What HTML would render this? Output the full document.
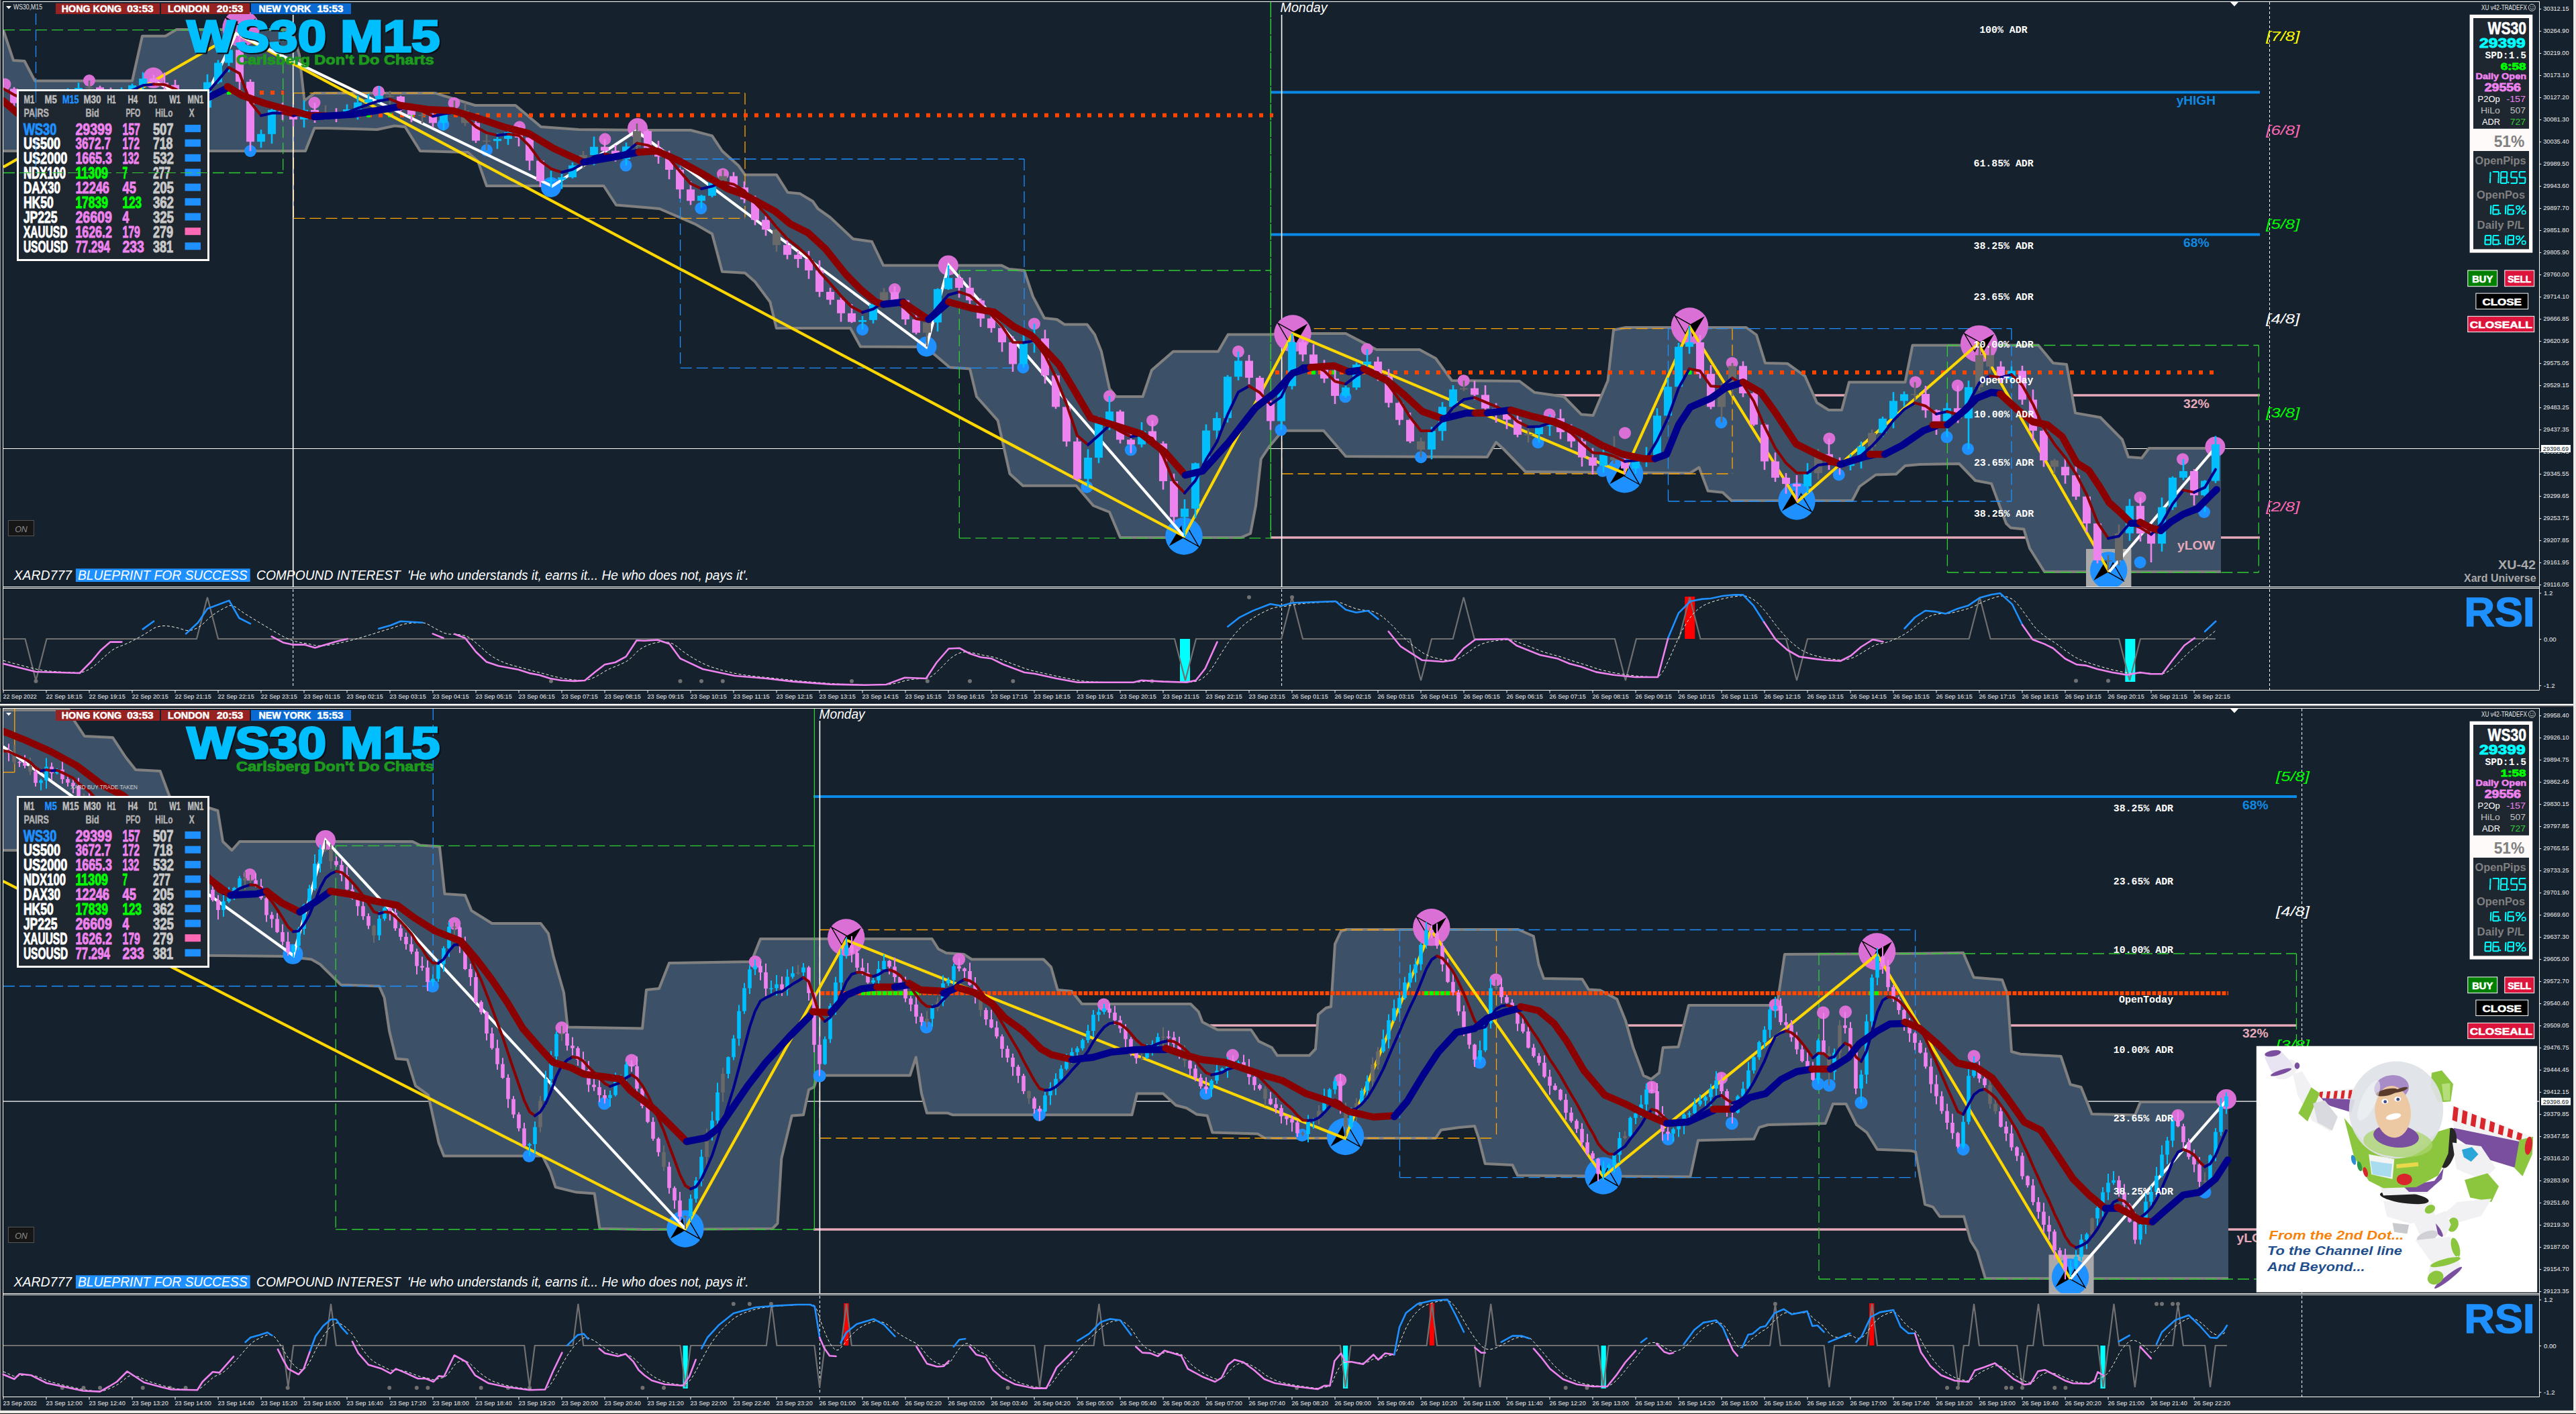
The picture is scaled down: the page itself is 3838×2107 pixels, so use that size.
<!DOCTYPE html>
<html><head><meta charset="utf-8"><title>WS30 M15</title>
<style>html,body{margin:0;padding:0;background:#15212d;width:3838px;height:2107px;overflow:hidden;font-family:"Liberation Sans",sans-serif}</style>
</head><body>
<svg width="3838" height="2107" viewBox="0 0 3838 2107" style="position:absolute;left:0;top:0">
<rect x="0.0" y="0.0" width="3838.0" height="2107.0" fill="#15212d"/>
<rect x="0.0" y="0.0" width="4.0" height="2107.0" fill="#0f1a26"/>
<rect x="0.0" y="0.0" width="1.3" height="2107.0" fill="#8c8c8c"/>
<rect x="0.0" y="1046.0" width="3834.0" height="9.0" fill="#111c28"/>
<rect x="0.0" y="1048.8" width="3834.0" height="2.6" fill="#ffffff"/>
<rect x="0.0" y="1051.4" width="3834.0" height="1.0" fill="#9a9a9a"/>
<rect x="0.0" y="1052.4" width="3834.0" height="1.0" fill="#4a4a4a"/>
<rect x="3834.0" y="0.0" width="4.0" height="2107.0" fill="#e6e4de"/>
<rect x="3835.3" y="0.0" width="1.2" height="2107.0" fill="#f6f5f2"/>
<rect x="0.0" y="2101.7" width="3838.0" height="4.3" fill="#e6e4de"/>
<rect x="0.0" y="2103.0" width="3836.0" height="1.2" fill="#f6f5f2"/>
<rect x="0.0" y="2106.0" width="3838.0" height="1.0" fill="#151515"/>
<defs><clipPath id="ct"><rect x="5" y="3" width="3778" height="871"/></clipPath><clipPath id="cb"><rect x="5" y="1056" width="3778" height="871"/></clipPath></defs>
<g id="top" clip-path="url(#ct)">
<line x1="5.0" y1="668.5" x2="3783.0" y2="668.5" stroke="#fff" stroke-width="1.2"/>
<line x1="1893.0" y1="137.5" x2="3367.0" y2="137.5" stroke="#0a8ae6" stroke-width="4"/>
<line x1="1893.0" y1="349.5" x2="3367.0" y2="349.5" stroke="#0a8ae6" stroke-width="4"/>
<line x1="2287.0" y1="589.0" x2="3367.0" y2="589.0" stroke="#e6a9b9" stroke-width="3.5"/>
<line x1="1893.0" y1="801.0" x2="3367.0" y2="801.0" stroke="#e6a9b9" stroke-width="3.5"/>
<polygon points="5.0,45.0 20.0,90.0 36.5,91.0 52.0,120.5 197.0,120.5 212.0,53.7 246.5,53.7 263.0,44.0 435.0,44.0 446.0,82.0 453.5,150.0 468.5,138.7 648.0,138.7 708.0,157.0 768.0,157.0 806.0,189.0 862.0,193.0 960.0,194.0 1029.0,194.0 1061.0,202.4 1076.0,225.0 1100.5,247.0 1110.0,260.5 1157.0,260.5 1173.6,286.7 1192.0,288.6 1211.0,300.0 1218.6,311.0 1237.0,324.0 1271.0,356.0 1299.0,360.0 1316.0,395.4 1492.0,395.4 1503.5,401.0 1526.0,403.0 1539.0,442.0 1556.0,474.0 1574.7,476.0 1586.0,483.5 1619.7,483.5 1631.0,498.5 1641.0,523.8 1653.0,579.0 1663.0,591.0 1702.6,591.0 1716.0,551.5 1748.0,523.8 1815.0,523.8 1829.6,498.5 1893.0,498.5 1908.8,497.0 2005.0,497.0 2051.0,521.0 2115.0,521.0 2139.0,534.0 2163.0,567.0 2264.0,568.0 2286.0,584.7 2330.0,591.0 2356.0,617.6 2373.6,619.0 2395.6,567.0 2404.0,491.7 2422.0,488.0 2601.7,488.0 2617.0,499.0 2630.0,541.0 2663.0,541.7 2689.4,560.6 2707.0,600.0 2724.5,611.0 2744.0,611.0 2755.0,569.4 2838.5,569.4 2849.5,514.5 2860.0,514.5 3037.0,514.5 3059.0,541.0 3079.0,543.0 3092.0,615.4 3129.4,622.0 3162.0,655.0 3171.0,681.0 3191.0,682.5 3201.7,668.0 3309.0,668.0 3309.0,852.0 3309.0,852.0 3046.0,852.0 3024.0,817.0 3015.4,788.6 2995.6,786.4 2989.0,780.0 2967.0,720.6 2943.0,716.0 2919.0,691.0 2860.0,692.0 2838.5,694.0 2825.0,706.6 2794.7,707.5 2770.5,725.0 2759.6,746.0 2579.8,746.0 2566.6,733.8 2544.7,731.6 2531.5,696.5 2518.0,705.0 2272.8,703.0 2240.0,669.0 2229.0,659.0 2215.8,681.0 2005.0,680.0 1972.0,641.7 1911.0,641.7 1890.7,666.0 1878.8,684.0 1871.0,753.5 1863.0,795.0 1849.0,801.0 1669.0,801.0 1653.0,763.0 1629.0,753.5 1603.5,723.8 1524.0,723.8 1504.5,706.0 1486.7,626.7 1455.0,591.0 1445.0,549.5 1415.0,547.5 1391.7,527.7 1380.0,517.0 1282.0,516.5 1267.0,489.0 1156.8,489.0 1147.4,450.0 1125.0,420.0 1110.0,406.7 1076.0,404.8 1061.0,348.6 1035.0,333.6 982.5,311.0 960.0,309.0 918.0,305.5 899.5,277.0 725.0,277.0 712.0,240.0 697.0,227.0 626.0,225.0 603.5,189.0 588.0,187.5 562.0,193.0 487.0,191.0 468.5,191.0 455.0,225.0 5.0,225.0" fill="#3c5167"/>
<polyline points="5.0,45.0 20.0,90.0 36.5,91.0 52.0,120.5 197.0,120.5 212.0,53.7 246.5,53.7 263.0,44.0 435.0,44.0 446.0,82.0 453.5,150.0 468.5,138.7 648.0,138.7 708.0,157.0 768.0,157.0 806.0,189.0 862.0,193.0 960.0,194.0 1029.0,194.0 1061.0,202.4 1076.0,225.0 1100.5,247.0 1110.0,260.5 1157.0,260.5 1173.6,286.7 1192.0,288.6 1211.0,300.0 1218.6,311.0 1237.0,324.0 1271.0,356.0 1299.0,360.0 1316.0,395.4 1492.0,395.4 1503.5,401.0 1526.0,403.0 1539.0,442.0 1556.0,474.0 1574.7,476.0 1586.0,483.5 1619.7,483.5 1631.0,498.5 1641.0,523.8 1653.0,579.0 1663.0,591.0 1702.6,591.0 1716.0,551.5 1748.0,523.8 1815.0,523.8 1829.6,498.5 1893.0,498.5 1908.8,497.0 2005.0,497.0 2051.0,521.0 2115.0,521.0 2139.0,534.0 2163.0,567.0 2264.0,568.0 2286.0,584.7 2330.0,591.0 2356.0,617.6 2373.6,619.0 2395.6,567.0 2404.0,491.7 2422.0,488.0 2601.7,488.0 2617.0,499.0 2630.0,541.0 2663.0,541.7 2689.4,560.6 2707.0,600.0 2724.5,611.0 2744.0,611.0 2755.0,569.4 2838.5,569.4 2849.5,514.5 2860.0,514.5 3037.0,514.5 3059.0,541.0 3079.0,543.0 3092.0,615.4 3129.4,622.0 3162.0,655.0 3171.0,681.0 3191.0,682.5 3201.7,668.0 3309.0,668.0" fill="none" stroke="#808080" stroke-width="4" stroke-linejoin="round"/>
<polyline points="5.0,225.0 455.0,225.0 468.5,191.0 487.0,191.0 562.0,193.0 588.0,187.5 603.5,189.0 626.0,225.0 697.0,227.0 712.0,240.0 725.0,277.0 899.5,277.0 918.0,305.5 960.0,309.0 982.5,311.0 1035.0,333.6 1061.0,348.6 1076.0,404.8 1110.0,406.7 1125.0,420.0 1147.4,450.0 1156.8,489.0 1267.0,489.0 1282.0,516.5 1380.0,517.0 1391.7,527.7 1415.0,547.5 1445.0,549.5 1455.0,591.0 1486.7,626.7 1504.5,706.0 1524.0,723.8 1603.5,723.8 1629.0,753.5 1653.0,763.0 1669.0,801.0 1849.0,801.0 1863.0,795.0 1871.0,753.5 1878.8,684.0 1890.7,666.0 1911.0,641.7 1972.0,641.7 2005.0,680.0 2215.8,681.0 2229.0,659.0 2240.0,669.0 2272.8,703.0 2518.0,705.0 2531.5,696.5 2544.7,731.6 2566.6,733.8 2579.8,746.0 2759.6,746.0 2770.5,725.0 2794.7,707.5 2825.0,706.6 2838.5,694.0 2860.0,692.0 2919.0,691.0 2943.0,716.0 2967.0,720.6 2989.0,780.0 2995.6,786.4 3015.4,788.6 3024.0,817.0 3046.0,852.0 3309.0,852.0" fill="none" stroke="#808080" stroke-width="4" stroke-linejoin="round"/>
<line x1="5.0" y1="44.6" x2="421.7" y2="44.6" stroke="#32cd32" stroke-width="1.3" stroke-dasharray="17 7"/>
<line x1="5.0" y1="257.5" x2="421.7" y2="257.5" stroke="#32cd32" stroke-width="1.3" stroke-dasharray="17 7"/>
<line x1="421.7" y1="44.6" x2="421.7" y2="257.5" stroke="#32cd32" stroke-width="1.3" stroke-dasharray="17 7"/>
<line x1="53.5" y1="20.0" x2="53.5" y2="257.5" stroke="#1e90ff" stroke-width="1.3" stroke-dasharray="17 7"/>
<line x1="437.4" y1="138.7" x2="1110.0" y2="138.7" stroke="#ffa500" stroke-width="1.3" stroke-dasharray="17 7"/>
<line x1="437.4" y1="325.3" x2="1110.0" y2="325.3" stroke="#ffa500" stroke-width="1.3" stroke-dasharray="17 7"/>
<line x1="437.4" y1="138.7" x2="437.4" y2="325.3" stroke="#ffa500" stroke-width="1.3" stroke-dasharray="17 7"/>
<line x1="1110.0" y1="138.7" x2="1110.0" y2="325.3" stroke="#ffa500" stroke-width="1.3" stroke-dasharray="17 7"/>
<line x1="1013.6" y1="237.0" x2="1526.0" y2="237.0" stroke="#1e90ff" stroke-width="1.3" stroke-dasharray="17 7"/>
<line x1="1013.6" y1="548.3" x2="1526.0" y2="548.3" stroke="#1e90ff" stroke-width="1.3" stroke-dasharray="17 7"/>
<line x1="1013.6" y1="237.0" x2="1013.6" y2="548.3" stroke="#1e90ff" stroke-width="1.3" stroke-dasharray="17 7"/>
<line x1="1526.0" y1="237.0" x2="1526.0" y2="548.3" stroke="#1e90ff" stroke-width="1.3" stroke-dasharray="17 7"/>
<line x1="1429.3" y1="403.0" x2="1893.3" y2="403.0" stroke="#32cd32" stroke-width="1.3" stroke-dasharray="17 7"/>
<line x1="1429.3" y1="801.8" x2="1893.3" y2="801.8" stroke="#32cd32" stroke-width="1.3" stroke-dasharray="17 7"/>
<line x1="1429.3" y1="403.0" x2="1429.3" y2="801.8" stroke="#32cd32" stroke-width="1.3" stroke-dasharray="17 7"/>
<line x1="1893.3" y1="2.0" x2="1893.3" y2="801.8" stroke="#32cd32" stroke-width="1.5" stroke-dasharray="24 1.5"/>
<line x1="1909.6" y1="489.6" x2="2581.0" y2="489.6" stroke="#ffa500" stroke-width="1.3" stroke-dasharray="17 7"/>
<line x1="1909.6" y1="706.0" x2="2581.0" y2="706.0" stroke="#ffa500" stroke-width="1.3" stroke-dasharray="17 7"/>
<line x1="1909.6" y1="489.6" x2="1909.6" y2="706.0" stroke="#ffa500" stroke-width="1.3" stroke-dasharray="17 7"/>
<line x1="2581.0" y1="489.6" x2="2581.0" y2="706.0" stroke="#ffa500" stroke-width="1.3" stroke-dasharray="17 7"/>
<line x1="2485.5" y1="489.6" x2="2997.0" y2="489.6" stroke="#1e90ff" stroke-width="1.3" stroke-dasharray="17 7"/>
<line x1="2485.5" y1="747.0" x2="2997.0" y2="747.0" stroke="#1e90ff" stroke-width="1.3" stroke-dasharray="17 7"/>
<line x1="2485.5" y1="489.6" x2="2485.5" y2="747.0" stroke="#1e90ff" stroke-width="1.3" stroke-dasharray="17 7"/>
<line x1="2997.0" y1="489.6" x2="2997.0" y2="747.0" stroke="#1e90ff" stroke-width="1.3" stroke-dasharray="17 7"/>
<line x1="2901.4" y1="514.5" x2="3365.3" y2="514.5" stroke="#32cd32" stroke-width="1.3" stroke-dasharray="17 7"/>
<line x1="2901.4" y1="853.0" x2="3365.3" y2="853.0" stroke="#32cd32" stroke-width="1.3" stroke-dasharray="17 7"/>
<line x1="2901.4" y1="514.5" x2="2901.4" y2="853.0" stroke="#32cd32" stroke-width="1.3" stroke-dasharray="17 7"/>
<line x1="3365.3" y1="514.5" x2="3365.3" y2="853.0" stroke="#32cd32" stroke-width="1.3" stroke-dasharray="17 7"/>
<line x1="19.0" y1="138.0" x2="423.0" y2="138.0" stroke="#ff4500" stroke-width="6" stroke-dasharray="6 10"/>
<line x1="468.0" y1="171.7" x2="1897.0" y2="171.7" stroke="#ff4500" stroke-width="6" stroke-dasharray="6 10"/>
<line x1="1900.0" y1="555.0" x2="3305.0" y2="555.0" stroke="#ff4500" stroke-width="6" stroke-dasharray="6 10"/>
<rect x="450.5" y="168.7" width="6.0" height="6.0" fill="#00ff00"/>
<rect x="482.4" y="168.7" width="6.0" height="6.0" fill="#00ff00"/>
<rect x="514.2" y="168.7" width="6.0" height="6.0" fill="#00ff00"/>
<rect x="546.0" y="168.7" width="6.0" height="6.0" fill="#00ff00"/>
<rect x="578.0" y="168.7" width="6.0" height="6.0" fill="#00ff00"/>
<rect x="609.8" y="168.7" width="6.0" height="6.0" fill="#00ff00"/>
<rect x="690.4" y="168.7" width="6.0" height="6.0" fill="#00ff00"/>
<rect x="338.0" y="135.0" width="6.0" height="6.0" fill="#00ff00"/>
<rect x="1954.0" y="552.0" width="6.0" height="6.0" fill="#00ff00"/>
<rect x="1969.4" y="552.0" width="6.0" height="6.0" fill="#00ff00"/>
<rect x="1984.7" y="552.0" width="6.0" height="6.0" fill="#00ff00"/>
<rect x="2514.5" y="552.0" width="6.0" height="6.0" fill="#00ff00"/>
<line x1="436.7" y1="22.0" x2="436.7" y2="874.0" stroke="#fff" stroke-width="1.6"/>
<line x1="1909.6" y1="22.0" x2="1909.6" y2="874.0" stroke="#fff" stroke-width="1.6"/>
<circle cx="359.0" cy="42.0" r="27.7" fill="#da70d6"/>
<path d="M337.0,26.7 L359.6,39.4 L352.6,53.4 Z" fill="none" stroke="#000" stroke-width="1.4" stroke-linejoin="miter"/>
<path d="M381.3,27.3 L359.6,39.4 L362.8,58.2 Z" fill="#000"/>
<circle cx="1926.0" cy="497.0" r="27.7" fill="#da70d6"/>
<path d="M1904.0,481.7 L1926.6,494.4 L1919.6,508.4 Z" fill="none" stroke="#000" stroke-width="1.4" stroke-linejoin="miter"/>
<path d="M1948.3,482.3 L1926.6,494.4 L1929.8,513.2 Z" fill="#000"/>
<circle cx="2517.5" cy="486.0" r="27.7" fill="#da70d6"/>
<path d="M2495.5,470.7 L2518.1,483.4 L2511.1,497.4 Z" fill="none" stroke="#000" stroke-width="1.4" stroke-linejoin="miter"/>
<path d="M2539.8,471.3 L2518.1,483.4 L2521.3,502.2 Z" fill="#000"/>
<circle cx="2948.7" cy="512.4" r="27.7" fill="#da70d6"/>
<path d="M2926.7,497.1 L2949.3,509.8 L2942.3,523.8 Z" fill="none" stroke="#000" stroke-width="1.4" stroke-linejoin="miter"/>
<path d="M2971.0,497.7 L2949.3,509.8 L2952.5,528.6 Z" fill="#000"/>
<rect x="3108.0" y="818.0" width="67.4" height="56.0" fill="#a9a9a9"/>
<circle cx="1764.0" cy="799.0" r="27.7" fill="#1e90ff"/>
<path d="M1786.0,814.3 L1763.4,801.6 L1770.4,787.6 Z" fill="none" stroke="#000" stroke-width="1.4" stroke-linejoin="miter"/>
<path d="M1741.7,813.7 L1763.4,801.6 L1760.2,782.8 Z" fill="#000"/>
<circle cx="2420.6" cy="706.7" r="27.7" fill="#1e90ff"/>
<path d="M2442.6,722.0 L2420.0,709.3 L2427.0,695.3 Z" fill="none" stroke="#000" stroke-width="1.4" stroke-linejoin="miter"/>
<path d="M2398.3,721.4 L2420.0,709.3 L2416.8,690.5 Z" fill="#000"/>
<circle cx="2677.0" cy="747.0" r="27.7" fill="#1e90ff"/>
<path d="M2699.0,762.3 L2676.4,749.6 L2683.4,735.6 Z" fill="none" stroke="#000" stroke-width="1.4" stroke-linejoin="miter"/>
<path d="M2654.7,761.7 L2676.4,749.6 L2673.2,730.8 Z" fill="#000"/>
<circle cx="3141.7" cy="850.0" r="27.7" fill="#1e90ff"/>
<path d="M3163.7,865.3 L3141.1,852.6 L3148.1,838.6 Z" fill="none" stroke="#000" stroke-width="1.4" stroke-linejoin="miter"/>
<path d="M3119.4,864.7 L3141.1,852.6 L3137.9,833.8 Z" fill="#000"/>
<circle cx="7.5" cy="125.6" r="9.0" fill="#da70d6"/>
<circle cx="133.0" cy="120.0" r="9.0" fill="#da70d6"/>
<circle cx="228.6" cy="116.0" r="15.5" fill="#da70d6"/>
<circle cx="373.0" cy="225.0" r="9.0" fill="#1e90ff"/>
<circle cx="468.5" cy="153.0" r="9.0" fill="#da70d6"/>
<circle cx="564.0" cy="136.8" r="9.0" fill="#da70d6"/>
<circle cx="660.4" cy="185.5" r="9.0" fill="#1e90ff"/>
<circle cx="676.5" cy="153.7" r="9.0" fill="#da70d6"/>
<circle cx="725.0" cy="223.8" r="9.0" fill="#1e90ff"/>
<circle cx="774.0" cy="189.3" r="9.0" fill="#da70d6"/>
<circle cx="821.0" cy="279.0" r="15.0" fill="#1e90ff"/>
<circle cx="901.4" cy="207.3" r="9.0" fill="#da70d6"/>
<circle cx="932.5" cy="246.6" r="9.0" fill="#1e90ff"/>
<circle cx="950.0" cy="191.0" r="15.0" fill="#da70d6"/>
<circle cx="1044.3" cy="310.3" r="9.0" fill="#1e90ff"/>
<circle cx="1077.0" cy="259.4" r="9.0" fill="#da70d6"/>
<circle cx="1285.0" cy="491.0" r="9.0" fill="#1e90ff"/>
<circle cx="1333.0" cy="431.0" r="9.0" fill="#da70d6"/>
<circle cx="1380.5" cy="516.5" r="15.0" fill="#1e90ff"/>
<circle cx="1412.8" cy="395.4" r="15.0" fill="#da70d6"/>
<circle cx="1524.4" cy="547.5" r="9.0" fill="#1e90ff"/>
<circle cx="1541.0" cy="482.4" r="9.0" fill="#da70d6"/>
<circle cx="1619.4" cy="725.7" r="9.0" fill="#1e90ff"/>
<circle cx="1653.0" cy="590.3" r="9.0" fill="#da70d6"/>
<circle cx="1684.8" cy="670.3" r="9.0" fill="#1e90ff"/>
<circle cx="1717.0" cy="626.7" r="9.0" fill="#da70d6"/>
<circle cx="1845.0" cy="523.8" r="9.0" fill="#da70d6"/>
<circle cx="1908.5" cy="640.6" r="9.0" fill="#1e90ff"/>
<circle cx="2004.4" cy="591.3" r="9.0" fill="#1e90ff"/>
<circle cx="2036.8" cy="520.3" r="9.0" fill="#da70d6"/>
<circle cx="2117.0" cy="681.2" r="9.0" fill="#1e90ff"/>
<circle cx="2180.7" cy="567.2" r="9.0" fill="#da70d6"/>
<circle cx="2291.6" cy="659.3" r="9.0" fill="#1e90ff"/>
<circle cx="2308.7" cy="617.6" r="9.0" fill="#da70d6"/>
<circle cx="2387.7" cy="701.8" r="9.0" fill="#1e90ff"/>
<circle cx="2564.4" cy="629.5" r="9.0" fill="#1e90ff"/>
<circle cx="2580.6" cy="540.9" r="9.0" fill="#da70d6"/>
<circle cx="2725.4" cy="653.6" r="9.0" fill="#da70d6"/>
<circle cx="2739.8" cy="707.5" r="9.0" fill="#1e90ff"/>
<circle cx="2853.9" cy="569.4" r="9.0" fill="#da70d6"/>
<circle cx="2900.5" cy="651.3" r="9.0" fill="#1e90ff"/>
<circle cx="2916.7" cy="574.6" r="9.0" fill="#da70d6"/>
<circle cx="2932.0" cy="668.9" r="9.0" fill="#1e90ff"/>
<circle cx="3188.6" cy="741.2" r="9.0" fill="#da70d6"/>
<circle cx="3252.0" cy="684.2" r="9.0" fill="#da70d6"/>
<circle cx="3284.0" cy="763.0" r="9.0" fill="#1e90ff"/>
<circle cx="3300.4" cy="665.8" r="15.0" fill="#da70d6"/>
<circle cx="2421.0" cy="645.2" r="9.0" fill="#da70d6"/>
<circle cx="3188.6" cy="838.0" r="9.0" fill="#1e90ff"/>
<polyline points="5.0,249.0 352.0,50.0 1764.0,799.0 1926.0,497.0 2419.7,705.0 2518.0,488.0 2678.5,747.0 2947.4,512.0 3142.5,852.0" fill="none" stroke="#ffd700" stroke-width="4.2" stroke-linejoin="miter"/>
<polyline points="232.0,122.0 300.0,158.0 352.0,50.0 822.7,277.4 948.0,195.0 1380.0,517.0 1413.5,395.4 1764.0,799.0" fill="none" stroke="#fff" stroke-width="4.2"/>
<polyline points="3142.5,852.0 3300.0,668.0" fill="none" stroke="#fff" stroke-width="4.2"/>
<rect x="19.7" y="129.8" width="2.6" height="38.9" fill="#ee82ee"/>
<rect x="15.0" y="132.3" width="12" height="21.4" fill="#ee82ee"/>
<rect x="35.7" y="147.9" width="2.6" height="14.8" fill="#ee82ee"/>
<rect x="31.0" y="153.7" width="12" height="3.1" fill="#ee82ee"/>
<rect x="51.7" y="144.4" width="2.6" height="37.6" fill="#696969"/>
<rect x="47.0" y="156.8" width="12" height="23.9" fill="#696969"/>
<rect x="67.7" y="149.7" width="2.6" height="40.4" fill="#00bfff"/>
<rect x="63.0" y="161.1" width="12" height="19.6" fill="#00bfff"/>
<rect x="83.7" y="133.1" width="2.6" height="31.2" fill="#00bfff"/>
<rect x="79.0" y="142.3" width="12" height="18.9" fill="#00bfff"/>
<rect x="99.7" y="131.5" width="2.6" height="25.7" fill="#00bfff"/>
<rect x="95.0" y="138.9" width="12" height="3.4" fill="#00bfff"/>
<rect x="115.7" y="123.3" width="2.6" height="22.7" fill="#00bfff"/>
<rect x="111.0" y="131.0" width="12" height="7.9" fill="#00bfff"/>
<rect x="131.7" y="120.0" width="2.6" height="24.0" fill="#696969"/>
<rect x="127.0" y="130.2" width="12" height="1.5" fill="#696969"/>
<rect x="147.7" y="127.7" width="2.6" height="15.2" fill="#ee82ee"/>
<rect x="143.0" y="130.2" width="12" height="7.3" fill="#ee82ee"/>
<rect x="163.7" y="130.5" width="2.6" height="18.2" fill="#ee82ee"/>
<rect x="159.0" y="137.5" width="12" height="9.9" fill="#ee82ee"/>
<rect x="179.7" y="130.2" width="2.6" height="24.1" fill="#00bfff"/>
<rect x="175.0" y="138.1" width="12" height="9.3" fill="#00bfff"/>
<rect x="195.7" y="124.6" width="2.6" height="18.4" fill="#00bfff"/>
<rect x="191.0" y="127.2" width="12" height="10.9" fill="#00bfff"/>
<rect x="211.7" y="107.6" width="2.6" height="29.2" fill="#00bfff"/>
<rect x="207.0" y="117.1" width="12" height="10.1" fill="#00bfff"/>
<rect x="227.7" y="111.4" width="2.6" height="13.1" fill="#ee82ee"/>
<rect x="223.0" y="117.1" width="12" height="6.2" fill="#ee82ee"/>
<rect x="243.7" y="108.3" width="2.6" height="26.5" fill="#ee82ee"/>
<rect x="239.0" y="123.3" width="12" height="3.4" fill="#ee82ee"/>
<rect x="259.7" y="118.9" width="2.6" height="31.1" fill="#ee82ee"/>
<rect x="255.0" y="126.7" width="12" height="14.6" fill="#ee82ee"/>
<rect x="275.7" y="138.6" width="2.6" height="19.2" fill="#ee82ee"/>
<rect x="271.0" y="141.3" width="12" height="11.7" fill="#ee82ee"/>
<rect x="291.7" y="152.0" width="2.6" height="17.4" fill="#ee82ee"/>
<rect x="287.0" y="153.0" width="12" height="7.5" fill="#ee82ee"/>
<rect x="307.7" y="110.7" width="2.6" height="64.0" fill="#00bfff"/>
<rect x="303.0" y="122.5" width="12" height="38.0" fill="#00bfff"/>
<rect x="323.7" y="89.4" width="2.6" height="35.3" fill="#00bfff"/>
<rect x="319.0" y="93.6" width="12" height="28.9" fill="#00bfff"/>
<rect x="339.7" y="59.9" width="2.6" height="47.6" fill="#00bfff"/>
<rect x="335.0" y="74.4" width="12" height="19.2" fill="#00bfff"/>
<rect x="355.7" y="48.0" width="2.6" height="85.9" fill="#ee82ee"/>
<rect x="351.0" y="74.4" width="12" height="47.4" fill="#ee82ee"/>
<rect x="371.7" y="118.2" width="2.6" height="106.8" fill="#ee82ee"/>
<rect x="367.0" y="121.9" width="12" height="89.3" fill="#ee82ee"/>
<rect x="387.7" y="193.2" width="2.6" height="26.9" fill="#00bfff"/>
<rect x="383.0" y="199.7" width="12" height="11.5" fill="#00bfff"/>
<rect x="403.7" y="158.8" width="2.6" height="55.2" fill="#00bfff"/>
<rect x="399.0" y="163.8" width="12" height="36.0" fill="#00bfff"/>
<rect x="419.7" y="153.0" width="2.6" height="25.9" fill="#ee82ee"/>
<rect x="415.0" y="163.8" width="12" height="4.5" fill="#ee82ee"/>
<rect x="435.7" y="166.1" width="2.6" height="22.4" fill="#ee82ee"/>
<rect x="431.0" y="168.3" width="12" height="9.7" fill="#ee82ee"/>
<rect x="451.7" y="149.9" width="2.6" height="40.1" fill="#00bfff"/>
<rect x="447.0" y="163.8" width="12" height="14.2" fill="#00bfff"/>
<rect x="467.7" y="153.0" width="2.6" height="30.0" fill="#ee82ee"/>
<rect x="463.0" y="163.8" width="12" height="5.0" fill="#ee82ee"/>
<rect x="483.7" y="156.9" width="2.6" height="22.1" fill="#696969"/>
<rect x="479.0" y="168.8" width="12" height="1.6" fill="#696969"/>
<rect x="499.7" y="161.2" width="2.6" height="20.8" fill="#ee82ee"/>
<rect x="495.0" y="170.4" width="12" height="2.2" fill="#ee82ee"/>
<rect x="515.7" y="155.5" width="2.6" height="19.0" fill="#00bfff"/>
<rect x="511.0" y="163.0" width="12" height="9.7" fill="#00bfff"/>
<rect x="531.7" y="142.3" width="2.6" height="35.8" fill="#00bfff"/>
<rect x="527.0" y="152.6" width="12" height="10.4" fill="#00bfff"/>
<rect x="547.7" y="139.9" width="2.6" height="17.1" fill="#00bfff"/>
<rect x="543.0" y="148.0" width="12" height="4.7" fill="#00bfff"/>
<rect x="563.7" y="128.2" width="2.6" height="25.5" fill="#00bfff"/>
<rect x="559.0" y="142.7" width="12" height="5.2" fill="#00bfff"/>
<rect x="579.7" y="135.7" width="2.6" height="19.8" fill="#696969"/>
<rect x="575.0" y="142.7" width="12" height="1.5" fill="#696969"/>
<rect x="595.7" y="142.7" width="2.6" height="23.5" fill="#ee82ee"/>
<rect x="591.0" y="143.9" width="12" height="19.4" fill="#ee82ee"/>
<rect x="611.7" y="156.5" width="2.6" height="25.5" fill="#ee82ee"/>
<rect x="607.0" y="163.3" width="12" height="7.8" fill="#ee82ee"/>
<rect x="627.7" y="162.0" width="2.6" height="22.0" fill="#696969"/>
<rect x="623.0" y="171.1" width="12" height="1.5" fill="#696969"/>
<rect x="643.7" y="161.0" width="2.6" height="28.5" fill="#ee82ee"/>
<rect x="639.0" y="171.9" width="12" height="11.4" fill="#ee82ee"/>
<rect x="659.7" y="159.6" width="2.6" height="34.8" fill="#00bfff"/>
<rect x="655.0" y="164.9" width="12" height="18.4" fill="#00bfff"/>
<rect x="675.7" y="149.7" width="2.6" height="18.8" fill="#696969"/>
<rect x="671.0" y="164.7" width="12" height="1.5" fill="#696969"/>
<rect x="691.7" y="153.0" width="2.6" height="34.6" fill="#696969"/>
<rect x="687.0" y="164.7" width="12" height="18.6" fill="#696969"/>
<rect x="707.7" y="174.2" width="2.6" height="38.8" fill="#ee82ee"/>
<rect x="703.0" y="183.3" width="12" height="26.3" fill="#ee82ee"/>
<rect x="723.7" y="196.3" width="2.6" height="27.5" fill="#696969"/>
<rect x="719.0" y="209.6" width="12" height="1.5" fill="#696969"/>
<rect x="739.7" y="198.4" width="2.6" height="23.4" fill="#00bfff"/>
<rect x="735.0" y="206.9" width="12" height="3.3" fill="#00bfff"/>
<rect x="755.7" y="187.7" width="2.6" height="28.1" fill="#00bfff"/>
<rect x="751.0" y="197.0" width="12" height="9.9" fill="#00bfff"/>
<rect x="771.7" y="187.3" width="2.6" height="30.8" fill="#ee82ee"/>
<rect x="767.0" y="197.0" width="12" height="8.0" fill="#ee82ee"/>
<rect x="787.7" y="200.3" width="2.6" height="53.6" fill="#ee82ee"/>
<rect x="783.0" y="205.0" width="12" height="34.4" fill="#ee82ee"/>
<rect x="803.7" y="237.0" width="2.6" height="41.6" fill="#ee82ee"/>
<rect x="799.0" y="239.4" width="12" height="30.4" fill="#ee82ee"/>
<rect x="819.7" y="254.3" width="2.6" height="24.7" fill="#00bfff"/>
<rect x="815.0" y="267.8" width="12" height="2.0" fill="#00bfff"/>
<rect x="835.7" y="255.3" width="2.6" height="26.2" fill="#00bfff"/>
<rect x="831.0" y="264.3" width="12" height="3.6" fill="#00bfff"/>
<rect x="851.7" y="242.1" width="2.6" height="23.8" fill="#00bfff"/>
<rect x="847.0" y="246.5" width="12" height="17.7" fill="#00bfff"/>
<rect x="867.7" y="225.1" width="2.6" height="26.1" fill="#696969"/>
<rect x="863.0" y="231.0" width="12" height="15.6" fill="#696969"/>
<rect x="883.7" y="203.6" width="2.6" height="42.6" fill="#00bfff"/>
<rect x="879.0" y="218.8" width="12" height="12.2" fill="#00bfff"/>
<rect x="899.7" y="207.3" width="2.6" height="32.5" fill="#ee82ee"/>
<rect x="895.0" y="218.8" width="12" height="5.8" fill="#ee82ee"/>
<rect x="915.7" y="216.3" width="2.6" height="24.4" fill="#ee82ee"/>
<rect x="911.0" y="224.6" width="12" height="12.7" fill="#ee82ee"/>
<rect x="931.7" y="212.5" width="2.6" height="34.1" fill="#00bfff"/>
<rect x="927.0" y="218.4" width="12" height="18.9" fill="#00bfff"/>
<rect x="947.7" y="184.0" width="2.6" height="47.9" fill="#696969"/>
<rect x="943.0" y="195.2" width="12" height="23.2" fill="#696969"/>
<rect x="963.7" y="192.9" width="2.6" height="34.3" fill="#ee82ee"/>
<rect x="959.0" y="195.2" width="12" height="25.1" fill="#ee82ee"/>
<rect x="979.7" y="209.8" width="2.6" height="34.1" fill="#ee82ee"/>
<rect x="975.0" y="220.3" width="12" height="13.1" fill="#ee82ee"/>
<rect x="995.7" y="224.6" width="2.6" height="42.5" fill="#ee82ee"/>
<rect x="991.0" y="233.5" width="12" height="19.5" fill="#ee82ee"/>
<rect x="1011.7" y="250.0" width="2.6" height="45.9" fill="#ee82ee"/>
<rect x="1007.0" y="252.9" width="12" height="29.4" fill="#ee82ee"/>
<rect x="1027.7" y="270.0" width="2.6" height="35.4" fill="#ee82ee"/>
<rect x="1023.0" y="282.3" width="12" height="17.0" fill="#ee82ee"/>
<rect x="1043.7" y="290.3" width="2.6" height="20.0" fill="#00bfff"/>
<rect x="1039.0" y="291.6" width="12" height="7.7" fill="#00bfff"/>
<rect x="1059.7" y="262.5" width="2.6" height="31.6" fill="#00bfff"/>
<rect x="1055.0" y="272.5" width="12" height="19.2" fill="#00bfff"/>
<rect x="1075.7" y="253.3" width="2.6" height="22.5" fill="#696969"/>
<rect x="1071.0" y="262.5" width="12" height="10.0" fill="#696969"/>
<rect x="1091.7" y="256.5" width="2.6" height="29.0" fill="#ee82ee"/>
<rect x="1087.0" y="262.5" width="12" height="16.8" fill="#ee82ee"/>
<rect x="1107.7" y="270.3" width="2.6" height="32.3" fill="#ee82ee"/>
<rect x="1103.0" y="279.3" width="12" height="17.8" fill="#ee82ee"/>
<rect x="1123.7" y="291.6" width="2.6" height="43.8" fill="#ee82ee"/>
<rect x="1119.0" y="297.1" width="12" height="30.5" fill="#ee82ee"/>
<rect x="1139.7" y="321.7" width="2.6" height="29.6" fill="#ee82ee"/>
<rect x="1135.0" y="327.6" width="12" height="14.6" fill="#ee82ee"/>
<rect x="1155.7" y="335.5" width="2.6" height="39.7" fill="#696969"/>
<rect x="1151.0" y="342.2" width="12" height="23.0" fill="#696969"/>
<rect x="1171.7" y="353.8" width="2.6" height="32.6" fill="#ee82ee"/>
<rect x="1167.0" y="365.2" width="12" height="14.5" fill="#ee82ee"/>
<rect x="1187.7" y="373.9" width="2.6" height="25.2" fill="#ee82ee"/>
<rect x="1183.0" y="379.7" width="12" height="6.2" fill="#ee82ee"/>
<rect x="1203.7" y="374.0" width="2.6" height="41.6" fill="#ee82ee"/>
<rect x="1199.0" y="385.8" width="12" height="17.1" fill="#ee82ee"/>
<rect x="1219.7" y="388.1" width="2.6" height="54.4" fill="#ee82ee"/>
<rect x="1215.0" y="402.9" width="12" height="32.0" fill="#ee82ee"/>
<rect x="1235.7" y="428.8" width="2.6" height="25.3" fill="#ee82ee"/>
<rect x="1231.0" y="434.9" width="12" height="11.8" fill="#ee82ee"/>
<rect x="1251.7" y="442.0" width="2.6" height="37.5" fill="#ee82ee"/>
<rect x="1247.0" y="446.7" width="12" height="20.1" fill="#ee82ee"/>
<rect x="1267.7" y="453.0" width="2.6" height="28.2" fill="#ee82ee"/>
<rect x="1263.0" y="466.8" width="12" height="12.9" fill="#ee82ee"/>
<rect x="1283.7" y="470.9" width="2.6" height="20.1" fill="#00bfff"/>
<rect x="1279.0" y="477.0" width="12" height="2.7" fill="#00bfff"/>
<rect x="1299.7" y="445.1" width="2.6" height="36.9" fill="#00bfff"/>
<rect x="1295.0" y="453.6" width="12" height="23.3" fill="#00bfff"/>
<rect x="1315.7" y="429.3" width="2.6" height="26.6" fill="#696969"/>
<rect x="1311.0" y="435.3" width="12" height="18.3" fill="#696969"/>
<rect x="1331.7" y="426.7" width="2.6" height="22.8" fill="#ee82ee"/>
<rect x="1327.0" y="435.3" width="12" height="12.1" fill="#ee82ee"/>
<rect x="1347.7" y="445.9" width="2.6" height="38.1" fill="#ee82ee"/>
<rect x="1343.0" y="447.4" width="12" height="28.5" fill="#ee82ee"/>
<rect x="1363.7" y="468.7" width="2.6" height="29.6" fill="#ee82ee"/>
<rect x="1359.0" y="475.9" width="12" height="19.8" fill="#ee82ee"/>
<rect x="1379.7" y="472.6" width="2.6" height="43.9" fill="#696969"/>
<rect x="1375.0" y="480.5" width="12" height="15.2" fill="#696969"/>
<rect x="1395.7" y="429.5" width="2.6" height="64.4" fill="#00bfff"/>
<rect x="1391.0" y="430.8" width="12" height="49.7" fill="#00bfff"/>
<rect x="1411.7" y="395.4" width="2.6" height="36.5" fill="#00bfff"/>
<rect x="1407.0" y="414.2" width="12" height="16.6" fill="#00bfff"/>
<rect x="1427.7" y="409.2" width="2.6" height="34.1" fill="#ee82ee"/>
<rect x="1423.0" y="414.2" width="12" height="14.7" fill="#ee82ee"/>
<rect x="1443.7" y="413.5" width="2.6" height="39.6" fill="#ee82ee"/>
<rect x="1439.0" y="428.8" width="12" height="18.7" fill="#ee82ee"/>
<rect x="1459.7" y="444.6" width="2.6" height="42.5" fill="#ee82ee"/>
<rect x="1455.0" y="447.6" width="12" height="27.0" fill="#ee82ee"/>
<rect x="1475.7" y="471.4" width="2.6" height="24.2" fill="#ee82ee"/>
<rect x="1471.0" y="474.5" width="12" height="14.4" fill="#ee82ee"/>
<rect x="1491.7" y="485.9" width="2.6" height="38.4" fill="#ee82ee"/>
<rect x="1487.0" y="488.9" width="12" height="21.2" fill="#ee82ee"/>
<rect x="1507.7" y="501.0" width="2.6" height="53.0" fill="#ee82ee"/>
<rect x="1503.0" y="510.1" width="12" height="32.4" fill="#ee82ee"/>
<rect x="1523.7" y="496.5" width="2.6" height="51.0" fill="#00bfff"/>
<rect x="1519.0" y="511.4" width="12" height="31.1" fill="#00bfff"/>
<rect x="1539.7" y="482.4" width="2.6" height="43.1" fill="#00bfff"/>
<rect x="1535.0" y="504.3" width="12" height="7.0" fill="#00bfff"/>
<rect x="1555.7" y="491.4" width="2.6" height="80.2" fill="#ee82ee"/>
<rect x="1551.0" y="504.3" width="12" height="55.1" fill="#ee82ee"/>
<rect x="1571.7" y="557.3" width="2.6" height="51.9" fill="#ee82ee"/>
<rect x="1567.0" y="559.4" width="12" height="46.9" fill="#ee82ee"/>
<rect x="1587.7" y="594.2" width="2.6" height="71.2" fill="#ee82ee"/>
<rect x="1583.0" y="606.4" width="12" height="51.5" fill="#ee82ee"/>
<rect x="1603.7" y="651.7" width="2.6" height="64.8" fill="#ee82ee"/>
<rect x="1599.0" y="657.8" width="12" height="55.8" fill="#ee82ee"/>
<rect x="1619.7" y="669.4" width="2.6" height="56.3" fill="#00bfff"/>
<rect x="1615.0" y="682.0" width="12" height="31.6" fill="#00bfff"/>
<rect x="1635.7" y="620.6" width="2.6" height="69.6" fill="#00bfff"/>
<rect x="1631.0" y="629.2" width="12" height="52.8" fill="#00bfff"/>
<rect x="1651.7" y="590.3" width="2.6" height="50.5" fill="#00bfff"/>
<rect x="1647.0" y="613.2" width="12" height="16.0" fill="#00bfff"/>
<rect x="1667.7" y="610.7" width="2.6" height="50.1" fill="#ee82ee"/>
<rect x="1663.0" y="613.2" width="12" height="42.1" fill="#ee82ee"/>
<rect x="1683.7" y="639.9" width="2.6" height="35.3" fill="#ee82ee"/>
<rect x="1679.0" y="655.2" width="12" height="7.1" fill="#ee82ee"/>
<rect x="1699.7" y="629.1" width="2.6" height="37.5" fill="#00bfff"/>
<rect x="1695.0" y="642.5" width="12" height="19.8" fill="#00bfff"/>
<rect x="1715.7" y="626.7" width="2.6" height="36.3" fill="#ee82ee"/>
<rect x="1711.0" y="642.5" width="12" height="18.3" fill="#ee82ee"/>
<rect x="1731.7" y="657.6" width="2.6" height="72.0" fill="#ee82ee"/>
<rect x="1727.0" y="660.9" width="12" height="56.1" fill="#ee82ee"/>
<rect x="1747.7" y="705.7" width="2.6" height="72.8" fill="#ee82ee"/>
<rect x="1743.0" y="717.0" width="12" height="53.4" fill="#ee82ee"/>
<rect x="1763.7" y="744.1" width="2.6" height="54.9" fill="#00bfff"/>
<rect x="1759.0" y="757.9" width="12" height="12.5" fill="#00bfff"/>
<rect x="1779.7" y="689.2" width="2.6" height="82.5" fill="#00bfff"/>
<rect x="1775.0" y="690.3" width="12" height="67.6" fill="#00bfff"/>
<rect x="1795.7" y="632.4" width="2.6" height="64.2" fill="#00bfff"/>
<rect x="1791.0" y="641.5" width="12" height="48.8" fill="#00bfff"/>
<rect x="1811.7" y="614.3" width="2.6" height="40.7" fill="#00bfff"/>
<rect x="1807.0" y="623.0" width="12" height="18.5" fill="#00bfff"/>
<rect x="1827.7" y="558.9" width="2.6" height="70.6" fill="#00bfff"/>
<rect x="1823.0" y="561.3" width="12" height="61.7" fill="#00bfff"/>
<rect x="1843.7" y="523.8" width="2.6" height="43.0" fill="#00bfff"/>
<rect x="1839.0" y="537.6" width="12" height="23.7" fill="#00bfff"/>
<rect x="1859.7" y="528.9" width="2.6" height="43.6" fill="#ee82ee"/>
<rect x="1855.0" y="537.6" width="12" height="25.3" fill="#ee82ee"/>
<rect x="1875.7" y="560.1" width="2.6" height="46.5" fill="#ee82ee"/>
<rect x="1871.0" y="562.9" width="12" height="35.5" fill="#ee82ee"/>
<rect x="1891.7" y="588.6" width="2.6" height="52.0" fill="#ee82ee"/>
<rect x="1887.0" y="598.4" width="12" height="29.0" fill="#ee82ee"/>
<rect x="1907.7" y="568.6" width="2.6" height="72.0" fill="#00bfff"/>
<rect x="1903.0" y="575.3" width="12" height="52.2" fill="#00bfff"/>
<rect x="1923.7" y="497.0" width="2.6" height="83.3" fill="#00bfff"/>
<rect x="1919.0" y="509.7" width="12" height="65.6" fill="#00bfff"/>
<rect x="1939.7" y="505.9" width="2.6" height="32.6" fill="#ee82ee"/>
<rect x="1935.0" y="509.7" width="12" height="18.6" fill="#ee82ee"/>
<rect x="1955.7" y="513.0" width="2.6" height="39.1" fill="#ee82ee"/>
<rect x="1951.0" y="528.3" width="12" height="15.9" fill="#ee82ee"/>
<rect x="1971.7" y="536.3" width="2.6" height="34.3" fill="#ee82ee"/>
<rect x="1967.0" y="544.2" width="12" height="19.9" fill="#ee82ee"/>
<rect x="1987.7" y="549.5" width="2.6" height="52.5" fill="#ee82ee"/>
<rect x="1983.0" y="564.2" width="12" height="25.7" fill="#ee82ee"/>
<rect x="2003.7" y="572.4" width="2.6" height="20.1" fill="#00bfff"/>
<rect x="1999.0" y="577.4" width="12" height="12.5" fill="#00bfff"/>
<rect x="2019.7" y="540.0" width="2.6" height="40.9" fill="#00bfff"/>
<rect x="2015.0" y="543.2" width="12" height="34.2" fill="#00bfff"/>
<rect x="2035.7" y="520.3" width="2.6" height="28.2" fill="#00bfff"/>
<rect x="2031.0" y="538.8" width="12" height="4.4" fill="#00bfff"/>
<rect x="2051.7" y="531.6" width="2.6" height="35.9" fill="#ee82ee"/>
<rect x="2047.0" y="538.8" width="12" height="22.1" fill="#ee82ee"/>
<rect x="2067.7" y="549.9" width="2.6" height="57.2" fill="#ee82ee"/>
<rect x="2063.0" y="560.9" width="12" height="39.4" fill="#ee82ee"/>
<rect x="2083.7" y="596.1" width="2.6" height="37.4" fill="#ee82ee"/>
<rect x="2079.0" y="600.3" width="12" height="25.4" fill="#ee82ee"/>
<rect x="2099.7" y="614.8" width="2.6" height="45.5" fill="#ee82ee"/>
<rect x="2095.0" y="625.7" width="12" height="32.0" fill="#ee82ee"/>
<rect x="2115.7" y="652.2" width="2.6" height="29.0" fill="#696969"/>
<rect x="2111.0" y="657.7" width="12" height="12.2" fill="#696969"/>
<rect x="2131.7" y="636.1" width="2.6" height="48.3" fill="#00bfff"/>
<rect x="2127.0" y="642.3" width="12" height="27.5" fill="#00bfff"/>
<rect x="2147.7" y="599.2" width="2.6" height="57.5" fill="#00bfff"/>
<rect x="2143.0" y="606.2" width="12" height="36.1" fill="#00bfff"/>
<rect x="2163.7" y="574.0" width="2.6" height="36.3" fill="#00bfff"/>
<rect x="2159.0" y="580.3" width="12" height="25.9" fill="#00bfff"/>
<rect x="2179.7" y="567.2" width="2.6" height="15.6" fill="#696969"/>
<rect x="2175.0" y="578.5" width="12" height="1.8" fill="#696969"/>
<rect x="2195.7" y="567.4" width="2.6" height="28.1" fill="#ee82ee"/>
<rect x="2191.0" y="578.5" width="12" height="9.9" fill="#ee82ee"/>
<rect x="2211.7" y="574.1" width="2.6" height="42.1" fill="#ee82ee"/>
<rect x="2207.0" y="588.4" width="12" height="20.2" fill="#ee82ee"/>
<rect x="2227.7" y="600.8" width="2.6" height="29.0" fill="#ee82ee"/>
<rect x="2223.0" y="608.6" width="12" height="6.5" fill="#ee82ee"/>
<rect x="2243.7" y="614.0" width="2.6" height="25.3" fill="#ee82ee"/>
<rect x="2239.0" y="615.1" width="12" height="10.3" fill="#ee82ee"/>
<rect x="2259.7" y="616.7" width="2.6" height="34.8" fill="#ee82ee"/>
<rect x="2255.0" y="625.4" width="12" height="22.4" fill="#ee82ee"/>
<rect x="2275.7" y="634.7" width="2.6" height="24.7" fill="#696969"/>
<rect x="2271.0" y="647.0" width="12" height="1.5" fill="#696969"/>
<rect x="2291.7" y="633.2" width="2.6" height="26.1" fill="#00bfff"/>
<rect x="2287.0" y="635.0" width="12" height="12.0" fill="#00bfff"/>
<rect x="2307.7" y="617.6" width="2.6" height="31.8" fill="#00bfff"/>
<rect x="2303.0" y="623.4" width="12" height="11.5" fill="#00bfff"/>
<rect x="2323.7" y="609.6" width="2.6" height="44.7" fill="#ee82ee"/>
<rect x="2319.0" y="623.4" width="12" height="20.5" fill="#ee82ee"/>
<rect x="2339.7" y="632.4" width="2.6" height="34.5" fill="#ee82ee"/>
<rect x="2335.0" y="643.9" width="12" height="13.8" fill="#ee82ee"/>
<rect x="2355.7" y="644.1" width="2.6" height="51.1" fill="#ee82ee"/>
<rect x="2351.0" y="657.6" width="12" height="23.9" fill="#ee82ee"/>
<rect x="2371.7" y="667.5" width="2.6" height="39.7" fill="#ee82ee"/>
<rect x="2367.0" y="681.6" width="12" height="12.3" fill="#ee82ee"/>
<rect x="2387.7" y="662.6" width="2.6" height="41.4" fill="#00bfff"/>
<rect x="2383.0" y="677.2" width="12" height="16.7" fill="#00bfff"/>
<rect x="2403.7" y="650.0" width="2.6" height="41.0" fill="#696969"/>
<rect x="2399.0" y="677.2" width="12" height="8.5" fill="#696969"/>
<rect x="2419.7" y="681.5" width="2.6" height="25.2" fill="#ee82ee"/>
<rect x="2415.0" y="685.7" width="12" height="12.4" fill="#ee82ee"/>
<rect x="2435.7" y="678.3" width="2.6" height="27.8" fill="#00bfff"/>
<rect x="2431.0" y="684.5" width="12" height="13.7" fill="#00bfff"/>
<rect x="2451.7" y="666.2" width="2.6" height="29.6" fill="#00bfff"/>
<rect x="2447.0" y="679.6" width="12" height="4.9" fill="#00bfff"/>
<rect x="2467.7" y="608.3" width="2.6" height="73.5" fill="#00bfff"/>
<rect x="2463.0" y="619.4" width="12" height="60.2" fill="#00bfff"/>
<rect x="2483.7" y="562.9" width="2.6" height="64.9" fill="#00bfff"/>
<rect x="2479.0" y="576.3" width="12" height="43.1" fill="#00bfff"/>
<rect x="2499.7" y="511.0" width="2.6" height="69.8" fill="#00bfff"/>
<rect x="2495.0" y="516.7" width="12" height="59.6" fill="#00bfff"/>
<rect x="2515.7" y="486.0" width="2.6" height="41.2" fill="#00bfff"/>
<rect x="2511.0" y="510.1" width="12" height="6.7" fill="#00bfff"/>
<rect x="2531.7" y="499.2" width="2.6" height="64.7" fill="#ee82ee"/>
<rect x="2527.0" y="510.1" width="12" height="47.1" fill="#ee82ee"/>
<rect x="2547.7" y="544.1" width="2.6" height="65.7" fill="#ee82ee"/>
<rect x="2543.0" y="557.1" width="12" height="49.2" fill="#ee82ee"/>
<rect x="2563.7" y="570.5" width="2.6" height="59.0" fill="#696969"/>
<rect x="2559.0" y="578.2" width="12" height="28.2" fill="#696969"/>
<rect x="2579.7" y="540.9" width="2.6" height="49.3" fill="#696969"/>
<rect x="2575.0" y="545.3" width="12" height="32.9" fill="#696969"/>
<rect x="2595.7" y="538.4" width="2.6" height="53.3" fill="#ee82ee"/>
<rect x="2591.0" y="545.3" width="12" height="40.8" fill="#ee82ee"/>
<rect x="2611.7" y="579.4" width="2.6" height="55.4" fill="#ee82ee"/>
<rect x="2607.0" y="586.1" width="12" height="46.6" fill="#ee82ee"/>
<rect x="2627.7" y="630.8" width="2.6" height="69.4" fill="#ee82ee"/>
<rect x="2623.0" y="632.7" width="12" height="54.8" fill="#ee82ee"/>
<rect x="2643.7" y="674.4" width="2.6" height="43.6" fill="#ee82ee"/>
<rect x="2639.0" y="687.5" width="12" height="24.3" fill="#ee82ee"/>
<rect x="2659.7" y="705.0" width="2.6" height="30.7" fill="#ee82ee"/>
<rect x="2655.0" y="711.8" width="12" height="9.3" fill="#ee82ee"/>
<rect x="2675.7" y="708.0" width="2.6" height="39.0" fill="#ee82ee"/>
<rect x="2671.0" y="721.1" width="12" height="3.7" fill="#ee82ee"/>
<rect x="2691.7" y="690.2" width="2.6" height="44.9" fill="#00bfff"/>
<rect x="2687.0" y="705.0" width="12" height="19.7" fill="#00bfff"/>
<rect x="2707.7" y="668.9" width="2.6" height="45.5" fill="#696969"/>
<rect x="2703.0" y="676.8" width="12" height="28.2" fill="#696969"/>
<rect x="2723.7" y="653.6" width="2.6" height="46.5" fill="#ee82ee"/>
<rect x="2719.0" y="676.8" width="12" height="11.6" fill="#ee82ee"/>
<rect x="2739.7" y="681.6" width="2.6" height="25.9" fill="#ee82ee"/>
<rect x="2735.0" y="688.4" width="12" height="5.8" fill="#ee82ee"/>
<rect x="2755.7" y="677.0" width="2.6" height="23.9" fill="#00bfff"/>
<rect x="2751.0" y="683.5" width="12" height="10.7" fill="#00bfff"/>
<rect x="2771.7" y="658.0" width="2.6" height="40.2" fill="#00bfff"/>
<rect x="2767.0" y="665.3" width="12" height="18.3" fill="#00bfff"/>
<rect x="2787.7" y="639.8" width="2.6" height="39.8" fill="#696969"/>
<rect x="2783.0" y="645.0" width="12" height="20.3" fill="#696969"/>
<rect x="2803.7" y="620.8" width="2.6" height="30.3" fill="#00bfff"/>
<rect x="2799.0" y="623.8" width="12" height="21.2" fill="#00bfff"/>
<rect x="2819.7" y="584.2" width="2.6" height="54.0" fill="#00bfff"/>
<rect x="2815.0" y="597.4" width="12" height="26.4" fill="#00bfff"/>
<rect x="2835.7" y="583.3" width="2.6" height="22.7" fill="#00bfff"/>
<rect x="2831.0" y="587.4" width="12" height="10.0" fill="#00bfff"/>
<rect x="2851.7" y="569.4" width="2.6" height="31.5" fill="#696969"/>
<rect x="2847.0" y="587.0" width="12" height="1.5" fill="#696969"/>
<rect x="2867.7" y="574.9" width="2.6" height="47.6" fill="#ee82ee"/>
<rect x="2863.0" y="587.0" width="12" height="24.4" fill="#ee82ee"/>
<rect x="2883.7" y="610.2" width="2.6" height="37.7" fill="#ee82ee"/>
<rect x="2879.0" y="611.4" width="12" height="22.0" fill="#ee82ee"/>
<rect x="2899.7" y="600.3" width="2.6" height="51.0" fill="#00bfff"/>
<rect x="2895.0" y="608.3" width="12" height="25.1" fill="#00bfff"/>
<rect x="2915.7" y="574.6" width="2.6" height="55.7" fill="#ee82ee"/>
<rect x="2911.0" y="608.3" width="12" height="15.0" fill="#ee82ee"/>
<rect x="2931.7" y="567.2" width="2.6" height="101.7" fill="#00bfff"/>
<rect x="2927.0" y="576.9" width="12" height="46.5" fill="#00bfff"/>
<rect x="2947.7" y="512.4" width="2.6" height="69.7" fill="#696969"/>
<rect x="2943.0" y="529.2" width="12" height="47.7" fill="#696969"/>
<rect x="2963.7" y="515.3" width="2.6" height="40.2" fill="#696969"/>
<rect x="2959.0" y="529.2" width="12" height="17.0" fill="#696969"/>
<rect x="2979.7" y="538.3" width="2.6" height="32.6" fill="#ee82ee"/>
<rect x="2975.0" y="546.2" width="12" height="19.1" fill="#ee82ee"/>
<rect x="2995.7" y="546.2" width="2.6" height="22.1" fill="#00bfff"/>
<rect x="2991.0" y="552.5" width="12" height="12.7" fill="#00bfff"/>
<rect x="3011.7" y="545.0" width="2.6" height="58.0" fill="#ee82ee"/>
<rect x="3007.0" y="552.5" width="12" height="43.0" fill="#ee82ee"/>
<rect x="3027.7" y="580.5" width="2.6" height="76.5" fill="#ee82ee"/>
<rect x="3023.0" y="595.5" width="12" height="46.3" fill="#ee82ee"/>
<rect x="3043.7" y="633.4" width="2.6" height="62.2" fill="#ee82ee"/>
<rect x="3039.0" y="641.8" width="12" height="44.3" fill="#ee82ee"/>
<rect x="3059.7" y="683.7" width="2.6" height="23.0" fill="#696969"/>
<rect x="3055.0" y="686.1" width="12" height="9.5" fill="#696969"/>
<rect x="3075.7" y="680.0" width="2.6" height="40.8" fill="#ee82ee"/>
<rect x="3071.0" y="695.6" width="12" height="12.7" fill="#ee82ee"/>
<rect x="3091.7" y="693.0" width="2.6" height="51.8" fill="#ee82ee"/>
<rect x="3087.0" y="708.2" width="12" height="31.7" fill="#ee82ee"/>
<rect x="3107.7" y="738.8" width="2.6" height="54.3" fill="#ee82ee"/>
<rect x="3103.0" y="739.9" width="12" height="40.1" fill="#ee82ee"/>
<rect x="3123.7" y="778.7" width="2.6" height="60.8" fill="#ee82ee"/>
<rect x="3119.0" y="780.0" width="12" height="55.0" fill="#ee82ee"/>
<rect x="3139.7" y="827.0" width="2.6" height="23.0" fill="#696969"/>
<rect x="3135.0" y="835.0" width="12" height="1.5" fill="#696969"/>
<rect x="3155.7" y="781.6" width="2.6" height="60.8" fill="#696969"/>
<rect x="3151.0" y="794.7" width="12" height="40.6" fill="#696969"/>
<rect x="3171.7" y="743.6" width="2.6" height="62.3" fill="#00bfff"/>
<rect x="3167.0" y="753.8" width="12" height="40.9" fill="#00bfff"/>
<rect x="3187.7" y="741.2" width="2.6" height="65.7" fill="#ee82ee"/>
<rect x="3183.0" y="753.8" width="12" height="41.2" fill="#ee82ee"/>
<rect x="3203.7" y="782.0" width="2.6" height="56.0" fill="#ee82ee"/>
<rect x="3199.0" y="795.1" width="12" height="15.0" fill="#ee82ee"/>
<rect x="3219.7" y="741.4" width="2.6" height="80.5" fill="#00bfff"/>
<rect x="3215.0" y="755.7" width="12" height="54.4" fill="#00bfff"/>
<rect x="3235.7" y="709.8" width="2.6" height="50.2" fill="#00bfff"/>
<rect x="3231.0" y="711.7" width="12" height="44.0" fill="#00bfff"/>
<rect x="3251.7" y="684.2" width="2.6" height="31.1" fill="#00bfff"/>
<rect x="3247.0" y="702.0" width="12" height="9.7" fill="#00bfff"/>
<rect x="3267.7" y="699.1" width="2.6" height="54.0" fill="#ee82ee"/>
<rect x="3263.0" y="702.0" width="12" height="36.0" fill="#ee82ee"/>
<rect x="3283.7" y="715.4" width="2.6" height="47.6" fill="#00bfff"/>
<rect x="3279.0" y="716.5" width="12" height="21.5" fill="#00bfff"/>
<rect x="3299.7" y="649.7" width="2.6" height="70.1" fill="#00bfff"/>
<rect x="3295.0" y="662.0" width="12" height="54.6" fill="#00bfff"/>
<polyline points="5.0,132.3 21.0,141.3 37.0,147.8 53.0,161.6" fill="none" stroke="#8b0000" stroke-width="4" stroke-linejoin="round" stroke-linecap="round"/>
<polyline points="53.0,161.6 69.0,161.4 85.0,153.4 101.0,147.3 117.0,140.4 133.0,136.1" fill="none" stroke="#00008b" stroke-width="4" stroke-linejoin="round" stroke-linecap="round"/>
<polyline points="133.0,136.1 149.0,136.7 165.0,141.2" fill="none" stroke="#8b0000" stroke-width="4" stroke-linejoin="round" stroke-linecap="round"/>
<polyline points="165.0,141.2 181.0,139.9 197.0,134.5 213.0,127.2 229.0,125.6" fill="none" stroke="#00008b" stroke-width="4" stroke-linejoin="round" stroke-linecap="round"/>
<polyline points="229.0,125.6 245.0,126.0 261.0,132.5 277.0,141.1 293.0,149.2" fill="none" stroke="#8b0000" stroke-width="4" stroke-linejoin="round" stroke-linecap="round"/>
<polyline points="293.0,149.2 309.0,138.0 325.0,119.4 341.0,100.5" fill="none" stroke="#00008b" stroke-width="4" stroke-linejoin="round" stroke-linecap="round"/>
<polyline points="341.0,100.5 357.0,109.5 373.0,152.2 389.0,172.2" fill="none" stroke="#8b0000" stroke-width="4" stroke-linejoin="round" stroke-linecap="round"/>
<polyline points="389.0,172.2 405.0,168.6 421.0,168.5" fill="none" stroke="#00008b" stroke-width="4" stroke-linejoin="round" stroke-linecap="round"/>
<polyline points="421.0,168.5 437.0,172.5" fill="none" stroke="#8b0000" stroke-width="4" stroke-linejoin="round" stroke-linecap="round"/>
<polyline points="437.0,172.5 453.0,168.8 469.0,168.8" fill="none" stroke="#00008b" stroke-width="4" stroke-linejoin="round" stroke-linecap="round"/>
<polyline points="469.0,168.8 485.0,169.5 501.0,170.8" fill="none" stroke="#8b0000" stroke-width="4" stroke-linejoin="round" stroke-linecap="round"/>
<polyline points="501.0,170.8 517.0,167.5 533.0,161.3 549.0,155.7 565.0,150.2 581.0,147.6" fill="none" stroke="#00008b" stroke-width="4" stroke-linejoin="round" stroke-linecap="round"/>
<polyline points="581.0,147.6 597.0,154.2 613.0,161.3 629.0,165.8 645.0,173.2" fill="none" stroke="#8b0000" stroke-width="4" stroke-linejoin="round" stroke-linecap="round"/>
<polyline points="645.0,173.2 661.0,169.7 677.0,167.6" fill="none" stroke="#00008b" stroke-width="4" stroke-linejoin="round" stroke-linecap="round"/>
<polyline points="677.0,167.6 693.0,174.2 709.0,189.0 725.0,197.9 741.0,201.7" fill="none" stroke="#8b0000" stroke-width="4" stroke-linejoin="round" stroke-linecap="round"/>
<polyline points="741.0,201.7 757.0,199.7" fill="none" stroke="#00008b" stroke-width="4" stroke-linejoin="round" stroke-linecap="round"/>
<polyline points="757.0,199.7 773.0,201.9 789.0,217.7 805.0,239.6 821.0,251.5 837.0,256.8" fill="none" stroke="#8b0000" stroke-width="4" stroke-linejoin="round" stroke-linecap="round"/>
<polyline points="837.0,256.8 853.0,252.5 869.0,243.5 885.0,233.1 901.0,229.5" fill="none" stroke="#00008b" stroke-width="4" stroke-linejoin="round" stroke-linecap="round"/>
<polyline points="901.0,229.5 917.0,232.8" fill="none" stroke="#8b0000" stroke-width="4" stroke-linejoin="round" stroke-linecap="round"/>
<polyline points="917.0,232.8 933.0,226.8 949.0,213.5" fill="none" stroke="#00008b" stroke-width="4" stroke-linejoin="round" stroke-linecap="round"/>
<polyline points="949.0,213.5 965.0,216.4 981.0,223.5 997.0,235.9 1013.0,255.4 1029.0,273.8 1045.0,281.3" fill="none" stroke="#8b0000" stroke-width="4" stroke-linejoin="round" stroke-linecap="round"/>
<polyline points="1045.0,281.3 1061.0,277.6 1077.0,271.2" fill="none" stroke="#00008b" stroke-width="4" stroke-linejoin="round" stroke-linecap="round"/>
<polyline points="1077.0,271.2 1093.0,274.6 1109.0,284.1 1125.0,302.4 1141.0,319.1 1157.0,338.5 1173.0,355.8 1189.0,368.4 1205.0,382.9 1221.0,404.8 1237.0,422.4 1253.0,441.0 1269.0,457.3 1285.0,465.5" fill="none" stroke="#8b0000" stroke-width="4" stroke-linejoin="round" stroke-linecap="round"/>
<polyline points="1285.0,465.5 1301.0,460.5 1317.0,449.9 1333.0,448.9" fill="none" stroke="#00008b" stroke-width="4" stroke-linejoin="round" stroke-linecap="round"/>
<polyline points="1333.0,448.9 1349.0,460.2 1365.0,475.1 1381.0,477.4" fill="none" stroke="#8b0000" stroke-width="4" stroke-linejoin="round" stroke-linecap="round"/>
<polyline points="1381.0,477.4 1397.0,457.8 1413.0,439.5 1429.0,435.0" fill="none" stroke="#00008b" stroke-width="4" stroke-linejoin="round" stroke-linecap="round"/>
<polyline points="1429.0,435.0 1445.0,440.3 1461.0,454.7 1477.0,469.1 1493.0,486.3 1509.0,509.9 1525.0,510.5" fill="none" stroke="#8b0000" stroke-width="4" stroke-linejoin="round" stroke-linecap="round"/>
<polyline points="1525.0,510.5 1541.0,507.9" fill="none" stroke="#00008b" stroke-width="4" stroke-linejoin="round" stroke-linecap="round"/>
<polyline points="1541.0,507.9 1557.0,529.6 1573.0,561.8 1589.0,602.1 1605.0,649.0 1621.0,662.8" fill="none" stroke="#8b0000" stroke-width="4" stroke-linejoin="round" stroke-linecap="round"/>
<polyline points="1621.0,662.8 1637.0,648.7 1653.0,633.8" fill="none" stroke="#00008b" stroke-width="4" stroke-linejoin="round" stroke-linecap="round"/>
<polyline points="1653.0,633.8 1669.0,642.8 1685.0,651.0" fill="none" stroke="#8b0000" stroke-width="4" stroke-linejoin="round" stroke-linecap="round"/>
<polyline points="1685.0,651.0 1701.0,647.4" fill="none" stroke="#00008b" stroke-width="4" stroke-linejoin="round" stroke-linecap="round"/>
<polyline points="1701.0,647.4 1717.0,653.1 1733.0,679.9 1749.0,717.9 1765.0,734.7" fill="none" stroke="#8b0000" stroke-width="4" stroke-linejoin="round" stroke-linecap="round"/>
<polyline points="1765.0,734.7 1781.0,716.1 1797.0,684.8 1813.0,658.8 1829.0,617.9 1845.0,584.2 1861.0,575.2" fill="none" stroke="#00008b" stroke-width="4" stroke-linejoin="round" stroke-linecap="round"/>
<polyline points="1861.0,575.2 1877.0,585.0 1893.0,602.8" fill="none" stroke="#8b0000" stroke-width="4" stroke-linejoin="round" stroke-linecap="round"/>
<polyline points="1893.0,602.8 1909.0,591.3 1925.0,557.0 1941.0,544.9 1957.0,544.6" fill="none" stroke="#00008b" stroke-width="4" stroke-linejoin="round" stroke-linecap="round"/>
<polyline points="1957.0,544.6 1973.0,552.8 1989.0,568.4 2005.0,572.2" fill="none" stroke="#8b0000" stroke-width="4" stroke-linejoin="round" stroke-linecap="round"/>
<polyline points="2005.0,572.2 2021.0,560.0 2037.0,551.1" fill="none" stroke="#00008b" stroke-width="4" stroke-linejoin="round" stroke-linecap="round"/>
<polyline points="2037.0,551.1 2053.0,555.2 2069.0,574.1 2085.0,595.8 2101.0,621.8 2117.0,642.0 2133.0,642.1" fill="none" stroke="#8b0000" stroke-width="4" stroke-linejoin="round" stroke-linecap="round"/>
<polyline points="2133.0,642.1 2149.0,627.0 2165.0,607.4 2181.0,595.3 2197.0,592.4" fill="none" stroke="#00008b" stroke-width="4" stroke-linejoin="round" stroke-linecap="round"/>
<polyline points="2197.0,592.4 2213.0,599.2 2229.0,605.9 2245.0,614.1 2261.0,628.2 2277.0,636.1" fill="none" stroke="#8b0000" stroke-width="4" stroke-linejoin="round" stroke-linecap="round"/>
<polyline points="2277.0,636.1 2293.0,635.6 2309.0,630.5" fill="none" stroke="#00008b" stroke-width="4" stroke-linejoin="round" stroke-linecap="round"/>
<polyline points="2309.0,630.5 2325.0,636.1 2341.0,645.2 2357.0,660.5 2373.0,674.5 2389.0,675.7 2405.0,679.9 2421.0,687.6" fill="none" stroke="#8b0000" stroke-width="4" stroke-linejoin="round" stroke-linecap="round"/>
<polyline points="2421.0,687.6 2437.0,686.3 2453.0,683.5 2469.0,656.5 2485.0,622.8 2501.0,578.3 2517.0,549.6" fill="none" stroke="#00008b" stroke-width="4" stroke-linejoin="round" stroke-linecap="round"/>
<polyline points="2517.0,549.6 2533.0,552.8 2549.0,575.3 2565.0,576.5" fill="none" stroke="#8b0000" stroke-width="4" stroke-linejoin="round" stroke-linecap="round"/>
<polyline points="2565.0,576.5 2581.0,563.4" fill="none" stroke="#00008b" stroke-width="4" stroke-linejoin="round" stroke-linecap="round"/>
<polyline points="2581.0,563.4 2597.0,572.9 2613.0,598.0 2629.0,635.6 2645.0,667.6 2661.0,690.1 2677.0,704.6 2693.0,704.8" fill="none" stroke="#8b0000" stroke-width="4" stroke-linejoin="round" stroke-linecap="round"/>
<polyline points="2693.0,704.8 2709.0,693.1 2725.0,691.1" fill="none" stroke="#00008b" stroke-width="4" stroke-linejoin="round" stroke-linecap="round"/>
<polyline points="2725.0,691.1 2741.0,692.4" fill="none" stroke="#8b0000" stroke-width="4" stroke-linejoin="round" stroke-linecap="round"/>
<polyline points="2741.0,692.4 2757.0,688.7 2773.0,678.8 2789.0,664.6 2805.0,647.5 2821.0,626.4 2837.0,610.1 2853.0,600.4" fill="none" stroke="#00008b" stroke-width="4" stroke-linejoin="round" stroke-linecap="round"/>
<polyline points="2853.0,600.4 2869.0,605.0 2885.0,616.9" fill="none" stroke="#8b0000" stroke-width="4" stroke-linejoin="round" stroke-linecap="round"/>
<polyline points="2885.0,616.9 2901.0,613.3" fill="none" stroke="#00008b" stroke-width="4" stroke-linejoin="round" stroke-linecap="round"/>
<polyline points="2901.0,613.3 2917.0,617.5" fill="none" stroke="#8b0000" stroke-width="4" stroke-linejoin="round" stroke-linecap="round"/>
<polyline points="2917.0,617.5 2933.0,600.5 2949.0,570.5 2965.0,560.3" fill="none" stroke="#00008b" stroke-width="4" stroke-linejoin="round" stroke-linecap="round"/>
<polyline points="2965.0,560.3 2981.0,562.4" fill="none" stroke="#8b0000" stroke-width="4" stroke-linejoin="round" stroke-linecap="round"/>
<polyline points="2981.0,562.4 2997.0,558.2" fill="none" stroke="#00008b" stroke-width="4" stroke-linejoin="round" stroke-linecap="round"/>
<polyline points="2997.0,558.2 3013.0,573.9 3029.0,602.4 3045.0,637.6 3061.0,661.9 3077.0,681.4 3093.0,706.0 3109.0,737.1 3125.0,778.2 3141.0,802.2" fill="none" stroke="#8b0000" stroke-width="4" stroke-linejoin="round" stroke-linecap="round"/>
<polyline points="3141.0,802.2 3157.0,799.0 3173.0,780.0" fill="none" stroke="#00008b" stroke-width="4" stroke-linejoin="round" stroke-linecap="round"/>
<polyline points="3173.0,780.0 3189.0,786.4 3205.0,796.3" fill="none" stroke="#8b0000" stroke-width="4" stroke-linejoin="round" stroke-linecap="round"/>
<polyline points="3205.0,796.3 3221.0,779.3 3237.0,750.9 3253.0,730.4" fill="none" stroke="#00008b" stroke-width="4" stroke-linejoin="round" stroke-linecap="round"/>
<polyline points="3253.0,730.4 3269.0,733.6" fill="none" stroke="#8b0000" stroke-width="4" stroke-linejoin="round" stroke-linecap="round"/>
<polyline points="3269.0,733.6 3285.0,726.4 3301.0,699.4" fill="none" stroke="#00008b" stroke-width="4" stroke-linejoin="round" stroke-linecap="round"/>
<polyline points="4.5,150.0 26.0,168.7 60.0,185.0" fill="none" stroke="#8b0000" stroke-width="10.5" stroke-linejoin="round" stroke-linecap="round"/>
<polyline points="300.0,150.0 313.0,144.0 339.0,131.0" fill="none" stroke="#00008b" stroke-width="10.5" stroke-linejoin="round" stroke-linecap="round"/>
<polyline points="339.0,129.0 360.0,142.0 393.5,153.7 435.0,165.0 468.5,174.0" fill="none" stroke="#8b0000" stroke-width="10.5" stroke-linejoin="round" stroke-linecap="round"/>
<polyline points="468.5,174.0 525.0,170.5 596.0,159.0" fill="none" stroke="#00008b" stroke-width="10.5" stroke-linejoin="round" stroke-linecap="round"/>
<polyline points="596.0,157.0 637.0,163.0 675.0,165.0 712.0,176.0 750.0,189.0 787.0,198.6 824.6,221.0 869.6,241.7" fill="none" stroke="#8b0000" stroke-width="10.5" stroke-linejoin="round" stroke-linecap="round"/>
<polyline points="869.6,241.7 914.5,234.0 952.0,226.7" fill="none" stroke="#00008b" stroke-width="10.5" stroke-linejoin="round" stroke-linecap="round"/>
<polyline points="952.0,226.7 979.0,225.0 1012.5,240.0 1046.0,258.6 1083.7,281.0 1110.0,290.5 1155.0,315.0 1177.4,333.6 1203.6,346.7 1230.0,371.0 1260.0,408.5 1282.0,431.0 1305.0,450.0 1316.0,453.5" fill="none" stroke="#8b0000" stroke-width="10.5" stroke-linejoin="round" stroke-linecap="round"/>
<polyline points="1316.0,453.5 1346.0,450.0" fill="none" stroke="#00008b" stroke-width="10.5" stroke-linejoin="round" stroke-linecap="round"/>
<polyline points="1346.0,451.0 1383.5,476.0" fill="none" stroke="#8b0000" stroke-width="10.5" stroke-linejoin="round" stroke-linecap="round"/>
<polyline points="1383.5,476.0 1413.5,450.0" fill="none" stroke="#00008b" stroke-width="10.5" stroke-linejoin="round" stroke-linecap="round"/>
<polyline points="1413.5,450.0 1447.0,459.0 1481.0,465.0 1511.0,487.0 1537.0,500.0 1578.0,543.6 1601.6,583.0 1625.0,622.8 1657.0,632.7 1700.6,646.5 1736.0,674.0 1766.0,708.0" fill="none" stroke="#8b0000" stroke-width="10.5" stroke-linejoin="round" stroke-linecap="round"/>
<polyline points="1766.0,708.0 1791.7,702.0 1831.0,658.4 1871.0,607.0 1900.0,584.7 1926.0,556.0 1952.6,547.5" fill="none" stroke="#00008b" stroke-width="10.5" stroke-linejoin="round" stroke-linecap="round"/>
<polyline points="1952.6,547.5 1987.7,545.0 2009.6,554.0" fill="none" stroke="#8b0000" stroke-width="10.5" stroke-linejoin="round" stroke-linecap="round"/>
<polyline points="2009.6,554.0 2032.0,551.0" fill="none" stroke="#00008b" stroke-width="10.5" stroke-linejoin="round" stroke-linecap="round"/>
<polyline points="2032.0,549.6 2066.7,567.0 2093.0,589.0 2119.0,613.0 2150.0,624.0" fill="none" stroke="#8b0000" stroke-width="10.5" stroke-linejoin="round" stroke-linecap="round"/>
<polyline points="2150.0,624.0 2185.0,615.4 2198.0,615.4" fill="none" stroke="#00008b" stroke-width="10.5" stroke-linejoin="round" stroke-linecap="round"/>
<polyline points="2198.0,615.4 2216.0,615.4" fill="none" stroke="#8b0000" stroke-width="10.5" stroke-linejoin="round" stroke-linecap="round"/>
<polyline points="2216.0,615.4 2251.0,611.0" fill="none" stroke="#00008b" stroke-width="10.5" stroke-linejoin="round" stroke-linecap="round"/>
<polyline points="2251.0,611.0 2281.6,620.0 2316.7,628.6 2356.0,646.0 2387.0,663.7 2417.5,677.0 2448.0,683.4 2465.8,683.4" fill="none" stroke="#8b0000" stroke-width="10.5" stroke-linejoin="round" stroke-linecap="round"/>
<polyline points="2465.8,683.4 2483.0,677.0 2501.0,633.0 2518.4,606.7 2549.0,593.5 2571.0,578.0 2597.0,569.4" fill="none" stroke="#00008b" stroke-width="10.5" stroke-linejoin="round" stroke-linecap="round"/>
<polyline points="2597.0,569.4 2623.6,584.7 2645.6,615.4 2676.0,661.5 2711.0,679.0 2742.0,692.0" fill="none" stroke="#8b0000" stroke-width="10.5" stroke-linejoin="round" stroke-linecap="round"/>
<polyline points="2742.0,692.0 2777.0,681.0 2794.7,677.0" fill="none" stroke="#00008b" stroke-width="10.5" stroke-linejoin="round" stroke-linecap="round"/>
<polyline points="2786.0,677.0 2808.0,677.0" fill="none" stroke="#8b0000" stroke-width="10.5" stroke-linejoin="round" stroke-linecap="round"/>
<polyline points="2808.0,677.0 2834.0,663.7 2866.0,641.7 2884.0,635.0" fill="none" stroke="#00008b" stroke-width="10.5" stroke-linejoin="round" stroke-linecap="round"/>
<polyline points="2880.0,633.0 2901.4,633.0" fill="none" stroke="#8b0000" stroke-width="10.5" stroke-linejoin="round" stroke-linecap="round"/>
<polyline points="2901.4,633.0 2927.7,611.0 2945.0,593.5 2967.0,584.7 2980.0,586.0" fill="none" stroke="#00008b" stroke-width="10.5" stroke-linejoin="round" stroke-linecap="round"/>
<polyline points="2980.0,587.0 3006.6,611.0 3028.5,628.5 3050.5,633.0 3072.4,650.5 3094.3,690.0 3112.0,701.0 3129.4,727.0 3142.5,749.0 3160.0,764.5 3175.4,779.8" fill="none" stroke="#8b0000" stroke-width="10.5" stroke-linejoin="round" stroke-linecap="round"/>
<polyline points="3175.4,779.8 3188.6,779.8" fill="none" stroke="#00008b" stroke-width="10.5" stroke-linejoin="round" stroke-linecap="round"/>
<polyline points="3188.6,778.0 3204.0,786.4 3219.3,790.8" fill="none" stroke="#8b0000" stroke-width="10.5" stroke-linejoin="round" stroke-linecap="round"/>
<polyline points="3219.3,790.8 3234.6,777.6 3252.0,766.7 3274.0,758.0 3291.6,740.0 3302.6,729.4" fill="none" stroke="#00008b" stroke-width="10.5" stroke-linejoin="round" stroke-linecap="round"/>
</g>
<g id="bot" clip-path="url(#cb)">
<line x1="5.0" y1="1641.2" x2="3783.0" y2="1641.2" stroke="#fff" stroke-width="1.2"/>
<line x1="1212.0" y1="1187.0" x2="3422.0" y2="1187.0" stroke="#0a8ae6" stroke-width="4"/>
<line x1="1803.0" y1="1528.0" x2="3421.0" y2="1528.0" stroke="#e6a9b9" stroke-width="3.5"/>
<line x1="1212.0" y1="1832.0" x2="3421.0" y2="1832.0" stroke="#e6a9b9" stroke-width="3.5"/>
<polygon points="3.0,1058.0 103.0,1058.0 110.7,1074.0 126.0,1097.0 168.0,1099.0 187.0,1128.0 202.0,1147.0 238.6,1149.0 252.0,1185.0 262.0,1204.0 312.0,1204.0 324.5,1208.0 332.0,1254.0 345.5,1267.0 357.0,1254.0 614.7,1254.0 626.0,1259.5 655.0,1261.5 662.5,1332.0 693.0,1334.0 702.5,1357.0 733.0,1376.0 805.6,1376.0 817.0,1391.0 824.7,1425.6 840.0,1479.0 845.7,1530.6 957.0,1532.5 963.0,1475.0 982.0,1473.0 997.0,1435.0 1119.5,1433.0 1133.0,1399.0 1388.6,1399.0 1398.0,1414.0 1409.6,1420.0 1436.0,1422.0 1447.8,1429.5 1554.7,1429.5 1566.0,1441.0 1575.7,1475.0 1596.7,1477.0 1612.0,1496.0 1774.0,1496.0 1785.7,1507.7 1791.5,1523.0 1814.0,1534.5 1864.0,1534.5 1875.5,1551.6 1895.0,1561.0 1903.0,1572.8 1950.7,1572.8 1960.0,1563.0 1964.0,1511.7 1975.5,1502.0 1983.0,1500.0 1989.0,1406.6 1998.0,1387.5 2006.0,1385.0 2262.0,1385.0 2284.8,1395.0 2292.5,1437.0 2300.0,1458.0 2357.4,1459.0 2367.0,1474.6 2384.0,1475.4 2409.0,1488.8 2422.0,1521.0 2433.0,1560.0 2448.7,1602.6 2460.0,1608.0 2472.0,1598.7 2477.7,1561.0 2500.6,1560.0 2516.0,1498.0 2647.6,1498.0 2659.0,1422.0 2860.0,1420.8 2925.0,1419.7 2940.7,1456.5 2983.0,1460.0 2991.0,1481.7 2997.0,1567.0 3010.5,1570.8 3070.6,1574.0 3084.6,1616.0 3100.6,1620.0 3116.7,1660.0 3181.0,1661.5 3189.0,1642.0 3320.0,1642.0 3320.0,1905.0 3320.0,1905.0 2958.0,1905.0 2946.0,1864.8 2936.0,1848.7 2926.0,1812.7 2890.0,1812.7 2880.0,1798.6 2868.0,1794.6 2854.0,1716.4 2847.0,1714.8 2797.0,1712.8 2781.5,1687.7 2766.0,1676.0 2750.5,1645.0 2731.0,1645.0 2719.6,1674.0 2634.4,1676.0 2621.0,1680.0 2613.0,1697.3 2530.0,1699.3 2518.4,1753.4 2261.0,1751.5 2253.4,1736.0 2212.7,1734.0 2203.0,1695.4 2197.0,1678.0 2174.0,1680.0 2147.0,1683.8 2139.0,1696.0 1900.0,1696.0 1883.8,1695.4 1874.0,1689.6 1806.4,1687.6 1798.7,1662.5 1783.0,1660.6 1767.7,1651.0 1752.0,1647.0 1733.0,1629.6 1694.0,1629.6 1686.5,1661.3 1419.6,1661.3 1412.0,1658.6 1381.0,1658.6 1373.0,1629.6 1364.7,1575.5 1355.8,1602.5 1218.5,1602.5 1212.7,1620.0 1205.0,1623.8 1197.0,1661.3 1179.8,1662.5 1164.3,1726.3 1158.5,1823.0 1150.8,1830.8 960.0,1832.0 893.5,1830.8 885.7,1778.5 858.7,1776.6 827.7,1769.0 820.0,1745.7 808.4,1722.5 661.4,1722.5 653.7,1703.0 638.0,1631.6 619.0,1618.0 607.0,1579.0 590.0,1577.4 580.0,1536.0 572.7,1486.7 565.0,1469.5 508.0,1467.6 477.0,1437.0 464.0,1429.5 424.0,1425.0 312.0,1423.7 200.0,1380.0 120.0,1330.0 60.0,1267.0 5.0,1267.0" fill="#3c5167"/>
<polyline points="3.0,1058.0 103.0,1058.0 110.7,1074.0 126.0,1097.0 168.0,1099.0 187.0,1128.0 202.0,1147.0 238.6,1149.0 252.0,1185.0 262.0,1204.0 312.0,1204.0 324.5,1208.0 332.0,1254.0 345.5,1267.0 357.0,1254.0 614.7,1254.0 626.0,1259.5 655.0,1261.5 662.5,1332.0 693.0,1334.0 702.5,1357.0 733.0,1376.0 805.6,1376.0 817.0,1391.0 824.7,1425.6 840.0,1479.0 845.7,1530.6 957.0,1532.5 963.0,1475.0 982.0,1473.0 997.0,1435.0 1119.5,1433.0 1133.0,1399.0 1388.6,1399.0 1398.0,1414.0 1409.6,1420.0 1436.0,1422.0 1447.8,1429.5 1554.7,1429.5 1566.0,1441.0 1575.7,1475.0 1596.7,1477.0 1612.0,1496.0 1774.0,1496.0 1785.7,1507.7 1791.5,1523.0 1814.0,1534.5 1864.0,1534.5 1875.5,1551.6 1895.0,1561.0 1903.0,1572.8 1950.7,1572.8 1960.0,1563.0 1964.0,1511.7 1975.5,1502.0 1983.0,1500.0 1989.0,1406.6 1998.0,1387.5 2006.0,1385.0 2262.0,1385.0 2284.8,1395.0 2292.5,1437.0 2300.0,1458.0 2357.4,1459.0 2367.0,1474.6 2384.0,1475.4 2409.0,1488.8 2422.0,1521.0 2433.0,1560.0 2448.7,1602.6 2460.0,1608.0 2472.0,1598.7 2477.7,1561.0 2500.6,1560.0 2516.0,1498.0 2647.6,1498.0 2659.0,1422.0 2860.0,1420.8 2925.0,1419.7 2940.7,1456.5 2983.0,1460.0 2991.0,1481.7 2997.0,1567.0 3010.5,1570.8 3070.6,1574.0 3084.6,1616.0 3100.6,1620.0 3116.7,1660.0 3181.0,1661.5 3189.0,1642.0 3320.0,1642.0" fill="none" stroke="#808080" stroke-width="4" stroke-linejoin="round"/>
<polyline points="5.0,1267.0 60.0,1267.0 120.0,1330.0 200.0,1380.0 312.0,1423.7 424.0,1425.0 464.0,1429.5 477.0,1437.0 508.0,1467.6 565.0,1469.5 572.7,1486.7 580.0,1536.0 590.0,1577.4 607.0,1579.0 619.0,1618.0 638.0,1631.6 653.7,1703.0 661.4,1722.5 808.4,1722.5 820.0,1745.7 827.7,1769.0 858.7,1776.6 885.7,1778.5 893.5,1830.8 960.0,1832.0 1150.8,1830.8 1158.5,1823.0 1164.3,1726.3 1179.8,1662.5 1197.0,1661.3 1205.0,1623.8 1212.7,1620.0 1218.5,1602.5 1355.8,1602.5 1364.7,1575.5 1373.0,1629.6 1381.0,1658.6 1412.0,1658.6 1419.6,1661.3 1686.5,1661.3 1694.0,1629.6 1733.0,1629.6 1752.0,1647.0 1767.7,1651.0 1783.0,1660.6 1798.7,1662.5 1806.4,1687.6 1874.0,1689.6 1883.8,1695.4 1900.0,1696.0 2139.0,1696.0 2147.0,1683.8 2174.0,1680.0 2197.0,1678.0 2203.0,1695.4 2212.7,1734.0 2253.4,1736.0 2261.0,1751.5 2518.4,1753.4 2530.0,1699.3 2613.0,1697.3 2621.0,1680.0 2634.4,1676.0 2719.6,1674.0 2731.0,1645.0 2750.5,1645.0 2766.0,1676.0 2781.5,1687.7 2797.0,1712.8 2847.0,1714.8 2854.0,1716.4 2868.0,1794.6 2880.0,1798.6 2890.0,1812.7 2926.0,1812.7 2936.0,1848.7 2946.0,1864.8 2958.0,1905.0 3320.0,1905.0" fill="none" stroke="#808080" stroke-width="4" stroke-linejoin="round"/>
<line x1="5.0" y1="1150.7" x2="21.8" y2="1150.7" stroke="#ffa500" stroke-width="1.3"/>
<line x1="21.8" y1="1056.0" x2="21.8" y2="1150.7" stroke="#ffa500" stroke-width="1.3"/>
<line x1="645.3" y1="1056.0" x2="645.3" y2="1469.5" stroke="#1e90ff" stroke-width="1.3" stroke-dasharray="17 7"/>
<line x1="5.0" y1="1469.5" x2="645.3" y2="1469.5" stroke="#1e90ff" stroke-width="1.3" stroke-dasharray="17 7"/>
<line x1="500.2" y1="1260.3" x2="1213.0" y2="1260.3" stroke="#32cd32" stroke-width="1.3" stroke-dasharray="17 7"/>
<line x1="500.2" y1="1832.0" x2="1213.0" y2="1832.0" stroke="#32cd32" stroke-width="1.3" stroke-dasharray="17 7"/>
<line x1="500.2" y1="1260.3" x2="500.2" y2="1832.0" stroke="#32cd32" stroke-width="1.3" stroke-dasharray="17 7"/>
<line x1="1213.4" y1="1056.0" x2="1213.4" y2="1832.0" stroke="#32cd32" stroke-width="1.3"/>
<line x1="1221.4" y1="1385.5" x2="2229.5" y2="1385.5" stroke="#ffa500" stroke-width="1.3" stroke-dasharray="17 7"/>
<line x1="1221.4" y1="1696.0" x2="2229.5" y2="1696.0" stroke="#ffa500" stroke-width="1.3" stroke-dasharray="17 7"/>
<line x1="1221.4" y1="1385.5" x2="1221.4" y2="1696.0" stroke="#ffa500" stroke-width="1.3" stroke-dasharray="17 7"/>
<line x1="2229.5" y1="1385.5" x2="2229.5" y2="1696.0" stroke="#ffa500" stroke-width="1.3" stroke-dasharray="17 7"/>
<line x1="2085.5" y1="1385.5" x2="2853.6" y2="1385.5" stroke="#1e90ff" stroke-width="1.3" stroke-dasharray="17 7"/>
<line x1="2085.5" y1="1754.6" x2="2853.6" y2="1754.6" stroke="#1e90ff" stroke-width="1.3" stroke-dasharray="17 7"/>
<line x1="2085.5" y1="1385.5" x2="2085.5" y2="1754.6" stroke="#1e90ff" stroke-width="1.3" stroke-dasharray="17 7"/>
<line x1="2853.6" y1="1385.5" x2="2853.6" y2="1754.6" stroke="#1e90ff" stroke-width="1.3" stroke-dasharray="17 7"/>
<line x1="2710.0" y1="1421.0" x2="3421.5" y2="1421.0" stroke="#32cd32" stroke-width="1.3" stroke-dasharray="17 7"/>
<line x1="2710.0" y1="1906.0" x2="3421.5" y2="1906.0" stroke="#32cd32" stroke-width="1.3" stroke-dasharray="17 7"/>
<line x1="2710.0" y1="1421.0" x2="2710.0" y2="1906.0" stroke="#32cd32" stroke-width="1.3" stroke-dasharray="17 7"/>
<line x1="3421.5" y1="1421.0" x2="3421.5" y2="1906.0" stroke="#32cd32" stroke-width="1.3" stroke-dasharray="17 7"/>
<line x1="1222.5" y1="1480.0" x2="3320.0" y2="1480.0" stroke="#ff4500" stroke-width="6" stroke-dasharray="6 2"/>
<line x1="1283.0" y1="1480.0" x2="1372.0" y2="1480.0" stroke="#00ff00" stroke-width="6" stroke-dasharray="6 2"/>
<line x1="2122.0" y1="1480.0" x2="2161.0" y2="1480.0" stroke="#00ff00" stroke-width="6" stroke-dasharray="6 2"/>
<line x1="2785.0" y1="1480.0" x2="2800.0" y2="1480.0" stroke="#00ff00" stroke-width="6" stroke-dasharray="6 2"/>
<line x1="1221.4" y1="1074.0" x2="1221.4" y2="1927.0" stroke="#fff" stroke-width="1.6"/>
<circle cx="1260.7" cy="1397.0" r="27.7" fill="#da70d6"/>
<path d="M1238.7,1381.7 L1261.3,1394.4 L1254.3,1408.4 Z" fill="none" stroke="#000" stroke-width="1.4" stroke-linejoin="miter"/>
<path d="M1283.0,1382.3 L1261.3,1394.4 L1264.5,1413.2 Z" fill="#000"/>
<circle cx="2132.8" cy="1381.8" r="27.7" fill="#da70d6"/>
<path d="M2110.8,1366.5 L2133.4,1379.2 L2126.4,1393.2 Z" fill="none" stroke="#000" stroke-width="1.4" stroke-linejoin="miter"/>
<path d="M2155.1,1367.1 L2133.4,1379.2 L2136.6,1398.0 Z" fill="#000"/>
<circle cx="2796.6" cy="1418.0" r="27.7" fill="#da70d6"/>
<path d="M2774.6,1402.7 L2797.2,1415.4 L2790.2,1429.4 Z" fill="none" stroke="#000" stroke-width="1.4" stroke-linejoin="miter"/>
<path d="M2818.9,1403.3 L2797.2,1415.4 L2800.4,1434.2 Z" fill="#000"/>
<rect x="3052.5" y="1869.6" width="67.0" height="57.4" fill="#a9a9a9"/>
<circle cx="1021.0" cy="1831.0" r="27.7" fill="#1e90ff"/>
<path d="M1043.0,1846.3 L1020.4,1833.6 L1027.4,1819.6 Z" fill="none" stroke="#000" stroke-width="1.4" stroke-linejoin="miter"/>
<path d="M998.7,1845.7 L1020.4,1833.6 L1017.2,1814.8 Z" fill="#000"/>
<circle cx="2004.6" cy="1693.5" r="27.7" fill="#1e90ff"/>
<path d="M2026.6,1708.8 L2004.0,1696.1 L2011.0,1682.1 Z" fill="none" stroke="#000" stroke-width="1.4" stroke-linejoin="miter"/>
<path d="M1982.3,1708.2 L2004.0,1696.1 L2000.8,1677.3 Z" fill="#000"/>
<circle cx="2388.8" cy="1752.0" r="27.7" fill="#1e90ff"/>
<path d="M2410.8,1767.3 L2388.2,1754.6 L2395.2,1740.6 Z" fill="none" stroke="#000" stroke-width="1.4" stroke-linejoin="miter"/>
<path d="M2366.5,1766.7 L2388.2,1754.6 L2385.0,1735.8 Z" fill="#000"/>
<circle cx="3084.6" cy="1903.0" r="27.7" fill="#1e90ff"/>
<path d="M3106.6,1918.3 L3084.0,1905.6 L3091.0,1891.6 Z" fill="none" stroke="#000" stroke-width="1.4" stroke-linejoin="miter"/>
<path d="M3062.3,1917.7 L3084.0,1905.6 L3080.8,1886.8 Z" fill="#000"/>
<circle cx="372.3" cy="1303.5" r="9.5" fill="#da70d6"/>
<circle cx="436.4" cy="1421.8" r="15.0" fill="#1e90ff"/>
<circle cx="485.0" cy="1252.0" r="15.0" fill="#da70d6"/>
<circle cx="644.5" cy="1469.5" r="9.5" fill="#1e90ff"/>
<circle cx="677.0" cy="1376.0" r="9.5" fill="#da70d6"/>
<circle cx="788.3" cy="1722.5" r="9.5" fill="#1e90ff"/>
<circle cx="837.0" cy="1531.4" r="9.5" fill="#da70d6"/>
<circle cx="900.4" cy="1644.3" r="9.5" fill="#1e90ff"/>
<circle cx="941.0" cy="1580.0" r="9.5" fill="#da70d6"/>
<circle cx="1125.2" cy="1433.3" r="9.5" fill="#da70d6"/>
<circle cx="1221.2" cy="1603.3" r="9.5" fill="#1e90ff"/>
<circle cx="1380.2" cy="1530.6" r="9.5" fill="#1e90ff"/>
<circle cx="1428.7" cy="1429.5" r="9.5" fill="#da70d6"/>
<circle cx="1548.4" cy="1661.3" r="9.5" fill="#1e90ff"/>
<circle cx="1644.5" cy="1497.0" r="9.5" fill="#da70d6"/>
<circle cx="1796.7" cy="1629.6" r="9.5" fill="#1e90ff"/>
<circle cx="1836.5" cy="1572.6" r="9.5" fill="#da70d6"/>
<circle cx="1940.0" cy="1691.5" r="9.5" fill="#1e90ff"/>
<circle cx="1996.8" cy="1609.5" r="9.5" fill="#da70d6"/>
<circle cx="2204.6" cy="1583.0" r="9.5" fill="#1e90ff"/>
<circle cx="2228.7" cy="1460.0" r="9.5" fill="#da70d6"/>
<circle cx="2461.0" cy="1620.0" r="9.5" fill="#da70d6"/>
<circle cx="2485.5" cy="1697.3" r="9.5" fill="#1e90ff"/>
<circle cx="2564.8" cy="1606.4" r="9.5" fill="#da70d6"/>
<circle cx="2580.3" cy="1674.0" r="9.5" fill="#1e90ff"/>
<circle cx="2645.0" cy="1497.5" r="9.5" fill="#da70d6"/>
<circle cx="2708.7" cy="1615.3" r="9.5" fill="#1e90ff"/>
<circle cx="2716.4" cy="1509.0" r="9.5" fill="#da70d6"/>
<circle cx="2725.4" cy="1617.3" r="9.5" fill="#1e90ff"/>
<circle cx="2749.6" cy="1507.8" r="9.5" fill="#da70d6"/>
<circle cx="2773.0" cy="1643.2" r="9.5" fill="#1e90ff"/>
<circle cx="2925.0" cy="1712.4" r="9.5" fill="#1e90ff"/>
<circle cx="2941.0" cy="1574.0" r="9.5" fill="#da70d6"/>
<circle cx="3245.0" cy="1662.3" r="9.5" fill="#da70d6"/>
<circle cx="3285.0" cy="1776.6" r="9.5" fill="#1e90ff"/>
<circle cx="3317.0" cy="1638.0" r="15.0" fill="#da70d6"/>
<polyline points="4.6,1313.0 1021.0,1831.0 1260.7,1400.8 2003.8,1696.2 2132.0,1385.6 2388.8,1753.4 2796.6,1422.0 3084.6,1905.7" fill="none" stroke="#ffd700" stroke-width="4.2"/>
<polyline points="4.6,1112.5 437.0,1423.7 485.0,1252.0 1021.0,1831.0" fill="none" stroke="#fff" stroke-width="4.2"/>
<polyline points="3084.6,1905.7 3317.0,1640.0" fill="none" stroke="#fff" stroke-width="4.2"/>
<rect x="12.0" y="1108.2" width="2.0" height="26.1" fill="#ee82ee"/>
<rect x="10.2" y="1119.0" width="5.6" height="3.1" fill="#ee82ee"/>
<rect x="20.0" y="1110.2" width="2.0" height="28.7" fill="#696969"/>
<rect x="18.2" y="1122.1" width="5.6" height="13.4" fill="#696969"/>
<rect x="28.0" y="1133.5" width="2.0" height="9.4" fill="#ee82ee"/>
<rect x="26.2" y="1135.5" width="5.6" height="1.5" fill="#ee82ee"/>
<rect x="36.0" y="1125.0" width="2.0" height="19.7" fill="#ee82ee"/>
<rect x="34.2" y="1136.7" width="5.6" height="4.3" fill="#ee82ee"/>
<rect x="44.0" y="1128.7" width="2.0" height="26.0" fill="#696969"/>
<rect x="42.2" y="1141.1" width="5.6" height="8.6" fill="#696969"/>
<rect x="52.0" y="1145.1" width="2.0" height="27.0" fill="#ee82ee"/>
<rect x="50.2" y="1149.6" width="5.6" height="17.0" fill="#ee82ee"/>
<rect x="60.0" y="1160.6" width="2.0" height="17.0" fill="#00bfff"/>
<rect x="58.2" y="1162.8" width="5.6" height="3.8" fill="#00bfff"/>
<rect x="68.0" y="1129.6" width="2.0" height="45.6" fill="#00bfff"/>
<rect x="66.2" y="1142.5" width="5.6" height="20.3" fill="#00bfff"/>
<rect x="76.0" y="1136.4" width="2.0" height="25.5" fill="#ee82ee"/>
<rect x="74.2" y="1142.5" width="5.6" height="9.8" fill="#ee82ee"/>
<rect x="84.0" y="1144.9" width="2.0" height="9.0" fill="#00bfff"/>
<rect x="82.2" y="1146.7" width="5.6" height="5.6" fill="#00bfff"/>
<rect x="92.0" y="1134.1" width="2.0" height="33.6" fill="#ee82ee"/>
<rect x="90.2" y="1146.7" width="5.6" height="14.4" fill="#ee82ee"/>
<rect x="100.0" y="1153.5" width="2.0" height="18.5" fill="#ee82ee"/>
<rect x="98.2" y="1161.0" width="5.6" height="5.3" fill="#ee82ee"/>
<rect x="108.0" y="1158.5" width="2.0" height="23.6" fill="#ee82ee"/>
<rect x="106.2" y="1166.4" width="5.6" height="4.7" fill="#ee82ee"/>
<rect x="116.0" y="1159.2" width="2.0" height="34.3" fill="#ee82ee"/>
<rect x="114.2" y="1171.1" width="5.6" height="19.3" fill="#ee82ee"/>
<rect x="124.0" y="1182.6" width="2.0" height="13.3" fill="#696969"/>
<rect x="122.2" y="1189.5" width="5.6" height="1.5" fill="#696969"/>
<rect x="132.0" y="1180.9" width="2.0" height="27.7" fill="#ee82ee"/>
<rect x="130.2" y="1189.5" width="5.6" height="6.7" fill="#ee82ee"/>
<rect x="140.0" y="1188.2" width="2.0" height="39.0" fill="#ee82ee"/>
<rect x="138.2" y="1196.2" width="5.6" height="17.5" fill="#ee82ee"/>
<rect x="148.0" y="1205.2" width="2.0" height="20.1" fill="#ee82ee"/>
<rect x="146.2" y="1213.7" width="5.6" height="4.9" fill="#ee82ee"/>
<rect x="156.0" y="1211.3" width="2.0" height="22.5" fill="#696969"/>
<rect x="154.2" y="1218.6" width="5.6" height="3.2" fill="#696969"/>
<rect x="164.0" y="1213.1" width="2.0" height="16.5" fill="#ee82ee"/>
<rect x="162.2" y="1221.8" width="5.6" height="4.0" fill="#ee82ee"/>
<rect x="172.0" y="1221.6" width="2.0" height="21.9" fill="#ee82ee"/>
<rect x="170.2" y="1225.8" width="5.6" height="10.1" fill="#ee82ee"/>
<rect x="180.0" y="1228.2" width="2.0" height="26.5" fill="#ee82ee"/>
<rect x="178.2" y="1235.9" width="5.6" height="13.9" fill="#ee82ee"/>
<rect x="188.0" y="1235.8" width="2.0" height="15.8" fill="#696969"/>
<rect x="186.2" y="1248.1" width="5.6" height="1.8" fill="#696969"/>
<rect x="196.0" y="1236.4" width="2.0" height="33.3" fill="#ee82ee"/>
<rect x="194.2" y="1248.1" width="5.6" height="8.1" fill="#ee82ee"/>
<rect x="204.0" y="1234.5" width="2.0" height="30.0" fill="#00bfff"/>
<rect x="202.2" y="1241.5" width="5.6" height="14.7" fill="#00bfff"/>
<rect x="212.0" y="1235.0" width="2.0" height="20.4" fill="#ee82ee"/>
<rect x="210.2" y="1241.5" width="5.6" height="2.8" fill="#ee82ee"/>
<rect x="220.0" y="1242.6" width="2.0" height="11.5" fill="#ee82ee"/>
<rect x="218.2" y="1244.3" width="5.6" height="8.1" fill="#ee82ee"/>
<rect x="228.0" y="1236.8" width="2.0" height="29.2" fill="#00bfff"/>
<rect x="226.2" y="1248.0" width="5.6" height="4.4" fill="#00bfff"/>
<rect x="236.0" y="1243.4" width="2.0" height="25.0" fill="#696969"/>
<rect x="234.2" y="1248.0" width="5.6" height="7.6" fill="#696969"/>
<rect x="244.0" y="1243.8" width="2.0" height="35.7" fill="#ee82ee"/>
<rect x="242.2" y="1255.5" width="5.6" height="20.6" fill="#ee82ee"/>
<rect x="252.0" y="1266.1" width="2.0" height="19.2" fill="#ee82ee"/>
<rect x="250.2" y="1276.1" width="5.6" height="2.8" fill="#ee82ee"/>
<rect x="260.0" y="1270.2" width="2.0" height="17.6" fill="#696969"/>
<rect x="258.2" y="1278.8" width="5.6" height="1.5" fill="#696969"/>
<rect x="268.0" y="1271.9" width="2.0" height="41.5" fill="#ee82ee"/>
<rect x="266.2" y="1279.3" width="5.6" height="20.9" fill="#ee82ee"/>
<rect x="276.0" y="1289.2" width="2.0" height="21.7" fill="#ee82ee"/>
<rect x="274.2" y="1300.2" width="5.6" height="5.8" fill="#ee82ee"/>
<rect x="284.0" y="1297.3" width="2.0" height="18.2" fill="#ee82ee"/>
<rect x="282.2" y="1305.9" width="5.6" height="5.3" fill="#ee82ee"/>
<rect x="292.0" y="1305.8" width="2.0" height="19.1" fill="#ee82ee"/>
<rect x="290.2" y="1311.2" width="5.6" height="7.9" fill="#ee82ee"/>
<rect x="300.0" y="1305.5" width="2.0" height="22.2" fill="#696969"/>
<rect x="298.2" y="1319.1" width="5.6" height="1.7" fill="#696969"/>
<rect x="308.0" y="1309.2" width="2.0" height="30.8" fill="#ee82ee"/>
<rect x="306.2" y="1320.8" width="5.6" height="5.2" fill="#ee82ee"/>
<rect x="316.0" y="1319.2" width="2.0" height="24.2" fill="#ee82ee"/>
<rect x="314.2" y="1325.9" width="5.6" height="15.3" fill="#ee82ee"/>
<rect x="324.0" y="1333.8" width="2.0" height="36.4" fill="#ee82ee"/>
<rect x="322.2" y="1341.2" width="5.6" height="14.8" fill="#ee82ee"/>
<rect x="332.0" y="1329.3" width="2.0" height="36.7" fill="#00bfff"/>
<rect x="330.2" y="1343.1" width="5.6" height="12.9" fill="#00bfff"/>
<rect x="340.0" y="1321.9" width="2.0" height="23.7" fill="#00bfff"/>
<rect x="338.2" y="1330.4" width="5.6" height="12.7" fill="#00bfff"/>
<rect x="348.0" y="1321.7" width="2.0" height="19.4" fill="#00bfff"/>
<rect x="346.2" y="1323.1" width="5.6" height="7.3" fill="#00bfff"/>
<rect x="356.0" y="1305.3" width="2.0" height="19.7" fill="#00bfff"/>
<rect x="354.2" y="1308.7" width="5.6" height="14.4" fill="#00bfff"/>
<rect x="364.0" y="1298.7" width="2.0" height="27.1" fill="#696969"/>
<rect x="362.2" y="1308.7" width="5.6" height="3.6" fill="#696969"/>
<rect x="372.0" y="1303.5" width="2.0" height="17.1" fill="#696969"/>
<rect x="370.2" y="1311.6" width="5.6" height="1.5" fill="#696969"/>
<rect x="380.0" y="1301.3" width="2.0" height="20.5" fill="#ee82ee"/>
<rect x="378.2" y="1311.6" width="5.6" height="8.6" fill="#ee82ee"/>
<rect x="388.0" y="1309.6" width="2.0" height="31.2" fill="#ee82ee"/>
<rect x="386.2" y="1320.1" width="5.6" height="18.2" fill="#ee82ee"/>
<rect x="396.0" y="1332.2" width="2.0" height="41.5" fill="#ee82ee"/>
<rect x="394.2" y="1338.4" width="5.6" height="25.1" fill="#ee82ee"/>
<rect x="404.0" y="1358.7" width="2.0" height="23.8" fill="#ee82ee"/>
<rect x="402.2" y="1363.4" width="5.6" height="5.9" fill="#ee82ee"/>
<rect x="412.0" y="1360.6" width="2.0" height="29.6" fill="#ee82ee"/>
<rect x="410.2" y="1369.3" width="5.6" height="19.6" fill="#ee82ee"/>
<rect x="420.0" y="1377.2" width="2.0" height="31.5" fill="#ee82ee"/>
<rect x="418.2" y="1389.0" width="5.6" height="14.3" fill="#ee82ee"/>
<rect x="428.0" y="1388.7" width="2.0" height="35.2" fill="#ee82ee"/>
<rect x="426.2" y="1403.2" width="5.6" height="15.5" fill="#ee82ee"/>
<rect x="436.0" y="1407.8" width="2.0" height="18.5" fill="#00bfff"/>
<rect x="434.2" y="1409.4" width="5.6" height="9.3" fill="#00bfff"/>
<rect x="444.0" y="1381.2" width="2.0" height="34.9" fill="#00bfff"/>
<rect x="442.2" y="1384.0" width="5.6" height="25.4" fill="#00bfff"/>
<rect x="452.0" y="1346.7" width="2.0" height="46.1" fill="#00bfff"/>
<rect x="450.2" y="1348.4" width="5.6" height="35.6" fill="#00bfff"/>
<rect x="460.0" y="1318.5" width="2.0" height="31.5" fill="#00bfff"/>
<rect x="458.2" y="1324.1" width="5.6" height="24.3" fill="#00bfff"/>
<rect x="468.0" y="1273.1" width="2.0" height="53.9" fill="#00bfff"/>
<rect x="466.2" y="1286.9" width="5.6" height="37.1" fill="#00bfff"/>
<rect x="476.0" y="1259.0" width="2.0" height="40.9" fill="#00bfff"/>
<rect x="474.2" y="1265.8" width="5.6" height="21.2" fill="#00bfff"/>
<rect x="484.0" y="1252.0" width="2.0" height="17.3" fill="#696969"/>
<rect x="482.2" y="1265.8" width="5.6" height="1.5" fill="#696969"/>
<rect x="492.0" y="1257.6" width="2.0" height="37.1" fill="#696969"/>
<rect x="490.2" y="1266.0" width="5.6" height="17.1" fill="#696969"/>
<rect x="500.0" y="1276.2" width="2.0" height="15.3" fill="#ee82ee"/>
<rect x="498.2" y="1283.1" width="5.6" height="5.8" fill="#ee82ee"/>
<rect x="508.0" y="1280.8" width="2.0" height="32.4" fill="#ee82ee"/>
<rect x="506.2" y="1288.9" width="5.6" height="15.1" fill="#ee82ee"/>
<rect x="516.0" y="1291.4" width="2.0" height="45.4" fill="#ee82ee"/>
<rect x="514.2" y="1304.0" width="5.6" height="21.3" fill="#ee82ee"/>
<rect x="524.0" y="1317.9" width="2.0" height="22.6" fill="#ee82ee"/>
<rect x="522.2" y="1325.4" width="5.6" height="13.5" fill="#ee82ee"/>
<rect x="532.0" y="1334.8" width="2.0" height="29.8" fill="#ee82ee"/>
<rect x="530.2" y="1338.9" width="5.6" height="11.4" fill="#ee82ee"/>
<rect x="540.0" y="1337.2" width="2.0" height="33.4" fill="#ee82ee"/>
<rect x="538.2" y="1350.2" width="5.6" height="15.0" fill="#ee82ee"/>
<rect x="548.0" y="1361.0" width="2.0" height="23.5" fill="#ee82ee"/>
<rect x="546.2" y="1365.2" width="5.6" height="14.2" fill="#ee82ee"/>
<rect x="556.0" y="1377.9" width="2.0" height="27.0" fill="#696969"/>
<rect x="554.2" y="1379.4" width="5.6" height="14.3" fill="#696969"/>
<rect x="564.0" y="1358.2" width="2.0" height="42.9" fill="#00bfff"/>
<rect x="562.2" y="1368.9" width="5.6" height="24.8" fill="#00bfff"/>
<rect x="572.0" y="1341.9" width="2.0" height="30.3" fill="#00bfff"/>
<rect x="570.2" y="1352.8" width="5.6" height="16.1" fill="#00bfff"/>
<rect x="580.0" y="1350.1" width="2.0" height="21.5" fill="#ee82ee"/>
<rect x="578.2" y="1352.8" width="5.6" height="7.3" fill="#ee82ee"/>
<rect x="588.0" y="1351.4" width="2.0" height="35.6" fill="#ee82ee"/>
<rect x="586.2" y="1360.1" width="5.6" height="23.2" fill="#ee82ee"/>
<rect x="596.0" y="1377.6" width="2.0" height="23.9" fill="#ee82ee"/>
<rect x="594.2" y="1383.3" width="5.6" height="12.6" fill="#ee82ee"/>
<rect x="604.0" y="1389.7" width="2.0" height="25.3" fill="#ee82ee"/>
<rect x="602.2" y="1396.0" width="5.6" height="10.9" fill="#ee82ee"/>
<rect x="612.0" y="1392.6" width="2.0" height="29.0" fill="#ee82ee"/>
<rect x="610.2" y="1406.9" width="5.6" height="11.1" fill="#ee82ee"/>
<rect x="620.0" y="1413.6" width="2.0" height="38.3" fill="#ee82ee"/>
<rect x="618.2" y="1418.0" width="5.6" height="21.4" fill="#ee82ee"/>
<rect x="628.0" y="1425.6" width="2.0" height="21.0" fill="#ee82ee"/>
<rect x="626.2" y="1439.4" width="5.6" height="2.4" fill="#ee82ee"/>
<rect x="636.0" y="1431.2" width="2.0" height="45.5" fill="#ee82ee"/>
<rect x="634.2" y="1441.8" width="5.6" height="21.5" fill="#ee82ee"/>
<rect x="644.0" y="1452.2" width="2.0" height="17.3" fill="#00bfff"/>
<rect x="642.2" y="1458.5" width="5.6" height="4.8" fill="#00bfff"/>
<rect x="652.0" y="1429.3" width="2.0" height="33.7" fill="#00bfff"/>
<rect x="650.2" y="1436.5" width="5.6" height="22.0" fill="#00bfff"/>
<rect x="660.0" y="1409.9" width="2.0" height="38.3" fill="#00bfff"/>
<rect x="658.2" y="1412.9" width="5.6" height="23.6" fill="#00bfff"/>
<rect x="668.0" y="1374.2" width="2.0" height="51.8" fill="#00bfff"/>
<rect x="666.2" y="1380.9" width="5.6" height="32.0" fill="#00bfff"/>
<rect x="676.0" y="1374.8" width="2.0" height="21.1" fill="#696969"/>
<rect x="674.2" y="1380.9" width="5.6" height="1.5" fill="#696969"/>
<rect x="684.0" y="1379.2" width="2.0" height="40.9" fill="#ee82ee"/>
<rect x="682.2" y="1381.8" width="5.6" height="24.9" fill="#ee82ee"/>
<rect x="692.0" y="1395.7" width="2.0" height="49.7" fill="#ee82ee"/>
<rect x="690.2" y="1406.6" width="5.6" height="37.4" fill="#ee82ee"/>
<rect x="700.0" y="1436.2" width="2.0" height="32.9" fill="#ee82ee"/>
<rect x="698.2" y="1444.0" width="5.6" height="12.1" fill="#ee82ee"/>
<rect x="708.0" y="1443.9" width="2.0" height="51.9" fill="#ee82ee"/>
<rect x="706.2" y="1456.1" width="5.6" height="37.0" fill="#ee82ee"/>
<rect x="716.0" y="1490.7" width="2.0" height="20.9" fill="#ee82ee"/>
<rect x="714.2" y="1493.1" width="5.6" height="15.2" fill="#ee82ee"/>
<rect x="724.0" y="1506.6" width="2.0" height="43.7" fill="#ee82ee"/>
<rect x="722.2" y="1508.3" width="5.6" height="31.7" fill="#ee82ee"/>
<rect x="732.0" y="1531.3" width="2.0" height="32.7" fill="#ee82ee"/>
<rect x="730.2" y="1540.0" width="5.6" height="21.7" fill="#ee82ee"/>
<rect x="740.0" y="1549.3" width="2.0" height="44.7" fill="#ee82ee"/>
<rect x="738.2" y="1561.8" width="5.6" height="23.9" fill="#ee82ee"/>
<rect x="748.0" y="1576.4" width="2.0" height="31.1" fill="#ee82ee"/>
<rect x="746.2" y="1585.6" width="5.6" height="20.4" fill="#ee82ee"/>
<rect x="756.0" y="1600.7" width="2.0" height="50.2" fill="#ee82ee"/>
<rect x="754.2" y="1606.0" width="5.6" height="31.6" fill="#ee82ee"/>
<rect x="764.0" y="1633.2" width="2.0" height="32.9" fill="#ee82ee"/>
<rect x="762.2" y="1637.7" width="5.6" height="23.0" fill="#ee82ee"/>
<rect x="772.0" y="1657.4" width="2.0" height="28.3" fill="#ee82ee"/>
<rect x="770.2" y="1660.6" width="5.6" height="20.7" fill="#ee82ee"/>
<rect x="780.0" y="1673.1" width="2.0" height="36.5" fill="#ee82ee"/>
<rect x="778.2" y="1681.4" width="5.6" height="25.7" fill="#ee82ee"/>
<rect x="788.0" y="1702.8" width="2.0" height="19.7" fill="#00bfff"/>
<rect x="786.2" y="1704.8" width="5.6" height="2.2" fill="#00bfff"/>
<rect x="796.0" y="1671.1" width="2.0" height="47.6" fill="#00bfff"/>
<rect x="794.2" y="1679.5" width="5.6" height="25.3" fill="#00bfff"/>
<rect x="804.0" y="1633.3" width="2.0" height="54.1" fill="#696969"/>
<rect x="802.2" y="1640.5" width="5.6" height="39.0" fill="#696969"/>
<rect x="812.0" y="1595.6" width="2.0" height="52.1" fill="#00bfff"/>
<rect x="810.2" y="1607.8" width="5.6" height="32.6" fill="#00bfff"/>
<rect x="820.0" y="1566.1" width="2.0" height="53.6" fill="#00bfff"/>
<rect x="818.2" y="1574.1" width="5.6" height="33.8" fill="#00bfff"/>
<rect x="828.0" y="1536.9" width="2.0" height="47.6" fill="#00bfff"/>
<rect x="826.2" y="1540.7" width="5.6" height="33.4" fill="#00bfff"/>
<rect x="836.0" y="1528.8" width="2.0" height="22.5" fill="#696969"/>
<rect x="834.2" y="1540.0" width="5.6" height="1.5" fill="#696969"/>
<rect x="844.0" y="1526.9" width="2.0" height="38.6" fill="#ee82ee"/>
<rect x="842.2" y="1540.0" width="5.6" height="18.0" fill="#ee82ee"/>
<rect x="852.0" y="1545.5" width="2.0" height="27.0" fill="#ee82ee"/>
<rect x="850.2" y="1558.0" width="5.6" height="3.9" fill="#ee82ee"/>
<rect x="860.0" y="1559.3" width="2.0" height="28.6" fill="#ee82ee"/>
<rect x="858.2" y="1561.9" width="5.6" height="17.4" fill="#ee82ee"/>
<rect x="868.0" y="1567.1" width="2.0" height="31.3" fill="#ee82ee"/>
<rect x="866.2" y="1579.4" width="5.6" height="15.4" fill="#ee82ee"/>
<rect x="876.0" y="1580.9" width="2.0" height="46.3" fill="#ee82ee"/>
<rect x="874.2" y="1594.8" width="5.6" height="21.6" fill="#ee82ee"/>
<rect x="884.0" y="1605.5" width="2.0" height="20.3" fill="#ee82ee"/>
<rect x="882.2" y="1616.4" width="5.6" height="3.5" fill="#ee82ee"/>
<rect x="892.0" y="1609.7" width="2.0" height="32.4" fill="#ee82ee"/>
<rect x="890.2" y="1619.9" width="5.6" height="12.0" fill="#ee82ee"/>
<rect x="900.0" y="1623.6" width="2.0" height="20.7" fill="#ee82ee"/>
<rect x="898.2" y="1632.0" width="5.6" height="4.4" fill="#ee82ee"/>
<rect x="908.0" y="1625.0" width="2.0" height="24.1" fill="#00bfff"/>
<rect x="906.2" y="1631.7" width="5.6" height="4.6" fill="#00bfff"/>
<rect x="916.0" y="1598.5" width="2.0" height="35.3" fill="#00bfff"/>
<rect x="914.2" y="1607.4" width="5.6" height="24.3" fill="#00bfff"/>
<rect x="924.0" y="1601.6" width="2.0" height="9.6" fill="#00bfff"/>
<rect x="922.2" y="1604.9" width="5.6" height="2.5" fill="#00bfff"/>
<rect x="932.0" y="1582.2" width="2.0" height="32.0" fill="#00bfff"/>
<rect x="930.2" y="1586.2" width="5.6" height="18.7" fill="#00bfff"/>
<rect x="940.0" y="1580.0" width="2.0" height="17.1" fill="#ee82ee"/>
<rect x="938.2" y="1586.2" width="5.6" height="2.6" fill="#ee82ee"/>
<rect x="948.0" y="1574.4" width="2.0" height="61.0" fill="#ee82ee"/>
<rect x="946.2" y="1588.8" width="5.6" height="33.4" fill="#ee82ee"/>
<rect x="956.0" y="1619.7" width="2.0" height="31.7" fill="#ee82ee"/>
<rect x="954.2" y="1622.2" width="5.6" height="25.7" fill="#ee82ee"/>
<rect x="964.0" y="1646.2" width="2.0" height="27.3" fill="#ee82ee"/>
<rect x="962.2" y="1647.9" width="5.6" height="23.8" fill="#ee82ee"/>
<rect x="972.0" y="1665.1" width="2.0" height="34.7" fill="#ee82ee"/>
<rect x="970.2" y="1671.7" width="5.6" height="25.1" fill="#ee82ee"/>
<rect x="980.0" y="1694.8" width="2.0" height="28.3" fill="#ee82ee"/>
<rect x="978.2" y="1696.8" width="5.6" height="20.1" fill="#ee82ee"/>
<rect x="988.0" y="1706.8" width="2.0" height="38.1" fill="#696969"/>
<rect x="986.2" y="1716.9" width="5.6" height="21.6" fill="#696969"/>
<rect x="996.0" y="1731.6" width="2.0" height="47.1" fill="#ee82ee"/>
<rect x="994.2" y="1738.5" width="5.6" height="31.8" fill="#ee82ee"/>
<rect x="1004.0" y="1767.7" width="2.0" height="33.6" fill="#ee82ee"/>
<rect x="1002.2" y="1770.3" width="5.6" height="18.5" fill="#ee82ee"/>
<rect x="1012.0" y="1776.1" width="2.0" height="44.7" fill="#ee82ee"/>
<rect x="1010.2" y="1788.8" width="5.6" height="24.1" fill="#ee82ee"/>
<rect x="1020.0" y="1811.1" width="2.0" height="19.9" fill="#696969"/>
<rect x="1018.2" y="1812.3" width="5.6" height="1.5" fill="#696969"/>
<rect x="1028.0" y="1780.0" width="2.0" height="39.8" fill="#00bfff"/>
<rect x="1026.2" y="1786.3" width="5.6" height="26.0" fill="#00bfff"/>
<rect x="1036.0" y="1754.0" width="2.0" height="37.9" fill="#00bfff"/>
<rect x="1034.2" y="1759.2" width="5.6" height="27.1" fill="#00bfff"/>
<rect x="1044.0" y="1713.1" width="2.0" height="54.6" fill="#00bfff"/>
<rect x="1042.2" y="1723.7" width="5.6" height="35.5" fill="#00bfff"/>
<rect x="1052.0" y="1681.9" width="2.0" height="54.6" fill="#696969"/>
<rect x="1050.2" y="1692.3" width="5.6" height="31.5" fill="#696969"/>
<rect x="1060.0" y="1656.5" width="2.0" height="43.0" fill="#00bfff"/>
<rect x="1058.2" y="1669.7" width="5.6" height="22.5" fill="#00bfff"/>
<rect x="1068.0" y="1613.4" width="2.0" height="68.2" fill="#00bfff"/>
<rect x="1066.2" y="1627.8" width="5.6" height="41.9" fill="#00bfff"/>
<rect x="1076.0" y="1591.3" width="2.0" height="50.5" fill="#696969"/>
<rect x="1074.2" y="1600.1" width="5.6" height="27.7" fill="#696969"/>
<rect x="1084.0" y="1574.2" width="2.0" height="32.6" fill="#00bfff"/>
<rect x="1082.2" y="1575.3" width="5.6" height="24.8" fill="#00bfff"/>
<rect x="1092.0" y="1542.4" width="2.0" height="37.3" fill="#00bfff"/>
<rect x="1090.2" y="1547.5" width="5.6" height="27.8" fill="#00bfff"/>
<rect x="1100.0" y="1497.4" width="2.0" height="60.9" fill="#00bfff"/>
<rect x="1098.2" y="1506.7" width="5.6" height="40.8" fill="#00bfff"/>
<rect x="1108.0" y="1464.8" width="2.0" height="45.9" fill="#00bfff"/>
<rect x="1106.2" y="1472.5" width="5.6" height="34.2" fill="#00bfff"/>
<rect x="1116.0" y="1438.2" width="2.0" height="43.0" fill="#00bfff"/>
<rect x="1114.2" y="1444.4" width="5.6" height="28.1" fill="#00bfff"/>
<rect x="1124.0" y="1429.7" width="2.0" height="23.3" fill="#00bfff"/>
<rect x="1122.2" y="1439.4" width="5.6" height="5.0" fill="#00bfff"/>
<rect x="1132.0" y="1432.5" width="2.0" height="28.2" fill="#ee82ee"/>
<rect x="1130.2" y="1439.4" width="5.6" height="9.6" fill="#ee82ee"/>
<rect x="1140.0" y="1435.8" width="2.0" height="48.4" fill="#ee82ee"/>
<rect x="1138.2" y="1448.9" width="5.6" height="24.2" fill="#ee82ee"/>
<rect x="1148.0" y="1461.1" width="2.0" height="18.9" fill="#00bfff"/>
<rect x="1146.2" y="1472.5" width="5.6" height="1.5" fill="#00bfff"/>
<rect x="1156.0" y="1452.9" width="2.0" height="30.8" fill="#00bfff"/>
<rect x="1154.2" y="1466.7" width="5.6" height="5.8" fill="#00bfff"/>
<rect x="1164.0" y="1455.2" width="2.0" height="28.9" fill="#ee82ee"/>
<rect x="1162.2" y="1466.7" width="5.6" height="7.6" fill="#ee82ee"/>
<rect x="1172.0" y="1444.4" width="2.0" height="39.2" fill="#00bfff"/>
<rect x="1170.2" y="1455.5" width="5.6" height="18.8" fill="#00bfff"/>
<rect x="1180.0" y="1440.2" width="2.0" height="18.2" fill="#00bfff"/>
<rect x="1178.2" y="1450.2" width="5.6" height="5.3" fill="#00bfff"/>
<rect x="1188.0" y="1437.9" width="2.0" height="14.6" fill="#696969"/>
<rect x="1186.2" y="1449.0" width="5.6" height="1.5" fill="#696969"/>
<rect x="1196.0" y="1435.1" width="2.0" height="23.7" fill="#00bfff"/>
<rect x="1194.2" y="1441.6" width="5.6" height="7.3" fill="#00bfff"/>
<rect x="1204.0" y="1439.4" width="2.0" height="51.6" fill="#ee82ee"/>
<rect x="1202.2" y="1441.6" width="5.6" height="38.2" fill="#ee82ee"/>
<rect x="1212.0" y="1478.5" width="2.0" height="89.6" fill="#ee82ee"/>
<rect x="1210.2" y="1479.9" width="5.6" height="77.0" fill="#ee82ee"/>
<rect x="1220.0" y="1544.4" width="2.0" height="58.9" fill="#ee82ee"/>
<rect x="1218.2" y="1556.8" width="5.6" height="28.7" fill="#ee82ee"/>
<rect x="1228.0" y="1544.4" width="2.0" height="42.3" fill="#00bfff"/>
<rect x="1226.2" y="1548.4" width="5.6" height="37.1" fill="#00bfff"/>
<rect x="1236.0" y="1495.1" width="2.0" height="59.1" fill="#00bfff"/>
<rect x="1234.2" y="1499.0" width="5.6" height="49.4" fill="#00bfff"/>
<rect x="1244.0" y="1455.6" width="2.0" height="56.6" fill="#00bfff"/>
<rect x="1242.2" y="1464.0" width="5.6" height="35.0" fill="#00bfff"/>
<rect x="1252.0" y="1413.1" width="2.0" height="62.0" fill="#00bfff"/>
<rect x="1250.2" y="1423.0" width="5.6" height="41.0" fill="#00bfff"/>
<rect x="1260.0" y="1397.0" width="2.0" height="31.5" fill="#00bfff"/>
<rect x="1258.2" y="1408.6" width="5.6" height="14.3" fill="#00bfff"/>
<rect x="1268.0" y="1395.0" width="2.0" height="39.1" fill="#ee82ee"/>
<rect x="1266.2" y="1408.6" width="5.6" height="11.3" fill="#ee82ee"/>
<rect x="1276.0" y="1415.0" width="2.0" height="32.0" fill="#ee82ee"/>
<rect x="1274.2" y="1419.9" width="5.6" height="22.0" fill="#ee82ee"/>
<rect x="1284.0" y="1428.4" width="2.0" height="24.8" fill="#ee82ee"/>
<rect x="1282.2" y="1441.9" width="5.6" height="7.2" fill="#ee82ee"/>
<rect x="1292.0" y="1435.0" width="2.0" height="30.9" fill="#ee82ee"/>
<rect x="1290.2" y="1449.2" width="5.6" height="14.9" fill="#ee82ee"/>
<rect x="1300.0" y="1454.2" width="2.0" height="15.8" fill="#00bfff"/>
<rect x="1298.2" y="1460.7" width="5.6" height="3.4" fill="#00bfff"/>
<rect x="1308.0" y="1431.9" width="2.0" height="38.6" fill="#00bfff"/>
<rect x="1306.2" y="1444.0" width="5.6" height="16.7" fill="#00bfff"/>
<rect x="1316.0" y="1422.0" width="2.0" height="26.0" fill="#00bfff"/>
<rect x="1314.2" y="1431.8" width="5.6" height="12.2" fill="#00bfff"/>
<rect x="1324.0" y="1430.6" width="2.0" height="21.4" fill="#ee82ee"/>
<rect x="1322.2" y="1431.8" width="5.6" height="8.6" fill="#ee82ee"/>
<rect x="1332.0" y="1426.8" width="2.0" height="36.7" fill="#ee82ee"/>
<rect x="1330.2" y="1440.4" width="5.6" height="15.6" fill="#ee82ee"/>
<rect x="1340.0" y="1453.8" width="2.0" height="16.8" fill="#ee82ee"/>
<rect x="1338.2" y="1455.9" width="5.6" height="12.8" fill="#ee82ee"/>
<rect x="1348.0" y="1455.5" width="2.0" height="37.9" fill="#ee82ee"/>
<rect x="1346.2" y="1468.7" width="5.6" height="19.0" fill="#ee82ee"/>
<rect x="1356.0" y="1484.3" width="2.0" height="22.5" fill="#ee82ee"/>
<rect x="1354.2" y="1487.8" width="5.6" height="9.0" fill="#ee82ee"/>
<rect x="1364.0" y="1484.3" width="2.0" height="40.9" fill="#ee82ee"/>
<rect x="1362.2" y="1496.8" width="5.6" height="18.1" fill="#ee82ee"/>
<rect x="1372.0" y="1509.8" width="2.0" height="18.8" fill="#ee82ee"/>
<rect x="1370.2" y="1514.8" width="5.6" height="8.2" fill="#ee82ee"/>
<rect x="1380.0" y="1506.5" width="2.0" height="24.1" fill="#696969"/>
<rect x="1378.2" y="1518.0" width="5.6" height="5.0" fill="#696969"/>
<rect x="1388.0" y="1497.1" width="2.0" height="32.5" fill="#00bfff"/>
<rect x="1386.2" y="1502.0" width="5.6" height="16.1" fill="#00bfff"/>
<rect x="1396.0" y="1485.7" width="2.0" height="21.0" fill="#696969"/>
<rect x="1394.2" y="1492.7" width="5.6" height="9.3" fill="#696969"/>
<rect x="1404.0" y="1453.3" width="2.0" height="46.0" fill="#00bfff"/>
<rect x="1402.2" y="1465.4" width="5.6" height="27.3" fill="#00bfff"/>
<rect x="1412.0" y="1456.5" width="2.0" height="12.4" fill="#00bfff"/>
<rect x="1410.2" y="1460.3" width="5.6" height="5.1" fill="#00bfff"/>
<rect x="1420.0" y="1435.8" width="2.0" height="32.5" fill="#00bfff"/>
<rect x="1418.2" y="1439.6" width="5.6" height="20.7" fill="#00bfff"/>
<rect x="1428.0" y="1428.1" width="2.0" height="19.3" fill="#ee82ee"/>
<rect x="1426.2" y="1439.6" width="5.6" height="3.6" fill="#ee82ee"/>
<rect x="1436.0" y="1441.8" width="2.0" height="16.1" fill="#ee82ee"/>
<rect x="1434.2" y="1443.2" width="5.6" height="3.9" fill="#ee82ee"/>
<rect x="1444.0" y="1434.5" width="2.0" height="34.2" fill="#ee82ee"/>
<rect x="1442.2" y="1447.0" width="5.6" height="20.3" fill="#ee82ee"/>
<rect x="1452.0" y="1456.0" width="2.0" height="39.3" fill="#ee82ee"/>
<rect x="1450.2" y="1467.3" width="5.6" height="14.3" fill="#ee82ee"/>
<rect x="1460.0" y="1472.7" width="2.0" height="41.9" fill="#696969"/>
<rect x="1458.2" y="1481.6" width="5.6" height="23.5" fill="#696969"/>
<rect x="1468.0" y="1501.7" width="2.0" height="25.8" fill="#ee82ee"/>
<rect x="1466.2" y="1505.1" width="5.6" height="13.9" fill="#ee82ee"/>
<rect x="1476.0" y="1504.7" width="2.0" height="27.6" fill="#ee82ee"/>
<rect x="1474.2" y="1519.0" width="5.6" height="12.1" fill="#ee82ee"/>
<rect x="1484.0" y="1521.6" width="2.0" height="25.9" fill="#ee82ee"/>
<rect x="1482.2" y="1531.1" width="5.6" height="13.3" fill="#ee82ee"/>
<rect x="1492.0" y="1541.4" width="2.0" height="34.6" fill="#ee82ee"/>
<rect x="1490.2" y="1544.4" width="5.6" height="18.5" fill="#ee82ee"/>
<rect x="1500.0" y="1558.1" width="2.0" height="24.8" fill="#ee82ee"/>
<rect x="1498.2" y="1562.9" width="5.6" height="13.0" fill="#ee82ee"/>
<rect x="1508.0" y="1570.0" width="2.0" height="33.1" fill="#ee82ee"/>
<rect x="1506.2" y="1575.9" width="5.6" height="13.8" fill="#ee82ee"/>
<rect x="1516.0" y="1586.7" width="2.0" height="27.0" fill="#ee82ee"/>
<rect x="1514.2" y="1589.6" width="5.6" height="13.4" fill="#ee82ee"/>
<rect x="1524.0" y="1600.0" width="2.0" height="30.2" fill="#ee82ee"/>
<rect x="1522.2" y="1603.1" width="5.6" height="22.9" fill="#ee82ee"/>
<rect x="1532.0" y="1625.0" width="2.0" height="20.0" fill="#696969"/>
<rect x="1530.2" y="1626.0" width="5.6" height="10.6" fill="#696969"/>
<rect x="1540.0" y="1634.2" width="2.0" height="25.1" fill="#ee82ee"/>
<rect x="1538.2" y="1636.6" width="5.6" height="15.4" fill="#ee82ee"/>
<rect x="1548.0" y="1647.7" width="2.0" height="22.7" fill="#ee82ee"/>
<rect x="1546.2" y="1652.0" width="5.6" height="4.4" fill="#ee82ee"/>
<rect x="1556.0" y="1623.0" width="2.0" height="34.5" fill="#00bfff"/>
<rect x="1554.2" y="1632.3" width="5.6" height="24.1" fill="#00bfff"/>
<rect x="1564.0" y="1612.7" width="2.0" height="33.8" fill="#00bfff"/>
<rect x="1562.2" y="1620.8" width="5.6" height="11.5" fill="#00bfff"/>
<rect x="1572.0" y="1599.2" width="2.0" height="32.6" fill="#00bfff"/>
<rect x="1570.2" y="1607.6" width="5.6" height="13.2" fill="#00bfff"/>
<rect x="1580.0" y="1587.2" width="2.0" height="27.1" fill="#00bfff"/>
<rect x="1578.2" y="1592.6" width="5.6" height="15.0" fill="#00bfff"/>
<rect x="1588.0" y="1570.3" width="2.0" height="24.5" fill="#00bfff"/>
<rect x="1586.2" y="1580.6" width="5.6" height="12.0" fill="#00bfff"/>
<rect x="1596.0" y="1561.4" width="2.0" height="23.6" fill="#00bfff"/>
<rect x="1594.2" y="1567.8" width="5.6" height="12.8" fill="#00bfff"/>
<rect x="1604.0" y="1559.1" width="2.0" height="16.5" fill="#00bfff"/>
<rect x="1602.2" y="1562.1" width="5.6" height="5.7" fill="#00bfff"/>
<rect x="1612.0" y="1547.6" width="2.0" height="17.8" fill="#00bfff"/>
<rect x="1610.2" y="1549.7" width="5.6" height="12.4" fill="#00bfff"/>
<rect x="1620.0" y="1527.1" width="2.0" height="27.1" fill="#00bfff"/>
<rect x="1618.2" y="1536.0" width="5.6" height="13.8" fill="#00bfff"/>
<rect x="1628.0" y="1505.0" width="2.0" height="40.4" fill="#00bfff"/>
<rect x="1626.2" y="1512.2" width="5.6" height="23.8" fill="#00bfff"/>
<rect x="1636.0" y="1502.2" width="2.0" height="19.6" fill="#00bfff"/>
<rect x="1634.2" y="1507.8" width="5.6" height="4.4" fill="#00bfff"/>
<rect x="1644.0" y="1495.8" width="2.0" height="15.8" fill="#00bfff"/>
<rect x="1642.2" y="1502.7" width="5.6" height="5.1" fill="#00bfff"/>
<rect x="1652.0" y="1495.8" width="2.0" height="21.4" fill="#ee82ee"/>
<rect x="1650.2" y="1502.7" width="5.6" height="6.2" fill="#ee82ee"/>
<rect x="1660.0" y="1498.8" width="2.0" height="28.2" fill="#ee82ee"/>
<rect x="1658.2" y="1508.9" width="5.6" height="11.4" fill="#ee82ee"/>
<rect x="1668.0" y="1513.6" width="2.0" height="25.6" fill="#ee82ee"/>
<rect x="1666.2" y="1520.3" width="5.6" height="12.0" fill="#ee82ee"/>
<rect x="1676.0" y="1526.1" width="2.0" height="34.6" fill="#ee82ee"/>
<rect x="1674.2" y="1532.2" width="5.6" height="16.2" fill="#ee82ee"/>
<rect x="1684.0" y="1545.2" width="2.0" height="28.5" fill="#ee82ee"/>
<rect x="1682.2" y="1548.4" width="5.6" height="15.6" fill="#ee82ee"/>
<rect x="1692.0" y="1562.9" width="2.0" height="22.1" fill="#ee82ee"/>
<rect x="1690.2" y="1564.1" width="5.6" height="12.7" fill="#ee82ee"/>
<rect x="1700.0" y="1569.6" width="2.0" height="10.4" fill="#696969"/>
<rect x="1698.2" y="1576.2" width="5.6" height="1.5" fill="#696969"/>
<rect x="1708.0" y="1555.9" width="2.0" height="22.1" fill="#00bfff"/>
<rect x="1706.2" y="1568.2" width="5.6" height="8.0" fill="#00bfff"/>
<rect x="1716.0" y="1550.3" width="2.0" height="22.6" fill="#00bfff"/>
<rect x="1714.2" y="1556.2" width="5.6" height="12.0" fill="#00bfff"/>
<rect x="1724.0" y="1539.5" width="2.0" height="26.5" fill="#00bfff"/>
<rect x="1722.2" y="1545.2" width="5.6" height="11.0" fill="#00bfff"/>
<rect x="1732.0" y="1530.8" width="2.0" height="27.7" fill="#696969"/>
<rect x="1730.2" y="1544.7" width="5.6" height="1.5" fill="#696969"/>
<rect x="1740.0" y="1535.8" width="2.0" height="23.2" fill="#ee82ee"/>
<rect x="1738.2" y="1544.7" width="5.6" height="1.5" fill="#ee82ee"/>
<rect x="1748.0" y="1537.4" width="2.0" height="31.7" fill="#ee82ee"/>
<rect x="1746.2" y="1545.9" width="5.6" height="9.8" fill="#ee82ee"/>
<rect x="1756.0" y="1544.8" width="2.0" height="32.9" fill="#ee82ee"/>
<rect x="1754.2" y="1555.6" width="5.6" height="14.8" fill="#ee82ee"/>
<rect x="1764.0" y="1557.3" width="2.0" height="32.6" fill="#696969"/>
<rect x="1762.2" y="1570.4" width="5.6" height="10.2" fill="#696969"/>
<rect x="1772.0" y="1568.5" width="2.0" height="34.1" fill="#ee82ee"/>
<rect x="1770.2" y="1580.6" width="5.6" height="11.7" fill="#ee82ee"/>
<rect x="1780.0" y="1586.6" width="2.0" height="24.5" fill="#ee82ee"/>
<rect x="1778.2" y="1592.3" width="5.6" height="13.7" fill="#ee82ee"/>
<rect x="1788.0" y="1600.4" width="2.0" height="22.2" fill="#ee82ee"/>
<rect x="1786.2" y="1605.9" width="5.6" height="12.9" fill="#ee82ee"/>
<rect x="1796.0" y="1605.3" width="2.0" height="24.3" fill="#ee82ee"/>
<rect x="1794.2" y="1618.9" width="5.6" height="4.2" fill="#ee82ee"/>
<rect x="1804.0" y="1608.0" width="2.0" height="26.5" fill="#00bfff"/>
<rect x="1802.2" y="1610.2" width="5.6" height="12.9" fill="#00bfff"/>
<rect x="1812.0" y="1585.3" width="2.0" height="29.7" fill="#00bfff"/>
<rect x="1810.2" y="1595.5" width="5.6" height="14.7" fill="#00bfff"/>
<rect x="1820.0" y="1590.9" width="2.0" height="7.1" fill="#00bfff"/>
<rect x="1818.2" y="1592.3" width="5.6" height="3.1" fill="#00bfff"/>
<rect x="1828.0" y="1575.2" width="2.0" height="30.8" fill="#00bfff"/>
<rect x="1826.2" y="1579.8" width="5.6" height="12.6" fill="#00bfff"/>
<rect x="1836.0" y="1572.6" width="2.0" height="19.9" fill="#ee82ee"/>
<rect x="1834.2" y="1579.8" width="5.6" height="5.0" fill="#ee82ee"/>
<rect x="1844.0" y="1580.4" width="2.0" height="14.7" fill="#00bfff"/>
<rect x="1842.2" y="1582.8" width="5.6" height="2.0" fill="#00bfff"/>
<rect x="1852.0" y="1571.7" width="2.0" height="24.1" fill="#ee82ee"/>
<rect x="1850.2" y="1582.8" width="5.6" height="7.6" fill="#ee82ee"/>
<rect x="1860.0" y="1578.1" width="2.0" height="38.1" fill="#ee82ee"/>
<rect x="1858.2" y="1590.4" width="5.6" height="14.4" fill="#ee82ee"/>
<rect x="1868.0" y="1603.4" width="2.0" height="21.3" fill="#ee82ee"/>
<rect x="1866.2" y="1604.7" width="5.6" height="12.2" fill="#ee82ee"/>
<rect x="1876.0" y="1614.9" width="2.0" height="9.9" fill="#ee82ee"/>
<rect x="1874.2" y="1617.0" width="5.6" height="5.3" fill="#ee82ee"/>
<rect x="1884.0" y="1619.2" width="2.0" height="28.5" fill="#696969"/>
<rect x="1882.2" y="1622.3" width="5.6" height="15.2" fill="#696969"/>
<rect x="1892.0" y="1627.2" width="2.0" height="19.3" fill="#ee82ee"/>
<rect x="1890.2" y="1637.4" width="5.6" height="8.0" fill="#ee82ee"/>
<rect x="1900.0" y="1636.1" width="2.0" height="23.1" fill="#ee82ee"/>
<rect x="1898.2" y="1645.4" width="5.6" height="5.7" fill="#ee82ee"/>
<rect x="1908.0" y="1646.0" width="2.0" height="28.1" fill="#ee82ee"/>
<rect x="1906.2" y="1651.1" width="5.6" height="12.3" fill="#ee82ee"/>
<rect x="1916.0" y="1662.2" width="2.0" height="14.2" fill="#ee82ee"/>
<rect x="1914.2" y="1663.4" width="5.6" height="4.1" fill="#ee82ee"/>
<rect x="1924.0" y="1662.3" width="2.0" height="23.9" fill="#ee82ee"/>
<rect x="1922.2" y="1667.5" width="5.6" height="5.1" fill="#ee82ee"/>
<rect x="1932.0" y="1669.5" width="2.0" height="24.5" fill="#ee82ee"/>
<rect x="1930.2" y="1672.5" width="5.6" height="16.1" fill="#ee82ee"/>
<rect x="1940.0" y="1685.7" width="2.0" height="7.1" fill="#696969"/>
<rect x="1938.2" y="1688.6" width="5.6" height="1.5" fill="#696969"/>
<rect x="1948.0" y="1661.4" width="2.0" height="40.8" fill="#00bfff"/>
<rect x="1946.2" y="1670.6" width="5.6" height="19.3" fill="#00bfff"/>
<rect x="1956.0" y="1666.2" width="2.0" height="15.7" fill="#00bfff"/>
<rect x="1954.2" y="1667.5" width="5.6" height="3.1" fill="#00bfff"/>
<rect x="1964.0" y="1646.7" width="2.0" height="28.7" fill="#696969"/>
<rect x="1962.2" y="1655.1" width="5.6" height="12.4" fill="#696969"/>
<rect x="1972.0" y="1622.3" width="2.0" height="38.5" fill="#00bfff"/>
<rect x="1970.2" y="1636.6" width="5.6" height="18.5" fill="#00bfff"/>
<rect x="1980.0" y="1621.4" width="2.0" height="23.9" fill="#00bfff"/>
<rect x="1978.2" y="1623.4" width="5.6" height="13.3" fill="#00bfff"/>
<rect x="1988.0" y="1604.9" width="2.0" height="25.5" fill="#00bfff"/>
<rect x="1986.2" y="1611.0" width="5.6" height="12.4" fill="#00bfff"/>
<rect x="1996.0" y="1599.7" width="2.0" height="59.8" fill="#ee82ee"/>
<rect x="1994.2" y="1611.0" width="5.6" height="41.4" fill="#ee82ee"/>
<rect x="2004.0" y="1643.0" width="2.0" height="50.5" fill="#696969"/>
<rect x="2002.2" y="1652.3" width="5.6" height="27.1" fill="#696969"/>
<rect x="2012.0" y="1650.3" width="2.0" height="31.8" fill="#00bfff"/>
<rect x="2010.2" y="1661.7" width="5.6" height="17.7" fill="#00bfff"/>
<rect x="2020.0" y="1636.4" width="2.0" height="34.8" fill="#696969"/>
<rect x="2018.2" y="1643.8" width="5.6" height="17.9" fill="#696969"/>
<rect x="2028.0" y="1621.7" width="2.0" height="25.2" fill="#00bfff"/>
<rect x="2026.2" y="1625.1" width="5.6" height="18.7" fill="#00bfff"/>
<rect x="2036.0" y="1602.4" width="2.0" height="36.9" fill="#00bfff"/>
<rect x="2034.2" y="1611.3" width="5.6" height="13.8" fill="#00bfff"/>
<rect x="2044.0" y="1575.5" width="2.0" height="48.2" fill="#696969"/>
<rect x="2042.2" y="1586.2" width="5.6" height="25.0" fill="#696969"/>
<rect x="2052.0" y="1560.2" width="2.0" height="33.2" fill="#696969"/>
<rect x="2050.2" y="1566.7" width="5.6" height="19.6" fill="#696969"/>
<rect x="2060.0" y="1534.2" width="2.0" height="34.6" fill="#00bfff"/>
<rect x="2058.2" y="1548.5" width="5.6" height="18.2" fill="#00bfff"/>
<rect x="2068.0" y="1511.4" width="2.0" height="50.7" fill="#00bfff"/>
<rect x="2066.2" y="1520.3" width="5.6" height="28.2" fill="#00bfff"/>
<rect x="2076.0" y="1489.5" width="2.0" height="32.9" fill="#00bfff"/>
<rect x="2074.2" y="1502.4" width="5.6" height="17.9" fill="#00bfff"/>
<rect x="2084.0" y="1478.3" width="2.0" height="31.8" fill="#00bfff"/>
<rect x="2082.2" y="1487.2" width="5.6" height="15.2" fill="#00bfff"/>
<rect x="2092.0" y="1455.7" width="2.0" height="34.0" fill="#00bfff"/>
<rect x="2090.2" y="1464.1" width="5.6" height="23.1" fill="#00bfff"/>
<rect x="2100.0" y="1437.4" width="2.0" height="34.4" fill="#00bfff"/>
<rect x="2098.2" y="1449.7" width="5.6" height="14.4" fill="#00bfff"/>
<rect x="2108.0" y="1427.7" width="2.0" height="35.8" fill="#00bfff"/>
<rect x="2106.2" y="1436.9" width="5.6" height="12.8" fill="#00bfff"/>
<rect x="2116.0" y="1405.2" width="2.0" height="40.5" fill="#00bfff"/>
<rect x="2114.2" y="1407.9" width="5.6" height="28.9" fill="#00bfff"/>
<rect x="2124.0" y="1374.1" width="2.0" height="39.5" fill="#00bfff"/>
<rect x="2122.2" y="1385.8" width="5.6" height="22.1" fill="#00bfff"/>
<rect x="2132.0" y="1378.6" width="2.0" height="19.3" fill="#ee82ee"/>
<rect x="2130.2" y="1385.8" width="5.6" height="4.7" fill="#ee82ee"/>
<rect x="2140.0" y="1376.2" width="2.0" height="37.5" fill="#ee82ee"/>
<rect x="2138.2" y="1390.5" width="5.6" height="18.8" fill="#ee82ee"/>
<rect x="2148.0" y="1405.0" width="2.0" height="42.6" fill="#ee82ee"/>
<rect x="2146.2" y="1409.3" width="5.6" height="27.7" fill="#ee82ee"/>
<rect x="2156.0" y="1428.4" width="2.0" height="36.2" fill="#ee82ee"/>
<rect x="2154.2" y="1437.0" width="5.6" height="26.2" fill="#ee82ee"/>
<rect x="2164.0" y="1450.8" width="2.0" height="32.5" fill="#ee82ee"/>
<rect x="2162.2" y="1463.2" width="5.6" height="15.6" fill="#ee82ee"/>
<rect x="2172.0" y="1475.0" width="2.0" height="38.2" fill="#ee82ee"/>
<rect x="2170.2" y="1478.9" width="5.6" height="28.3" fill="#ee82ee"/>
<rect x="2180.0" y="1498.2" width="2.0" height="45.8" fill="#ee82ee"/>
<rect x="2178.2" y="1507.1" width="5.6" height="23.4" fill="#ee82ee"/>
<rect x="2188.0" y="1529.4" width="2.0" height="33.4" fill="#ee82ee"/>
<rect x="2186.2" y="1530.5" width="5.6" height="26.2" fill="#ee82ee"/>
<rect x="2196.0" y="1555.4" width="2.0" height="34.4" fill="#ee82ee"/>
<rect x="2194.2" y="1556.7" width="5.6" height="22.2" fill="#ee82ee"/>
<rect x="2204.0" y="1550.6" width="2.0" height="32.4" fill="#00bfff"/>
<rect x="2202.2" y="1564.9" width="5.6" height="14.0" fill="#00bfff"/>
<rect x="2212.0" y="1514.9" width="2.0" height="52.7" fill="#00bfff"/>
<rect x="2210.2" y="1525.0" width="5.6" height="40.0" fill="#00bfff"/>
<rect x="2220.0" y="1458.5" width="2.0" height="74.1" fill="#00bfff"/>
<rect x="2218.2" y="1472.5" width="5.6" height="52.4" fill="#00bfff"/>
<rect x="2228.0" y="1460.0" width="2.0" height="14.5" fill="#696969"/>
<rect x="2226.2" y="1470.8" width="5.6" height="1.7" fill="#696969"/>
<rect x="2236.0" y="1458.1" width="2.0" height="36.9" fill="#ee82ee"/>
<rect x="2234.2" y="1470.8" width="5.6" height="15.0" fill="#ee82ee"/>
<rect x="2244.0" y="1482.2" width="2.0" height="13.4" fill="#ee82ee"/>
<rect x="2242.2" y="1485.8" width="5.6" height="8.4" fill="#ee82ee"/>
<rect x="2252.0" y="1489.0" width="2.0" height="21.2" fill="#ee82ee"/>
<rect x="2250.2" y="1494.2" width="5.6" height="11.8" fill="#ee82ee"/>
<rect x="2260.0" y="1499.7" width="2.0" height="36.7" fill="#ee82ee"/>
<rect x="2258.2" y="1506.0" width="5.6" height="19.5" fill="#ee82ee"/>
<rect x="2268.0" y="1515.7" width="2.0" height="24.1" fill="#ee82ee"/>
<rect x="2266.2" y="1525.4" width="5.6" height="11.6" fill="#ee82ee"/>
<rect x="2276.0" y="1529.9" width="2.0" height="32.3" fill="#ee82ee"/>
<rect x="2274.2" y="1537.0" width="5.6" height="24.2" fill="#ee82ee"/>
<rect x="2284.0" y="1555.5" width="2.0" height="20.4" fill="#ee82ee"/>
<rect x="2282.2" y="1561.2" width="5.6" height="12.4" fill="#ee82ee"/>
<rect x="2292.0" y="1569.2" width="2.0" height="18.5" fill="#ee82ee"/>
<rect x="2290.2" y="1573.7" width="5.6" height="9.9" fill="#ee82ee"/>
<rect x="2300.0" y="1572.5" width="2.0" height="33.8" fill="#ee82ee"/>
<rect x="2298.2" y="1583.6" width="5.6" height="20.8" fill="#ee82ee"/>
<rect x="2308.0" y="1594.0" width="2.0" height="37.4" fill="#ee82ee"/>
<rect x="2306.2" y="1604.4" width="5.6" height="13.4" fill="#ee82ee"/>
<rect x="2316.0" y="1614.2" width="2.0" height="10.8" fill="#ee82ee"/>
<rect x="2314.2" y="1617.8" width="5.6" height="6.1" fill="#ee82ee"/>
<rect x="2324.0" y="1622.6" width="2.0" height="17.7" fill="#ee82ee"/>
<rect x="2322.2" y="1623.8" width="5.6" height="14.9" fill="#ee82ee"/>
<rect x="2332.0" y="1630.2" width="2.0" height="38.3" fill="#ee82ee"/>
<rect x="2330.2" y="1638.8" width="5.6" height="19.2" fill="#ee82ee"/>
<rect x="2340.0" y="1650.1" width="2.0" height="22.8" fill="#ee82ee"/>
<rect x="2338.2" y="1657.9" width="5.6" height="12.3" fill="#ee82ee"/>
<rect x="2348.0" y="1667.5" width="2.0" height="20.6" fill="#ee82ee"/>
<rect x="2346.2" y="1670.2" width="5.6" height="12.0" fill="#ee82ee"/>
<rect x="2356.0" y="1673.6" width="2.0" height="36.3" fill="#ee82ee"/>
<rect x="2354.2" y="1682.2" width="5.6" height="20.0" fill="#ee82ee"/>
<rect x="2364.0" y="1689.6" width="2.0" height="32.2" fill="#ee82ee"/>
<rect x="2362.2" y="1702.2" width="5.6" height="16.3" fill="#ee82ee"/>
<rect x="2372.0" y="1715.1" width="2.0" height="14.4" fill="#ee82ee"/>
<rect x="2370.2" y="1718.5" width="5.6" height="8.1" fill="#ee82ee"/>
<rect x="2380.0" y="1725.5" width="2.0" height="34.6" fill="#ee82ee"/>
<rect x="2378.2" y="1726.6" width="5.6" height="22.8" fill="#ee82ee"/>
<rect x="2388.0" y="1730.0" width="2.0" height="28.8" fill="#00bfff"/>
<rect x="2386.2" y="1740.4" width="5.6" height="9.0" fill="#00bfff"/>
<rect x="2396.0" y="1733.3" width="2.0" height="11.5" fill="#00bfff"/>
<rect x="2394.2" y="1736.4" width="5.6" height="4.0" fill="#00bfff"/>
<rect x="2404.0" y="1718.6" width="2.0" height="28.6" fill="#00bfff"/>
<rect x="2402.2" y="1720.8" width="5.6" height="15.7" fill="#00bfff"/>
<rect x="2412.0" y="1686.9" width="2.0" height="45.8" fill="#00bfff"/>
<rect x="2410.2" y="1695.9" width="5.6" height="24.8" fill="#00bfff"/>
<rect x="2420.0" y="1685.4" width="2.0" height="12.5" fill="#696969"/>
<rect x="2418.2" y="1692.8" width="5.6" height="3.1" fill="#696969"/>
<rect x="2428.0" y="1663.8" width="2.0" height="34.0" fill="#00bfff"/>
<rect x="2426.2" y="1665.8" width="5.6" height="27.0" fill="#00bfff"/>
<rect x="2436.0" y="1656.9" width="2.0" height="18.2" fill="#00bfff"/>
<rect x="2434.2" y="1659.0" width="5.6" height="6.8" fill="#00bfff"/>
<rect x="2444.0" y="1631.8" width="2.0" height="32.9" fill="#00bfff"/>
<rect x="2442.2" y="1645.7" width="5.6" height="13.3" fill="#00bfff"/>
<rect x="2452.0" y="1614.5" width="2.0" height="44.9" fill="#00bfff"/>
<rect x="2450.2" y="1623.4" width="5.6" height="22.3" fill="#00bfff"/>
<rect x="2460.0" y="1612.6" width="2.0" height="15.9" fill="#ee82ee"/>
<rect x="2458.2" y="1623.4" width="5.6" height="2.6" fill="#ee82ee"/>
<rect x="2468.0" y="1614.0" width="2.0" height="54.3" fill="#ee82ee"/>
<rect x="2466.2" y="1626.0" width="5.6" height="34.7" fill="#ee82ee"/>
<rect x="2476.0" y="1648.2" width="2.0" height="51.4" fill="#ee82ee"/>
<rect x="2474.2" y="1660.7" width="5.6" height="25.6" fill="#ee82ee"/>
<rect x="2484.0" y="1674.7" width="2.0" height="24.6" fill="#ee82ee"/>
<rect x="2482.2" y="1686.3" width="5.6" height="3.0" fill="#ee82ee"/>
<rect x="2492.0" y="1680.4" width="2.0" height="20.5" fill="#00bfff"/>
<rect x="2490.2" y="1682.6" width="5.6" height="6.7" fill="#00bfff"/>
<rect x="2500.0" y="1674.2" width="2.0" height="20.0" fill="#00bfff"/>
<rect x="2498.2" y="1677.6" width="5.6" height="5.0" fill="#00bfff"/>
<rect x="2508.0" y="1658.7" width="2.0" height="31.4" fill="#00bfff"/>
<rect x="2506.2" y="1660.9" width="5.6" height="16.7" fill="#00bfff"/>
<rect x="2516.0" y="1655.8" width="2.0" height="18.4" fill="#00bfff"/>
<rect x="2514.2" y="1659.1" width="5.6" height="1.7" fill="#00bfff"/>
<rect x="2524.0" y="1636.4" width="2.0" height="31.0" fill="#00bfff"/>
<rect x="2522.2" y="1645.8" width="5.6" height="13.3" fill="#00bfff"/>
<rect x="2532.0" y="1631.0" width="2.0" height="17.5" fill="#00bfff"/>
<rect x="2530.2" y="1640.1" width="5.6" height="5.6" fill="#00bfff"/>
<rect x="2540.0" y="1632.0" width="2.0" height="19.4" fill="#00bfff"/>
<rect x="2538.2" y="1634.7" width="5.6" height="5.4" fill="#00bfff"/>
<rect x="2548.0" y="1615.3" width="2.0" height="32.8" fill="#00bfff"/>
<rect x="2546.2" y="1622.3" width="5.6" height="12.4" fill="#00bfff"/>
<rect x="2556.0" y="1596.2" width="2.0" height="38.4" fill="#00bfff"/>
<rect x="2554.2" y="1610.1" width="5.6" height="12.1" fill="#00bfff"/>
<rect x="2564.0" y="1601.5" width="2.0" height="33.9" fill="#ee82ee"/>
<rect x="2562.2" y="1610.1" width="5.6" height="15.9" fill="#ee82ee"/>
<rect x="2572.0" y="1622.6" width="2.0" height="41.3" fill="#ee82ee"/>
<rect x="2570.2" y="1626.0" width="5.6" height="30.0" fill="#ee82ee"/>
<rect x="2580.0" y="1642.1" width="2.0" height="31.9" fill="#ee82ee"/>
<rect x="2578.2" y="1656.0" width="5.6" height="1.8" fill="#ee82ee"/>
<rect x="2588.0" y="1631.5" width="2.0" height="27.7" fill="#00bfff"/>
<rect x="2586.2" y="1633.6" width="5.6" height="24.2" fill="#00bfff"/>
<rect x="2596.0" y="1611.9" width="2.0" height="25.4" fill="#00bfff"/>
<rect x="2594.2" y="1622.3" width="5.6" height="11.3" fill="#00bfff"/>
<rect x="2604.0" y="1582.5" width="2.0" height="44.3" fill="#00bfff"/>
<rect x="2602.2" y="1595.1" width="5.6" height="27.2" fill="#00bfff"/>
<rect x="2612.0" y="1574.1" width="2.0" height="25.5" fill="#00bfff"/>
<rect x="2610.2" y="1575.4" width="5.6" height="19.6" fill="#00bfff"/>
<rect x="2620.0" y="1550.8" width="2.0" height="28.5" fill="#00bfff"/>
<rect x="2618.2" y="1553.0" width="5.6" height="22.4" fill="#00bfff"/>
<rect x="2628.0" y="1529.2" width="2.0" height="32.8" fill="#00bfff"/>
<rect x="2626.2" y="1534.5" width="5.6" height="18.5" fill="#00bfff"/>
<rect x="2636.0" y="1500.3" width="2.0" height="46.4" fill="#00bfff"/>
<rect x="2634.2" y="1504.3" width="5.6" height="30.2" fill="#00bfff"/>
<rect x="2644.0" y="1485.3" width="2.0" height="31.2" fill="#00bfff"/>
<rect x="2642.2" y="1498.8" width="5.6" height="5.5" fill="#00bfff"/>
<rect x="2652.0" y="1487.4" width="2.0" height="40.0" fill="#ee82ee"/>
<rect x="2650.2" y="1498.8" width="5.6" height="24.3" fill="#ee82ee"/>
<rect x="2660.0" y="1510.2" width="2.0" height="23.0" fill="#ee82ee"/>
<rect x="2658.2" y="1523.1" width="5.6" height="4.4" fill="#ee82ee"/>
<rect x="2668.0" y="1519.9" width="2.0" height="32.3" fill="#ee82ee"/>
<rect x="2666.2" y="1527.5" width="5.6" height="18.1" fill="#ee82ee"/>
<rect x="2676.0" y="1537.6" width="2.0" height="33.3" fill="#ee82ee"/>
<rect x="2674.2" y="1545.6" width="5.6" height="18.1" fill="#ee82ee"/>
<rect x="2684.0" y="1556.7" width="2.0" height="26.2" fill="#ee82ee"/>
<rect x="2682.2" y="1563.7" width="5.6" height="17.4" fill="#ee82ee"/>
<rect x="2692.0" y="1568.1" width="2.0" height="30.4" fill="#ee82ee"/>
<rect x="2690.2" y="1581.1" width="5.6" height="13.7" fill="#ee82ee"/>
<rect x="2700.0" y="1582.3" width="2.0" height="28.3" fill="#ee82ee"/>
<rect x="2698.2" y="1594.8" width="5.6" height="14.3" fill="#ee82ee"/>
<rect x="2708.0" y="1547.4" width="2.0" height="67.9" fill="#00bfff"/>
<rect x="2706.2" y="1550.3" width="5.6" height="58.7" fill="#00bfff"/>
<rect x="2716.0" y="1509.0" width="2.0" height="62.7" fill="#ee82ee"/>
<rect x="2714.2" y="1550.3" width="5.6" height="19.6" fill="#ee82ee"/>
<rect x="2724.0" y="1559.0" width="2.0" height="58.3" fill="#696969"/>
<rect x="2722.2" y="1569.9" width="5.6" height="27.3" fill="#696969"/>
<rect x="2732.0" y="1562.5" width="2.0" height="47.1" fill="#00bfff"/>
<rect x="2730.2" y="1568.7" width="5.6" height="28.5" fill="#00bfff"/>
<rect x="2740.0" y="1520.4" width="2.0" height="57.0" fill="#696969"/>
<rect x="2738.2" y="1527.9" width="5.6" height="40.8" fill="#696969"/>
<rect x="2748.0" y="1507.8" width="2.0" height="32.1" fill="#ee82ee"/>
<rect x="2746.2" y="1527.9" width="5.6" height="3.9" fill="#ee82ee"/>
<rect x="2756.0" y="1522.9" width="2.0" height="51.4" fill="#ee82ee"/>
<rect x="2754.2" y="1531.8" width="5.6" height="36.1" fill="#ee82ee"/>
<rect x="2764.0" y="1554.7" width="2.0" height="75.8" fill="#ee82ee"/>
<rect x="2762.2" y="1567.9" width="5.6" height="54.1" fill="#ee82ee"/>
<rect x="2772.0" y="1594.5" width="2.0" height="48.7" fill="#00bfff"/>
<rect x="2770.2" y="1601.3" width="5.6" height="20.7" fill="#00bfff"/>
<rect x="2780.0" y="1511.5" width="2.0" height="103.3" fill="#00bfff"/>
<rect x="2778.2" y="1521.9" width="5.6" height="79.4" fill="#00bfff"/>
<rect x="2788.0" y="1451.8" width="2.0" height="78.7" fill="#00bfff"/>
<rect x="2786.2" y="1456.7" width="5.6" height="65.2" fill="#00bfff"/>
<rect x="2796.0" y="1412.6" width="2.0" height="55.6" fill="#00bfff"/>
<rect x="2794.2" y="1425.2" width="5.6" height="31.5" fill="#00bfff"/>
<rect x="2804.0" y="1411.2" width="2.0" height="39.8" fill="#ee82ee"/>
<rect x="2802.2" y="1425.2" width="5.6" height="15.0" fill="#ee82ee"/>
<rect x="2812.0" y="1430.6" width="2.0" height="46.2" fill="#ee82ee"/>
<rect x="2810.2" y="1440.2" width="5.6" height="30.7" fill="#ee82ee"/>
<rect x="2820.0" y="1467.2" width="2.0" height="25.7" fill="#ee82ee"/>
<rect x="2818.2" y="1470.9" width="5.6" height="18.0" fill="#ee82ee"/>
<rect x="2828.0" y="1485.4" width="2.0" height="26.3" fill="#ee82ee"/>
<rect x="2826.2" y="1488.9" width="5.6" height="16.2" fill="#ee82ee"/>
<rect x="2836.0" y="1503.6" width="2.0" height="32.4" fill="#ee82ee"/>
<rect x="2834.2" y="1505.1" width="5.6" height="17.2" fill="#ee82ee"/>
<rect x="2844.0" y="1517.0" width="2.0" height="35.7" fill="#ee82ee"/>
<rect x="2842.2" y="1522.3" width="5.6" height="17.4" fill="#ee82ee"/>
<rect x="2852.0" y="1537.8" width="2.0" height="26.7" fill="#ee82ee"/>
<rect x="2850.2" y="1539.8" width="5.6" height="14.1" fill="#ee82ee"/>
<rect x="2860.0" y="1550.1" width="2.0" height="19.8" fill="#ee82ee"/>
<rect x="2858.2" y="1553.9" width="5.6" height="14.6" fill="#ee82ee"/>
<rect x="2868.0" y="1561.3" width="2.0" height="31.2" fill="#ee82ee"/>
<rect x="2866.2" y="1568.5" width="5.6" height="20.8" fill="#ee82ee"/>
<rect x="2876.0" y="1577.1" width="2.0" height="51.8" fill="#ee82ee"/>
<rect x="2874.2" y="1589.3" width="5.6" height="26.2" fill="#ee82ee"/>
<rect x="2884.0" y="1601.6" width="2.0" height="43.9" fill="#ee82ee"/>
<rect x="2882.2" y="1615.5" width="5.6" height="18.0" fill="#ee82ee"/>
<rect x="2892.0" y="1626.2" width="2.0" height="33.5" fill="#ee82ee"/>
<rect x="2890.2" y="1633.5" width="5.6" height="22.0" fill="#ee82ee"/>
<rect x="2900.0" y="1644.7" width="2.0" height="38.3" fill="#ee82ee"/>
<rect x="2898.2" y="1655.5" width="5.6" height="17.5" fill="#ee82ee"/>
<rect x="2908.0" y="1659.6" width="2.0" height="37.7" fill="#ee82ee"/>
<rect x="2906.2" y="1673.0" width="5.6" height="15.4" fill="#ee82ee"/>
<rect x="2916.0" y="1686.7" width="2.0" height="24.5" fill="#ee82ee"/>
<rect x="2914.2" y="1688.4" width="5.6" height="20.3" fill="#ee82ee"/>
<rect x="2924.0" y="1661.5" width="2.0" height="50.9" fill="#00bfff"/>
<rect x="2922.2" y="1671.7" width="5.6" height="37.0" fill="#00bfff"/>
<rect x="2932.0" y="1589.5" width="2.0" height="86.0" fill="#00bfff"/>
<rect x="2930.2" y="1603.3" width="5.6" height="68.3" fill="#00bfff"/>
<rect x="2940.0" y="1574.0" width="2.0" height="31.9" fill="#00bfff"/>
<rect x="2938.2" y="1590.4" width="5.6" height="12.9" fill="#00bfff"/>
<rect x="2948.0" y="1581.4" width="2.0" height="31.9" fill="#ee82ee"/>
<rect x="2946.2" y="1590.4" width="5.6" height="16.7" fill="#ee82ee"/>
<rect x="2956.0" y="1599.3" width="2.0" height="21.6" fill="#ee82ee"/>
<rect x="2954.2" y="1607.1" width="5.6" height="9.9" fill="#ee82ee"/>
<rect x="2964.0" y="1606.6" width="2.0" height="45.3" fill="#696969"/>
<rect x="2962.2" y="1616.9" width="5.6" height="27.8" fill="#696969"/>
<rect x="2972.0" y="1635.5" width="2.0" height="24.6" fill="#696969"/>
<rect x="2970.2" y="1644.7" width="5.6" height="11.2" fill="#696969"/>
<rect x="2980.0" y="1645.5" width="2.0" height="34.6" fill="#ee82ee"/>
<rect x="2978.2" y="1655.9" width="5.6" height="23.0" fill="#ee82ee"/>
<rect x="2988.0" y="1671.0" width="2.0" height="29.3" fill="#ee82ee"/>
<rect x="2986.2" y="1678.9" width="5.6" height="10.1" fill="#ee82ee"/>
<rect x="2996.0" y="1676.2" width="2.0" height="38.4" fill="#ee82ee"/>
<rect x="2994.2" y="1689.0" width="5.6" height="20.6" fill="#ee82ee"/>
<rect x="3004.0" y="1708.1" width="2.0" height="22.0" fill="#ee82ee"/>
<rect x="3002.2" y="1709.6" width="5.6" height="12.8" fill="#ee82ee"/>
<rect x="3012.0" y="1717.5" width="2.0" height="39.9" fill="#ee82ee"/>
<rect x="3010.2" y="1722.4" width="5.6" height="30.2" fill="#ee82ee"/>
<rect x="3020.0" y="1751.5" width="2.0" height="18.0" fill="#ee82ee"/>
<rect x="3018.2" y="1752.5" width="5.6" height="13.8" fill="#ee82ee"/>
<rect x="3028.0" y="1757.0" width="2.0" height="39.0" fill="#ee82ee"/>
<rect x="3026.2" y="1766.4" width="5.6" height="24.8" fill="#ee82ee"/>
<rect x="3036.0" y="1783.9" width="2.0" height="32.0" fill="#ee82ee"/>
<rect x="3034.2" y="1791.2" width="5.6" height="14.5" fill="#ee82ee"/>
<rect x="3044.0" y="1792.3" width="2.0" height="44.8" fill="#ee82ee"/>
<rect x="3042.2" y="1805.6" width="5.6" height="19.4" fill="#ee82ee"/>
<rect x="3052.0" y="1811.9" width="2.0" height="35.4" fill="#ee82ee"/>
<rect x="3050.2" y="1825.1" width="5.6" height="10.0" fill="#ee82ee"/>
<rect x="3060.0" y="1832.0" width="2.0" height="44.8" fill="#ee82ee"/>
<rect x="3058.2" y="1835.1" width="5.6" height="28.0" fill="#ee82ee"/>
<rect x="3068.0" y="1859.2" width="2.0" height="15.2" fill="#ee82ee"/>
<rect x="3066.2" y="1863.1" width="5.6" height="7.8" fill="#ee82ee"/>
<rect x="3076.0" y="1860.6" width="2.0" height="45.7" fill="#ee82ee"/>
<rect x="3074.2" y="1870.9" width="5.6" height="22.1" fill="#ee82ee"/>
<rect x="3084.0" y="1877.9" width="2.0" height="25.1" fill="#00bfff"/>
<rect x="3082.2" y="1887.6" width="5.6" height="5.4" fill="#00bfff"/>
<rect x="3092.0" y="1863.0" width="2.0" height="28.4" fill="#00bfff"/>
<rect x="3090.2" y="1872.7" width="5.6" height="14.8" fill="#00bfff"/>
<rect x="3100.0" y="1839.1" width="2.0" height="39.4" fill="#00bfff"/>
<rect x="3098.2" y="1847.3" width="5.6" height="25.5" fill="#00bfff"/>
<rect x="3108.0" y="1836.8" width="2.0" height="24.5" fill="#00bfff"/>
<rect x="3106.2" y="1839.2" width="5.6" height="8.1" fill="#00bfff"/>
<rect x="3116.0" y="1814.3" width="2.0" height="31.9" fill="#696969"/>
<rect x="3114.2" y="1815.5" width="5.6" height="23.7" fill="#696969"/>
<rect x="3124.0" y="1796.8" width="2.0" height="29.9" fill="#00bfff"/>
<rect x="3122.2" y="1799.9" width="5.6" height="15.6" fill="#00bfff"/>
<rect x="3132.0" y="1769.0" width="2.0" height="43.9" fill="#00bfff"/>
<rect x="3130.2" y="1776.6" width="5.6" height="23.3" fill="#00bfff"/>
<rect x="3140.0" y="1748.9" width="2.0" height="39.3" fill="#00bfff"/>
<rect x="3138.2" y="1762.4" width="5.6" height="14.2" fill="#00bfff"/>
<rect x="3148.0" y="1745.0" width="2.0" height="20.4" fill="#00bfff"/>
<rect x="3146.2" y="1758.7" width="5.6" height="3.7" fill="#00bfff"/>
<rect x="3156.0" y="1752.3" width="2.0" height="30.8" fill="#ee82ee"/>
<rect x="3154.2" y="1758.7" width="5.6" height="18.0" fill="#ee82ee"/>
<rect x="3164.0" y="1764.5" width="2.0" height="35.0" fill="#ee82ee"/>
<rect x="3162.2" y="1776.8" width="5.6" height="18.5" fill="#ee82ee"/>
<rect x="3172.0" y="1792.8" width="2.0" height="28.9" fill="#ee82ee"/>
<rect x="3170.2" y="1795.3" width="5.6" height="25.2" fill="#ee82ee"/>
<rect x="3180.0" y="1806.2" width="2.0" height="47.3" fill="#ee82ee"/>
<rect x="3178.2" y="1820.5" width="5.6" height="26.8" fill="#ee82ee"/>
<rect x="3188.0" y="1814.2" width="2.0" height="40.1" fill="#00bfff"/>
<rect x="3186.2" y="1825.1" width="5.6" height="22.2" fill="#00bfff"/>
<rect x="3196.0" y="1777.8" width="2.0" height="60.9" fill="#00bfff"/>
<rect x="3194.2" y="1790.6" width="5.6" height="34.5" fill="#00bfff"/>
<rect x="3204.0" y="1767.0" width="2.0" height="31.4" fill="#00bfff"/>
<rect x="3202.2" y="1776.0" width="5.6" height="14.6" fill="#00bfff"/>
<rect x="3212.0" y="1738.8" width="2.0" height="48.4" fill="#00bfff"/>
<rect x="3210.2" y="1752.1" width="5.6" height="23.9" fill="#00bfff"/>
<rect x="3220.0" y="1706.7" width="2.0" height="47.8" fill="#00bfff"/>
<rect x="3218.2" y="1720.6" width="5.6" height="31.5" fill="#00bfff"/>
<rect x="3228.0" y="1694.0" width="2.0" height="40.7" fill="#00bfff"/>
<rect x="3226.2" y="1699.7" width="5.6" height="20.9" fill="#00bfff"/>
<rect x="3236.0" y="1665.3" width="2.0" height="44.0" fill="#00bfff"/>
<rect x="3234.2" y="1669.7" width="5.6" height="30.0" fill="#00bfff"/>
<rect x="3244.0" y="1656.5" width="2.0" height="23.2" fill="#ee82ee"/>
<rect x="3242.2" y="1669.7" width="5.6" height="8.5" fill="#ee82ee"/>
<rect x="3252.0" y="1674.5" width="2.0" height="39.2" fill="#ee82ee"/>
<rect x="3250.2" y="1678.3" width="5.6" height="23.5" fill="#ee82ee"/>
<rect x="3260.0" y="1696.4" width="2.0" height="31.3" fill="#ee82ee"/>
<rect x="3258.2" y="1701.8" width="5.6" height="22.0" fill="#ee82ee"/>
<rect x="3268.0" y="1712.8" width="2.0" height="33.8" fill="#ee82ee"/>
<rect x="3266.2" y="1723.8" width="5.6" height="11.4" fill="#ee82ee"/>
<rect x="3276.0" y="1724.1" width="2.0" height="44.6" fill="#ee82ee"/>
<rect x="3274.2" y="1735.2" width="5.6" height="25.8" fill="#ee82ee"/>
<rect x="3284.0" y="1746.7" width="2.0" height="29.9" fill="#696969"/>
<rect x="3282.2" y="1759.3" width="5.6" height="1.8" fill="#696969"/>
<rect x="3292.0" y="1720.1" width="2.0" height="50.2" fill="#00bfff"/>
<rect x="3290.2" y="1721.6" width="5.6" height="37.7" fill="#00bfff"/>
<rect x="3300.0" y="1681.0" width="2.0" height="49.2" fill="#00bfff"/>
<rect x="3298.2" y="1686.7" width="5.6" height="34.9" fill="#00bfff"/>
<rect x="3308.0" y="1636.1" width="2.0" height="56.4" fill="#00bfff"/>
<rect x="3306.2" y="1648.8" width="5.6" height="37.9" fill="#00bfff"/>
<rect x="3316.0" y="1627.6" width="2.0" height="32.2" fill="#00bfff"/>
<rect x="3314.2" y="1633.6" width="5.6" height="15.2" fill="#00bfff"/>
<polyline points="5.0,1119.0 13.0,1119.8 21.0,1123.9 29.0,1127.2 37.0,1130.8 45.0,1135.7 53.0,1143.8 61.0,1148.7" fill="none" stroke="#8b0000" stroke-width="4" stroke-linejoin="round" stroke-linecap="round"/>
<polyline points="61.0,1148.7 69.0,1147.1" fill="none" stroke="#00008b" stroke-width="4" stroke-linejoin="round" stroke-linecap="round"/>
<polyline points="69.0,1147.1 77.0,1148.5" fill="none" stroke="#8b0000" stroke-width="4" stroke-linejoin="round" stroke-linecap="round"/>
<polyline points="77.0,1148.5 85.0,1148.0" fill="none" stroke="#00008b" stroke-width="4" stroke-linejoin="round" stroke-linecap="round"/>
<polyline points="85.0,1148.0 93.0,1151.4 101.0,1155.3 109.0,1159.4 117.0,1167.4 125.0,1173.2 133.0,1179.2 141.0,1188.1 149.0,1196.1 157.0,1202.8 165.0,1208.8 173.0,1215.8 181.0,1224.7 189.0,1230.7 197.0,1237.4 205.0,1238.4 213.0,1240.0 221.0,1243.2 229.0,1244.5 237.0,1247.3 245.0,1254.8 253.0,1261.1 261.0,1265.8 269.0,1274.7 277.0,1282.8 285.0,1290.2 293.0,1297.7 301.0,1303.7 309.0,1309.5 317.0,1317.7 325.0,1327.7 333.0,1331.7" fill="none" stroke="#8b0000" stroke-width="4" stroke-linejoin="round" stroke-linecap="round"/>
<polyline points="333.0,1331.7 341.0,1331.4 349.0,1329.2 357.0,1323.9 365.0,1320.9 373.0,1318.4" fill="none" stroke="#00008b" stroke-width="4" stroke-linejoin="round" stroke-linecap="round"/>
<polyline points="373.0,1318.4 381.0,1318.9 389.0,1324.0 397.0,1334.2 405.0,1343.3 413.0,1355.2 421.0,1367.7 429.0,1381.0 437.0,1388.3" fill="none" stroke="#8b0000" stroke-width="4" stroke-linejoin="round" stroke-linecap="round"/>
<polyline points="437.0,1388.3 445.0,1387.2 453.0,1377.1 461.0,1363.3 469.0,1343.5 477.0,1323.3 485.0,1308.4 493.0,1301.8 501.0,1298.4" fill="none" stroke="#00008b" stroke-width="4" stroke-linejoin="round" stroke-linecap="round"/>
<polyline points="501.0,1298.4 509.0,1299.9 517.0,1306.5 525.0,1314.9 533.0,1324.1 541.0,1334.8 549.0,1346.4 557.0,1358.7 565.0,1361.4" fill="none" stroke="#8b0000" stroke-width="4" stroke-linejoin="round" stroke-linecap="round"/>
<polyline points="565.0,1361.4 573.0,1359.1" fill="none" stroke="#00008b" stroke-width="4" stroke-linejoin="round" stroke-linecap="round"/>
<polyline points="573.0,1359.1 581.0,1359.4 589.0,1365.6 597.0,1373.5 605.0,1382.2 613.0,1391.5 621.0,1404.0 629.0,1413.8 637.0,1426.7 645.0,1435.0 653.0,1435.4" fill="none" stroke="#8b0000" stroke-width="4" stroke-linejoin="round" stroke-linecap="round"/>
<polyline points="653.0,1435.4 661.0,1429.5 669.0,1416.9 677.0,1407.8 685.0,1407.5" fill="none" stroke="#00008b" stroke-width="4" stroke-linejoin="round" stroke-linecap="round"/>
<polyline points="685.0,1407.5 693.0,1417.0 701.0,1427.1 709.0,1444.3 717.0,1460.9 725.0,1481.5 733.0,1502.4 741.0,1524.0 749.0,1545.3 757.0,1569.3 765.0,1593.1 773.0,1616.0 781.0,1639.7 789.0,1656.6 797.0,1662.6" fill="none" stroke="#8b0000" stroke-width="4" stroke-linejoin="round" stroke-linecap="round"/>
<polyline points="797.0,1662.6 805.0,1656.8 813.0,1644.1 821.0,1625.9 829.0,1603.8 837.0,1587.2 845.0,1579.6 853.0,1575.0" fill="none" stroke="#00008b" stroke-width="4" stroke-linejoin="round" stroke-linecap="round"/>
<polyline points="853.0,1575.0 861.0,1576.1 869.0,1581.0 877.0,1590.2 885.0,1597.9 893.0,1606.8 901.0,1614.5 909.0,1618.9" fill="none" stroke="#8b0000" stroke-width="4" stroke-linejoin="round" stroke-linecap="round"/>
<polyline points="909.0,1618.9 917.0,1615.9 925.0,1613.1 933.0,1606.1 941.0,1601.6" fill="none" stroke="#00008b" stroke-width="4" stroke-linejoin="round" stroke-linecap="round"/>
<polyline points="941.0,1601.6 949.0,1606.9 957.0,1617.6 965.0,1631.7 973.0,1648.6 981.0,1666.3 989.0,1685.1 997.0,1707.3 1005.0,1728.5 1013.0,1750.4 1021.0,1766.5 1029.0,1771.7" fill="none" stroke="#8b0000" stroke-width="4" stroke-linejoin="round" stroke-linecap="round"/>
<polyline points="1029.0,1771.7 1037.0,1768.4 1045.0,1756.8 1053.0,1740.0 1061.0,1721.7 1069.0,1697.3 1077.0,1672.0 1085.0,1646.9 1093.0,1621.0 1101.0,1591.3 1109.0,1560.4 1117.0,1530.2 1125.0,1506.6 1133.0,1491.6 1141.0,1486.8 1149.0,1483.1 1157.0,1478.8 1165.0,1477.7 1173.0,1471.9 1181.0,1466.3 1189.0,1461.8 1197.0,1456.5" fill="none" stroke="#00008b" stroke-width="4" stroke-linejoin="round" stroke-linecap="round"/>
<polyline points="1197.0,1456.5 1205.0,1462.6 1213.0,1487.1 1221.0,1512.7 1229.0,1522.0" fill="none" stroke="#8b0000" stroke-width="4" stroke-linejoin="round" stroke-linecap="round"/>
<polyline points="1229.0,1522.0 1237.0,1516.0 1245.0,1502.5 1253.0,1481.8 1261.0,1462.8 1269.0,1451.6 1277.0,1449.1" fill="none" stroke="#00008b" stroke-width="4" stroke-linejoin="round" stroke-linecap="round"/>
<polyline points="1277.0,1449.1 1285.0,1449.1 1293.0,1453.0 1301.0,1455.0" fill="none" stroke="#8b0000" stroke-width="4" stroke-linejoin="round" stroke-linecap="round"/>
<polyline points="1301.0,1455.0 1309.0,1452.1 1317.0,1446.8 1325.0,1445.2" fill="none" stroke="#00008b" stroke-width="4" stroke-linejoin="round" stroke-linecap="round"/>
<polyline points="1325.0,1445.2 1333.0,1448.0 1341.0,1453.3 1349.0,1462.3 1357.0,1471.3 1365.0,1482.6 1373.0,1493.1 1381.0,1499.6 1389.0,1500.2" fill="none" stroke="#8b0000" stroke-width="4" stroke-linejoin="round" stroke-linecap="round"/>
<polyline points="1389.0,1500.2 1397.0,1498.3 1405.0,1489.7 1413.0,1482.1 1421.0,1471.0 1429.0,1463.8 1437.0,1459.4" fill="none" stroke="#00008b" stroke-width="4" stroke-linejoin="round" stroke-linecap="round"/>
<polyline points="1437.0,1459.4 1445.0,1461.5 1453.0,1466.7 1461.0,1476.7 1469.0,1487.7 1477.0,1499.0 1485.0,1510.8 1493.0,1524.3 1501.0,1537.7 1509.0,1551.2 1517.0,1564.7 1525.0,1580.6 1533.0,1595.2 1541.0,1610.0 1549.0,1622.0 1557.0,1624.7" fill="none" stroke="#8b0000" stroke-width="4" stroke-linejoin="round" stroke-linecap="round"/>
<polyline points="1557.0,1624.7 1565.0,1623.7 1573.0,1619.5 1581.0,1612.5 1589.0,1604.2 1597.0,1594.7 1605.0,1586.2 1613.0,1576.8 1621.0,1566.2 1629.0,1552.1 1637.0,1540.6 1645.0,1530.7 1653.0,1525.1 1661.0,1523.8" fill="none" stroke="#00008b" stroke-width="4" stroke-linejoin="round" stroke-linecap="round"/>
<polyline points="1661.0,1523.8 1669.0,1526.0 1677.0,1531.8 1685.0,1540.2 1693.0,1549.7 1701.0,1556.6 1709.0,1559.6" fill="none" stroke="#8b0000" stroke-width="4" stroke-linejoin="round" stroke-linecap="round"/>
<polyline points="1709.0,1559.6 1717.0,1558.7 1725.0,1555.2 1733.0,1552.5 1741.0,1550.7" fill="none" stroke="#00008b" stroke-width="4" stroke-linejoin="round" stroke-linecap="round"/>
<polyline points="1741.0,1550.7 1749.0,1552.0 1757.0,1556.8 1765.0,1563.0 1773.0,1570.6 1781.0,1579.8 1789.0,1589.9 1797.0,1598.6 1805.0,1601.6" fill="none" stroke="#8b0000" stroke-width="4" stroke-linejoin="round" stroke-linecap="round"/>
<polyline points="1805.0,1601.6 1813.0,1600.0 1821.0,1598.0 1829.0,1593.3 1837.0,1591.1 1845.0,1588.9" fill="none" stroke="#00008b" stroke-width="4" stroke-linejoin="round" stroke-linecap="round"/>
<polyline points="1845.0,1588.9 1853.0,1589.3 1861.0,1593.3 1869.0,1599.5 1877.0,1605.4 1885.0,1613.7 1893.0,1622.0 1901.0,1629.5 1909.0,1638.3 1917.0,1645.9 1925.0,1652.8 1933.0,1662.1 1941.0,1669.3 1949.0,1669.7" fill="none" stroke="#8b0000" stroke-width="4" stroke-linejoin="round" stroke-linecap="round"/>
<polyline points="1949.0,1669.7 1957.0,1669.1 1965.0,1665.5 1973.0,1658.0 1981.0,1649.0 1989.0,1639.1" fill="none" stroke="#00008b" stroke-width="4" stroke-linejoin="round" stroke-linecap="round"/>
<polyline points="1989.0,1639.1 1997.0,1642.5 2005.0,1652.1 2013.0,1654.6" fill="none" stroke="#8b0000" stroke-width="4" stroke-linejoin="round" stroke-linecap="round"/>
<polyline points="2013.0,1654.6 2021.0,1651.8 2029.0,1644.9 2037.0,1636.1 2045.0,1623.2 2053.0,1608.5 2061.0,1592.9 2069.0,1574.0 2077.0,1555.4 2085.0,1537.6 2093.0,1518.5 2101.0,1500.6 2109.0,1484.0 2117.0,1464.3 2125.0,1443.9 2133.0,1430.0 2141.0,1424.6" fill="none" stroke="#00008b" stroke-width="4" stroke-linejoin="round" stroke-linecap="round"/>
<polyline points="2141.0,1424.6 2149.0,1427.8 2157.0,1437.0 2165.0,1447.9 2173.0,1463.3 2181.0,1480.8 2189.0,1500.5 2197.0,1520.9 2205.0,1532.4" fill="none" stroke="#8b0000" stroke-width="4" stroke-linejoin="round" stroke-linecap="round"/>
<polyline points="2205.0,1532.4 2213.0,1530.4 2221.0,1515.4 2229.0,1503.8 2237.0,1499.1 2245.0,1497.9" fill="none" stroke="#00008b" stroke-width="4" stroke-linejoin="round" stroke-linecap="round"/>
<polyline points="2245.0,1497.9 2253.0,1500.0 2261.0,1506.6 2269.0,1514.5 2277.0,1526.7 2285.0,1538.9 2293.0,1550.5 2301.0,1564.5 2309.0,1578.4 2317.0,1590.2 2325.0,1602.8 2333.0,1617.1 2341.0,1630.9 2349.0,1644.3 2357.0,1659.3 2365.0,1674.7 2373.0,1688.2 2381.0,1704.1 2389.0,1713.6 2397.0,1719.5 2405.0,1719.8" fill="none" stroke="#8b0000" stroke-width="4" stroke-linejoin="round" stroke-linecap="round"/>
<polyline points="2405.0,1719.8 2413.0,1713.6 2421.0,1708.2 2429.0,1697.2 2437.0,1687.3 2445.0,1676.4 2453.0,1662.7 2461.0,1653.1" fill="none" stroke="#00008b" stroke-width="4" stroke-linejoin="round" stroke-linecap="round"/>
<polyline points="2461.0,1653.1 2469.0,1655.1 2477.0,1663.2 2485.0,1670.0 2493.0,1673.3 2501.0,1674.4" fill="none" stroke="#8b0000" stroke-width="4" stroke-linejoin="round" stroke-linecap="round"/>
<polyline points="2501.0,1674.4 2509.0,1670.9 2517.0,1667.8 2525.0,1662.1 2533.0,1656.4 2541.0,1650.7 2549.0,1643.3 2557.0,1634.7 2565.0,1632.4" fill="none" stroke="#00008b" stroke-width="4" stroke-linejoin="round" stroke-linecap="round"/>
<polyline points="2565.0,1632.4 2573.0,1638.6 2581.0,1643.6" fill="none" stroke="#8b0000" stroke-width="4" stroke-linejoin="round" stroke-linecap="round"/>
<polyline points="2581.0,1643.6 2589.0,1641.0 2597.0,1636.1 2605.0,1625.5 2613.0,1612.5 2621.0,1597.0 2629.0,1580.8 2637.0,1560.9 2645.0,1544.7 2653.0,1539.1 2661.0,1536.1" fill="none" stroke="#00008b" stroke-width="4" stroke-linejoin="round" stroke-linecap="round"/>
<polyline points="2661.0,1536.1 2669.0,1538.6 2677.0,1545.1 2685.0,1554.4 2693.0,1564.9 2701.0,1576.4" fill="none" stroke="#8b0000" stroke-width="4" stroke-linejoin="round" stroke-linecap="round"/>
<polyline points="2701.0,1576.4 2709.0,1569.6" fill="none" stroke="#00008b" stroke-width="4" stroke-linejoin="round" stroke-linecap="round"/>
<polyline points="2709.0,1569.6 2717.0,1569.7 2725.0,1576.9" fill="none" stroke="#8b0000" stroke-width="4" stroke-linejoin="round" stroke-linecap="round"/>
<polyline points="2725.0,1576.9 2733.0,1574.7 2741.0,1562.6 2749.0,1554.6" fill="none" stroke="#00008b" stroke-width="4" stroke-linejoin="round" stroke-linecap="round"/>
<polyline points="2749.0,1554.6 2757.0,1558.0 2765.0,1574.7 2773.0,1581.6" fill="none" stroke="#8b0000" stroke-width="4" stroke-linejoin="round" stroke-linecap="round"/>
<polyline points="2773.0,1581.6 2781.0,1566.1 2789.0,1537.6 2797.0,1508.4 2805.0,1490.6 2813.0,1485.5" fill="none" stroke="#00008b" stroke-width="4" stroke-linejoin="round" stroke-linecap="round"/>
<polyline points="2813.0,1485.5 2821.0,1486.4 2829.0,1491.2 2837.0,1499.3 2845.0,1509.8 2853.0,1521.3 2861.0,1533.5 2869.0,1548.0 2877.0,1565.6 2885.0,1583.2 2893.0,1602.0 2901.0,1620.5 2909.0,1638.2 2917.0,1656.5 2925.0,1660.5" fill="none" stroke="#8b0000" stroke-width="4" stroke-linejoin="round" stroke-linecap="round"/>
<polyline points="2925.0,1660.5 2933.0,1645.6 2941.0,1631.2 2949.0,1625.0 2957.0,1622.9" fill="none" stroke="#00008b" stroke-width="4" stroke-linejoin="round" stroke-linecap="round"/>
<polyline points="2957.0,1622.9 2965.0,1628.6 2973.0,1635.7 2981.0,1646.9 2989.0,1657.9 2997.0,1671.3 3005.0,1684.6 3013.0,1702.3 3021.0,1718.9 3029.0,1737.7 3037.0,1755.4 3045.0,1773.5 3053.0,1789.5 3061.0,1808.6 3069.0,1824.8 3077.0,1842.6 3085.0,1854.3 3093.0,1859.1" fill="none" stroke="#8b0000" stroke-width="4" stroke-linejoin="round" stroke-linecap="round"/>
<polyline points="3093.0,1859.1 3101.0,1856.0 3109.0,1851.6 3117.0,1842.2 3125.0,1831.2 3133.0,1817.0 3141.0,1802.8 3149.0,1791.3 3157.0,1787.6" fill="none" stroke="#00008b" stroke-width="4" stroke-linejoin="round" stroke-linecap="round"/>
<polyline points="3157.0,1787.6 3165.0,1789.6 3173.0,1797.6 3181.0,1810.5 3189.0,1814.3" fill="none" stroke="#8b0000" stroke-width="4" stroke-linejoin="round" stroke-linecap="round"/>
<polyline points="3189.0,1814.3 3197.0,1808.1 3205.0,1799.8 3213.0,1787.4 3221.0,1770.0 3229.0,1751.7 3237.0,1730.4 3245.0,1716.9 3253.0,1712.9" fill="none" stroke="#00008b" stroke-width="4" stroke-linejoin="round" stroke-linecap="round"/>
<polyline points="3253.0,1712.9 3261.0,1715.8 3269.0,1720.8 3277.0,1731.3 3285.0,1738.6" fill="none" stroke="#8b0000" stroke-width="4" stroke-linejoin="round" stroke-linecap="round"/>
<polyline points="3285.0,1738.6 3293.0,1734.2 3301.0,1721.8 3309.0,1702.8 3317.0,1684.8" fill="none" stroke="#00008b" stroke-width="4" stroke-linejoin="round" stroke-linecap="round"/>
<polyline points="4.6,1089.6 38.0,1103.0 76.0,1120.0 114.5,1141.0 152.7,1170.0 183.0,1185.0 250.0,1240.0 312.0,1310.0 343.6,1334.0" fill="none" stroke="#8b0000" stroke-width="10.5" stroke-linejoin="round" stroke-linecap="round"/>
<polyline points="343.6,1334.0 381.8,1332.0 397.0,1328.0" fill="none" stroke="#00008b" stroke-width="10.5" stroke-linejoin="round" stroke-linecap="round"/>
<polyline points="397.0,1328.0 420.0,1345.5 446.7,1359.0" fill="none" stroke="#8b0000" stroke-width="10.5" stroke-linejoin="round" stroke-linecap="round"/>
<polyline points="446.7,1359.0 473.5,1341.6 492.5,1328.0" fill="none" stroke="#00008b" stroke-width="10.5" stroke-linejoin="round" stroke-linecap="round"/>
<polyline points="492.5,1328.0 519.0,1332.0 553.6,1341.6 592.0,1349.0 618.5,1368.4 649.0,1387.5 687.0,1402.7 710.0,1429.5 733.0,1460.0 756.0,1494.0 779.0,1532.5 802.0,1559.0 824.0,1583.0 851.0,1591.0 870.0,1600.6 901.0,1604.5 924.4,1608.0 940.0,1625.7 960.0,1641.0 974.8,1652.8 998.0,1676.0 1023.0,1701.0" fill="none" stroke="#8b0000" stroke-width="10.5" stroke-linejoin="round" stroke-linecap="round"/>
<polyline points="1023.0,1701.0 1052.0,1695.4 1071.5,1680.0 1114.0,1618.0 1141.0,1583.0 1176.8,1544.0 1207.0,1513.5" fill="none" stroke="#00008b" stroke-width="10.5" stroke-linejoin="round" stroke-linecap="round"/>
<polyline points="1211.0,1507.5 1238.0,1509.0" fill="none" stroke="#8b0000" stroke-width="10.5" stroke-linejoin="round" stroke-linecap="round"/>
<polyline points="1238.0,1509.0 1260.7,1483.0 1283.6,1473.4 1306.5,1470.7" fill="none" stroke="#00008b" stroke-width="10.5" stroke-linejoin="round" stroke-linecap="round"/>
<polyline points="1306.5,1470.7 1333.0,1470.7" fill="none" stroke="#8b0000" stroke-width="10.5" stroke-linejoin="round" stroke-linecap="round"/>
<polyline points="1333.0,1470.7 1354.0,1467.6" fill="none" stroke="#00008b" stroke-width="10.5" stroke-linejoin="round" stroke-linecap="round"/>
<polyline points="1354.0,1465.0 1371.5,1475.0 1405.8,1477.0" fill="none" stroke="#8b0000" stroke-width="10.5" stroke-linejoin="round" stroke-linecap="round"/>
<polyline points="1405.8,1480.0 1426.8,1471.5" fill="none" stroke="#00008b" stroke-width="10.5" stroke-linejoin="round" stroke-linecap="round"/>
<polyline points="1426.8,1471.5 1451.6,1479.0 1478.4,1496.0 1497.5,1517.0 1524.0,1536.0 1551.0,1563.0 1566.6,1571.6 1597.5,1579.0" fill="none" stroke="#8b0000" stroke-width="10.5" stroke-linejoin="round" stroke-linecap="round"/>
<polyline points="1597.5,1579.0 1628.5,1575.5 1655.5,1567.7 1694.0,1564.0 1736.8,1564.0" fill="none" stroke="#00008b" stroke-width="10.5" stroke-linejoin="round" stroke-linecap="round"/>
<polyline points="1736.8,1562.0 1763.9,1571.6 1791.0,1579.0 1825.7,1583.0 1860.5,1594.8 1883.8,1602.5 1911.0,1610.3 1945.8,1629.6 1980.6,1641.0 2011.5,1656.7 2046.4,1664.5 2077.3,1662.5" fill="none" stroke="#8b0000" stroke-width="10.5" stroke-linejoin="round" stroke-linecap="round"/>
<polyline points="2077.3,1664.0 2096.7,1641.0 2119.9,1602.6 2143.0,1567.7 2170.0,1538.4 2197.0,1532.7 2216.0,1517.4 2242.8,1507.8 2265.7,1502.0" fill="none" stroke="#00008b" stroke-width="10.5" stroke-linejoin="round" stroke-linecap="round"/>
<polyline points="2265.7,1500.0 2292.5,1506.0 2315.4,1525.0 2334.5,1551.8 2359.7,1594.8 2390.7,1631.6 2421.6,1645.0 2452.6,1660.6 2483.5,1674.0" fill="none" stroke="#8b0000" stroke-width="10.5" stroke-linejoin="round" stroke-linecap="round"/>
<polyline points="2483.5,1674.0 2514.5,1672.0 2553.0,1654.8" fill="none" stroke="#00008b" stroke-width="10.5" stroke-linejoin="round" stroke-linecap="round"/>
<polyline points="2553.0,1652.8 2582.0,1652.8" fill="none" stroke="#8b0000" stroke-width="10.5" stroke-linejoin="round" stroke-linecap="round"/>
<polyline points="2582.0,1652.8 2607.0,1635.4 2630.6,1629.6 2653.8,1608.4 2677.0,1596.8 2700.0,1593.0" fill="none" stroke="#00008b" stroke-width="10.5" stroke-linejoin="round" stroke-linecap="round"/>
<polyline points="2700.0,1593.0 2727.0,1593.0" fill="none" stroke="#8b0000" stroke-width="10.5" stroke-linejoin="round" stroke-linecap="round"/>
<polyline points="2727.0,1593.0 2754.4,1575.5 2770.0,1555.6 2796.6,1536.5 2815.7,1525.8 2842.4,1525.0" fill="none" stroke="#00008b" stroke-width="10.5" stroke-linejoin="round" stroke-linecap="round"/>
<polyline points="2838.0,1523.0 2859.4,1532.0 2886.5,1555.3 2916.0,1584.0 2944.0,1590.0 2968.0,1606.0 2992.0,1638.0 3016.0,1672.0 3040.5,1684.0 3064.5,1720.0 3088.6,1756.5 3112.6,1780.6 3136.7,1800.6" fill="none" stroke="#8b0000" stroke-width="10.5" stroke-linejoin="round" stroke-linecap="round"/>
<polyline points="3136.7,1800.6 3154.7,1800.6" fill="none" stroke="#00008b" stroke-width="10.5" stroke-linejoin="round" stroke-linecap="round"/>
<polyline points="3154.7,1799.0 3172.8,1808.6 3188.8,1818.7 3207.0,1820.7" fill="none" stroke="#8b0000" stroke-width="10.5" stroke-linejoin="round" stroke-linecap="round"/>
<polyline points="3207.0,1820.7 3225.0,1804.6 3253.0,1780.6 3277.0,1776.6 3301.0,1756.5 3319.0,1728.5" fill="none" stroke="#00008b" stroke-width="10.5" stroke-linejoin="round" stroke-linecap="round"/>
</g>
<line x1="1221.4" y1="1931.0" x2="1221.4" y2="2075.0" stroke="#fff" stroke-width="1" stroke-dasharray="4 3"/>
<line x1="3429.6" y1="1056.0" x2="3429.6" y2="2081.0" stroke="#fff" stroke-width="1" stroke-dasharray="4 3"/>
<line x1="1909.6" y1="878.0" x2="1909.6" y2="1022.0" stroke="#fff" stroke-width="1" stroke-dasharray="4 3"/>
<line x1="436.7" y1="878.0" x2="436.7" y2="1022.0" stroke="#fff" stroke-width="1" stroke-dasharray="4 3"/>
<line x1="3381.5" y1="3.0" x2="3381.5" y2="1028.0" stroke="#fff" stroke-width="1" stroke-dasharray="4 3"/>
<rect x="4.5" y="2.5" width="3779.0" height="872.0" fill="none" stroke="#fff" stroke-width="1"/>
<line x1="4.5" y1="876.5" x2="3783.5" y2="876.5" stroke="#fff" stroke-width="1"/>
<line x1="4.5" y1="1028.5" x2="3783.5" y2="1028.5" stroke="#fff" stroke-width="1"/>
<line x1="4.5" y1="2.5" x2="4.5" y2="1028.5" stroke="#fff" stroke-width="1"/>
<line x1="3783.5" y1="2.5" x2="3783.5" y2="1028.5" stroke="#fff" stroke-width="1"/>
<rect x="4.5" y="1055.5" width="3779.0" height="872.0" fill="none" stroke="#fff" stroke-width="1"/>
<line x1="4.5" y1="1929.5" x2="3783.5" y2="1929.5" stroke="#fff" stroke-width="1"/>
<line x1="4.5" y1="2081.5" x2="3783.5" y2="2081.5" stroke="#fff" stroke-width="1"/>
<line x1="4.5" y1="1055.5" x2="4.5" y2="2081.5" stroke="#fff" stroke-width="1"/>
<line x1="3783.5" y1="1055.5" x2="3783.5" y2="2081.5" stroke="#fff" stroke-width="1"/>
<path d="M3323,3 l12,0 l-6,6.5 z" fill="#fff"/><path d="M3323,1056 l12,0 l-6,6.5 z" fill="#fff"/>
<rect x="1758.0" y="952.0" width="15.0" height="64.0" fill="#00ffff"/>
<rect x="2510.2" y="889.0" width="15.0" height="63.0" fill="#ff0000"/>
<rect x="3166.3" y="952.0" width="15.0" height="64.0" fill="#00ffff"/>
<polyline points="5.0,952.0 37.5,952.0 53.5,1014.0 69.5,952.0 293.0,952.0 309.0,890.0 325.0,952.0 1750.0,952.0 1766.0,1014.0 1782.0,952.0 1909.0,952.0 1925.0,890.0 1941.0,952.0 2101.0,952.0 2117.0,1014.0 2133.0,952.0 2164.7,952.0 2180.7,890.0 2196.7,952.0 2405.9,952.0 2421.9,1014.0 2437.9,952.0 2501.5,952.0 2517.5,890.0 2533.5,952.0 2661.0,952.0 2677.0,1014.0 2693.0,952.0 2933.6,952.0 2949.6,890.0 2965.6,952.0 3157.0,952.0 3173.0,1014.0 3189.0,952.0 3301.0,952.0" fill="none" stroke="#707070" stroke-width="2.2" stroke-linejoin="miter"/>
<circle cx="53.5" cy="1015.0" r="3.0" fill="#707070"/>
<circle cx="821.0" cy="1015.0" r="3.0" fill="#707070"/>
<circle cx="1013.5" cy="1015.0" r="3.0" fill="#707070"/>
<circle cx="1045.0" cy="1015.0" r="3.0" fill="#707070"/>
<circle cx="1076.8" cy="1015.0" r="3.0" fill="#707070"/>
<circle cx="1269.0" cy="1015.0" r="3.0" fill="#707070"/>
<circle cx="1381.8" cy="1015.0" r="3.0" fill="#707070"/>
<circle cx="1445.0" cy="1015.0" r="3.0" fill="#707070"/>
<circle cx="1509.3" cy="1015.0" r="3.0" fill="#707070"/>
<circle cx="1716.4" cy="1015.0" r="3.0" fill="#707070"/>
<circle cx="1861.0" cy="890.0" r="3.0" fill="#707070"/>
<circle cx="1925.0" cy="890.0" r="3.0" fill="#707070"/>
<circle cx="3093.0" cy="1014.4" r="3.0" fill="#707070"/>
<circle cx="3141.0" cy="1014.4" r="3.0" fill="#707070"/>
<polyline points="5.0,984.2 9.0,985.4 13.0,986.5 17.0,987.6 21.0,988.7 25.0,989.7 29.0,990.8 33.0,991.8 37.0,992.8 41.0,993.9 45.0,994.9 49.0,995.9 53.0,996.9 57.0,997.7 61.0,998.4 65.0,999.0 69.0,999.5 73.0,999.9 77.0,1000.3 81.0,1000.6 85.0,1000.9 89.0,1001.1 93.0,1001.3 97.0,1001.5 101.0,1001.7 105.0,1001.9 109.0,1002.1 113.0,1002.2 117.0,1002.4 121.0,1002.0 125.0,1001.0 129.0,999.3 133.0,997.2 137.0,994.7 141.0,991.7 145.0,988.3 149.0,984.7 153.0,981.0 157.0,977.4 161.0,973.8 165.0,970.4 169.0,967.6 173.0,965.4 177.0,963.7 181.0,962.3 185.0,960.7 189.0,958.9 193.0,957.1 197.0,955.1 201.0,953.0 205.0,950.9 209.0,948.7 213.0,946.4 217.0,944.0 221.0,941.5 225.0,938.9 229.0,936.3 233.0,934.5 237.0,933.4 241.0,932.8 245.0,932.6 249.0,932.8 253.0,933.2 257.0,933.9 261.0,934.8 265.0,935.7 269.0,936.9 273.0,938.1 277.0,939.3 281.0,939.6 285.0,939.1 289.0,937.9 293.0,936.2 297.0,933.9 301.0,930.9 305.0,927.3 309.0,923.3 313.0,919.7 317.0,916.6 321.0,913.8 325.0,911.2 329.0,908.9 333.0,906.7 337.0,904.7 341.0,902.7 345.0,902.4 349.0,903.6 353.0,905.9 357.0,909.0 361.0,911.8 365.0,914.5 369.0,917.1 373.0,919.5 377.0,922.0 381.0,924.4 385.0,926.8 389.0,929.2 393.0,931.6 397.0,934.0 401.0,936.4 405.0,938.8 409.0,941.2 413.0,943.5 417.0,945.7 421.0,948.0 425.0,950.0 429.0,951.8 433.0,953.5 437.0,954.9 441.0,956.0 445.0,956.9 449.0,957.7 453.0,958.3 457.0,958.9 461.0,959.7 465.0,960.6 469.0,961.5 473.0,962.0 477.0,962.2 481.0,962.1 485.0,961.8 489.0,961.4 493.0,960.7 497.0,960.0 501.0,959.2 505.0,958.3 509.0,957.5 513.0,956.6 517.0,955.7 521.0,954.7 525.0,953.7 529.0,952.6 533.0,951.4 537.0,950.3 541.0,949.1 545.0,947.9 549.0,946.7 553.0,945.4 557.0,944.2 561.0,942.9 565.0,941.7 569.0,940.4 573.0,939.2 577.0,938.0 581.0,936.8 585.0,935.6 589.0,934.2 593.0,932.8 597.0,931.4 601.0,930.3 605.0,929.5 609.0,928.9 613.0,928.4 617.0,928.1 621.0,927.9 625.0,927.8 629.0,927.8 633.0,928.5 637.0,930.0 641.0,932.0 645.0,934.5 649.0,936.8 653.0,939.0 657.0,941.0 661.0,942.9 665.0,944.2 669.0,944.9 673.0,945.2 677.0,945.1 681.0,945.3 685.0,945.8 689.0,946.5 693.0,947.3 697.0,949.0 701.0,951.4 705.0,954.4 709.0,957.8 713.0,961.2 717.0,964.8 721.0,968.3 725.0,972.0 729.0,975.1 733.0,977.9 737.0,980.4 741.0,982.7 745.0,984.7 749.0,986.4 753.0,988.0 757.0,989.4 761.0,990.7 765.0,991.8 769.0,992.9 773.0,993.9 777.0,995.0 781.0,996.1 785.0,997.2 789.0,998.4 793.0,999.5 797.0,1000.6 801.0,1001.5 805.0,1002.5 809.0,1003.5 813.0,1004.6 817.0,1005.7 821.0,1006.8 825.0,1007.8 829.0,1008.8 833.0,1009.7 837.0,1010.5 841.0,1011.2 845.0,1011.8 849.0,1012.3 853.0,1012.8 857.0,1013.2 861.0,1013.5 865.0,1013.7 869.0,1013.8 873.0,1013.5 877.0,1012.7 881.0,1011.3 885.0,1009.6 889.0,1007.6 893.0,1005.3 897.0,1002.9 901.0,1000.4 905.0,998.2 909.0,996.3 913.0,994.6 917.0,993.1 921.0,991.4 925.0,989.6 929.0,987.8 933.0,985.8 937.0,983.0 941.0,979.6 945.0,975.6 949.0,971.3 953.0,968.0 957.0,965.3 961.0,963.2 965.0,961.4 969.0,960.0 973.0,958.7 977.0,957.7 981.0,957.0 985.0,956.6 989.0,956.6 993.0,956.9 997.0,957.3 1001.0,958.7 1005.0,960.8 1009.0,963.7 1013.0,967.1 1017.0,970.2 1021.0,973.1 1025.0,975.8 1029.0,978.4 1033.0,980.8 1037.0,983.1 1041.0,985.3 1045.0,987.4 1049.0,989.4 1053.0,991.2 1057.0,992.8 1061.0,994.2 1065.0,995.5 1069.0,996.7 1073.0,997.9 1077.0,999.0 1081.0,1000.0 1085.0,1001.0 1089.0,1002.0 1093.0,1002.9 1097.0,1003.8 1101.0,1004.5 1105.0,1005.2 1109.0,1005.8 1113.0,1006.3 1117.0,1006.8 1121.0,1007.3 1125.0,1007.8 1129.0,1008.2 1133.0,1008.6 1137.0,1009.0 1141.0,1009.4 1145.0,1009.8 1149.0,1010.2 1153.0,1010.6 1157.0,1011.0 1161.0,1011.5 1165.0,1011.9 1169.0,1012.3 1173.0,1012.8 1177.0,1013.2 1181.0,1013.7 1185.0,1014.1 1189.0,1014.5 1193.0,1014.9 1197.0,1015.3 1201.0,1015.6 1205.0,1015.9 1209.0,1016.3 1213.0,1016.6 1217.0,1016.9 1221.0,1017.2 1225.0,1017.5 1229.0,1017.8 1233.0,1018.1 1237.0,1018.4 1241.0,1018.7 1245.0,1018.9 1249.0,1019.1 1253.0,1019.3 1257.0,1019.4 1261.0,1019.6 1265.0,1019.7 1269.0,1019.8 1273.0,1020.0 1277.0,1020.1 1281.0,1020.2 1285.0,1020.3 1289.0,1020.4 1293.0,1020.4 1297.0,1020.5 1301.0,1020.5 1305.0,1020.5 1309.0,1020.4 1313.0,1020.4 1317.0,1020.3 1321.0,1020.2 1325.0,1019.8 1329.0,1019.2 1333.0,1018.4 1337.0,1017.5 1341.0,1016.5 1345.0,1015.3 1349.0,1014.2 1353.0,1013.4 1357.0,1012.7 1361.0,1012.2 1365.0,1011.8 1369.0,1011.6 1373.0,1011.4 1377.0,1011.3 1381.0,1010.9 1385.0,1009.3 1389.0,1006.9 1393.0,1003.7 1397.0,1000.0 1401.0,996.2 1405.0,992.2 1409.0,988.1 1413.0,983.9 1417.0,980.4 1421.0,977.5 1425.0,975.2 1429.0,973.3 1433.0,972.2 1437.0,971.7 1441.0,971.7 1445.0,972.2 1449.0,972.8 1453.0,973.6 1457.0,974.4 1461.0,975.4 1465.0,976.3 1469.0,977.0 1473.0,977.8 1477.0,978.5 1481.0,979.4 1485.0,980.6 1489.0,981.9 1493.0,983.4 1497.0,984.9 1501.0,986.4 1505.0,987.9 1509.0,989.4 1513.0,990.9 1517.0,992.4 1521.0,993.9 1525.0,995.4 1529.0,996.8 1533.0,998.0 1537.0,999.1 1541.0,1000.1 1545.0,1001.0 1549.0,1001.9 1553.0,1002.8 1557.0,1003.7 1561.0,1004.6 1565.0,1005.5 1569.0,1006.4 1573.0,1007.3 1577.0,1008.1 1581.0,1009.0 1585.0,1009.8 1589.0,1010.6 1593.0,1011.4 1597.0,1012.1 1601.0,1012.9 1605.0,1013.7 1609.0,1014.3 1613.0,1014.8 1617.0,1015.2 1621.0,1015.5 1625.0,1015.8 1629.0,1016.0 1633.0,1016.1 1637.0,1016.3 1641.0,1016.4 1645.0,1016.5 1649.0,1016.5 1653.0,1016.6 1657.0,1016.6 1661.0,1016.7 1665.0,1016.7 1669.0,1016.7 1673.0,1016.7 1677.0,1016.7 1681.0,1016.8 1685.0,1016.8 1689.0,1016.8 1693.0,1016.5 1697.0,1016.2 1701.0,1015.7 1705.0,1015.3 1709.0,1015.1 1713.0,1015.0 1717.0,1014.9 1721.0,1014.9 1725.0,1015.0 1729.0,1015.1 1733.0,1015.2 1737.0,1015.3 1741.0,1015.4 1745.0,1015.5 1749.0,1015.7 1753.0,1015.8 1757.0,1015.9 1761.0,1016.0 1765.0,1016.2 1769.0,1016.3 1773.0,1016.1 1777.0,1015.9 1781.0,1015.5 1785.0,1014.3 1789.0,1012.4 1793.0,1009.8 1797.0,1006.4 1801.0,1002.0 1805.0,996.7 1809.0,990.7 1813.0,984.1 1817.0,977.6 1821.0,971.2 1825.0,964.9 1829.0,958.8 1833.0,953.2 1837.0,948.1 1841.0,943.4 1845.0,939.0 1849.0,934.9 1853.0,931.3 1857.0,928.0 1861.0,925.0 1865.0,922.2 1869.0,919.6 1873.0,917.2 1877.0,914.9 1881.0,912.9 1885.0,910.9 1889.0,909.0 1893.0,907.2 1897.0,905.9 1901.0,905.0 1905.0,904.4 1909.0,904.1 1913.0,903.6 1917.0,903.0 1921.0,902.3 1925.0,901.6 1929.0,900.9 1933.0,900.3 1937.0,899.8 1941.0,899.4 1945.0,899.1 1949.0,898.7 1953.0,898.5 1957.0,898.2 1961.0,898.0 1965.0,897.8 1969.0,897.6 1973.0,897.4 1977.0,897.2 1981.0,897.0 1985.0,896.8 1989.0,896.7 1993.0,897.0 1997.0,898.0 2001.0,899.4 2005.0,901.2 2009.0,902.9 2013.0,904.4 2017.0,905.9 2021.0,907.3 2025.0,908.2 2029.0,908.9 2033.0,909.3 2037.0,909.4 2041.0,910.0 2045.0,911.1 2049.0,912.7 2053.0,914.5 2057.0,917.0 2061.0,919.9 2065.0,923.2 2069.0,926.8 2073.0,930.7 2077.0,934.8 2081.0,939.0 2085.0,943.4 2089.0,947.6 2093.0,951.5 2097.0,955.1 2101.0,958.6 2105.0,961.8 2109.0,964.9 2113.0,967.9 2117.0,970.8 2121.0,973.5 2125.0,975.6 2129.0,977.4 2133.0,978.9 2137.0,980.1 2141.0,981.2 2145.0,982.1 2149.0,982.8 2153.0,983.4 2157.0,983.7 2161.0,983.8 2165.0,983.8 2169.0,982.9 2173.0,981.3 2177.0,979.1 2181.0,976.4 2185.0,973.7 2189.0,970.9 2193.0,968.1 2197.0,965.2 2201.0,962.8 2205.0,960.8 2209.0,959.2 2213.0,957.9 2217.0,956.8 2221.0,956.0 2225.0,955.3 2229.0,954.7 2233.0,954.2 2237.0,953.8 2241.0,953.5 2245.0,953.2 2249.0,953.3 2253.0,954.0 2257.0,955.2 2261.0,956.7 2265.0,958.2 2269.0,959.7 2273.0,961.2 2277.0,962.8 2281.0,964.3 2285.0,965.9 2289.0,967.5 2293.0,969.0 2297.0,970.5 2301.0,971.9 2305.0,973.1 2309.0,974.3 2313.0,975.4 2317.0,976.5 2321.0,977.5 2325.0,978.7 2329.0,979.9 2333.0,981.3 2337.0,982.7 2341.0,984.1 2345.0,985.4 2349.0,986.7 2353.0,987.9 2357.0,989.1 2361.0,990.3 2365.0,991.6 2369.0,992.9 2373.0,994.3 2377.0,995.6 2381.0,996.9 2385.0,998.0 2389.0,999.0 2393.0,1000.0 2397.0,1000.9 2401.0,1001.8 2405.0,1002.6 2409.0,1003.3 2413.0,1003.9 2417.0,1004.5 2421.0,1005.1 2425.0,1005.7 2429.0,1006.2 2433.0,1006.6 2437.0,1007.1 2441.0,1007.5 2445.0,1007.8 2449.0,1008.0 2453.0,1008.2 2457.0,1008.4 2461.0,1008.5 2465.0,1008.6 2469.0,1008.7 2473.0,1006.5 2477.0,1001.6 2481.0,994.7 2485.0,986.2 2489.0,977.3 2493.0,968.3 2497.0,959.2 2501.0,950.0 2505.0,941.9 2509.0,934.6 2513.0,928.0 2517.0,921.9 2521.0,916.6 2525.0,912.2 2529.0,908.6 2533.0,905.5 2537.0,902.9 2541.0,900.8 2545.0,899.0 2549.0,897.5 2553.0,896.2 2557.0,895.0 2561.0,893.8 2565.0,892.7 2569.0,891.7 2573.0,890.9 2577.0,890.1 2581.0,889.4 2585.0,888.8 2589.0,888.3 2593.0,887.9 2597.0,887.6 2601.0,888.2 2605.0,889.5 2609.0,891.4 2613.0,893.7 2617.0,896.9 2621.0,900.7 2625.0,904.9 2629.0,909.6 2633.0,914.5 2637.0,919.7 2641.0,925.0 2645.0,930.4 2649.0,935.5 2653.0,940.3 2657.0,944.9 2661.0,949.3 2665.0,953.3 2669.0,957.1 2673.0,960.5 2677.0,963.7 2681.0,966.7 2685.0,969.1 2689.0,971.3 2693.0,973.1 2697.0,974.6 2701.0,976.0 2705.0,977.1 2709.0,978.2 2713.0,979.1 2717.0,980.0 2721.0,980.8 2725.0,981.4 2729.0,982.0 2733.0,982.5 2737.0,982.9 2741.0,983.3 2745.0,983.4 2749.0,983.0 2753.0,982.3 2757.0,981.3 2761.0,979.9 2765.0,978.0 2769.0,975.9 2773.0,973.4 2777.0,971.0 2781.0,968.6 2785.0,966.1 2789.0,963.7 2793.0,961.6 2797.0,960.2 2801.0,959.2 2805.0,958.6 2809.0,957.7 2813.0,956.5 2817.0,955.0 2821.0,953.4 2825.0,951.5 2829.0,949.6 2833.0,947.5 2837.0,945.4 2841.0,942.9 2845.0,940.0 2849.0,936.9 2853.0,933.5 2857.0,930.3 2861.0,927.2 2865.0,924.2 2869.0,921.4 2873.0,919.2 2877.0,917.5 2881.0,916.2 2885.0,915.3 2889.0,914.7 2893.0,914.4 2897.0,914.3 2901.0,914.2 2905.0,913.7 2909.0,913.0 2913.0,912.1 2917.0,911.1 2921.0,910.0 2925.0,908.9 2929.0,907.8 2933.0,906.7 2937.0,905.2 2941.0,903.5 2945.0,901.5 2949.0,899.5 2953.0,897.6 2957.0,895.8 2961.0,894.2 2965.0,892.6 2969.0,891.3 2973.0,890.0 2977.0,888.9 2981.0,888.1 2985.0,888.2 2989.0,889.0 2993.0,890.4 2997.0,892.2 3001.0,895.1 3005.0,899.0 3009.0,903.8 3013.0,909.2 3017.0,914.7 3021.0,920.2 3025.0,925.8 3029.0,931.3 3033.0,936.0 3037.0,940.0 3041.0,943.5 3045.0,946.7 3049.0,949.6 3053.0,952.3 3057.0,954.8 3061.0,957.4 3065.0,960.2 3069.0,963.1 3073.0,966.1 3077.0,969.2 3081.0,972.1 3085.0,974.8 3089.0,977.4 3093.0,979.8 3097.0,982.0 3101.0,983.8 3105.0,985.3 3109.0,986.6 3113.0,988.0 3117.0,989.3 3121.0,990.6 3125.0,991.9 3129.0,993.1 3133.0,994.2 3137.0,995.3 3141.0,996.4 3145.0,997.4 3149.0,998.4 3153.0,999.3 3157.0,1000.2 3161.0,1001.0 3165.0,1001.8 3169.0,1002.6 3173.0,1003.0 3177.0,1003.2 3181.0,1003.3 3185.0,1003.1 3189.0,1002.9 3193.0,1002.9 3197.0,1003.0 3201.0,1003.1 3205.0,1003.4 3209.0,1003.6 3213.0,1003.7 3217.0,1003.8 3221.0,1003.9 3225.0,1003.1 3229.0,1001.3 3233.0,998.8 3237.0,995.7 3241.0,992.3 3245.0,988.5 3249.0,984.5 3253.0,980.3 3257.0,976.2 3261.0,972.4 3265.0,968.8 3269.0,965.3 3273.0,962.0 3277.0,958.8 3281.0,955.7 3285.0,952.8 3289.0,949.7 3293.0,946.5 3297.0,943.1 3301.0,939.7" fill="none" stroke="#f0f0e0" stroke-width="1" stroke-dasharray="4 3"/>
<polyline points="4.8,989.0 53.5,1001.0 118.8,1003.0 136.6,985.0 149.7,969.3 164.4,956.6 181.4,956.6" fill="none" stroke="#ee82ee" stroke-width="2.6" stroke-linejoin="round" stroke-linecap="round"/>
<polyline points="212.7,937.6 229.0,925.7" fill="none" stroke="#1e90ff" stroke-width="2.6" stroke-linejoin="round" stroke-linecap="round"/>
<polyline points="277.0,944.4 295.0,927.7 309.0,907.0 341.4,894.9 356.4,921.0 373.0,929.3" fill="none" stroke="#1e90ff" stroke-width="2.6" stroke-linejoin="round" stroke-linecap="round"/>
<polyline points="404.8,948.3 421.8,957.4 435.6,960.6 453.5,960.6 469.3,965.3 499.8,956.2 517.6,951.9" fill="none" stroke="#ee82ee" stroke-width="2.6" stroke-linejoin="round" stroke-linecap="round"/>
<polyline points="564.4,936.8 582.2,931.7 596.8,925.7 629.7,927.7" fill="none" stroke="#1e90ff" stroke-width="2.6" stroke-linejoin="round" stroke-linecap="round"/>
<polyline points="644.8,944.4 660.6,950.7" fill="none" stroke="#ee82ee" stroke-width="2.6" stroke-linejoin="round" stroke-linecap="round"/>
<polyline points="677.2,944.8 693.0,950.7 709.0,971.3 724.8,986.3 742.6,992.3 772.3,997.8 790.0,1003.4 804.0,1006.0 819.8,1011.0 835.6,1013.7 855.4,1014.9 871.3,1014.0 887.0,1001.0 901.0,990.3 916.8,987.0 932.7,978.4 948.5,954.3 960.0,954.7 979.8,953.5 997.6,959.4 1013.5,981.2 1047.0,997.0 1094.7,1007.0 1142.0,1011.0 1181.8,1015.6 1237.0,1019.6 1288.7,1020.8 1320.4,1020.0 1348.0,1009.7 1379.8,1011.0 1395.6,987.0 1413.5,966.5 1429.3,965.7 1445.0,974.0 1461.0,979.2 1476.8,981.2 1494.7,990.0 1526.3,1002.0 1542.0,1004.0 1573.9,1011.0 1605.5,1016.8 1688.7,1016.8 1700.6,1013.7 1732.3,1015.6 1768.0,1016.8 1781.8,1013.7 1795.6,996.2 1813.5,956.6" fill="none" stroke="#ee82ee" stroke-width="2.6" stroke-linejoin="round" stroke-linecap="round"/>
<polyline points="1829.3,933.7 1847.0,919.8 1867.0,909.9 1892.7,900.0 1908.8,902.7 1926.0,898.3 1990.0,896.0 2005.0,908.4 2020.6,912.8 2038.0,910.0 2053.5,922.4" fill="none" stroke="#1e90ff" stroke-width="2.6" stroke-linejoin="round" stroke-linecap="round"/>
<polyline points="2068.8,941.0 2086.4,962.8 2119.0,983.8 2150.0,986.0 2165.0,983.8 2180.7,966.0 2198.0,953.0 2246.5,952.0 2259.6,962.0 2294.7,976.0 2321.0,981.6 2338.5,989.0 2356.0,993.5 2378.0,1001.4 2404.3,1005.7 2437.0,1009.0 2470.0,1009.0 2485.5,950.0" fill="none" stroke="#ee82ee" stroke-width="2.6" stroke-linejoin="round" stroke-linecap="round"/>
<polyline points="2485.5,950.0 2500.8,913.7 2518.4,896.0 2536.0,892.6 2549.0,891.7 2566.6,888.0 2584.0,886.4 2597.0,886.4 2612.7,902.7 2628.0,926.8" fill="none" stroke="#1e90ff" stroke-width="2.6" stroke-linejoin="round" stroke-linecap="round"/>
<polyline points="2628.0,926.8 2645.6,953.0 2663.0,968.5 2680.6,978.5 2702.6,981.6 2720.0,983.8 2742.0,985.0 2757.4,977.2 2772.7,964.0 2790.3,953.0 2805.6,956.2" fill="none" stroke="#ee82ee" stroke-width="2.6" stroke-linejoin="round" stroke-linecap="round"/>
<polyline points="2837.6,936.5 2853.0,920.0 2868.5,910.0 2884.0,911.4 2899.0,914.4 2916.7,907.0 2932.0,902.6 2949.6,890.8 2967.0,886.0 2980.0,884.0 2998.0,900.4 3013.0,931.0" fill="none" stroke="#1e90ff" stroke-width="2.6" stroke-linejoin="round" stroke-linecap="round"/>
<polyline points="3013.0,931.0 3028.5,953.0 3046.0,959.6 3059.0,966.0 3076.8,981.5 3094.3,990.3 3107.5,991.6 3125.0,997.0 3147.0,1002.0 3169.0,1005.6 3188.6,1002.0 3204.0,1004.3 3221.5,1004.3 3236.8,983.7 3254.4,961.8 3269.7,950.8" fill="none" stroke="#ee82ee" stroke-width="2.6" stroke-linejoin="round" stroke-linecap="round"/>
<polyline points="3285.0,941.0 3301.3,925.8" fill="none" stroke="#1e90ff" stroke-width="2.6" stroke-linejoin="round" stroke-linecap="round"/>
<rect x="1017.5" y="2005.0" width="7.3" height="64.0" fill="#00ffff"/>
<rect x="1257.3" y="1942.0" width="7.3" height="63.0" fill="#ff0000"/>
<rect x="2001.0" y="2005.0" width="7.3" height="64.0" fill="#00ffff"/>
<rect x="2129.7" y="1942.0" width="7.3" height="63.0" fill="#ff0000"/>
<rect x="2385.5" y="2005.0" width="7.3" height="64.0" fill="#00ffff"/>
<rect x="2785.1" y="1942.0" width="7.3" height="63.0" fill="#ff0000"/>
<rect x="3129.4" y="2005.0" width="7.3" height="64.0" fill="#00ffff"/>
<polyline points="5.0,2005.0 421.5,2005.0 429.3,2067.0 437.1,2005.0 485.2,2005.0 493.0,1943.0 500.8,2005.0 781.2,2005.0 789.0,2067.0 796.8,2005.0 853.6,2005.0 861.4,1943.0 869.2,2005.0 1013.4,2005.0 1021.2,2067.0 1029.0,2005.0 1141.8,2005.0 1149.6,1943.0 1157.4,2005.0 1213.4,2005.0 1221.2,2067.0 1229.0,2005.0 1253.2,2005.0 1261.0,1943.0 1268.8,2005.0 1541.2,2005.0 1549.0,2067.0 1556.8,2005.0 1629.6,2005.0 1637.4,1943.0 1645.2,2005.0 1996.8,2005.0 2004.6,2067.0 2012.4,2005.0 2125.6,2005.0 2133.4,1943.0 2141.2,2005.0 2197.2,2005.0 2205.0,2067.0 2212.8,2005.0 2213.4,2005.0 2221.2,1943.0 2229.0,2005.0 2381.0,2005.0 2388.8,2067.0 2396.6,2005.0 2637.1,2005.0 2644.9,1943.0 2652.7,2005.0 2717.6,2005.0 2725.4,2067.0 2733.2,2005.0 2781.4,2005.0 2789.2,1943.0 2797.0,2005.0 2910.2,2005.0 2918.0,2067.0 2925.8,2005.0 2933.2,2005.0 2941.0,1943.0 2948.8,2005.0 3005.2,2005.0 3013.0,2067.0 3020.8,2005.0 3029.2,2005.0 3037.0,1943.0 3044.8,2005.0 3125.7,2005.0 3133.5,2067.0 3141.3,2005.0 3141.7,2005.0 3149.5,1943.0 3157.3,2005.0 3173.0,2005.0 3180.8,2067.0 3188.6,2005.0 3237.2,2005.0 3245.0,1943.0 3252.8,2005.0 3285.2,2005.0 3293.0,2067.0 3300.8,2005.0 3318.0,2005.0" fill="none" stroke="#707070" stroke-width="2.2" stroke-linejoin="miter"/>
<circle cx="92.8" cy="2068.0" r="3.0" fill="#707070"/>
<circle cx="124.5" cy="2068.0" r="3.0" fill="#707070"/>
<circle cx="149.0" cy="2068.0" r="3.0" fill="#707070"/>
<circle cx="212.7" cy="2068.0" r="3.0" fill="#707070"/>
<circle cx="253.3" cy="2068.0" r="3.0" fill="#707070"/>
<circle cx="276.6" cy="2068.0" r="3.0" fill="#707070"/>
<circle cx="428.6" cy="2068.0" r="3.0" fill="#707070"/>
<circle cx="580.2" cy="2068.0" r="3.0" fill="#707070"/>
<circle cx="620.8" cy="2068.0" r="3.0" fill="#707070"/>
<circle cx="637.4" cy="2068.0" r="3.0" fill="#707070"/>
<circle cx="716.7" cy="2068.0" r="3.0" fill="#707070"/>
<circle cx="757.0" cy="2068.0" r="3.0" fill="#707070"/>
<circle cx="789.0" cy="2068.0" r="3.0" fill="#707070"/>
<circle cx="957.4" cy="2068.0" r="3.0" fill="#707070"/>
<circle cx="989.0" cy="2068.0" r="3.0" fill="#707070"/>
<circle cx="1501.6" cy="2068.0" r="3.0" fill="#707070"/>
<circle cx="1932.2" cy="2068.0" r="3.0" fill="#707070"/>
<circle cx="2332.7" cy="2068.0" r="3.0" fill="#707070"/>
<circle cx="2364.4" cy="2068.0" r="3.0" fill="#707070"/>
<circle cx="2901.0" cy="2068.0" r="3.0" fill="#707070"/>
<circle cx="2917.0" cy="2068.0" r="3.0" fill="#707070"/>
<circle cx="2989.0" cy="2068.0" r="3.0" fill="#707070"/>
<circle cx="2997.0" cy="2068.0" r="3.0" fill="#707070"/>
<circle cx="3013.0" cy="2068.0" r="3.0" fill="#707070"/>
<circle cx="3061.3" cy="2068.0" r="3.0" fill="#707070"/>
<circle cx="3077.4" cy="2068.0" r="3.0" fill="#707070"/>
<circle cx="1092.8" cy="1943.0" r="3.0" fill="#707070"/>
<circle cx="1116.8" cy="1943.0" r="3.0" fill="#707070"/>
<circle cx="1148.9" cy="1943.0" r="3.0" fill="#707070"/>
<circle cx="2116.0" cy="1943.0" r="3.0" fill="#707070"/>
<circle cx="2644.9" cy="1943.0" r="3.0" fill="#707070"/>
<circle cx="3213.0" cy="1943.0" r="3.0" fill="#707070"/>
<circle cx="3221.0" cy="1943.0" r="3.0" fill="#707070"/>
<circle cx="3237.0" cy="1943.0" r="3.0" fill="#707070"/>
<circle cx="3245.0" cy="1943.0" r="3.0" fill="#707070"/>
<polyline points="5.0,2043.9 9.0,2045.6 13.0,2047.4 17.0,2049.1 21.0,2050.9 25.0,2051.0 29.0,2049.9 33.0,2049.2 37.0,2048.9 41.0,2048.9 45.0,2048.9 49.0,2049.4 53.0,2050.4 57.0,2051.7 61.0,2053.2 65.0,2054.8 69.0,2056.6 73.0,2058.1 77.0,2059.5 81.0,2060.6 85.0,2061.7 89.0,2062.7 93.0,2063.7 97.0,2064.6 101.0,2065.5 105.0,2066.4 109.0,2067.3 113.0,2068.2 117.0,2069.0 121.0,2069.9 125.0,2070.7 129.0,2071.3 133.0,2071.8 137.0,2072.2 141.0,2072.5 145.0,2072.8 149.0,2073.0 153.0,2072.5 157.0,2071.5 161.0,2070.1 165.0,2068.4 169.0,2066.5 173.0,2064.4 177.0,2061.9 181.0,2058.9 185.0,2055.7 189.0,2052.2 193.0,2050.2 197.0,2049.7 201.0,2050.1 205.0,2051.1 209.0,2052.7 213.0,2054.5 217.0,2056.4 221.0,2058.0 225.0,2059.4 229.0,2060.7 233.0,2062.0 237.0,2063.2 241.0,2064.3 245.0,2065.4 249.0,2066.5 253.0,2067.5 257.0,2068.4 261.0,2069.1 265.0,2069.6 269.0,2069.9 273.0,2070.2 277.0,2070.4 281.0,2070.6 285.0,2070.8 289.0,2070.9 293.0,2071.0 297.0,2069.7 301.0,2066.8 305.0,2063.5 309.0,2060.1 313.0,2056.5 317.0,2052.8 321.0,2050.4 325.0,2048.8 329.0,2047.1 333.0,2044.5 337.0,2041.3 341.0,2037.7 345.0,2033.8 349.0,2029.7 353.0,2025.4 357.0,2020.9 361.0,2016.3 365.0,2011.6 369.0,2007.1 373.0,2003.0 377.0,1999.7 381.0,1997.0 385.0,1994.9 389.0,1993.0 393.0,1991.3 397.0,1989.7 401.0,1988.9 405.0,1989.2 409.0,1992.0 413.0,1996.9 417.0,2002.9 421.0,2009.5 425.0,2016.2 429.0,2023.1 433.0,2028.6 437.0,2033.2 441.0,2037.0 445.0,2040.2 449.0,2041.2 453.0,2040.3 457.0,2036.3 461.0,2030.2 465.0,2022.6 469.0,2014.0 473.0,2006.0 477.0,1998.8 481.0,1992.1 485.0,1986.3 489.0,1981.2 493.0,1976.7 497.0,1973.5 501.0,1971.3 505.0,1971.6 509.0,1973.5 513.0,1976.2 517.0,1979.4 521.0,1983.5 525.0,1988.2 529.0,1993.8 533.0,2000.1 537.0,2006.1 541.0,2011.6 545.0,2016.9 549.0,2021.9 553.0,2025.8 557.0,2028.9 561.0,2031.4 565.0,2033.6 569.0,2035.4 573.0,2037.4 577.0,2039.4 581.0,2041.4 585.0,2042.1 589.0,2041.6 593.0,2041.4 597.0,2041.8 601.0,2042.6 605.0,2043.6 609.0,2044.9 613.0,2046.4 617.0,2048.0 621.0,2049.6 625.0,2051.0 629.0,2052.0 633.0,2052.7 637.0,2053.5 641.0,2054.6 645.0,2055.8 649.0,2055.7 653.0,2054.4 657.0,2053.3 661.0,2052.6 665.0,2050.0 669.0,2045.7 673.0,2040.2 677.0,2034.0 681.0,2030.4 685.0,2028.5 689.0,2027.8 693.0,2028.0 697.0,2029.6 701.0,2032.4 705.0,2036.3 709.0,2040.4 713.0,2044.0 717.0,2047.2 721.0,2050.2 725.0,2053.0 729.0,2055.5 733.0,2057.5 737.0,2059.2 741.0,2060.6 745.0,2061.8 749.0,2062.9 753.0,2064.0 757.0,2064.9 761.0,2065.7 765.0,2066.4 769.0,2067.1 773.0,2067.7 777.0,2068.3 781.0,2068.9 785.0,2069.5 789.0,2070.0 793.0,2070.4 797.0,2070.6 801.0,2070.7 805.0,2070.7 809.0,2070.7 813.0,2070.1 817.0,2066.9 821.0,2061.9 825.0,2055.7 829.0,2048.9 833.0,2041.6 837.0,2034.1 841.0,2027.0 845.0,2020.3 849.0,2014.5 853.0,2009.2 857.0,2004.3 861.0,1999.8 865.0,1996.3 869.0,1993.7 873.0,1993.0 877.0,1993.9 881.0,1995.5 885.0,1997.7 889.0,2000.2 893.0,2003.1 897.0,2006.0 901.0,2009.1 905.0,2011.6 909.0,2013.6 913.0,2015.3 917.0,2016.7 921.0,2018.0 925.0,2018.5 929.0,2018.5 933.0,2018.5 937.0,2019.7 941.0,2021.7 945.0,2024.5 949.0,2028.4 953.0,2032.7 957.0,2036.9 961.0,2040.8 965.0,2044.4 969.0,2047.8 973.0,2050.7 977.0,2053.1 981.0,2055.2 985.0,2057.0 989.0,2058.6 993.0,2059.9 997.0,2060.9 1001.0,2061.7 1005.0,2062.4 1009.0,2062.9 1013.0,2063.4 1017.0,2063.8 1021.0,2062.6 1025.0,2060.0 1029.0,2055.8 1033.0,2049.7 1037.0,2042.4 1041.0,2035.0 1045.0,2027.4 1049.0,2019.9 1053.0,2012.4 1057.0,2005.6 1061.0,1999.5 1065.0,1994.0 1069.0,1988.8 1073.0,1983.9 1077.0,1979.6 1081.0,1975.6 1085.0,1971.9 1089.0,1968.3 1093.0,1964.9 1097.0,1962.2 1101.0,1960.0 1105.0,1958.1 1109.0,1956.4 1113.0,1954.9 1117.0,1953.6 1121.0,1952.3 1125.0,1951.1 1129.0,1950.1 1133.0,1949.3 1137.0,1948.6 1141.0,1948.1 1145.0,1947.6 1149.0,1947.2 1153.0,1946.8 1157.0,1946.4 1161.0,1946.1 1165.0,1945.8 1169.0,1945.6 1173.0,1945.3 1177.0,1945.1 1181.0,1944.9 1185.0,1944.6 1189.0,1944.4 1193.0,1944.3 1197.0,1944.2 1201.0,1944.2 1205.0,1944.1 1209.0,1944.3 1213.0,1945.0 1217.0,1951.5 1221.0,1963.6 1225.0,1975.0 1229.0,1985.6 1233.0,1994.7 1237.0,2002.4 1241.0,2007.9 1245.0,2011.8 1249.0,2011.6 1253.0,2008.1 1257.0,2003.5 1261.0,1998.1 1265.0,1993.4 1269.0,1989.1 1273.0,1985.1 1277.0,1981.4 1281.0,1978.5 1285.0,1976.1 1289.0,1974.0 1293.0,1972.2 1297.0,1970.6 1301.0,1969.1 1305.0,1968.5 1309.0,1968.8 1313.0,1969.7 1317.0,1970.9 1321.0,1973.1 1325.0,1975.9 1329.0,1979.1 1333.0,1982.6 1337.0,1985.8 1341.0,1988.5 1345.0,1991.0 1349.0,1993.3 1353.0,1995.6 1357.0,1997.7 1361.0,1999.7 1365.0,2001.8 1369.0,2004.9 1373.0,2009.1 1377.0,2014.0 1381.0,2019.4 1385.0,2023.5 1389.0,2026.7 1393.0,2029.4 1397.0,2031.5 1401.0,2032.9 1405.0,2033.7 1409.0,2033.4 1413.0,2032.0 1417.0,2027.9 1421.0,2021.5 1425.0,2015.5 1429.0,2009.9 1433.0,2005.6 1437.0,2002.5 1441.0,2001.7 1445.0,2003.3 1449.0,2005.9 1453.0,2009.1 1457.0,2012.1 1461.0,2014.6 1465.0,2016.6 1469.0,2018.8 1473.0,2022.3 1477.0,2026.8 1481.0,2031.5 1485.0,2035.9 1489.0,2040.0 1493.0,2043.9 1497.0,2047.2 1501.0,2050.2 1505.0,2052.8 1509.0,2055.3 1513.0,2057.6 1517.0,2059.4 1521.0,2061.0 1525.0,2062.3 1529.0,2063.5 1533.0,2064.6 1537.0,2065.7 1541.0,2066.5 1545.0,2067.2 1549.0,2067.6 1553.0,2067.9 1557.0,2068.1 1561.0,2067.0 1565.0,2063.8 1569.0,2059.2 1573.0,2053.5 1577.0,2048.0 1581.0,2042.9 1585.0,2038.1 1589.0,2033.6 1593.0,2029.2 1597.0,2024.9 1601.0,2019.6 1605.0,2013.4 1609.0,2008.1 1613.0,2003.7 1617.0,1999.9 1621.0,1996.5 1625.0,1993.0 1629.0,1989.5 1633.0,1985.7 1637.0,1981.9 1641.0,1978.2 1645.0,1975.3 1649.0,1972.8 1653.0,1970.6 1657.0,1969.2 1661.0,1968.3 1665.0,1967.9 1669.0,1967.7 1673.0,1969.2 1677.0,1971.9 1681.0,1975.4 1685.0,1979.4 1689.0,1985.1 1693.0,1991.8 1697.0,1997.6 1701.0,2002.7 1705.0,2006.6 1709.0,2009.5 1713.0,2011.5 1717.0,2013.4 1721.0,2015.2 1725.0,2016.9 1729.0,2017.1 1733.0,2016.2 1737.0,2015.3 1741.0,2015.0 1745.0,2015.2 1749.0,2015.7 1753.0,2016.4 1757.0,2017.3 1761.0,2018.8 1765.0,2022.2 1769.0,2027.0 1773.0,2031.3 1777.0,2035.0 1781.0,2038.2 1785.0,2041.1 1789.0,2043.8 1793.0,2046.3 1797.0,2048.5 1801.0,2050.5 1805.0,2052.4 1809.0,2054.2 1813.0,2055.2 1817.0,2055.1 1821.0,2053.8 1825.0,2050.6 1829.0,2045.9 1833.0,2041.5 1837.0,2037.4 1841.0,2034.1 1845.0,2032.2 1849.0,2031.2 1853.0,2030.9 1857.0,2031.6 1861.0,2032.9 1865.0,2034.8 1869.0,2037.0 1873.0,2039.6 1877.0,2042.4 1881.0,2045.5 1885.0,2048.5 1889.0,2051.0 1893.0,2053.3 1897.0,2055.3 1901.0,2057.1 1905.0,2058.6 1909.0,2059.8 1913.0,2060.8 1917.0,2061.7 1921.0,2062.5 1925.0,2063.3 1929.0,2064.1 1933.0,2064.7 1937.0,2065.4 1941.0,2065.9 1945.0,2066.5 1949.0,2067.0 1953.0,2067.5 1957.0,2068.1 1961.0,2068.6 1965.0,2068.7 1969.0,2068.2 1973.0,2067.2 1977.0,2066.5 1981.0,2066.0 1985.0,2059.9 1989.0,2050.1 1993.0,2041.8 1997.0,2034.6 2001.0,2030.8 2005.0,2030.3 2009.0,2030.0 2013.0,2029.8 2017.0,2029.8 2021.0,2030.1 2025.0,2030.6 2029.0,2031.1 2033.0,2031.0 2037.0,2029.9 2041.0,2028.0 2045.0,2025.5 2049.0,2024.3 2053.0,2024.8 2057.0,2024.2 2061.0,2022.6 2065.0,2020.9 2069.0,2019.8 2073.0,2019.2 2077.0,2019.0 2081.0,2013.0 2085.0,2002.4 2089.0,1992.4 2093.0,1982.8 2097.0,1974.4 2101.0,1967.6 2105.0,1961.8 2109.0,1956.9 2113.0,1952.7 2117.0,1949.4 2121.0,1946.9 2125.0,1944.8 2129.0,1943.1 2133.0,1941.6 2137.0,1940.4 2141.0,1939.6 2145.0,1938.9 2149.0,1938.3 2153.0,1937.8 2157.0,1937.7 2161.0,1939.8 2165.0,1943.6 2169.0,1948.6 2173.0,1954.5 2177.0,1961.1 2181.0,1968.2 2185.0,1974.9 2189.0,1981.3 2193.0,1987.5 2197.0,1993.5 2201.0,1998.7 2205.0,2003.4 2209.0,2007.1 2213.0,2009.7 2217.0,2010.6 2221.0,2010.5 2225.0,2009.7 2229.0,2008.3 2233.0,2006.5 2237.0,2004.5 2241.0,2002.4 2245.0,2000.2 2249.0,1998.1 2253.0,1995.9 2257.0,1994.3 2261.0,1993.2 2265.0,1992.4 2269.0,1992.1 2273.0,1992.3 2277.0,1992.8 2281.0,1995.0 2285.0,1999.4 2289.0,2003.8 2293.0,2008.3 2297.0,2012.9 2301.0,2017.7 2305.0,2022.5 2309.0,2027.5 2313.0,2032.0 2317.0,2036.1 2321.0,2040.0 2325.0,2043.6 2329.0,2047.1 2333.0,2050.0 2337.0,2052.5 2341.0,2054.6 2345.0,2056.6 2349.0,2058.4 2353.0,2059.9 2357.0,2061.1 2361.0,2062.1 2365.0,2062.9 2369.0,2063.7 2373.0,2064.4 2377.0,2064.9 2381.0,2065.2 2385.0,2065.4 2389.0,2065.6 2393.0,2065.7 2397.0,2064.9 2401.0,2062.9 2405.0,2059.9 2409.0,2056.3 2413.0,2052.1 2417.0,2047.5 2421.0,2042.5 2425.0,2037.6 2429.0,2032.8 2433.0,2028.1 2437.0,2023.5 2441.0,2018.4 2445.0,2012.9 2449.0,2008.2 2453.0,2004.1 2457.0,2001.6 2461.0,2000.6 2465.0,2000.6 2469.0,2001.4 2473.0,2003.2 2477.0,2005.8 2481.0,2008.6 2485.0,2010.9 2489.0,2012.7 2493.0,2013.7 2497.0,2013.4 2501.0,2012.2 2505.0,2010.3 2509.0,2008.0 2513.0,2004.7 2517.0,2000.8 2521.0,1996.4 2525.0,1991.8 2529.0,1987.6 2533.0,1983.7 2537.0,1980.0 2541.0,1977.1 2545.0,1974.9 2549.0,1973.1 2553.0,1971.6 2557.0,1970.3 2561.0,1970.7 2565.0,1972.3 2569.0,1975.6 2573.0,1980.6 2577.0,1986.9 2581.0,1993.8 2585.0,2000.5 2589.0,2006.3 2593.0,2008.3 2597.0,2007.4 2601.0,2004.1 2605.0,1999.5 2609.0,1996.0 2613.0,1993.0 2617.0,1989.9 2621.0,1986.7 2625.0,1983.9 2629.0,1981.6 2633.0,1978.9 2637.0,1975.2 2641.0,1970.9 2645.0,1966.5 2649.0,1962.9 2653.0,1959.9 2657.0,1957.2 2661.0,1956.0 2665.0,1955.9 2669.0,1956.6 2673.0,1956.9 2677.0,1957.0 2681.0,1956.7 2685.0,1956.3 2689.0,1955.8 2693.0,1955.7 2697.0,1959.0 2701.0,1964.0 2705.0,1967.4 2709.0,1970.0 2713.0,1973.0 2717.0,1976.4 2721.0,1981.1 2725.0,1986.7 2729.0,1990.1 2733.0,1992.0 2737.0,1992.8 2741.0,1992.9 2745.0,1992.5 2749.0,1991.7 2753.0,1990.6 2757.0,1989.8 2761.0,1991.0 2765.0,1993.6 2769.0,1994.3 2773.0,1993.7 2777.0,1990.9 2781.0,1986.4 2785.0,1980.6 2789.0,1974.9 2793.0,1970.3 2797.0,1966.4 2801.0,1963.1 2805.0,1960.6 2809.0,1958.6 2813.0,1957.0 2817.0,1955.7 2821.0,1954.6 2825.0,1956.6 2829.0,1960.8 2833.0,1965.9 2837.0,1970.6 2841.0,1974.8 2845.0,1978.4 2849.0,1980.9 2853.0,1982.7 2857.0,1987.7 2861.0,1994.9 2865.0,2002.3 2869.0,2009.1 2873.0,2015.6 2877.0,2021.8 2881.0,2027.1 2885.0,2031.9 2889.0,2036.3 2893.0,2040.3 2897.0,2043.6 2901.0,2046.3 2905.0,2048.7 2909.0,2050.9 2913.0,2052.8 2917.0,2054.3 2921.0,2055.4 2925.0,2056.3 2929.0,2057.1 2933.0,2057.7 2937.0,2055.9 2941.0,2052.4 2945.0,2049.0 2949.0,2046.2 2953.0,2043.8 2957.0,2041.8 2961.0,2039.9 2965.0,2038.1 2969.0,2036.4 2973.0,2035.0 2977.0,2035.0 2981.0,2036.1 2985.0,2037.8 2989.0,2040.0 2993.0,2042.7 2997.0,2045.5 3001.0,2048.5 3005.0,2051.2 3009.0,2053.7 3013.0,2056.1 3017.0,2058.2 3021.0,2059.5 3025.0,2060.3 3029.0,2058.9 3033.0,2055.9 3037.0,2052.1 3041.0,2049.2 3045.0,2046.9 3049.0,2045.5 3053.0,2045.2 3057.0,2045.7 3061.0,2046.6 3065.0,2047.8 3069.0,2049.4 3073.0,2051.2 3077.0,2053.0 3081.0,2054.7 3085.0,2056.3 3089.0,2057.8 3093.0,2058.9 3097.0,2059.7 3101.0,2060.3 3105.0,2060.7 3109.0,2061.1 3113.0,2061.3 3117.0,2060.7 3121.0,2059.4 3125.0,2055.3 3129.0,2052.7 3133.0,2051.6 3137.0,2049.5 3141.0,2045.3 3145.0,2039.6 3149.0,2032.8 3153.0,2025.3 3157.0,2017.4 3161.0,2011.1 3165.0,2006.1 3169.0,2001.9 3173.0,1998.4 3177.0,1997.2 3181.0,1997.6 3185.0,1999.2 3189.0,2001.6 3193.0,2004.6 3197.0,2008.0 3201.0,2011.6 3205.0,2015.4 3209.0,2014.8 3213.0,2011.2 3217.0,2006.0 3221.0,1999.7 3225.0,1994.2 3229.0,1989.3 3233.0,1984.8 3237.0,1980.5 3241.0,1976.5 3245.0,1973.2 3249.0,1970.5 3253.0,1968.1 3257.0,1966.1 3261.0,1964.2 3265.0,1964.0 3269.0,1965.0 3273.0,1966.9 3277.0,1969.3 3281.0,1972.4 3285.0,1975.9 3289.0,1979.7 3293.0,1983.7 3297.0,1986.6 3301.0,1988.7 3305.0,1989.6 3309.0,1988.9 3313.0,1987.2 3317.0,1984.0" fill="none" stroke="#f0f0e0" stroke-width="1" stroke-dasharray="4 3"/>
<polyline points="4.6,2048.0 21.3,2055.0 29.0,2047.3 46.4,2049.3 69.6,2061.0 96.7,2066.7 123.8,2072.5 149.0,2073.6 162.5,2066.0 174.0,2059.0 189.5,2043.5 201.0,2051.0 214.7,2060.0 239.8,2066.7 255.3,2070.5 294.0,2071.3 301.7,2059.0 317.0,2044.3 326.8,2045.4 348.0,2021.4" fill="none" stroke="#ee82ee" stroke-width="2.6" stroke-linejoin="round" stroke-linecap="round"/>
<polyline points="365.5,2000.0 373.2,1993.0 386.8,1989.3 398.4,1985.5 405.4,1990.0" fill="none" stroke="#1e90ff" stroke-width="2.6" stroke-linejoin="round" stroke-linecap="round"/>
<polyline points="413.9,2010.6 421.6,2026.0 429.3,2039.6 444.8,2048.0 452.5,2039.6 462.2,2012.5" fill="none" stroke="#ee82ee" stroke-width="2.6" stroke-linejoin="round" stroke-linecap="round"/>
<polyline points="462.2,2012.5 470.0,1991.3 481.5,1975.8 493.0,1966.0 500.9,1966.0 508.6,1977.7 517.5,1987.4" fill="none" stroke="#1e90ff" stroke-width="2.6" stroke-linejoin="round" stroke-linecap="round"/>
<polyline points="524.9,1999.0 533.8,2016.4 549.2,2033.8 568.6,2039.6 582.0,2046.6 589.8,2039.6 603.4,2045.4 622.7,2054.3 634.3,2054.3 646.0,2059.0 653.7,2050.4 661.4,2051.2 676.9,2019.5 694.3,2029.2 707.8,2049.3 727.2,2060.9 754.2,2066.7 789.0,2071.3 812.2,2070.5 823.9,2043.5 837.4,2015.6" fill="none" stroke="#ee82ee" stroke-width="2.6" stroke-linejoin="round" stroke-linecap="round"/>
<polyline points="845.0,2004.8 860.6,1989.3 869.5,1987.4 876.0,1995.0" fill="none" stroke="#1e90ff" stroke-width="2.6" stroke-linejoin="round" stroke-linecap="round"/>
<polyline points="892.7,2009.4 901.2,2016.4 920.6,2021.0 932.2,2017.6 943.8,2029.2 951.5,2041.5 960.0,2049.3 971.0,2057.0 990.3,2062.8 1017.4,2064.8 1027.0,2051.2 1036.7,2026.0" fill="none" stroke="#ee82ee" stroke-width="2.6" stroke-linejoin="round" stroke-linecap="round"/>
<polyline points="1045.2,2009.4 1054.0,1993.0 1071.5,1973.9 1092.8,1957.0 1125.7,1948.0 1156.6,1945.6 1187.5,1944.0 1206.9,1944.0 1213.8,1946.8 1221.2,1993.0" fill="none" stroke="#1e90ff" stroke-width="2.6" stroke-linejoin="round" stroke-linecap="round"/>
<polyline points="1221.2,1993.0 1228.0,2008.7 1236.0,2020.3 1245.6,2021.0" fill="none" stroke="#ee82ee" stroke-width="2.6" stroke-linejoin="round" stroke-linecap="round"/>
<polyline points="1252.5,2001.0 1261.0,1985.5 1276.5,1973.0 1301.6,1965.4 1317.0,1973.9 1333.4,1991.3" fill="none" stroke="#1e90ff" stroke-width="2.6" stroke-linejoin="round" stroke-linecap="round"/>
<polyline points="1365.5,2006.7 1381.0,2031.9 1396.4,2036.5 1406.0,2035.7 1413.8,2028.0" fill="none" stroke="#ee82ee" stroke-width="2.6" stroke-linejoin="round" stroke-linecap="round"/>
<polyline points="1420.8,2006.7 1429.3,1996.3 1438.2,1995.0" fill="none" stroke="#1e90ff" stroke-width="2.6" stroke-linejoin="round" stroke-linecap="round"/>
<polyline points="1444.8,2006.7 1454.4,2018.4 1468.0,2022.2 1479.6,2041.5 1493.0,2053.0 1512.5,2062.8 1539.5,2068.6 1558.9,2068.6 1574.3,2037.7 1597.5,2014.5" fill="none" stroke="#ee82ee" stroke-width="2.6" stroke-linejoin="round" stroke-linecap="round"/>
<polyline points="1605.3,1998.2 1622.7,1987.4 1640.0,1970.0 1653.6,1965.4 1669.0,1967.3 1685.3,1989.3" fill="none" stroke="#1e90ff" stroke-width="2.6" stroke-linejoin="round" stroke-linecap="round"/>
<polyline points="1692.3,2006.7 1702.0,2015.6 1713.6,2016.4 1725.2,2021.0 1734.9,2012.5 1760.0,2020.3 1769.7,2039.6 1791.0,2051.2 1810.3,2059.0 1820.0,2053.0 1829.6,2033.8 1839.3,2026.0 1852.8,2030.0 1868.3,2041.5 1883.8,2055.0 1899.3,2061.0 1930.3,2066.0 1963.2,2070.0 1972.9,2064.9 1981.4,2064.9 1988.3,2028.0 1998.0,2016.5 2004.6,2029.0 2013.5,2029.3 2030.9,2032.8 2046.4,2018.5 2053.3,2026.2 2063.8,2016.5 2077.3,2018.5" fill="none" stroke="#ee82ee" stroke-width="2.6" stroke-linejoin="round" stroke-linecap="round"/>
<polyline points="2077.3,2018.5 2085.0,1977.8 2094.7,1956.6 2112.0,1943.0 2133.4,1938.0 2156.6,1936.5 2168.2,1958.5 2181.0,1984.8" fill="none" stroke="#1e90ff" stroke-width="2.6" stroke-linejoin="round" stroke-linecap="round"/>
<polyline points="2197.3,2008.0 2207.0,2015.8 2212.7,2015.8" fill="none" stroke="#ee82ee" stroke-width="2.6" stroke-linejoin="round" stroke-linecap="round"/>
<polyline points="2236.7,1999.9 2253.4,1990.6 2266.9,1990.6 2278.5,1994.5" fill="none" stroke="#1e90ff" stroke-width="2.6" stroke-linejoin="round" stroke-linecap="round"/>
<polyline points="2285.0,2009.6 2296.0,2022.3 2309.5,2039.7 2328.8,2055.2 2350.0,2063.0 2373.3,2066.0 2394.6,2066.0 2408.0,2049.4 2421.6,2030.0 2437.0,2012.7" fill="none" stroke="#ee82ee" stroke-width="2.6" stroke-linejoin="round" stroke-linecap="round"/>
<polyline points="2444.9,2000.3 2453.4,1994.0" fill="none" stroke="#1e90ff" stroke-width="2.6" stroke-linejoin="round" stroke-linecap="round"/>
<polyline points="2468.0,2002.2 2479.7,2014.6 2487.4,2017.3 2493.2,2015.8" fill="none" stroke="#ee82ee" stroke-width="2.6" stroke-linejoin="round" stroke-linecap="round"/>
<polyline points="2508.7,2003.0 2524.2,1981.7 2537.7,1970.9 2557.0,1967.4 2566.7,1977.8 2574.5,1996.0" fill="none" stroke="#1e90ff" stroke-width="2.6" stroke-linejoin="round" stroke-linecap="round"/>
<polyline points="2574.5,1996.0 2582.2,2012.7 2588.8,2020.4" fill="none" stroke="#ee82ee" stroke-width="2.6" stroke-linejoin="round" stroke-linecap="round"/>
<polyline points="2595.7,2008.0 2604.6,1988.7 2611.2,1987.5 2622.8,1977.8 2630.6,1975.9 2644.0,1956.6 2657.7,1950.8 2669.3,1958.5 2692.5,1953.9 2700.2,1975.9 2708.0,1975.0 2717.6,1984.8" fill="none" stroke="#1e90ff" stroke-width="2.6" stroke-linejoin="round" stroke-linecap="round"/>
<polyline points="2724.6,1999.9 2756.3,1986.8" fill="none" stroke="#1e90ff" stroke-width="2.6" stroke-linejoin="round" stroke-linecap="round"/>
<polyline points="2765.2,1999.9 2773.7,1991.4 2787.3,1962.4 2800.8,1955.4 2821.0,1952.0 2831.8,1977.0 2843.4,1986.8 2853.0,1986.8" fill="none" stroke="#1e90ff" stroke-width="2.6" stroke-linejoin="round" stroke-linecap="round"/>
<polyline points="2853.0,1986.8 2862.0,2015.0 2876.0,2035.2 2892.0,2049.2 2912.2,2057.2 2933.0,2059.2 2942.2,2042.0 2956.3,2037.2 2972.3,2031.2 2984.3,2041.2 3000.4,2055.2 3016.4,2063.3 3025.2,2062.0 3036.5,2043.2 3046.5,2041.2 3060.5,2048.4 3076.6,2057.2 3088.6,2061.3 3112.7,2062.0 3120.7,2057.2 3125.5,2044.4 3134.7,2050.0" fill="none" stroke="#ee82ee" stroke-width="2.6" stroke-linejoin="round" stroke-linecap="round"/>
<polyline points="3156.8,1999.0 3172.8,1989.9" fill="none" stroke="#1e90ff" stroke-width="2.6" stroke-linejoin="round" stroke-linecap="round"/>
<polyline points="3188.8,2007.0 3204.9,2024.4" fill="none" stroke="#ee82ee" stroke-width="2.6" stroke-linejoin="round" stroke-linecap="round"/>
<polyline points="3212.9,2003.0 3221.0,1985.0 3241.0,1967.0 3261.0,1959.8 3277.0,1975.0 3293.0,1993.0 3303.0,1993.9 3313.0,1983.0 3318.0,1975.0" fill="none" stroke="#1e90ff" stroke-width="2.6" stroke-linejoin="round" stroke-linecap="round"/>
<text x="2949.2" y="49.4" font-family="Liberation Mono, sans-serif" font-size="14.8" fill="#fff" font-weight="bold" font-style="normal" text-anchor="start" textLength="71.4" lengthAdjust="spacingAndGlyphs" >100% ADR</text>
<text x="2940.5" y="248.0" font-family="Liberation Mono, sans-serif" font-size="14.8" fill="#fff" font-weight="bold" font-style="normal" text-anchor="start" textLength="89.2" lengthAdjust="spacingAndGlyphs" >61.85% ADR</text>
<text x="2940.5" y="371.0" font-family="Liberation Mono, sans-serif" font-size="14.8" fill="#fff" font-weight="bold" font-style="normal" text-anchor="start" textLength="89.2" lengthAdjust="spacingAndGlyphs" >38.25% ADR</text>
<text x="2940.5" y="446.8" font-family="Liberation Mono, sans-serif" font-size="14.8" fill="#fff" font-weight="bold" font-style="normal" text-anchor="start" textLength="89.2" lengthAdjust="spacingAndGlyphs" >23.65% ADR</text>
<text x="2940.5" y="518.0" font-family="Liberation Mono, sans-serif" font-size="14.8" fill="#fff" font-weight="bold" font-style="normal" text-anchor="start" textLength="89.2" lengthAdjust="spacingAndGlyphs" >10.00% ADR</text>
<text x="2949.6" y="570.7" font-family="Liberation Mono, sans-serif" font-size="14.8" fill="#fff" font-weight="bold" font-style="normal" text-anchor="start" textLength="79.8" lengthAdjust="spacingAndGlyphs" >OpenToday</text>
<text x="2940.9" y="622.0" font-family="Liberation Mono, sans-serif" font-size="14.8" fill="#fff" font-weight="bold" font-style="normal" text-anchor="start" textLength="89.2" lengthAdjust="spacingAndGlyphs" >10.00% ADR</text>
<text x="2940.9" y="693.5" font-family="Liberation Mono, sans-serif" font-size="14.8" fill="#fff" font-weight="bold" font-style="normal" text-anchor="start" textLength="89.2" lengthAdjust="spacingAndGlyphs" >23.65% ADR</text>
<text x="2940.9" y="770.2" font-family="Liberation Mono, sans-serif" font-size="14.8" fill="#fff" font-weight="bold" font-style="normal" text-anchor="start" textLength="89.2" lengthAdjust="spacingAndGlyphs" >38.25% ADR</text>
<text x="3376.3" y="61.0" font-family="Liberation Sans, sans-serif" font-size="21" fill="#ffff00" font-weight="normal" font-style="italic" text-anchor="start" textLength="50.0" lengthAdjust="spacingAndGlyphs" >[7/8]</text>
<text x="3376.3" y="200.6" font-family="Liberation Sans, sans-serif" font-size="21" fill="#ff69b4" font-weight="normal" font-style="italic" text-anchor="start" textLength="50.0" lengthAdjust="spacingAndGlyphs" >[6/8]</text>
<text x="3376.3" y="341.0" font-family="Liberation Sans, sans-serif" font-size="21" fill="#00ff00" font-weight="normal" font-style="italic" text-anchor="start" textLength="50.0" lengthAdjust="spacingAndGlyphs" >[5/8]</text>
<text x="3376.3" y="481.6" font-family="Liberation Sans, sans-serif" font-size="21" fill="#fff" font-weight="normal" font-style="italic" text-anchor="start" textLength="50.0" lengthAdjust="spacingAndGlyphs" >[4/8]</text>
<text x="3376.3" y="621.5" font-family="Liberation Sans, sans-serif" font-size="21" fill="#00ff00" font-weight="normal" font-style="italic" text-anchor="start" textLength="50.0" lengthAdjust="spacingAndGlyphs" >[3/8]</text>
<text x="3376.3" y="762.0" font-family="Liberation Sans, sans-serif" font-size="21" fill="#ff69b4" font-weight="normal" font-style="italic" text-anchor="start" textLength="50.0" lengthAdjust="spacingAndGlyphs" >[2/8]</text>
<text x="3242.7" y="155.7" font-family="Liberation Sans, sans-serif" font-size="18.5" fill="#1088e0" font-weight="bold" font-style="normal" text-anchor="start" textLength="58.3" lengthAdjust="spacingAndGlyphs" >yHIGH</text>
<text x="3253.0" y="368.3" font-family="Liberation Sans, sans-serif" font-size="18.5" fill="#1088e0" font-weight="bold" font-style="normal" text-anchor="start" textLength="38.7" lengthAdjust="spacingAndGlyphs" >68%</text>
<text x="3253.0" y="608.0" font-family="Liberation Sans, sans-serif" font-size="18.5" fill="#e6a9b9" font-weight="bold" font-style="normal" text-anchor="start" textLength="38.7" lengthAdjust="spacingAndGlyphs" >32%</text>
<text x="3244.0" y="819.3" font-family="Liberation Sans, sans-serif" font-size="18.5" fill="#e6a9b9" font-weight="bold" font-style="normal" text-anchor="start" textLength="56.0" lengthAdjust="spacingAndGlyphs" >yLOW</text>
<text x="1907.5" y="17.6" font-family="Liberation Sans, sans-serif" font-size="19.5" fill="#fff" font-weight="normal" font-style="italic" text-anchor="start" textLength="70.0" lengthAdjust="spacingAndGlyphs" >Monday</text>
<text x="3778.0" y="848.3" font-family="Liberation Sans, sans-serif" font-size="17.5" fill="#a9a9a9" font-weight="bold" font-style="normal" text-anchor="end" textLength="56.0" lengthAdjust="spacingAndGlyphs" >XU-42</text>
<text x="3778.6" y="866.6" font-family="Liberation Sans, sans-serif" font-size="16" fill="#a9a9a9" font-weight="bold" font-style="normal" text-anchor="end" textLength="107.6" lengthAdjust="spacingAndGlyphs" >Xard Universe</text>
<text x="3148.8" y="1209.3" font-family="Liberation Mono, sans-serif" font-size="14.8" fill="#fff" font-weight="bold" font-style="normal" text-anchor="start" textLength="89.2" lengthAdjust="spacingAndGlyphs" >38.25% ADR</text>
<text x="3148.8" y="1318.2" font-family="Liberation Mono, sans-serif" font-size="14.8" fill="#fff" font-weight="bold" font-style="normal" text-anchor="start" textLength="89.2" lengthAdjust="spacingAndGlyphs" >23.65% ADR</text>
<text x="3148.8" y="1419.7" font-family="Liberation Mono, sans-serif" font-size="14.8" fill="#fff" font-weight="bold" font-style="normal" text-anchor="start" textLength="89.2" lengthAdjust="spacingAndGlyphs" >10.00% ADR</text>
<text x="3157.0" y="1494.0" font-family="Liberation Mono, sans-serif" font-size="14.8" fill="#fff" font-weight="bold" font-style="normal" text-anchor="start" textLength="80.9" lengthAdjust="spacingAndGlyphs" >OpenToday</text>
<text x="3148.7" y="1568.9" font-family="Liberation Mono, sans-serif" font-size="14.8" fill="#fff" font-weight="bold" font-style="normal" text-anchor="start" textLength="89.2" lengthAdjust="spacingAndGlyphs" >10.00% ADR</text>
<text x="3148.7" y="1671.0" font-family="Liberation Mono, sans-serif" font-size="14.8" fill="#fff" font-weight="bold" font-style="normal" text-anchor="start" textLength="89.2" lengthAdjust="spacingAndGlyphs" >23.65% ADR</text>
<text x="3148.7" y="1779.8" font-family="Liberation Mono, sans-serif" font-size="14.8" fill="#fff" font-weight="bold" font-style="normal" text-anchor="start" textLength="89.2" lengthAdjust="spacingAndGlyphs" >38.25% ADR</text>
<text x="3391.0" y="1164.4" font-family="Liberation Sans, sans-serif" font-size="21" fill="#00ff00" font-weight="normal" font-style="italic" text-anchor="start" textLength="50.0" lengthAdjust="spacingAndGlyphs" >[5/8]</text>
<text x="3391.0" y="1364.7" font-family="Liberation Sans, sans-serif" font-size="21" fill="#fff" font-weight="normal" font-style="italic" text-anchor="start" textLength="50.0" lengthAdjust="spacingAndGlyphs" >[4/8]</text>
<text x="3391.0" y="1564.0" font-family="Liberation Sans, sans-serif" font-size="21" fill="#00ff00" font-weight="normal" font-style="italic" text-anchor="start" textLength="50.0" lengthAdjust="spacingAndGlyphs" >[3/8]</text>
<text x="3341.0" y="1205.8" font-family="Liberation Sans, sans-serif" font-size="18.5" fill="#1088e0" font-weight="bold" font-style="normal" text-anchor="start" textLength="38.5" lengthAdjust="spacingAndGlyphs" >68%</text>
<text x="3341.0" y="1545.6" font-family="Liberation Sans, sans-serif" font-size="18.5" fill="#e6a9b9" font-weight="bold" font-style="normal" text-anchor="start" textLength="38.5" lengthAdjust="spacingAndGlyphs" >32%</text>
<text x="3332.4" y="1850.7" font-family="Liberation Sans, sans-serif" font-size="18.5" fill="#e6a9b9" font-weight="bold" font-style="normal" text-anchor="start" textLength="56.0" lengthAdjust="spacingAndGlyphs" >yLOW</text>
<text x="1220.6" y="1071.3" font-family="Liberation Sans, sans-serif" font-size="19.5" fill="#fff" font-weight="normal" font-style="italic" text-anchor="start" textLength="68.0" lengthAdjust="spacingAndGlyphs" >Monday</text>
<text x="105.0" y="1175.5" font-family="Liberation Sans, sans-serif" font-size="9.6" fill="#d0d0d0" font-weight="normal" font-style="normal" text-anchor="start" textLength="100.0" lengthAdjust="spacingAndGlyphs" >XARD BUY TRADE TAKEN</text>
<rect x="3361.8" y="1558.7" width="418.4" height="366.9" fill="#ffffff"/>
<polygon points="3448.9,1627.6 3508.8,1621.3 3508.8,1638.5 3453.0,1636.6" fill="#f3f3f3" />
<polygon points="3456.3,1627.0 3461.2,1626.5 3459.5,1637.1 3454.6,1637.1" fill="#d8262c" />
<polygon points="3467.2,1626.4 3472.1,1625.9 3470.4,1637.1 3465.5,1637.1" fill="#d8262c" />
<polygon points="3478.0,1625.8 3482.9,1625.3 3481.3,1637.1 3476.4,1637.1" fill="#d8262c" />
<polygon points="3488.9,1625.2 3493.8,1624.7 3492.2,1637.1 3487.3,1637.1" fill="#d8262c" />
<polygon points="3499.8,1624.6 3504.7,1624.1 3503.1,1637.1 3498.2,1637.1" fill="#d8262c" />
<polygon points="3453.0,1636.0 3508.8,1638.5 3503.4,1657.5 3472.1,1648.0" fill="#7b4fa0" />
<polygon points="3653.1,1646.6 3772.8,1693.7 3763.3,1703.8 3655.8,1682.0" fill="#f3f3f3" />
<polygon points="3655.8,1648.5 3662.9,1651.3 3660.7,1671.7 3653.6,1669.0" fill="#d8262c" />
<polygon points="3669.4,1654.0 3676.5,1656.7 3674.3,1675.8 3667.2,1673.0" fill="#d8262c" />
<polygon points="3683.0,1659.4 3690.1,1662.2 3687.9,1679.8 3680.8,1677.1" fill="#d8262c" />
<polygon points="3696.6,1664.9 3703.7,1667.6 3701.5,1683.9 3694.4,1681.2" fill="#d8262c" />
<polygon points="3710.2,1670.3 3717.3,1673.0 3715.1,1688.0 3708.1,1685.3" fill="#d8262c" />
<polygon points="3723.8,1675.8 3730.9,1678.5 3728.7,1692.1 3721.7,1689.4" fill="#d8262c" />
<polygon points="3737.5,1681.2 3744.5,1683.9 3742.4,1696.2 3735.3,1693.5" fill="#d8262c" />
<polygon points="3751.1,1686.7 3758.1,1689.4 3756.0,1700.3 3748.9,1697.5" fill="#d8262c" />
<polygon points="3655.8,1680.7 3763.3,1703.0 3753.8,1741.9 3708.9,1728.3 3657.2,1694.3" fill="#7b4fa0" />
<polygon points="3753.8,1698.4 3774.2,1693.7 3772.8,1720.1 3758.4,1752.8 3746.4,1740.5" fill="#8cc63f" />
<ellipse cx="3767.4" cy="1707.3" rx="5.4" ry="13.6" fill="#d8262c" transform="rotate(8 3767.4 1707.3)" />
<polygon points="3623.1,1598.5 3638.1,1594.9 3655.0,1615.3 3651.2,1641.2 3632.7,1642.6 3621.2,1618.1" fill="#8cc63f" />
<polygon points="3638.1,1615.3 3650.4,1614.0 3650.4,1639.8 3640.8,1639.8" fill="#b5dd7a" />
<polygon points="3416.2,1600.4 3429.9,1596.3 3444.8,1620.8 3482.9,1664.3 3472.1,1686.1 3444.8,1669.8 3423.1,1631.7" fill="#f1f1f3" />
<polygon points="3424.4,1658.9 3443.5,1620.2 3456.3,1628.9 3438.0,1671.1" fill="#8cc63f" />
<polygon points="3446.2,1643.9 3463.9,1639.8 3482.9,1664.3 3474.8,1684.7 3453.0,1672.5" fill="#d9dadf" />
<ellipse cx="3405.4" cy="1593.6" rx="19.1" ry="13.1" fill="#f1f1f3" transform="rotate(-30 3405.4 1593.6)" />
<polygon points="3374.1,1575.9 3382.2,1565.0 3398.6,1566.3 3413.5,1582.7 3417.6,1590.8 3387.7,1601.7 3382.2,1593.6" fill="#e9e4f2" />
<ellipse cx="3386.3" cy="1569.6" rx="12.2" ry="4.4" fill="#7b4fa0" transform="rotate(-10 3386.3 1569.6)" />
<ellipse cx="3398.6" cy="1597.6" rx="16.3" ry="3.3" fill="#7b4fa0" transform="rotate(-18 3398.6 1597.6)" />
<ellipse cx="3422.5" cy="1588.1" rx="3.8" ry="4.9" fill="#7b4fa0" transform="rotate(0 3422.5 1588.1)" />
<ellipse cx="3646.8" cy="1710.6" rx="12.2" ry="30.5" fill="#262626" transform="rotate(12 3646.8 1710.6)" />
<polygon points="3653.9,1702.4 3696.6,1707.9 3718.4,1740.5 3698.5,1758.2 3659.9,1741.9" fill="#f1f1f3" />
<polygon points="3668.0,1713.3 3683.0,1709.2 3692.5,1720.1 3681.7,1731.0 3670.8,1724.2" fill="#2aa6d8" />
<polygon points="3672.1,1758.2 3706.2,1748.2 3723.0,1767.8 3712.1,1790.9 3680.3,1784.6" fill="#8cc63f" />
<polygon points="3661.2,1790.9 3712.1,1786.3 3696.6,1811.9 3655.8,1823.6 3643.0,1807.2" fill="#f1f1f3" />
<ellipse cx="3654.4" cy="1824.9" rx="8.2" ry="10.9" fill="#8cc63f" transform="rotate(20 3654.4 1824.9)" />
<polygon points="3615.0,1815.4 3643.5,1804.5 3651.7,1824.9 3643.5,1842.6 3620.4,1838.5" fill="#f1f1f3" />
<ellipse cx="3631.3" cy="1831.7" rx="13.6" ry="3.8" fill="#7b4fa0" transform="rotate(55 3631.3 1831.7)" />
<ellipse cx="3614.1" cy="1818.9" rx="2.7" ry="3.8" fill="#7b4fa0" transform="rotate(0 3614.1 1818.9)" />
<polygon points="3564.6,1822.2 3589.1,1824.9 3586.4,1838.5 3567.3,1835.8" fill="#c9cace" />
<polygon points="3551.0,1789.5 3623.1,1790.9 3628.6,1812.7 3591.8,1823.6 3556.4,1812.7" fill="#f1f1f3" />
<polygon points="3587.7,1801.8 3623.1,1795.0 3632.7,1841.3 3608.2,1846.7" fill="#f1f1f3" />
<ellipse cx="3620.4" cy="1801.8" rx="8.2" ry="6.0" fill="#8cc63f" transform="rotate(-30 3620.4 1801.8)" />
<ellipse cx="3616.3" cy="1842.6" rx="16.3" ry="7.6" fill="#d0d0d6" transform="rotate(-20 3616.3 1842.6)" />
<polygon points="3598.6,1848.1 3650.4,1842.6 3664.0,1873.9 3624.5,1883.5" fill="#f1f1f3" />
<ellipse cx="3658.5" cy="1859.0" rx="6.0" ry="15.0" fill="#8cc63f" transform="rotate(-15 3658.5 1859.0)" />
<polygon points="3620.4,1883.5 3662.6,1871.2 3666.7,1894.3 3629.9,1914.8 3617.7,1903.9" fill="#f1f1f3" />
<ellipse cx="3643.5" cy="1880.7" rx="23.1" ry="4.9" fill="#8cc63f" transform="rotate(-15 3643.5 1880.7)" />
<ellipse cx="3647.6" cy="1903.9" rx="25.9" ry="3.8" fill="#7b4fa0" transform="rotate(-38 3647.6 1903.9)" />
<ellipse cx="3628.6" cy="1903.9" rx="12.2" ry="9.8" fill="#8cc63f" transform="rotate(-25 3628.6 1903.9)" />
<ellipse cx="3582.3" cy="1784.6" rx="36.7" ry="8.2" fill="#202020" transform="rotate(8 3582.3 1784.6)" />
<polygon points="3545.5,1767.8 3616.3,1770.5 3639.5,1746.0 3635.4,1756.9 3616.3,1778.7 3551.0,1781.4" fill="#f1f1f3" />
<polygon points="3580.9,1767.8 3627.2,1759.6 3640.8,1740.5 3638.1,1756.9 3616.3,1775.9 3589.1,1775.9" fill="#7b4fa0" />
<polygon points="3492.5,1665.7 3507.4,1724.2 3529.2,1759.6 3551.0,1770.5 3600.0,1769.1 3632.7,1751.4 3647.6,1718.8 3650.4,1680.7 3632.7,1686.1 3600.0,1713.3 3561.9,1724.2 3529.2,1710.6" fill="#8cc63f" />
<polygon points="3529.2,1720.1 3567.3,1726.9 3564.6,1756.9 3533.3,1750.1" fill="#f4f4f4" />
<polygon points="3531.9,1729.7 3564.1,1734.6 3561.9,1754.2 3534.7,1750.1" fill="#a9dcef" />
<polygon points="3570.0,1735.1 3602.7,1731.8 3603.3,1737.8 3570.6,1741.1" fill="#e8d84a" />
<ellipse cx="3582.3" cy="1757.4" rx="11.4" ry="8.7" fill="#d8262c" transform="rotate(0 3582.3 1757.4)" />
<ellipse cx="3506.6" cy="1728.3" rx="3.3" ry="7.6" fill="#2a8fd0" transform="rotate(-15 3506.6 1728.3)" />
<ellipse cx="3515.6" cy="1737.8" rx="3.3" ry="7.6" fill="#2a9a48" transform="rotate(-15 3515.6 1737.8)" />
<ellipse cx="3524.3" cy="1746.5" rx="3.3" ry="7.6" fill="#d8262c" transform="rotate(-15 3524.3 1746.5)" />
<ellipse cx="3570.0" cy="1654.0" rx="70.2" ry="72.4" fill="#dfe2e6" transform="rotate(0 3570.0 1654.0)" opacity="0.93"/>
<ellipse cx="3572.8" cy="1702.4" rx="51.7" ry="21.8" fill="#a9d46e" transform="rotate(5 3572.8 1702.4)" opacity="0.75"/>
<ellipse cx="3570.0" cy="1692.9" rx="34.0" ry="16.9" fill="#7b4fa0" transform="rotate(6 3570.0 1692.9)" />
<ellipse cx="3563.2" cy="1621.3" rx="25.9" ry="19.1" fill="#a88cc8" transform="rotate(-8 3563.2 1621.3)" />
<ellipse cx="3565.1" cy="1656.7" rx="26.7" ry="38.7" fill="#ecc9a3" transform="rotate(-6 3565.1 1656.7)" />
<ellipse cx="3556.4" cy="1627.6" rx="16.3" ry="4.9" fill="#5a3a2a" transform="rotate(-12 3556.4 1627.6)" />
<ellipse cx="3576.9" cy="1624.0" rx="10.9" ry="2.7" fill="#5a3a2a" transform="rotate(-18 3576.9 1624.0)" />
<ellipse cx="3553.2" cy="1641.2" rx="4.9" ry="3.8" fill="#fff" transform="rotate(0 3553.2 1641.2)" />
<ellipse cx="3572.2" cy="1637.7" rx="4.9" ry="3.8" fill="#fff" transform="rotate(0 3572.2 1637.7)" />
<ellipse cx="3553.7" cy="1641.7" rx="2.4" ry="2.4" fill="#3a4a8a" transform="rotate(0 3553.7 1641.7)" />
<ellipse cx="3572.8" cy="1638.2" rx="2.4" ry="2.4" fill="#3a4a8a" transform="rotate(0 3572.8 1638.2)" />
<ellipse cx="3566.0" cy="1663.8" rx="11.4" ry="4.4" fill="#fff" transform="rotate(-12 3566.0 1663.8)" />
<ellipse cx="3529.2" cy="1639.8" rx="10.9" ry="32.7" fill="#f4f6f8" transform="rotate(25 3529.2 1639.8)" opacity="0.55"/>
<text x="3380.5" y="1846.7" font-family="Liberation Sans, sans-serif" font-size="19" fill="#f5820a" font-weight="bold" font-style="italic" text-anchor="start" textLength="201.0" lengthAdjust="spacingAndGlyphs" >From the 2nd Dot...</text>
<text x="3378.0" y="1869.6" font-family="Liberation Sans, sans-serif" font-size="19" fill="#1f4e8c" font-weight="bold" font-style="italic" text-anchor="start" textLength="201.0" lengthAdjust="spacingAndGlyphs" >To the Channel line</text>
<text x="3378.0" y="1893.6" font-family="Liberation Sans, sans-serif" font-size="19" fill="#1f4e8c" font-weight="bold" font-style="italic" text-anchor="start" textLength="145.6" lengthAdjust="spacingAndGlyphs" >And Beyond...</text>
<rect x="83.0" y="5.0" width="155.0" height="16.0" fill="#962222"/>
<rect x="240.0" y="5.0" width="132.0" height="16.0" fill="#962222"/>
<rect x="374.0" y="5.0" width="149.0" height="16.0" fill="#0a6ad2"/>
<text x="91.8" y="18.3" font-family="Liberation Sans, sans-serif" font-size="14.3" fill="#fff" font-weight="bold" font-style="normal" text-anchor="start" textLength="89.4" lengthAdjust="spacingAndGlyphs" stroke="#fff" stroke-width="0.5">HONG KONG</text>
<text x="189.2" y="18.3" font-family="Liberation Sans, sans-serif" font-size="14.3" fill="#fff" font-weight="bold" font-style="normal" text-anchor="start" textLength="39.4" lengthAdjust="spacingAndGlyphs" stroke="#fff" stroke-width="0.5">03:53</text>
<text x="250.0" y="18.3" font-family="Liberation Sans, sans-serif" font-size="14.3" fill="#fff" font-weight="bold" font-style="normal" text-anchor="start" textLength="62.0" lengthAdjust="spacingAndGlyphs" stroke="#fff" stroke-width="0.5">LONDON</text>
<text x="323.0" y="18.3" font-family="Liberation Sans, sans-serif" font-size="14.3" fill="#fff" font-weight="bold" font-style="normal" text-anchor="start" textLength="39.4" lengthAdjust="spacingAndGlyphs" stroke="#fff" stroke-width="0.5">20:53</text>
<text x="385.5" y="18.3" font-family="Liberation Sans, sans-serif" font-size="14.3" fill="#fff" font-weight="bold" font-style="normal" text-anchor="start" textLength="77.7" lengthAdjust="spacingAndGlyphs" stroke="#fff" stroke-width="0.5">NEW YORK</text>
<text x="472.5" y="18.3" font-family="Liberation Sans, sans-serif" font-size="14.3" fill="#fff" font-weight="bold" font-style="normal" text-anchor="start" textLength="39.0" lengthAdjust="spacingAndGlyphs" stroke="#fff" stroke-width="0.5">15:53</text>
<path d="M9,9 l8,0 l-4,4.5 z" fill="#fff"/>
<text x="20.0" y="14.0" font-family="Liberation Sans, sans-serif" font-size="10.5" fill="#e0e0e0" font-weight="normal" font-style="normal" text-anchor="start" textLength="43.0" lengthAdjust="spacingAndGlyphs" >WS30,M15</text>
<text x="280.5" y="78.6" font-family="Liberation Sans, sans-serif" font-size="66.5" fill="#0a0f15" font-weight="bold" font-style="normal" text-anchor="start" textLength="377.0" lengthAdjust="spacingAndGlyphs" stroke="#0a0f15" stroke-width="3">WS30 M15</text>
<text x="278.5" y="76.9" font-family="Liberation Sans, sans-serif" font-size="66.5" fill="#00bfff" font-weight="bold" font-style="normal" text-anchor="start" textLength="377.0" lengthAdjust="spacingAndGlyphs" stroke="#00bfff" stroke-width="3">WS30 M15</text>
<text x="352.0" y="95.6" font-family="Liberation Sans, sans-serif" font-size="19.6" fill="#1d9a1d" font-weight="bold" font-style="normal" text-anchor="start" textLength="294.5" lengthAdjust="spacingAndGlyphs" stroke="#1d9a1d" stroke-width="0.9">Carlsberg Don't Do Charts</text>
<rect x="26.5" y="134.5" width="284.0" height="253.0" fill="#1e2630" stroke="#fff" stroke-width="3"/>
<text x="35.5" y="154.0" font-family="Liberation Sans, sans-serif" font-size="16.3" fill="#bdbdbd" font-weight="bold" font-style="normal" text-anchor="start" textLength="15.8" lengthAdjust="spacingAndGlyphs" stroke="#bdbdbd" stroke-width="0.5">M1</text>
<text x="66.6" y="154.0" font-family="Liberation Sans, sans-serif" font-size="16.3" fill="#bdbdbd" font-weight="bold" font-style="normal" text-anchor="start" textLength="18.2" lengthAdjust="spacingAndGlyphs" stroke="#bdbdbd" stroke-width="0.5">M5</text>
<text x="92.9" y="154.0" font-family="Liberation Sans, sans-serif" font-size="16.3" fill="#1e90ff" font-weight="bold" font-style="normal" text-anchor="start" textLength="24.5" lengthAdjust="spacingAndGlyphs" stroke="#1e90ff" stroke-width="0.5">M15</text>
<text x="124.4" y="154.0" font-family="Liberation Sans, sans-serif" font-size="16.3" fill="#bdbdbd" font-weight="bold" font-style="normal" text-anchor="start" textLength="26.1" lengthAdjust="spacingAndGlyphs" stroke="#bdbdbd" stroke-width="0.5">M30</text>
<text x="159.4" y="154.0" font-family="Liberation Sans, sans-serif" font-size="16.3" fill="#bdbdbd" font-weight="bold" font-style="normal" text-anchor="start" textLength="13.2" lengthAdjust="spacingAndGlyphs" stroke="#bdbdbd" stroke-width="0.5">H1</text>
<text x="190.5" y="154.0" font-family="Liberation Sans, sans-serif" font-size="16.3" fill="#bdbdbd" font-weight="bold" font-style="normal" text-anchor="start" textLength="14.8" lengthAdjust="spacingAndGlyphs" stroke="#bdbdbd" stroke-width="0.5">H4</text>
<text x="221.6" y="154.0" font-family="Liberation Sans, sans-serif" font-size="16.3" fill="#bdbdbd" font-weight="bold" font-style="normal" text-anchor="start" textLength="12.4" lengthAdjust="spacingAndGlyphs" stroke="#bdbdbd" stroke-width="0.5">D1</text>
<text x="252.3" y="154.0" font-family="Liberation Sans, sans-serif" font-size="16.3" fill="#bdbdbd" font-weight="bold" font-style="normal" text-anchor="start" textLength="16.7" lengthAdjust="spacingAndGlyphs" stroke="#bdbdbd" stroke-width="0.5">W1</text>
<text x="279.5" y="154.0" font-family="Liberation Sans, sans-serif" font-size="16.3" fill="#bdbdbd" font-weight="bold" font-style="normal" text-anchor="start" textLength="23.8" lengthAdjust="spacingAndGlyphs" stroke="#bdbdbd" stroke-width="0.5">MN1</text>
<text x="35.5" y="174.2" font-family="Liberation Sans, sans-serif" font-size="16.3" fill="#b0b0b0" font-weight="bold" font-style="normal" text-anchor="start" textLength="37.3" lengthAdjust="spacingAndGlyphs" stroke="#b0b0b0" stroke-width="0.5">PAIRS</text>
<text x="127.5" y="174.2" font-family="Liberation Sans, sans-serif" font-size="16.3" fill="#b0b0b0" font-weight="bold" font-style="normal" text-anchor="start" textLength="20.2" lengthAdjust="spacingAndGlyphs" stroke="#b0b0b0" stroke-width="0.5">Bid</text>
<text x="187.4" y="174.2" font-family="Liberation Sans, sans-serif" font-size="16.3" fill="#b0b0b0" font-weight="bold" font-style="normal" text-anchor="start" textLength="21.8" lengthAdjust="spacingAndGlyphs" stroke="#b0b0b0" stroke-width="0.5">PFO</text>
<text x="231.3" y="174.2" font-family="Liberation Sans, sans-serif" font-size="16.3" fill="#b0b0b0" font-weight="bold" font-style="normal" text-anchor="start" textLength="26.1" lengthAdjust="spacingAndGlyphs" stroke="#b0b0b0" stroke-width="0.5">HiLo</text>
<text x="281.8" y="174.2" font-family="Liberation Sans, sans-serif" font-size="16.3" fill="#b0b0b0" font-weight="bold" font-style="normal" text-anchor="start" textLength="7.8" lengthAdjust="spacingAndGlyphs" stroke="#b0b0b0" stroke-width="0.5">X</text>
<text x="34.9" y="200.5" font-family="Liberation Sans, sans-serif" font-size="23.6" fill="#1e90ff" font-weight="bold" font-style="normal" text-anchor="start" textLength="49.4" lengthAdjust="spacingAndGlyphs" stroke="#1e90ff" stroke-width="0.95">WS30</text>
<text x="112.4" y="200.5" font-family="Liberation Sans, sans-serif" font-size="23.6" fill="#ee82ee" font-weight="bold" font-style="normal" text-anchor="start" textLength="54.4" lengthAdjust="spacingAndGlyphs" stroke="#ee82ee" stroke-width="0.95">29399</text>
<text x="182.5" y="200.5" font-family="Liberation Sans, sans-serif" font-size="23.6" fill="#ee82ee" font-weight="bold" font-style="normal" text-anchor="start" textLength="26.3" lengthAdjust="spacingAndGlyphs" stroke="#ee82ee" stroke-width="0.95">157</text>
<text x="227.9" y="200.5" font-family="Liberation Sans, sans-serif" font-size="23.6" fill="#c8c8c8" font-weight="bold" font-style="normal" text-anchor="start" textLength="30.7" lengthAdjust="spacingAndGlyphs" stroke="#c8c8c8" stroke-width="0.95">507</text>
<rect x="275.5" y="185.9" width="23.5" height="11.0" fill="#1e90ff"/>
<text x="34.9" y="222.2" font-family="Liberation Sans, sans-serif" font-size="23.6" fill="#fff" font-weight="bold" font-style="normal" text-anchor="start" textLength="55.1" lengthAdjust="spacingAndGlyphs" stroke="#fff" stroke-width="0.95">US500</text>
<text x="112.4" y="222.2" font-family="Liberation Sans, sans-serif" font-size="23.6" fill="#ee82ee" font-weight="bold" font-style="normal" text-anchor="start" textLength="52.6" lengthAdjust="spacingAndGlyphs" stroke="#ee82ee" stroke-width="0.95">3672.7</text>
<text x="182.5" y="222.2" font-family="Liberation Sans, sans-serif" font-size="23.6" fill="#ee82ee" font-weight="bold" font-style="normal" text-anchor="start" textLength="25.5" lengthAdjust="spacingAndGlyphs" stroke="#ee82ee" stroke-width="0.95">172</text>
<text x="227.9" y="222.2" font-family="Liberation Sans, sans-serif" font-size="23.6" fill="#c8c8c8" font-weight="bold" font-style="normal" text-anchor="start" textLength="29.6" lengthAdjust="spacingAndGlyphs" stroke="#c8c8c8" stroke-width="0.95">718</text>
<rect x="275.5" y="207.6" width="23.5" height="11.0" fill="#1e90ff"/>
<text x="34.9" y="244.4" font-family="Liberation Sans, sans-serif" font-size="23.6" fill="#fff" font-weight="bold" font-style="normal" text-anchor="start" textLength="65.5" lengthAdjust="spacingAndGlyphs" stroke="#fff" stroke-width="0.95">US2000</text>
<text x="112.4" y="244.4" font-family="Liberation Sans, sans-serif" font-size="23.6" fill="#ee82ee" font-weight="bold" font-style="normal" text-anchor="start" textLength="54.4" lengthAdjust="spacingAndGlyphs" stroke="#ee82ee" stroke-width="0.95">1665.3</text>
<text x="182.5" y="244.4" font-family="Liberation Sans, sans-serif" font-size="23.6" fill="#ee82ee" font-weight="bold" font-style="normal" text-anchor="start" textLength="24.8" lengthAdjust="spacingAndGlyphs" stroke="#ee82ee" stroke-width="0.95">132</text>
<text x="227.9" y="244.4" font-family="Liberation Sans, sans-serif" font-size="23.6" fill="#c8c8c8" font-weight="bold" font-style="normal" text-anchor="start" textLength="31.1" lengthAdjust="spacingAndGlyphs" stroke="#c8c8c8" stroke-width="0.95">532</text>
<rect x="275.5" y="229.8" width="23.5" height="11.0" fill="#1e90ff"/>
<text x="34.9" y="266.1" font-family="Liberation Sans, sans-serif" font-size="23.6" fill="#fff" font-weight="bold" font-style="normal" text-anchor="start" textLength="63.1" lengthAdjust="spacingAndGlyphs" stroke="#fff" stroke-width="0.95">NDX100</text>
<text x="112.4" y="266.1" font-family="Liberation Sans, sans-serif" font-size="23.6" fill="#00ff00" font-weight="bold" font-style="normal" text-anchor="start" textLength="48.6" lengthAdjust="spacingAndGlyphs" stroke="#00ff00" stroke-width="0.95">11309</text>
<text x="182.5" y="266.1" font-family="Liberation Sans, sans-serif" font-size="23.6" fill="#00ff00" font-weight="bold" font-style="normal" text-anchor="start" textLength="7.5" lengthAdjust="spacingAndGlyphs" stroke="#00ff00" stroke-width="0.95">7</text>
<text x="227.9" y="266.1" font-family="Liberation Sans, sans-serif" font-size="23.6" fill="#c8c8c8" font-weight="bold" font-style="normal" text-anchor="start" textLength="26.1" lengthAdjust="spacingAndGlyphs" stroke="#c8c8c8" stroke-width="0.95">277</text>
<rect x="275.5" y="251.5" width="23.5" height="11.0" fill="#1e90ff"/>
<text x="34.9" y="288.2" font-family="Liberation Sans, sans-serif" font-size="23.6" fill="#fff" font-weight="bold" font-style="normal" text-anchor="start" textLength="55.1" lengthAdjust="spacingAndGlyphs" stroke="#fff" stroke-width="0.95">DAX30</text>
<text x="112.4" y="288.2" font-family="Liberation Sans, sans-serif" font-size="23.6" fill="#ee82ee" font-weight="bold" font-style="normal" text-anchor="start" textLength="50.6" lengthAdjust="spacingAndGlyphs" stroke="#ee82ee" stroke-width="0.95">12246</text>
<text x="182.5" y="288.2" font-family="Liberation Sans, sans-serif" font-size="23.6" fill="#ee82ee" font-weight="bold" font-style="normal" text-anchor="start" textLength="20.3" lengthAdjust="spacingAndGlyphs" stroke="#ee82ee" stroke-width="0.95">45</text>
<text x="227.9" y="288.2" font-family="Liberation Sans, sans-serif" font-size="23.6" fill="#c8c8c8" font-weight="bold" font-style="normal" text-anchor="start" textLength="31.1" lengthAdjust="spacingAndGlyphs" stroke="#c8c8c8" stroke-width="0.95">205</text>
<rect x="275.5" y="273.6" width="23.5" height="11.0" fill="#1e90ff"/>
<text x="34.9" y="309.9" font-family="Liberation Sans, sans-serif" font-size="23.6" fill="#fff" font-weight="bold" font-style="normal" text-anchor="start" textLength="44.9" lengthAdjust="spacingAndGlyphs" stroke="#fff" stroke-width="0.95">HK50</text>
<text x="112.4" y="309.9" font-family="Liberation Sans, sans-serif" font-size="23.6" fill="#00ff00" font-weight="bold" font-style="normal" text-anchor="start" textLength="48.6" lengthAdjust="spacingAndGlyphs" stroke="#00ff00" stroke-width="0.95">17839</text>
<text x="182.5" y="309.9" font-family="Liberation Sans, sans-serif" font-size="23.6" fill="#00ff00" font-weight="bold" font-style="normal" text-anchor="start" textLength="28.5" lengthAdjust="spacingAndGlyphs" stroke="#00ff00" stroke-width="0.95">123</text>
<text x="227.9" y="309.9" font-family="Liberation Sans, sans-serif" font-size="23.6" fill="#c8c8c8" font-weight="bold" font-style="normal" text-anchor="start" textLength="31.1" lengthAdjust="spacingAndGlyphs" stroke="#c8c8c8" stroke-width="0.95">362</text>
<rect x="275.5" y="295.3" width="23.5" height="11.0" fill="#1e90ff"/>
<text x="34.9" y="332.1" font-family="Liberation Sans, sans-serif" font-size="23.6" fill="#fff" font-weight="bold" font-style="normal" text-anchor="start" textLength="50.6" lengthAdjust="spacingAndGlyphs" stroke="#fff" stroke-width="0.95">JP225</text>
<text x="112.4" y="332.1" font-family="Liberation Sans, sans-serif" font-size="23.6" fill="#ee82ee" font-weight="bold" font-style="normal" text-anchor="start" textLength="54.4" lengthAdjust="spacingAndGlyphs" stroke="#ee82ee" stroke-width="0.95">26609</text>
<text x="182.5" y="332.1" font-family="Liberation Sans, sans-serif" font-size="23.6" fill="#ee82ee" font-weight="bold" font-style="normal" text-anchor="start" textLength="9.8" lengthAdjust="spacingAndGlyphs" stroke="#ee82ee" stroke-width="0.95">4</text>
<text x="227.9" y="332.1" font-family="Liberation Sans, sans-serif" font-size="23.6" fill="#c8c8c8" font-weight="bold" font-style="normal" text-anchor="start" textLength="31.1" lengthAdjust="spacingAndGlyphs" stroke="#c8c8c8" stroke-width="0.95">325</text>
<rect x="275.5" y="317.5" width="23.5" height="11.0" fill="#1e90ff"/>
<text x="34.9" y="353.8" font-family="Liberation Sans, sans-serif" font-size="23.6" fill="#fff" font-weight="bold" font-style="normal" text-anchor="start" textLength="65.5" lengthAdjust="spacingAndGlyphs" stroke="#fff" stroke-width="0.95">XAUUSD</text>
<text x="112.4" y="353.8" font-family="Liberation Sans, sans-serif" font-size="23.6" fill="#ee82ee" font-weight="bold" font-style="normal" text-anchor="start" textLength="54.4" lengthAdjust="spacingAndGlyphs" stroke="#ee82ee" stroke-width="0.95">1626.2</text>
<text x="182.5" y="353.8" font-family="Liberation Sans, sans-serif" font-size="23.6" fill="#ee82ee" font-weight="bold" font-style="normal" text-anchor="start" textLength="26.3" lengthAdjust="spacingAndGlyphs" stroke="#ee82ee" stroke-width="0.95">179</text>
<text x="227.9" y="353.8" font-family="Liberation Sans, sans-serif" font-size="23.6" fill="#c8c8c8" font-weight="bold" font-style="normal" text-anchor="start" textLength="30.1" lengthAdjust="spacingAndGlyphs" stroke="#c8c8c8" stroke-width="0.95">279</text>
<rect x="275.5" y="339.2" width="23.5" height="11.0" fill="#ff69b4"/>
<text x="34.9" y="375.9" font-family="Liberation Sans, sans-serif" font-size="23.6" fill="#fff" font-weight="bold" font-style="normal" text-anchor="start" textLength="66.3" lengthAdjust="spacingAndGlyphs" stroke="#fff" stroke-width="0.95">USOUSD</text>
<text x="112.4" y="375.9" font-family="Liberation Sans, sans-serif" font-size="23.6" fill="#ee82ee" font-weight="bold" font-style="normal" text-anchor="start" textLength="51.6" lengthAdjust="spacingAndGlyphs" stroke="#ee82ee" stroke-width="0.95">77.294</text>
<text x="182.5" y="375.9" font-family="Liberation Sans, sans-serif" font-size="23.6" fill="#ee82ee" font-weight="bold" font-style="normal" text-anchor="start" textLength="32.3" lengthAdjust="spacingAndGlyphs" stroke="#ee82ee" stroke-width="0.95">233</text>
<text x="227.9" y="375.9" font-family="Liberation Sans, sans-serif" font-size="23.6" fill="#c8c8c8" font-weight="bold" font-style="normal" text-anchor="start" textLength="30.1" lengthAdjust="spacingAndGlyphs" stroke="#c8c8c8" stroke-width="0.95">381</text>
<rect x="275.5" y="361.3" width="23.5" height="11.0" fill="#1e90ff"/>
<line x1="53.5" y1="136.0" x2="53.5" y2="257.5" stroke="#1e90ff" stroke-width="1.2" stroke-dasharray="17 7" opacity="0.9"/>
<line x1="5.0" y1="257.5" x2="421.7" y2="257.5" stroke="#32cd32" stroke-width="1.2" stroke-dasharray="17 7"/>
<rect x="3679.6" y="21.8" width="93.7" height="354.8" fill="#fffafa"/>
<rect x="3685.0" y="27.0" width="83.0" height="164.8" fill="#1e2630"/>
<rect x="3685.0" y="225.0" width="83.0" height="146.3" fill="#1e2630"/>
<text x="3764.0" y="50.6" font-family="Liberation Sans, sans-serif" font-size="25.2" fill="#fff" font-weight="bold" font-style="normal" text-anchor="end" textLength="57.5" lengthAdjust="spacingAndGlyphs" stroke="#fff" stroke-width="0.6">WS30</text>
<text x="3762.6" y="70.8" font-family="Liberation Sans, sans-serif" font-size="19.6" fill="#00ffff" font-weight="bold" font-style="normal" text-anchor="end" textLength="68.5" lengthAdjust="spacingAndGlyphs" stroke="#00ffff" stroke-width="0.9">29399</text>
<text x="3764.0" y="87.0" font-family="Liberation Mono, sans-serif" font-size="14.6" fill="#fff" font-weight="bold" font-style="normal" text-anchor="end" textLength="61.5" lengthAdjust="spacingAndGlyphs" >SPD:1.5</text>
<text x="3763.5" y="103.5" font-family="Liberation Sans, sans-serif" font-size="14" fill="#00ff00" font-weight="bold" font-style="normal" text-anchor="end" textLength="37.7" lengthAdjust="spacingAndGlyphs" stroke="#00ff00" stroke-width="0.8">6:58</text>
<text x="3764.0" y="118.0" font-family="Liberation Sans, sans-serif" font-size="13.2" fill="#ee82ee" font-weight="bold" font-style="normal" text-anchor="end" textLength="75.5" lengthAdjust="spacingAndGlyphs" stroke="#ee82ee" stroke-width="0.6">Daily Open</text>
<text x="3756.0" y="135.7" font-family="Liberation Sans, sans-serif" font-size="15.6" fill="#ee82ee" font-weight="bold" font-style="normal" text-anchor="end" textLength="54.3" lengthAdjust="spacingAndGlyphs" stroke="#ee82ee" stroke-width="0.8">29556</text>
<text x="3691.6" y="151.7" font-family="Liberation Sans, sans-serif" font-size="13.2" fill="#fff" font-weight="normal" font-style="normal" text-anchor="start" textLength="33.1" lengthAdjust="spacingAndGlyphs" >P2Op</text>
<text x="3763.0" y="151.7" font-family="Liberation Sans, sans-serif" font-size="13.2" fill="#ee82ee" font-weight="normal" font-style="normal" text-anchor="end" textLength="28.6" lengthAdjust="spacingAndGlyphs" >-157</text>
<text x="3696.0" y="168.8" font-family="Liberation Sans, sans-serif" font-size="13.2" fill="#c0c0c0" font-weight="normal" font-style="normal" text-anchor="start" textLength="28.7" lengthAdjust="spacingAndGlyphs" >HiLo</text>
<text x="3763.0" y="168.8" font-family="Liberation Sans, sans-serif" font-size="13.2" fill="#c0c0c0" font-weight="normal" font-style="normal" text-anchor="end" textLength="23.2" lengthAdjust="spacingAndGlyphs" >507</text>
<text x="3698.0" y="185.9" font-family="Liberation Sans, sans-serif" font-size="13.2" fill="#fff" font-weight="normal" font-style="normal" text-anchor="start" textLength="27.0" lengthAdjust="spacingAndGlyphs" >ADR</text>
<text x="3763.0" y="185.9" font-family="Liberation Sans, sans-serif" font-size="13.2" fill="#32cd32" font-weight="normal" font-style="normal" text-anchor="end" textLength="23.2" lengthAdjust="spacingAndGlyphs" >727</text>
<text x="3761.3" y="219.2" font-family="Liberation Sans, sans-serif" font-size="24.4" fill="#808080" font-weight="bold" font-style="normal" text-anchor="end" textLength="45.6" lengthAdjust="spacingAndGlyphs" >51%</text>
<text x="3687.6" y="244.9" font-family="Liberation Sans, sans-serif" font-size="15.6" fill="#808080" font-weight="bold" font-style="normal" text-anchor="start" textLength="76.0" lengthAdjust="spacingAndGlyphs" >OpenPips</text>
<text x="3690.0" y="296.0" font-family="Liberation Sans, sans-serif" font-size="15.6" fill="#808080" font-weight="bold" font-style="normal" text-anchor="start" textLength="72.0" lengthAdjust="spacingAndGlyphs" >OpenPos</text>
<text x="3690.6" y="341.0" font-family="Liberation Sans, sans-serif" font-size="15.6" fill="#808080" font-weight="bold" font-style="normal" text-anchor="start" textLength="70.4" lengthAdjust="spacingAndGlyphs" >Daily P/L</text>
<line x1="3710.5" y1="256.9" x2="3710.3" y2="263.8" stroke="#00ffff" stroke-width="2.0" stroke-linecap="round"/>
<line x1="3710.2" y1="265.2" x2="3709.9" y2="272.1" stroke="#00ffff" stroke-width="2.0" stroke-linecap="round"/>
<line x1="3714.7" y1="256.0" x2="3722.3" y2="256.0" stroke="#00ffff" stroke-width="2.0" stroke-linecap="round"/>
<line x1="3722.9" y1="256.9" x2="3722.7" y2="263.8" stroke="#00ffff" stroke-width="2.0" stroke-linecap="round"/>
<line x1="3722.6" y1="265.2" x2="3722.3" y2="272.1" stroke="#00ffff" stroke-width="2.0" stroke-linecap="round"/>
<line x1="3727.1" y1="256.0" x2="3734.7" y2="256.0" stroke="#00ffff" stroke-width="2.0" stroke-linecap="round"/>
<line x1="3735.3" y1="256.9" x2="3735.1" y2="263.8" stroke="#00ffff" stroke-width="2.0" stroke-linecap="round"/>
<line x1="3735.0" y1="265.2" x2="3734.7" y2="272.1" stroke="#00ffff" stroke-width="2.0" stroke-linecap="round"/>
<line x1="3726.4" y1="273.0" x2="3734.0" y2="273.0" stroke="#00ffff" stroke-width="2.0" stroke-linecap="round"/>
<line x1="3726.0" y1="265.2" x2="3725.7" y2="272.1" stroke="#00ffff" stroke-width="2.0" stroke-linecap="round"/>
<line x1="3726.3" y1="256.9" x2="3726.1" y2="263.8" stroke="#00ffff" stroke-width="2.0" stroke-linecap="round"/>
<line x1="3726.9" y1="264.5" x2="3734.1" y2="264.5" stroke="#00ffff" stroke-width="2.0" stroke-linecap="round"/>
<rect x="3736.1" y="270.8" width="2.2" height="2.2" fill="#00ffff"/>
<line x1="3742.2" y1="256.0" x2="3749.8" y2="256.0" stroke="#00ffff" stroke-width="2.0" stroke-linecap="round"/>
<line x1="3741.4" y1="256.9" x2="3741.2" y2="263.8" stroke="#00ffff" stroke-width="2.0" stroke-linecap="round"/>
<line x1="3742.0" y1="264.5" x2="3749.2" y2="264.5" stroke="#00ffff" stroke-width="2.0" stroke-linecap="round"/>
<line x1="3750.1" y1="265.2" x2="3749.8" y2="272.1" stroke="#00ffff" stroke-width="2.0" stroke-linecap="round"/>
<line x1="3741.5" y1="273.0" x2="3749.1" y2="273.0" stroke="#00ffff" stroke-width="2.0" stroke-linecap="round"/>
<line x1="3754.6" y1="256.0" x2="3762.2" y2="256.0" stroke="#00ffff" stroke-width="2.0" stroke-linecap="round"/>
<line x1="3753.8" y1="256.9" x2="3753.6" y2="263.8" stroke="#00ffff" stroke-width="2.0" stroke-linecap="round"/>
<line x1="3754.4" y1="264.5" x2="3761.6" y2="264.5" stroke="#00ffff" stroke-width="2.0" stroke-linecap="round"/>
<line x1="3762.5" y1="265.2" x2="3762.2" y2="272.1" stroke="#00ffff" stroke-width="2.0" stroke-linecap="round"/>
<line x1="3753.9" y1="273.0" x2="3761.5" y2="273.0" stroke="#00ffff" stroke-width="2.0" stroke-linecap="round"/>
<line x1="3711.3" y1="306.7" x2="3711.0" y2="312.1" stroke="#00ffff" stroke-width="2.0" stroke-linecap="round"/>
<line x1="3711.0" y1="313.1" x2="3710.8" y2="318.5" stroke="#00ffff" stroke-width="2.0" stroke-linecap="round"/>
<line x1="3715.4" y1="306.0" x2="3722.4" y2="306.0" stroke="#00ffff" stroke-width="2.0" stroke-linecap="round"/>
<line x1="3714.7" y1="306.7" x2="3714.4" y2="312.1" stroke="#00ffff" stroke-width="2.0" stroke-linecap="round"/>
<line x1="3715.3" y1="312.6" x2="3722.0" y2="312.6" stroke="#00ffff" stroke-width="2.0" stroke-linecap="round"/>
<line x1="3714.4" y1="313.1" x2="3714.2" y2="318.5" stroke="#00ffff" stroke-width="2.0" stroke-linecap="round"/>
<line x1="3714.8" y1="319.2" x2="3721.9" y2="319.2" stroke="#00ffff" stroke-width="2.0" stroke-linecap="round"/>
<line x1="3722.8" y1="313.1" x2="3722.6" y2="318.5" stroke="#00ffff" stroke-width="2.0" stroke-linecap="round"/>
<rect x="3724.0" y="317.0" width="2.2" height="2.2" fill="#00ffff"/>
<line x1="3733.4" y1="306.7" x2="3733.1" y2="312.1" stroke="#00ffff" stroke-width="2.0" stroke-linecap="round"/>
<line x1="3733.1" y1="313.1" x2="3732.9" y2="318.5" stroke="#00ffff" stroke-width="2.0" stroke-linecap="round"/>
<line x1="3737.5" y1="306.0" x2="3744.5" y2="306.0" stroke="#00ffff" stroke-width="2.0" stroke-linecap="round"/>
<line x1="3736.8" y1="306.7" x2="3736.5" y2="312.1" stroke="#00ffff" stroke-width="2.0" stroke-linecap="round"/>
<line x1="3737.4" y1="312.6" x2="3744.1" y2="312.6" stroke="#00ffff" stroke-width="2.0" stroke-linecap="round"/>
<line x1="3736.5" y1="313.1" x2="3736.3" y2="318.5" stroke="#00ffff" stroke-width="2.0" stroke-linecap="round"/>
<line x1="3736.9" y1="319.2" x2="3744.0" y2="319.2" stroke="#00ffff" stroke-width="2.0" stroke-linecap="round"/>
<line x1="3744.9" y1="313.1" x2="3744.7" y2="318.5" stroke="#00ffff" stroke-width="2.0" stroke-linecap="round"/>
<path d="M3750.1,319.2 L3760.6,306.0" stroke="#00ffff" stroke-width="2.0" fill="none"/>
<rect x="3748.9" y="306.8" width="5.2" height="4.8" rx="1.5" fill="none" stroke="#00ffff" stroke-width="1.7"/>
<rect x="3757.6" y="314.2" width="5.2" height="4.8" rx="1.5" fill="none" stroke="#00ffff" stroke-width="1.7"/>
<line x1="3703.6" y1="351.0" x2="3710.6" y2="351.0" stroke="#00ffff" stroke-width="2.0" stroke-linecap="round"/>
<line x1="3711.3" y1="351.7" x2="3711.0" y2="357.1" stroke="#00ffff" stroke-width="2.0" stroke-linecap="round"/>
<line x1="3711.0" y1="358.1" x2="3710.8" y2="363.5" stroke="#00ffff" stroke-width="2.0" stroke-linecap="round"/>
<line x1="3703.0" y1="364.2" x2="3710.1" y2="364.2" stroke="#00ffff" stroke-width="2.0" stroke-linecap="round"/>
<line x1="3702.6" y1="358.1" x2="3702.4" y2="363.5" stroke="#00ffff" stroke-width="2.0" stroke-linecap="round"/>
<line x1="3702.9" y1="351.7" x2="3702.6" y2="357.1" stroke="#00ffff" stroke-width="2.0" stroke-linecap="round"/>
<line x1="3703.5" y1="357.6" x2="3710.2" y2="357.6" stroke="#00ffff" stroke-width="2.0" stroke-linecap="round"/>
<line x1="3715.4" y1="351.0" x2="3722.4" y2="351.0" stroke="#00ffff" stroke-width="2.0" stroke-linecap="round"/>
<line x1="3714.7" y1="351.7" x2="3714.4" y2="357.1" stroke="#00ffff" stroke-width="2.0" stroke-linecap="round"/>
<line x1="3715.3" y1="357.6" x2="3722.0" y2="357.6" stroke="#00ffff" stroke-width="2.0" stroke-linecap="round"/>
<line x1="3714.4" y1="358.1" x2="3714.2" y2="363.5" stroke="#00ffff" stroke-width="2.0" stroke-linecap="round"/>
<line x1="3714.8" y1="364.2" x2="3721.9" y2="364.2" stroke="#00ffff" stroke-width="2.0" stroke-linecap="round"/>
<line x1="3722.8" y1="358.1" x2="3722.6" y2="363.5" stroke="#00ffff" stroke-width="2.0" stroke-linecap="round"/>
<rect x="3724.0" y="362.0" width="2.2" height="2.2" fill="#00ffff"/>
<line x1="3733.4" y1="351.7" x2="3733.1" y2="357.1" stroke="#00ffff" stroke-width="2.0" stroke-linecap="round"/>
<line x1="3733.1" y1="358.1" x2="3732.9" y2="363.5" stroke="#00ffff" stroke-width="2.0" stroke-linecap="round"/>
<line x1="3737.5" y1="351.0" x2="3744.5" y2="351.0" stroke="#00ffff" stroke-width="2.0" stroke-linecap="round"/>
<line x1="3745.2" y1="351.7" x2="3744.9" y2="357.1" stroke="#00ffff" stroke-width="2.0" stroke-linecap="round"/>
<line x1="3744.9" y1="358.1" x2="3744.7" y2="363.5" stroke="#00ffff" stroke-width="2.0" stroke-linecap="round"/>
<line x1="3736.9" y1="364.2" x2="3744.0" y2="364.2" stroke="#00ffff" stroke-width="2.0" stroke-linecap="round"/>
<line x1="3736.5" y1="358.1" x2="3736.3" y2="363.5" stroke="#00ffff" stroke-width="2.0" stroke-linecap="round"/>
<line x1="3736.8" y1="351.7" x2="3736.5" y2="357.1" stroke="#00ffff" stroke-width="2.0" stroke-linecap="round"/>
<line x1="3737.4" y1="357.6" x2="3744.1" y2="357.6" stroke="#00ffff" stroke-width="2.0" stroke-linecap="round"/>
<path d="M3750.1,364.2 L3760.6,351.0" stroke="#00ffff" stroke-width="2.0" fill="none"/>
<rect x="3748.9" y="351.8" width="5.2" height="4.8" rx="1.5" fill="none" stroke="#00ffff" stroke-width="1.7"/>
<rect x="3757.6" y="359.2" width="5.2" height="4.8" rx="1.5" fill="none" stroke="#00ffff" stroke-width="1.7"/>
<text x="3697.0" y="14.8" font-family="Liberation Sans, sans-serif" font-size="10.3" fill="#e8e8e8" font-weight="normal" font-style="normal" text-anchor="start" textLength="68.0" lengthAdjust="spacingAndGlyphs" >XU v42-TRADEFX</text>
<circle cx="3772.3" cy="11.3" r="5" fill="none" stroke="#e8e8e8" stroke-width="0.9"/>
<path d="M3769.6,12.6 q2.7,2.6 5.4,0" fill="none" stroke="#e8e8e8" stroke-width="0.8"/>
<rect x="3770.2" y="9.3" width="1.0" height="1.3" fill="#e8e8e8"/>
<rect x="3773.5" y="9.3" width="1.0" height="1.3" fill="#e8e8e8"/>
<rect x="3676.8" y="402.9" width="43.9" height="23.8" fill="#008000" stroke="#fff" stroke-width="1"/>
<rect x="3731.8" y="402.9" width="43.9" height="23.8" fill="#dc143c" stroke="#fff" stroke-width="1"/>
<rect x="3688.9" y="437.1" width="77.7" height="23.4" fill="#000" stroke="#fff" stroke-width="1"/>
<rect x="3676.8" y="471.3" width="98.9" height="23.4" fill="#dc143c" stroke="#fff" stroke-width="1"/>
<text x="3698.7" y="420.5" font-family="Liberation Sans, sans-serif" font-size="14.2" fill="#fff" font-weight="bold" font-style="normal" text-anchor="middle" textLength="31.0" lengthAdjust="spacingAndGlyphs" stroke="#fff" stroke-width="0.6">BUY</text>
<text x="3753.7" y="420.5" font-family="Liberation Sans, sans-serif" font-size="14.2" fill="#fff" font-weight="bold" font-style="normal" text-anchor="middle" textLength="35.0" lengthAdjust="spacingAndGlyphs" stroke="#fff" stroke-width="0.6">SELL</text>
<text x="3727.7" y="454.5" font-family="Liberation Sans, sans-serif" font-size="15.2" fill="#fff" font-weight="bold" font-style="normal" text-anchor="middle" textLength="58.5" lengthAdjust="spacingAndGlyphs" stroke="#fff" stroke-width="0.6">CLOSE</text>
<text x="3726.3" y="488.5" font-family="Liberation Sans, sans-serif" font-size="15.2" fill="#fff" font-weight="bold" font-style="normal" text-anchor="middle" textLength="93.0" lengthAdjust="spacingAndGlyphs" stroke="#fff" stroke-width="0.6">CLOSEALL</text>
<text x="3671.6" y="933.4" font-family="Liberation Sans, sans-serif" font-size="60.6" fill="#1e90ff" font-weight="bold" font-style="normal" text-anchor="start" textLength="104.8" lengthAdjust="spacingAndGlyphs" stroke="#1e90ff" stroke-width="1.5">RSI</text>
<text x="3790.0" y="887.3" font-family="Liberation Sans, sans-serif" font-size="9.6" fill="#f0f0f0" font-weight="normal" font-style="normal" text-anchor="start" >1.2</text>
<line x1="3783.0" y1="884.0" x2="3786.2" y2="884.0" stroke="#fff" stroke-width="1"/>
<text x="3790.0" y="955.9" font-family="Liberation Sans, sans-serif" font-size="9.6" fill="#f0f0f0" font-weight="normal" font-style="normal" text-anchor="start" >0.00</text>
<line x1="3783.0" y1="952.6" x2="3786.2" y2="952.6" stroke="#fff" stroke-width="1"/>
<text x="3790.0" y="1025.0" font-family="Liberation Sans, sans-serif" font-size="9.6" fill="#f0f0f0" font-weight="normal" font-style="normal" text-anchor="start" >-1.2</text>
<line x1="3783.0" y1="1021.7" x2="3786.2" y2="1021.7" stroke="#fff" stroke-width="1"/>
<text x="20.6" y="864.4" font-family="Liberation Sans, sans-serif" font-size="19.4" fill="#fff" font-weight="normal" font-style="italic" text-anchor="start" textLength="86.4" lengthAdjust="spacingAndGlyphs" >XARD777</text>
<rect x="112.9" y="847.3" width="259.8" height="19.7" fill="#1e90ff"/>
<text x="116.0" y="864.4" font-family="Liberation Sans, sans-serif" font-size="19.4" fill="#fff" font-weight="normal" font-style="italic" text-anchor="start" textLength="252.5" lengthAdjust="spacingAndGlyphs" >BLUEPRINT FOR SUCCESS</text>
<text x="382.0" y="864.4" font-family="Liberation Sans, sans-serif" font-size="19.4" fill="#fff" font-weight="normal" font-style="italic" text-anchor="start" textLength="214.8" lengthAdjust="spacingAndGlyphs" >COMPOUND INTEREST</text>
<text x="607.0" y="864.4" font-family="Liberation Sans, sans-serif" font-size="19.4" fill="#fff" font-weight="normal" font-style="italic" text-anchor="start" textLength="508.6" lengthAdjust="spacingAndGlyphs" >'He who understands it, earns it... He who does not, pays it'.</text>
<rect x="12.4" y="775.5" width="38.0" height="23.0" fill="#161616" stroke="#555" stroke-width="1"/>
<text x="31.5" y="793.0" font-family="Liberation Sans, sans-serif" font-size="12.5" fill="#8a8a8a" font-weight="normal" font-style="italic" text-anchor="middle" >ON</text>
<rect x="83.0" y="1058.0" width="155.0" height="16.0" fill="#962222"/>
<rect x="240.0" y="1058.0" width="132.0" height="16.0" fill="#962222"/>
<rect x="374.0" y="1058.0" width="149.0" height="16.0" fill="#0a6ad2"/>
<text x="91.8" y="1071.3" font-family="Liberation Sans, sans-serif" font-size="14.3" fill="#fff" font-weight="bold" font-style="normal" text-anchor="start" textLength="89.4" lengthAdjust="spacingAndGlyphs" stroke="#fff" stroke-width="0.5">HONG KONG</text>
<text x="189.2" y="1071.3" font-family="Liberation Sans, sans-serif" font-size="14.3" fill="#fff" font-weight="bold" font-style="normal" text-anchor="start" textLength="39.4" lengthAdjust="spacingAndGlyphs" stroke="#fff" stroke-width="0.5">03:53</text>
<text x="250.0" y="1071.3" font-family="Liberation Sans, sans-serif" font-size="14.3" fill="#fff" font-weight="bold" font-style="normal" text-anchor="start" textLength="62.0" lengthAdjust="spacingAndGlyphs" stroke="#fff" stroke-width="0.5">LONDON</text>
<text x="323.0" y="1071.3" font-family="Liberation Sans, sans-serif" font-size="14.3" fill="#fff" font-weight="bold" font-style="normal" text-anchor="start" textLength="39.4" lengthAdjust="spacingAndGlyphs" stroke="#fff" stroke-width="0.5">20:53</text>
<text x="385.5" y="1071.3" font-family="Liberation Sans, sans-serif" font-size="14.3" fill="#fff" font-weight="bold" font-style="normal" text-anchor="start" textLength="77.7" lengthAdjust="spacingAndGlyphs" stroke="#fff" stroke-width="0.5">NEW YORK</text>
<text x="472.5" y="1071.3" font-family="Liberation Sans, sans-serif" font-size="14.3" fill="#fff" font-weight="bold" font-style="normal" text-anchor="start" textLength="39.0" lengthAdjust="spacingAndGlyphs" stroke="#fff" stroke-width="0.5">15:53</text>
<path d="M9,1062 l8,0 l-4,4.5 z" fill="#fff"/>
<text x="280.5" y="1131.6" font-family="Liberation Sans, sans-serif" font-size="66.5" fill="#0a0f15" font-weight="bold" font-style="normal" text-anchor="start" textLength="377.0" lengthAdjust="spacingAndGlyphs" stroke="#0a0f15" stroke-width="3">WS30 M15</text>
<text x="278.5" y="1129.9" font-family="Liberation Sans, sans-serif" font-size="66.5" fill="#00bfff" font-weight="bold" font-style="normal" text-anchor="start" textLength="377.0" lengthAdjust="spacingAndGlyphs" stroke="#00bfff" stroke-width="3">WS30 M15</text>
<text x="352.0" y="1148.6" font-family="Liberation Sans, sans-serif" font-size="19.6" fill="#1d9a1d" font-weight="bold" font-style="normal" text-anchor="start" textLength="294.5" lengthAdjust="spacingAndGlyphs" stroke="#1d9a1d" stroke-width="0.9">Carlsberg Don't Do Charts</text>
<rect x="26.5" y="1187.5" width="284.0" height="253.0" fill="#1e2630" stroke="#fff" stroke-width="3"/>
<text x="35.5" y="1207.0" font-family="Liberation Sans, sans-serif" font-size="16.3" fill="#bdbdbd" font-weight="bold" font-style="normal" text-anchor="start" textLength="15.8" lengthAdjust="spacingAndGlyphs" stroke="#bdbdbd" stroke-width="0.5">M1</text>
<text x="66.6" y="1207.0" font-family="Liberation Sans, sans-serif" font-size="16.3" fill="#1e90ff" font-weight="bold" font-style="normal" text-anchor="start" textLength="18.2" lengthAdjust="spacingAndGlyphs" stroke="#1e90ff" stroke-width="0.5">M5</text>
<text x="92.9" y="1207.0" font-family="Liberation Sans, sans-serif" font-size="16.3" fill="#bdbdbd" font-weight="bold" font-style="normal" text-anchor="start" textLength="24.5" lengthAdjust="spacingAndGlyphs" stroke="#bdbdbd" stroke-width="0.5">M15</text>
<text x="124.4" y="1207.0" font-family="Liberation Sans, sans-serif" font-size="16.3" fill="#bdbdbd" font-weight="bold" font-style="normal" text-anchor="start" textLength="26.1" lengthAdjust="spacingAndGlyphs" stroke="#bdbdbd" stroke-width="0.5">M30</text>
<text x="159.4" y="1207.0" font-family="Liberation Sans, sans-serif" font-size="16.3" fill="#bdbdbd" font-weight="bold" font-style="normal" text-anchor="start" textLength="13.2" lengthAdjust="spacingAndGlyphs" stroke="#bdbdbd" stroke-width="0.5">H1</text>
<text x="190.5" y="1207.0" font-family="Liberation Sans, sans-serif" font-size="16.3" fill="#bdbdbd" font-weight="bold" font-style="normal" text-anchor="start" textLength="14.8" lengthAdjust="spacingAndGlyphs" stroke="#bdbdbd" stroke-width="0.5">H4</text>
<text x="221.6" y="1207.0" font-family="Liberation Sans, sans-serif" font-size="16.3" fill="#bdbdbd" font-weight="bold" font-style="normal" text-anchor="start" textLength="12.4" lengthAdjust="spacingAndGlyphs" stroke="#bdbdbd" stroke-width="0.5">D1</text>
<text x="252.3" y="1207.0" font-family="Liberation Sans, sans-serif" font-size="16.3" fill="#bdbdbd" font-weight="bold" font-style="normal" text-anchor="start" textLength="16.7" lengthAdjust="spacingAndGlyphs" stroke="#bdbdbd" stroke-width="0.5">W1</text>
<text x="279.5" y="1207.0" font-family="Liberation Sans, sans-serif" font-size="16.3" fill="#bdbdbd" font-weight="bold" font-style="normal" text-anchor="start" textLength="23.8" lengthAdjust="spacingAndGlyphs" stroke="#bdbdbd" stroke-width="0.5">MN1</text>
<text x="35.5" y="1227.2" font-family="Liberation Sans, sans-serif" font-size="16.3" fill="#b0b0b0" font-weight="bold" font-style="normal" text-anchor="start" textLength="37.3" lengthAdjust="spacingAndGlyphs" stroke="#b0b0b0" stroke-width="0.5">PAIRS</text>
<text x="127.5" y="1227.2" font-family="Liberation Sans, sans-serif" font-size="16.3" fill="#b0b0b0" font-weight="bold" font-style="normal" text-anchor="start" textLength="20.2" lengthAdjust="spacingAndGlyphs" stroke="#b0b0b0" stroke-width="0.5">Bid</text>
<text x="187.4" y="1227.2" font-family="Liberation Sans, sans-serif" font-size="16.3" fill="#b0b0b0" font-weight="bold" font-style="normal" text-anchor="start" textLength="21.8" lengthAdjust="spacingAndGlyphs" stroke="#b0b0b0" stroke-width="0.5">PFO</text>
<text x="231.3" y="1227.2" font-family="Liberation Sans, sans-serif" font-size="16.3" fill="#b0b0b0" font-weight="bold" font-style="normal" text-anchor="start" textLength="26.1" lengthAdjust="spacingAndGlyphs" stroke="#b0b0b0" stroke-width="0.5">HiLo</text>
<text x="281.8" y="1227.2" font-family="Liberation Sans, sans-serif" font-size="16.3" fill="#b0b0b0" font-weight="bold" font-style="normal" text-anchor="start" textLength="7.8" lengthAdjust="spacingAndGlyphs" stroke="#b0b0b0" stroke-width="0.5">X</text>
<text x="34.9" y="1253.5" font-family="Liberation Sans, sans-serif" font-size="23.6" fill="#1e90ff" font-weight="bold" font-style="normal" text-anchor="start" textLength="49.4" lengthAdjust="spacingAndGlyphs" stroke="#1e90ff" stroke-width="0.95">WS30</text>
<text x="112.4" y="1253.5" font-family="Liberation Sans, sans-serif" font-size="23.6" fill="#ee82ee" font-weight="bold" font-style="normal" text-anchor="start" textLength="54.4" lengthAdjust="spacingAndGlyphs" stroke="#ee82ee" stroke-width="0.95">29399</text>
<text x="182.5" y="1253.5" font-family="Liberation Sans, sans-serif" font-size="23.6" fill="#ee82ee" font-weight="bold" font-style="normal" text-anchor="start" textLength="26.3" lengthAdjust="spacingAndGlyphs" stroke="#ee82ee" stroke-width="0.95">157</text>
<text x="227.9" y="1253.5" font-family="Liberation Sans, sans-serif" font-size="23.6" fill="#c8c8c8" font-weight="bold" font-style="normal" text-anchor="start" textLength="30.7" lengthAdjust="spacingAndGlyphs" stroke="#c8c8c8" stroke-width="0.95">507</text>
<rect x="275.5" y="1238.9" width="23.5" height="11.0" fill="#1e90ff"/>
<text x="34.9" y="1275.2" font-family="Liberation Sans, sans-serif" font-size="23.6" fill="#fff" font-weight="bold" font-style="normal" text-anchor="start" textLength="55.1" lengthAdjust="spacingAndGlyphs" stroke="#fff" stroke-width="0.95">US500</text>
<text x="112.4" y="1275.2" font-family="Liberation Sans, sans-serif" font-size="23.6" fill="#ee82ee" font-weight="bold" font-style="normal" text-anchor="start" textLength="52.6" lengthAdjust="spacingAndGlyphs" stroke="#ee82ee" stroke-width="0.95">3672.7</text>
<text x="182.5" y="1275.2" font-family="Liberation Sans, sans-serif" font-size="23.6" fill="#ee82ee" font-weight="bold" font-style="normal" text-anchor="start" textLength="25.5" lengthAdjust="spacingAndGlyphs" stroke="#ee82ee" stroke-width="0.95">172</text>
<text x="227.9" y="1275.2" font-family="Liberation Sans, sans-serif" font-size="23.6" fill="#c8c8c8" font-weight="bold" font-style="normal" text-anchor="start" textLength="29.6" lengthAdjust="spacingAndGlyphs" stroke="#c8c8c8" stroke-width="0.95">718</text>
<rect x="275.5" y="1260.6" width="23.5" height="11.0" fill="#1e90ff"/>
<text x="34.9" y="1297.4" font-family="Liberation Sans, sans-serif" font-size="23.6" fill="#fff" font-weight="bold" font-style="normal" text-anchor="start" textLength="65.5" lengthAdjust="spacingAndGlyphs" stroke="#fff" stroke-width="0.95">US2000</text>
<text x="112.4" y="1297.4" font-family="Liberation Sans, sans-serif" font-size="23.6" fill="#ee82ee" font-weight="bold" font-style="normal" text-anchor="start" textLength="54.4" lengthAdjust="spacingAndGlyphs" stroke="#ee82ee" stroke-width="0.95">1665.3</text>
<text x="182.5" y="1297.4" font-family="Liberation Sans, sans-serif" font-size="23.6" fill="#ee82ee" font-weight="bold" font-style="normal" text-anchor="start" textLength="24.8" lengthAdjust="spacingAndGlyphs" stroke="#ee82ee" stroke-width="0.95">132</text>
<text x="227.9" y="1297.4" font-family="Liberation Sans, sans-serif" font-size="23.6" fill="#c8c8c8" font-weight="bold" font-style="normal" text-anchor="start" textLength="31.1" lengthAdjust="spacingAndGlyphs" stroke="#c8c8c8" stroke-width="0.95">532</text>
<rect x="275.5" y="1282.8" width="23.5" height="11.0" fill="#1e90ff"/>
<text x="34.9" y="1319.1" font-family="Liberation Sans, sans-serif" font-size="23.6" fill="#fff" font-weight="bold" font-style="normal" text-anchor="start" textLength="63.1" lengthAdjust="spacingAndGlyphs" stroke="#fff" stroke-width="0.95">NDX100</text>
<text x="112.4" y="1319.1" font-family="Liberation Sans, sans-serif" font-size="23.6" fill="#00ff00" font-weight="bold" font-style="normal" text-anchor="start" textLength="48.6" lengthAdjust="spacingAndGlyphs" stroke="#00ff00" stroke-width="0.95">11309</text>
<text x="182.5" y="1319.1" font-family="Liberation Sans, sans-serif" font-size="23.6" fill="#00ff00" font-weight="bold" font-style="normal" text-anchor="start" textLength="7.5" lengthAdjust="spacingAndGlyphs" stroke="#00ff00" stroke-width="0.95">7</text>
<text x="227.9" y="1319.1" font-family="Liberation Sans, sans-serif" font-size="23.6" fill="#c8c8c8" font-weight="bold" font-style="normal" text-anchor="start" textLength="26.1" lengthAdjust="spacingAndGlyphs" stroke="#c8c8c8" stroke-width="0.95">277</text>
<rect x="275.5" y="1304.5" width="23.5" height="11.0" fill="#1e90ff"/>
<text x="34.9" y="1341.2" font-family="Liberation Sans, sans-serif" font-size="23.6" fill="#fff" font-weight="bold" font-style="normal" text-anchor="start" textLength="55.1" lengthAdjust="spacingAndGlyphs" stroke="#fff" stroke-width="0.95">DAX30</text>
<text x="112.4" y="1341.2" font-family="Liberation Sans, sans-serif" font-size="23.6" fill="#ee82ee" font-weight="bold" font-style="normal" text-anchor="start" textLength="50.6" lengthAdjust="spacingAndGlyphs" stroke="#ee82ee" stroke-width="0.95">12246</text>
<text x="182.5" y="1341.2" font-family="Liberation Sans, sans-serif" font-size="23.6" fill="#ee82ee" font-weight="bold" font-style="normal" text-anchor="start" textLength="20.3" lengthAdjust="spacingAndGlyphs" stroke="#ee82ee" stroke-width="0.95">45</text>
<text x="227.9" y="1341.2" font-family="Liberation Sans, sans-serif" font-size="23.6" fill="#c8c8c8" font-weight="bold" font-style="normal" text-anchor="start" textLength="31.1" lengthAdjust="spacingAndGlyphs" stroke="#c8c8c8" stroke-width="0.95">205</text>
<rect x="275.5" y="1326.6" width="23.5" height="11.0" fill="#1e90ff"/>
<text x="34.9" y="1362.9" font-family="Liberation Sans, sans-serif" font-size="23.6" fill="#fff" font-weight="bold" font-style="normal" text-anchor="start" textLength="44.9" lengthAdjust="spacingAndGlyphs" stroke="#fff" stroke-width="0.95">HK50</text>
<text x="112.4" y="1362.9" font-family="Liberation Sans, sans-serif" font-size="23.6" fill="#00ff00" font-weight="bold" font-style="normal" text-anchor="start" textLength="48.6" lengthAdjust="spacingAndGlyphs" stroke="#00ff00" stroke-width="0.95">17839</text>
<text x="182.5" y="1362.9" font-family="Liberation Sans, sans-serif" font-size="23.6" fill="#00ff00" font-weight="bold" font-style="normal" text-anchor="start" textLength="28.5" lengthAdjust="spacingAndGlyphs" stroke="#00ff00" stroke-width="0.95">123</text>
<text x="227.9" y="1362.9" font-family="Liberation Sans, sans-serif" font-size="23.6" fill="#c8c8c8" font-weight="bold" font-style="normal" text-anchor="start" textLength="31.1" lengthAdjust="spacingAndGlyphs" stroke="#c8c8c8" stroke-width="0.95">362</text>
<rect x="275.5" y="1348.3" width="23.5" height="11.0" fill="#1e90ff"/>
<text x="34.9" y="1385.1" font-family="Liberation Sans, sans-serif" font-size="23.6" fill="#fff" font-weight="bold" font-style="normal" text-anchor="start" textLength="50.6" lengthAdjust="spacingAndGlyphs" stroke="#fff" stroke-width="0.95">JP225</text>
<text x="112.4" y="1385.1" font-family="Liberation Sans, sans-serif" font-size="23.6" fill="#ee82ee" font-weight="bold" font-style="normal" text-anchor="start" textLength="54.4" lengthAdjust="spacingAndGlyphs" stroke="#ee82ee" stroke-width="0.95">26609</text>
<text x="182.5" y="1385.1" font-family="Liberation Sans, sans-serif" font-size="23.6" fill="#ee82ee" font-weight="bold" font-style="normal" text-anchor="start" textLength="9.8" lengthAdjust="spacingAndGlyphs" stroke="#ee82ee" stroke-width="0.95">4</text>
<text x="227.9" y="1385.1" font-family="Liberation Sans, sans-serif" font-size="23.6" fill="#c8c8c8" font-weight="bold" font-style="normal" text-anchor="start" textLength="31.1" lengthAdjust="spacingAndGlyphs" stroke="#c8c8c8" stroke-width="0.95">325</text>
<rect x="275.5" y="1370.5" width="23.5" height="11.0" fill="#1e90ff"/>
<text x="34.9" y="1406.8" font-family="Liberation Sans, sans-serif" font-size="23.6" fill="#fff" font-weight="bold" font-style="normal" text-anchor="start" textLength="65.5" lengthAdjust="spacingAndGlyphs" stroke="#fff" stroke-width="0.95">XAUUSD</text>
<text x="112.4" y="1406.8" font-family="Liberation Sans, sans-serif" font-size="23.6" fill="#ee82ee" font-weight="bold" font-style="normal" text-anchor="start" textLength="54.4" lengthAdjust="spacingAndGlyphs" stroke="#ee82ee" stroke-width="0.95">1626.2</text>
<text x="182.5" y="1406.8" font-family="Liberation Sans, sans-serif" font-size="23.6" fill="#ee82ee" font-weight="bold" font-style="normal" text-anchor="start" textLength="26.3" lengthAdjust="spacingAndGlyphs" stroke="#ee82ee" stroke-width="0.95">179</text>
<text x="227.9" y="1406.8" font-family="Liberation Sans, sans-serif" font-size="23.6" fill="#c8c8c8" font-weight="bold" font-style="normal" text-anchor="start" textLength="30.1" lengthAdjust="spacingAndGlyphs" stroke="#c8c8c8" stroke-width="0.95">279</text>
<rect x="275.5" y="1392.2" width="23.5" height="11.0" fill="#ff69b4"/>
<text x="34.9" y="1428.9" font-family="Liberation Sans, sans-serif" font-size="23.6" fill="#fff" font-weight="bold" font-style="normal" text-anchor="start" textLength="66.3" lengthAdjust="spacingAndGlyphs" stroke="#fff" stroke-width="0.95">USOUSD</text>
<text x="112.4" y="1428.9" font-family="Liberation Sans, sans-serif" font-size="23.6" fill="#ee82ee" font-weight="bold" font-style="normal" text-anchor="start" textLength="51.6" lengthAdjust="spacingAndGlyphs" stroke="#ee82ee" stroke-width="0.95">77.294</text>
<text x="182.5" y="1428.9" font-family="Liberation Sans, sans-serif" font-size="23.6" fill="#ee82ee" font-weight="bold" font-style="normal" text-anchor="start" textLength="32.3" lengthAdjust="spacingAndGlyphs" stroke="#ee82ee" stroke-width="0.95">233</text>
<text x="227.9" y="1428.9" font-family="Liberation Sans, sans-serif" font-size="23.6" fill="#c8c8c8" font-weight="bold" font-style="normal" text-anchor="start" textLength="30.1" lengthAdjust="spacingAndGlyphs" stroke="#c8c8c8" stroke-width="0.95">381</text>
<rect x="275.5" y="1414.3" width="23.5" height="11.0" fill="#1e90ff"/>
<rect x="3679.6" y="1074.8" width="93.7" height="354.8" fill="#fffafa"/>
<rect x="3685.0" y="1080.0" width="83.0" height="164.8" fill="#1e2630"/>
<rect x="3685.0" y="1278.0" width="83.0" height="146.3" fill="#1e2630"/>
<text x="3764.0" y="1103.6" font-family="Liberation Sans, sans-serif" font-size="25.2" fill="#fff" font-weight="bold" font-style="normal" text-anchor="end" textLength="57.5" lengthAdjust="spacingAndGlyphs" stroke="#fff" stroke-width="0.6">WS30</text>
<text x="3762.6" y="1123.8" font-family="Liberation Sans, sans-serif" font-size="19.6" fill="#00ffff" font-weight="bold" font-style="normal" text-anchor="end" textLength="68.5" lengthAdjust="spacingAndGlyphs" stroke="#00ffff" stroke-width="0.9">29399</text>
<text x="3764.0" y="1140.0" font-family="Liberation Mono, sans-serif" font-size="14.6" fill="#fff" font-weight="bold" font-style="normal" text-anchor="end" textLength="61.5" lengthAdjust="spacingAndGlyphs" >SPD:1.5</text>
<text x="3763.5" y="1156.5" font-family="Liberation Sans, sans-serif" font-size="14" fill="#00ff00" font-weight="bold" font-style="normal" text-anchor="end" textLength="37.7" lengthAdjust="spacingAndGlyphs" stroke="#00ff00" stroke-width="0.8">1:58</text>
<text x="3764.0" y="1171.0" font-family="Liberation Sans, sans-serif" font-size="13.2" fill="#ee82ee" font-weight="bold" font-style="normal" text-anchor="end" textLength="75.5" lengthAdjust="spacingAndGlyphs" stroke="#ee82ee" stroke-width="0.6">Daily Open</text>
<text x="3756.0" y="1188.7" font-family="Liberation Sans, sans-serif" font-size="15.6" fill="#ee82ee" font-weight="bold" font-style="normal" text-anchor="end" textLength="54.3" lengthAdjust="spacingAndGlyphs" stroke="#ee82ee" stroke-width="0.8">29556</text>
<text x="3691.6" y="1204.7" font-family="Liberation Sans, sans-serif" font-size="13.2" fill="#fff" font-weight="normal" font-style="normal" text-anchor="start" textLength="33.1" lengthAdjust="spacingAndGlyphs" >P2Op</text>
<text x="3763.0" y="1204.7" font-family="Liberation Sans, sans-serif" font-size="13.2" fill="#ee82ee" font-weight="normal" font-style="normal" text-anchor="end" textLength="28.6" lengthAdjust="spacingAndGlyphs" >-157</text>
<text x="3696.0" y="1221.8" font-family="Liberation Sans, sans-serif" font-size="13.2" fill="#c0c0c0" font-weight="normal" font-style="normal" text-anchor="start" textLength="28.7" lengthAdjust="spacingAndGlyphs" >HiLo</text>
<text x="3763.0" y="1221.8" font-family="Liberation Sans, sans-serif" font-size="13.2" fill="#c0c0c0" font-weight="normal" font-style="normal" text-anchor="end" textLength="23.2" lengthAdjust="spacingAndGlyphs" >507</text>
<text x="3698.0" y="1238.9" font-family="Liberation Sans, sans-serif" font-size="13.2" fill="#fff" font-weight="normal" font-style="normal" text-anchor="start" textLength="27.0" lengthAdjust="spacingAndGlyphs" >ADR</text>
<text x="3763.0" y="1238.9" font-family="Liberation Sans, sans-serif" font-size="13.2" fill="#32cd32" font-weight="normal" font-style="normal" text-anchor="end" textLength="23.2" lengthAdjust="spacingAndGlyphs" >727</text>
<text x="3761.3" y="1272.2" font-family="Liberation Sans, sans-serif" font-size="24.4" fill="#808080" font-weight="bold" font-style="normal" text-anchor="end" textLength="45.6" lengthAdjust="spacingAndGlyphs" >51%</text>
<text x="3687.6" y="1297.9" font-family="Liberation Sans, sans-serif" font-size="15.6" fill="#808080" font-weight="bold" font-style="normal" text-anchor="start" textLength="76.0" lengthAdjust="spacingAndGlyphs" >OpenPips</text>
<text x="3690.0" y="1349.0" font-family="Liberation Sans, sans-serif" font-size="15.6" fill="#808080" font-weight="bold" font-style="normal" text-anchor="start" textLength="72.0" lengthAdjust="spacingAndGlyphs" >OpenPos</text>
<text x="3690.6" y="1394.0" font-family="Liberation Sans, sans-serif" font-size="15.6" fill="#808080" font-weight="bold" font-style="normal" text-anchor="start" textLength="70.4" lengthAdjust="spacingAndGlyphs" >Daily P/L</text>
<line x1="3710.5" y1="1309.8" x2="3710.3" y2="1316.8" stroke="#00ffff" stroke-width="2.0" stroke-linecap="round"/>
<line x1="3710.2" y1="1318.2" x2="3709.9" y2="1325.2" stroke="#00ffff" stroke-width="2.0" stroke-linecap="round"/>
<line x1="3714.7" y1="1309.0" x2="3722.3" y2="1309.0" stroke="#00ffff" stroke-width="2.0" stroke-linecap="round"/>
<line x1="3722.9" y1="1309.8" x2="3722.7" y2="1316.8" stroke="#00ffff" stroke-width="2.0" stroke-linecap="round"/>
<line x1="3722.6" y1="1318.2" x2="3722.3" y2="1325.2" stroke="#00ffff" stroke-width="2.0" stroke-linecap="round"/>
<line x1="3727.1" y1="1309.0" x2="3734.7" y2="1309.0" stroke="#00ffff" stroke-width="2.0" stroke-linecap="round"/>
<line x1="3735.3" y1="1309.8" x2="3735.1" y2="1316.8" stroke="#00ffff" stroke-width="2.0" stroke-linecap="round"/>
<line x1="3735.0" y1="1318.2" x2="3734.7" y2="1325.2" stroke="#00ffff" stroke-width="2.0" stroke-linecap="round"/>
<line x1="3726.4" y1="1326.0" x2="3734.0" y2="1326.0" stroke="#00ffff" stroke-width="2.0" stroke-linecap="round"/>
<line x1="3726.0" y1="1318.2" x2="3725.7" y2="1325.2" stroke="#00ffff" stroke-width="2.0" stroke-linecap="round"/>
<line x1="3726.3" y1="1309.8" x2="3726.1" y2="1316.8" stroke="#00ffff" stroke-width="2.0" stroke-linecap="round"/>
<line x1="3726.9" y1="1317.5" x2="3734.1" y2="1317.5" stroke="#00ffff" stroke-width="2.0" stroke-linecap="round"/>
<rect x="3736.1" y="1323.8" width="2.2" height="2.2" fill="#00ffff"/>
<line x1="3742.2" y1="1309.0" x2="3749.8" y2="1309.0" stroke="#00ffff" stroke-width="2.0" stroke-linecap="round"/>
<line x1="3741.4" y1="1309.8" x2="3741.2" y2="1316.8" stroke="#00ffff" stroke-width="2.0" stroke-linecap="round"/>
<line x1="3742.0" y1="1317.5" x2="3749.2" y2="1317.5" stroke="#00ffff" stroke-width="2.0" stroke-linecap="round"/>
<line x1="3750.1" y1="1318.2" x2="3749.8" y2="1325.2" stroke="#00ffff" stroke-width="2.0" stroke-linecap="round"/>
<line x1="3741.5" y1="1326.0" x2="3749.1" y2="1326.0" stroke="#00ffff" stroke-width="2.0" stroke-linecap="round"/>
<line x1="3754.6" y1="1309.0" x2="3762.2" y2="1309.0" stroke="#00ffff" stroke-width="2.0" stroke-linecap="round"/>
<line x1="3753.8" y1="1309.8" x2="3753.6" y2="1316.8" stroke="#00ffff" stroke-width="2.0" stroke-linecap="round"/>
<line x1="3754.4" y1="1317.5" x2="3761.6" y2="1317.5" stroke="#00ffff" stroke-width="2.0" stroke-linecap="round"/>
<line x1="3762.5" y1="1318.2" x2="3762.2" y2="1325.2" stroke="#00ffff" stroke-width="2.0" stroke-linecap="round"/>
<line x1="3753.9" y1="1326.0" x2="3761.5" y2="1326.0" stroke="#00ffff" stroke-width="2.0" stroke-linecap="round"/>
<line x1="3711.3" y1="1359.7" x2="3711.0" y2="1365.1" stroke="#00ffff" stroke-width="2.0" stroke-linecap="round"/>
<line x1="3711.0" y1="1366.1" x2="3710.8" y2="1371.5" stroke="#00ffff" stroke-width="2.0" stroke-linecap="round"/>
<line x1="3715.4" y1="1359.0" x2="3722.4" y2="1359.0" stroke="#00ffff" stroke-width="2.0" stroke-linecap="round"/>
<line x1="3714.7" y1="1359.7" x2="3714.4" y2="1365.1" stroke="#00ffff" stroke-width="2.0" stroke-linecap="round"/>
<line x1="3715.3" y1="1365.6" x2="3722.0" y2="1365.6" stroke="#00ffff" stroke-width="2.0" stroke-linecap="round"/>
<line x1="3714.4" y1="1366.1" x2="3714.2" y2="1371.5" stroke="#00ffff" stroke-width="2.0" stroke-linecap="round"/>
<line x1="3714.8" y1="1372.2" x2="3721.9" y2="1372.2" stroke="#00ffff" stroke-width="2.0" stroke-linecap="round"/>
<line x1="3722.8" y1="1366.1" x2="3722.6" y2="1371.5" stroke="#00ffff" stroke-width="2.0" stroke-linecap="round"/>
<rect x="3724.0" y="1370.0" width="2.2" height="2.2" fill="#00ffff"/>
<line x1="3733.4" y1="1359.7" x2="3733.1" y2="1365.1" stroke="#00ffff" stroke-width="2.0" stroke-linecap="round"/>
<line x1="3733.1" y1="1366.1" x2="3732.9" y2="1371.5" stroke="#00ffff" stroke-width="2.0" stroke-linecap="round"/>
<line x1="3737.5" y1="1359.0" x2="3744.5" y2="1359.0" stroke="#00ffff" stroke-width="2.0" stroke-linecap="round"/>
<line x1="3736.8" y1="1359.7" x2="3736.5" y2="1365.1" stroke="#00ffff" stroke-width="2.0" stroke-linecap="round"/>
<line x1="3737.4" y1="1365.6" x2="3744.1" y2="1365.6" stroke="#00ffff" stroke-width="2.0" stroke-linecap="round"/>
<line x1="3736.5" y1="1366.1" x2="3736.3" y2="1371.5" stroke="#00ffff" stroke-width="2.0" stroke-linecap="round"/>
<line x1="3736.9" y1="1372.2" x2="3744.0" y2="1372.2" stroke="#00ffff" stroke-width="2.0" stroke-linecap="round"/>
<line x1="3744.9" y1="1366.1" x2="3744.7" y2="1371.5" stroke="#00ffff" stroke-width="2.0" stroke-linecap="round"/>
<path d="M3750.1,1372.2 L3760.6,1359.0" stroke="#00ffff" stroke-width="2.0" fill="none"/>
<rect x="3748.9" y="1359.8" width="5.2" height="4.8" rx="1.5" fill="none" stroke="#00ffff" stroke-width="1.7"/>
<rect x="3757.6" y="1367.2" width="5.2" height="4.8" rx="1.5" fill="none" stroke="#00ffff" stroke-width="1.7"/>
<line x1="3703.6" y1="1404.0" x2="3710.6" y2="1404.0" stroke="#00ffff" stroke-width="2.0" stroke-linecap="round"/>
<line x1="3711.3" y1="1404.7" x2="3711.0" y2="1410.1" stroke="#00ffff" stroke-width="2.0" stroke-linecap="round"/>
<line x1="3711.0" y1="1411.1" x2="3710.8" y2="1416.5" stroke="#00ffff" stroke-width="2.0" stroke-linecap="round"/>
<line x1="3703.0" y1="1417.2" x2="3710.1" y2="1417.2" stroke="#00ffff" stroke-width="2.0" stroke-linecap="round"/>
<line x1="3702.6" y1="1411.1" x2="3702.4" y2="1416.5" stroke="#00ffff" stroke-width="2.0" stroke-linecap="round"/>
<line x1="3702.9" y1="1404.7" x2="3702.6" y2="1410.1" stroke="#00ffff" stroke-width="2.0" stroke-linecap="round"/>
<line x1="3703.5" y1="1410.6" x2="3710.2" y2="1410.6" stroke="#00ffff" stroke-width="2.0" stroke-linecap="round"/>
<line x1="3715.4" y1="1404.0" x2="3722.4" y2="1404.0" stroke="#00ffff" stroke-width="2.0" stroke-linecap="round"/>
<line x1="3714.7" y1="1404.7" x2="3714.4" y2="1410.1" stroke="#00ffff" stroke-width="2.0" stroke-linecap="round"/>
<line x1="3715.3" y1="1410.6" x2="3722.0" y2="1410.6" stroke="#00ffff" stroke-width="2.0" stroke-linecap="round"/>
<line x1="3714.4" y1="1411.1" x2="3714.2" y2="1416.5" stroke="#00ffff" stroke-width="2.0" stroke-linecap="round"/>
<line x1="3714.8" y1="1417.2" x2="3721.9" y2="1417.2" stroke="#00ffff" stroke-width="2.0" stroke-linecap="round"/>
<line x1="3722.8" y1="1411.1" x2="3722.6" y2="1416.5" stroke="#00ffff" stroke-width="2.0" stroke-linecap="round"/>
<rect x="3724.0" y="1415.0" width="2.2" height="2.2" fill="#00ffff"/>
<line x1="3733.4" y1="1404.7" x2="3733.1" y2="1410.1" stroke="#00ffff" stroke-width="2.0" stroke-linecap="round"/>
<line x1="3733.1" y1="1411.1" x2="3732.9" y2="1416.5" stroke="#00ffff" stroke-width="2.0" stroke-linecap="round"/>
<line x1="3737.5" y1="1404.0" x2="3744.5" y2="1404.0" stroke="#00ffff" stroke-width="2.0" stroke-linecap="round"/>
<line x1="3745.2" y1="1404.7" x2="3744.9" y2="1410.1" stroke="#00ffff" stroke-width="2.0" stroke-linecap="round"/>
<line x1="3744.9" y1="1411.1" x2="3744.7" y2="1416.5" stroke="#00ffff" stroke-width="2.0" stroke-linecap="round"/>
<line x1="3736.9" y1="1417.2" x2="3744.0" y2="1417.2" stroke="#00ffff" stroke-width="2.0" stroke-linecap="round"/>
<line x1="3736.5" y1="1411.1" x2="3736.3" y2="1416.5" stroke="#00ffff" stroke-width="2.0" stroke-linecap="round"/>
<line x1="3736.8" y1="1404.7" x2="3736.5" y2="1410.1" stroke="#00ffff" stroke-width="2.0" stroke-linecap="round"/>
<line x1="3737.4" y1="1410.6" x2="3744.1" y2="1410.6" stroke="#00ffff" stroke-width="2.0" stroke-linecap="round"/>
<path d="M3750.1,1417.2 L3760.6,1404.0" stroke="#00ffff" stroke-width="2.0" fill="none"/>
<rect x="3748.9" y="1404.8" width="5.2" height="4.8" rx="1.5" fill="none" stroke="#00ffff" stroke-width="1.7"/>
<rect x="3757.6" y="1412.2" width="5.2" height="4.8" rx="1.5" fill="none" stroke="#00ffff" stroke-width="1.7"/>
<text x="3697.0" y="1067.8" font-family="Liberation Sans, sans-serif" font-size="10.3" fill="#e8e8e8" font-weight="normal" font-style="normal" text-anchor="start" textLength="68.0" lengthAdjust="spacingAndGlyphs" >XU v42-TRADEFX</text>
<circle cx="3772.3" cy="1064.3" r="5" fill="none" stroke="#e8e8e8" stroke-width="0.9"/>
<path d="M3769.6,1065.6 q2.7,2.6 5.4,0" fill="none" stroke="#e8e8e8" stroke-width="0.8"/>
<rect x="3770.2" y="1062.3" width="1.0" height="1.3" fill="#e8e8e8"/>
<rect x="3773.5" y="1062.3" width="1.0" height="1.3" fill="#e8e8e8"/>
<rect x="3676.8" y="1455.9" width="43.9" height="23.8" fill="#008000" stroke="#fff" stroke-width="1"/>
<rect x="3731.8" y="1455.9" width="43.9" height="23.8" fill="#dc143c" stroke="#fff" stroke-width="1"/>
<rect x="3688.9" y="1490.1" width="77.7" height="23.4" fill="#000" stroke="#fff" stroke-width="1"/>
<rect x="3676.8" y="1524.3" width="98.9" height="23.4" fill="#dc143c" stroke="#fff" stroke-width="1"/>
<text x="3698.7" y="1473.5" font-family="Liberation Sans, sans-serif" font-size="14.2" fill="#fff" font-weight="bold" font-style="normal" text-anchor="middle" textLength="31.0" lengthAdjust="spacingAndGlyphs" stroke="#fff" stroke-width="0.6">BUY</text>
<text x="3753.7" y="1473.5" font-family="Liberation Sans, sans-serif" font-size="14.2" fill="#fff" font-weight="bold" font-style="normal" text-anchor="middle" textLength="35.0" lengthAdjust="spacingAndGlyphs" stroke="#fff" stroke-width="0.6">SELL</text>
<text x="3727.7" y="1507.5" font-family="Liberation Sans, sans-serif" font-size="15.2" fill="#fff" font-weight="bold" font-style="normal" text-anchor="middle" textLength="58.5" lengthAdjust="spacingAndGlyphs" stroke="#fff" stroke-width="0.6">CLOSE</text>
<text x="3726.3" y="1541.5" font-family="Liberation Sans, sans-serif" font-size="15.2" fill="#fff" font-weight="bold" font-style="normal" text-anchor="middle" textLength="93.0" lengthAdjust="spacingAndGlyphs" stroke="#fff" stroke-width="0.6">CLOSEALL</text>
<text x="3671.6" y="1986.4" font-family="Liberation Sans, sans-serif" font-size="60.6" fill="#1e90ff" font-weight="bold" font-style="normal" text-anchor="start" textLength="104.8" lengthAdjust="spacingAndGlyphs" stroke="#1e90ff" stroke-width="1.5">RSI</text>
<text x="3790.0" y="1940.3" font-family="Liberation Sans, sans-serif" font-size="9.6" fill="#f0f0f0" font-weight="normal" font-style="normal" text-anchor="start" >1.2</text>
<line x1="3783.0" y1="1937.0" x2="3786.2" y2="1937.0" stroke="#fff" stroke-width="1"/>
<text x="3790.0" y="2008.9" font-family="Liberation Sans, sans-serif" font-size="9.6" fill="#f0f0f0" font-weight="normal" font-style="normal" text-anchor="start" >0.00</text>
<line x1="3783.0" y1="2005.6" x2="3786.2" y2="2005.6" stroke="#fff" stroke-width="1"/>
<text x="3790.0" y="2078.0" font-family="Liberation Sans, sans-serif" font-size="9.6" fill="#f0f0f0" font-weight="normal" font-style="normal" text-anchor="start" >-1.2</text>
<line x1="3783.0" y1="2074.7" x2="3786.2" y2="2074.7" stroke="#fff" stroke-width="1"/>
<text x="20.6" y="1917.4" font-family="Liberation Sans, sans-serif" font-size="19.4" fill="#fff" font-weight="normal" font-style="italic" text-anchor="start" textLength="86.4" lengthAdjust="spacingAndGlyphs" >XARD777</text>
<rect x="112.9" y="1900.3" width="259.8" height="19.7" fill="#1e90ff"/>
<text x="116.0" y="1917.4" font-family="Liberation Sans, sans-serif" font-size="19.4" fill="#fff" font-weight="normal" font-style="italic" text-anchor="start" textLength="252.5" lengthAdjust="spacingAndGlyphs" >BLUEPRINT FOR SUCCESS</text>
<text x="382.0" y="1917.4" font-family="Liberation Sans, sans-serif" font-size="19.4" fill="#fff" font-weight="normal" font-style="italic" text-anchor="start" textLength="214.8" lengthAdjust="spacingAndGlyphs" >COMPOUND INTEREST</text>
<text x="607.0" y="1917.4" font-family="Liberation Sans, sans-serif" font-size="19.4" fill="#fff" font-weight="normal" font-style="italic" text-anchor="start" textLength="508.6" lengthAdjust="spacingAndGlyphs" >'He who understands it, earns it... He who does not, pays it'.</text>
<rect x="12.4" y="1828.5" width="38.0" height="23.0" fill="#161616" stroke="#555" stroke-width="1"/>
<text x="31.5" y="1846.0" font-family="Liberation Sans, sans-serif" font-size="12.5" fill="#8a8a8a" font-weight="normal" font-style="italic" text-anchor="middle" >ON</text>
<line x1="3783.0" y1="13.5" x2="3786.2" y2="13.5" stroke="#fff" stroke-width="1"/>
<text x="3789.2" y="16.2" font-family="Liberation Sans, sans-serif" font-size="9.6" fill="#f0f0f0" font-weight="normal" font-style="normal" text-anchor="start" textLength="38.3" lengthAdjust="spacingAndGlyphs" >30312.15</text>
<line x1="3783.0" y1="46.5" x2="3786.2" y2="46.5" stroke="#fff" stroke-width="1"/>
<text x="3789.2" y="49.2" font-family="Liberation Sans, sans-serif" font-size="9.6" fill="#f0f0f0" font-weight="normal" font-style="normal" text-anchor="start" textLength="38.3" lengthAdjust="spacingAndGlyphs" >30264.90</text>
<line x1="3783.0" y1="79.5" x2="3786.2" y2="79.5" stroke="#fff" stroke-width="1"/>
<text x="3789.2" y="82.2" font-family="Liberation Sans, sans-serif" font-size="9.6" fill="#f0f0f0" font-weight="normal" font-style="normal" text-anchor="start" textLength="38.3" lengthAdjust="spacingAndGlyphs" >30219.00</text>
<line x1="3783.0" y1="112.5" x2="3786.2" y2="112.5" stroke="#fff" stroke-width="1"/>
<text x="3789.2" y="115.2" font-family="Liberation Sans, sans-serif" font-size="9.6" fill="#f0f0f0" font-weight="normal" font-style="normal" text-anchor="start" textLength="38.3" lengthAdjust="spacingAndGlyphs" >30173.10</text>
<line x1="3783.0" y1="145.5" x2="3786.2" y2="145.5" stroke="#fff" stroke-width="1"/>
<text x="3789.2" y="148.2" font-family="Liberation Sans, sans-serif" font-size="9.6" fill="#f0f0f0" font-weight="normal" font-style="normal" text-anchor="start" textLength="38.3" lengthAdjust="spacingAndGlyphs" >30127.20</text>
<line x1="3783.0" y1="178.5" x2="3786.2" y2="178.5" stroke="#fff" stroke-width="1"/>
<text x="3789.2" y="181.2" font-family="Liberation Sans, sans-serif" font-size="9.6" fill="#f0f0f0" font-weight="normal" font-style="normal" text-anchor="start" textLength="38.3" lengthAdjust="spacingAndGlyphs" >30081.30</text>
<line x1="3783.0" y1="211.5" x2="3786.2" y2="211.5" stroke="#fff" stroke-width="1"/>
<text x="3789.2" y="214.2" font-family="Liberation Sans, sans-serif" font-size="9.6" fill="#f0f0f0" font-weight="normal" font-style="normal" text-anchor="start" textLength="38.3" lengthAdjust="spacingAndGlyphs" >30035.40</text>
<line x1="3783.0" y1="244.5" x2="3786.2" y2="244.5" stroke="#fff" stroke-width="1"/>
<text x="3789.2" y="247.2" font-family="Liberation Sans, sans-serif" font-size="9.6" fill="#f0f0f0" font-weight="normal" font-style="normal" text-anchor="start" textLength="38.3" lengthAdjust="spacingAndGlyphs" >29989.50</text>
<line x1="3783.0" y1="277.5" x2="3786.2" y2="277.5" stroke="#fff" stroke-width="1"/>
<text x="3789.2" y="280.2" font-family="Liberation Sans, sans-serif" font-size="9.6" fill="#f0f0f0" font-weight="normal" font-style="normal" text-anchor="start" textLength="38.3" lengthAdjust="spacingAndGlyphs" >29943.60</text>
<line x1="3783.0" y1="310.5" x2="3786.2" y2="310.5" stroke="#fff" stroke-width="1"/>
<text x="3789.2" y="313.2" font-family="Liberation Sans, sans-serif" font-size="9.6" fill="#f0f0f0" font-weight="normal" font-style="normal" text-anchor="start" textLength="38.3" lengthAdjust="spacingAndGlyphs" >29897.70</text>
<line x1="3783.0" y1="343.5" x2="3786.2" y2="343.5" stroke="#fff" stroke-width="1"/>
<text x="3789.2" y="346.2" font-family="Liberation Sans, sans-serif" font-size="9.6" fill="#f0f0f0" font-weight="normal" font-style="normal" text-anchor="start" textLength="38.3" lengthAdjust="spacingAndGlyphs" >29851.80</text>
<line x1="3783.0" y1="376.5" x2="3786.2" y2="376.5" stroke="#fff" stroke-width="1"/>
<text x="3789.2" y="379.2" font-family="Liberation Sans, sans-serif" font-size="9.6" fill="#f0f0f0" font-weight="normal" font-style="normal" text-anchor="start" textLength="38.3" lengthAdjust="spacingAndGlyphs" >29805.90</text>
<line x1="3783.0" y1="409.5" x2="3786.2" y2="409.5" stroke="#fff" stroke-width="1"/>
<text x="3789.2" y="412.2" font-family="Liberation Sans, sans-serif" font-size="9.6" fill="#f0f0f0" font-weight="normal" font-style="normal" text-anchor="start" textLength="38.3" lengthAdjust="spacingAndGlyphs" >29760.00</text>
<line x1="3783.0" y1="442.6" x2="3786.2" y2="442.6" stroke="#fff" stroke-width="1"/>
<text x="3789.2" y="445.3" font-family="Liberation Sans, sans-serif" font-size="9.6" fill="#f0f0f0" font-weight="normal" font-style="normal" text-anchor="start" textLength="38.3" lengthAdjust="spacingAndGlyphs" >29714.10</text>
<line x1="3783.0" y1="475.6" x2="3786.2" y2="475.6" stroke="#fff" stroke-width="1"/>
<text x="3789.2" y="478.3" font-family="Liberation Sans, sans-serif" font-size="9.6" fill="#f0f0f0" font-weight="normal" font-style="normal" text-anchor="start" textLength="38.3" lengthAdjust="spacingAndGlyphs" >29666.85</text>
<line x1="3783.0" y1="508.6" x2="3786.2" y2="508.6" stroke="#fff" stroke-width="1"/>
<text x="3789.2" y="511.3" font-family="Liberation Sans, sans-serif" font-size="9.6" fill="#f0f0f0" font-weight="normal" font-style="normal" text-anchor="start" textLength="38.3" lengthAdjust="spacingAndGlyphs" >29620.95</text>
<line x1="3783.0" y1="541.6" x2="3786.2" y2="541.6" stroke="#fff" stroke-width="1"/>
<text x="3789.2" y="544.3" font-family="Liberation Sans, sans-serif" font-size="9.6" fill="#f0f0f0" font-weight="normal" font-style="normal" text-anchor="start" textLength="38.3" lengthAdjust="spacingAndGlyphs" >29575.05</text>
<line x1="3783.0" y1="574.6" x2="3786.2" y2="574.6" stroke="#fff" stroke-width="1"/>
<text x="3789.2" y="577.3" font-family="Liberation Sans, sans-serif" font-size="9.6" fill="#f0f0f0" font-weight="normal" font-style="normal" text-anchor="start" textLength="38.3" lengthAdjust="spacingAndGlyphs" >29529.15</text>
<line x1="3783.0" y1="607.6" x2="3786.2" y2="607.6" stroke="#fff" stroke-width="1"/>
<text x="3789.2" y="610.3" font-family="Liberation Sans, sans-serif" font-size="9.6" fill="#f0f0f0" font-weight="normal" font-style="normal" text-anchor="start" textLength="38.3" lengthAdjust="spacingAndGlyphs" >29483.25</text>
<line x1="3783.0" y1="640.6" x2="3786.2" y2="640.6" stroke="#fff" stroke-width="1"/>
<text x="3789.2" y="643.3" font-family="Liberation Sans, sans-serif" font-size="9.6" fill="#f0f0f0" font-weight="normal" font-style="normal" text-anchor="start" textLength="38.3" lengthAdjust="spacingAndGlyphs" >29437.35</text>
<line x1="3783.0" y1="673.6" x2="3786.2" y2="673.6" stroke="#fff" stroke-width="1"/>
<text x="3789.2" y="676.3" font-family="Liberation Sans, sans-serif" font-size="9.6" fill="#f0f0f0" font-weight="normal" font-style="normal" text-anchor="start" textLength="38.3" lengthAdjust="spacingAndGlyphs" >29391.45</text>
<line x1="3783.0" y1="706.6" x2="3786.2" y2="706.6" stroke="#fff" stroke-width="1"/>
<text x="3789.2" y="709.3" font-family="Liberation Sans, sans-serif" font-size="9.6" fill="#f0f0f0" font-weight="normal" font-style="normal" text-anchor="start" textLength="38.3" lengthAdjust="spacingAndGlyphs" >29345.55</text>
<line x1="3783.0" y1="739.6" x2="3786.2" y2="739.6" stroke="#fff" stroke-width="1"/>
<text x="3789.2" y="742.3" font-family="Liberation Sans, sans-serif" font-size="9.6" fill="#f0f0f0" font-weight="normal" font-style="normal" text-anchor="start" textLength="38.3" lengthAdjust="spacingAndGlyphs" >29299.65</text>
<line x1="3783.0" y1="772.6" x2="3786.2" y2="772.6" stroke="#fff" stroke-width="1"/>
<text x="3789.2" y="775.3" font-family="Liberation Sans, sans-serif" font-size="9.6" fill="#f0f0f0" font-weight="normal" font-style="normal" text-anchor="start" textLength="38.3" lengthAdjust="spacingAndGlyphs" >29253.75</text>
<line x1="3783.0" y1="805.6" x2="3786.2" y2="805.6" stroke="#fff" stroke-width="1"/>
<text x="3789.2" y="808.3" font-family="Liberation Sans, sans-serif" font-size="9.6" fill="#f0f0f0" font-weight="normal" font-style="normal" text-anchor="start" textLength="38.3" lengthAdjust="spacingAndGlyphs" >29207.85</text>
<line x1="3783.0" y1="838.6" x2="3786.2" y2="838.6" stroke="#fff" stroke-width="1"/>
<text x="3789.2" y="841.3" font-family="Liberation Sans, sans-serif" font-size="9.6" fill="#f0f0f0" font-weight="normal" font-style="normal" text-anchor="start" textLength="38.3" lengthAdjust="spacingAndGlyphs" >29161.95</text>
<line x1="3783.0" y1="871.6" x2="3786.2" y2="871.6" stroke="#fff" stroke-width="1"/>
<text x="3789.2" y="874.3" font-family="Liberation Sans, sans-serif" font-size="9.6" fill="#f0f0f0" font-weight="normal" font-style="normal" text-anchor="start" textLength="38.3" lengthAdjust="spacingAndGlyphs" >29116.05</text>
<rect x="3786.0" y="663.0" width="44.0" height="11.0" fill="#fff"/>
<text x="3788.8" y="671.8" font-family="Liberation Sans, sans-serif" font-size="9.6" fill="#101828" font-weight="normal" font-style="normal" text-anchor="start" textLength="38.2" lengthAdjust="spacingAndGlyphs" >29398.69</text>
<line x1="3783.0" y1="1066.6" x2="3786.2" y2="1066.6" stroke="#fff" stroke-width="1"/>
<text x="3789.2" y="1069.3" font-family="Liberation Sans, sans-serif" font-size="9.6" fill="#f0f0f0" font-weight="normal" font-style="normal" text-anchor="start" textLength="38.3" lengthAdjust="spacingAndGlyphs" >29958.40</text>
<line x1="3783.0" y1="1099.6" x2="3786.2" y2="1099.6" stroke="#fff" stroke-width="1"/>
<text x="3789.2" y="1102.3" font-family="Liberation Sans, sans-serif" font-size="9.6" fill="#f0f0f0" font-weight="normal" font-style="normal" text-anchor="start" textLength="38.3" lengthAdjust="spacingAndGlyphs" >29926.10</text>
<line x1="3783.0" y1="1132.6" x2="3786.2" y2="1132.6" stroke="#fff" stroke-width="1"/>
<text x="3789.2" y="1135.3" font-family="Liberation Sans, sans-serif" font-size="9.6" fill="#f0f0f0" font-weight="normal" font-style="normal" text-anchor="start" textLength="38.3" lengthAdjust="spacingAndGlyphs" >29894.75</text>
<line x1="3783.0" y1="1165.6" x2="3786.2" y2="1165.6" stroke="#fff" stroke-width="1"/>
<text x="3789.2" y="1168.3" font-family="Liberation Sans, sans-serif" font-size="9.6" fill="#f0f0f0" font-weight="normal" font-style="normal" text-anchor="start" textLength="38.3" lengthAdjust="spacingAndGlyphs" >29862.45</text>
<line x1="3783.0" y1="1198.6" x2="3786.2" y2="1198.6" stroke="#fff" stroke-width="1"/>
<text x="3789.2" y="1201.3" font-family="Liberation Sans, sans-serif" font-size="9.6" fill="#f0f0f0" font-weight="normal" font-style="normal" text-anchor="start" textLength="38.3" lengthAdjust="spacingAndGlyphs" >29830.15</text>
<line x1="3783.0" y1="1231.6" x2="3786.2" y2="1231.6" stroke="#fff" stroke-width="1"/>
<text x="3789.2" y="1234.3" font-family="Liberation Sans, sans-serif" font-size="9.6" fill="#f0f0f0" font-weight="normal" font-style="normal" text-anchor="start" textLength="38.3" lengthAdjust="spacingAndGlyphs" >29797.85</text>
<line x1="3783.0" y1="1264.6" x2="3786.2" y2="1264.6" stroke="#fff" stroke-width="1"/>
<text x="3789.2" y="1267.3" font-family="Liberation Sans, sans-serif" font-size="9.6" fill="#f0f0f0" font-weight="normal" font-style="normal" text-anchor="start" textLength="38.3" lengthAdjust="spacingAndGlyphs" >29765.55</text>
<line x1="3783.0" y1="1297.6" x2="3786.2" y2="1297.6" stroke="#fff" stroke-width="1"/>
<text x="3789.2" y="1300.3" font-family="Liberation Sans, sans-serif" font-size="9.6" fill="#f0f0f0" font-weight="normal" font-style="normal" text-anchor="start" textLength="38.3" lengthAdjust="spacingAndGlyphs" >29733.25</text>
<line x1="3783.0" y1="1330.6" x2="3786.2" y2="1330.6" stroke="#fff" stroke-width="1"/>
<text x="3789.2" y="1333.3" font-family="Liberation Sans, sans-serif" font-size="9.6" fill="#f0f0f0" font-weight="normal" font-style="normal" text-anchor="start" textLength="38.3" lengthAdjust="spacingAndGlyphs" >29701.90</text>
<line x1="3783.0" y1="1363.6" x2="3786.2" y2="1363.6" stroke="#fff" stroke-width="1"/>
<text x="3789.2" y="1366.3" font-family="Liberation Sans, sans-serif" font-size="9.6" fill="#f0f0f0" font-weight="normal" font-style="normal" text-anchor="start" textLength="38.3" lengthAdjust="spacingAndGlyphs" >29669.60</text>
<line x1="3783.0" y1="1396.6" x2="3786.2" y2="1396.6" stroke="#fff" stroke-width="1"/>
<text x="3789.2" y="1399.3" font-family="Liberation Sans, sans-serif" font-size="9.6" fill="#f0f0f0" font-weight="normal" font-style="normal" text-anchor="start" textLength="38.3" lengthAdjust="spacingAndGlyphs" >29637.30</text>
<line x1="3783.0" y1="1429.6" x2="3786.2" y2="1429.6" stroke="#fff" stroke-width="1"/>
<text x="3789.2" y="1432.3" font-family="Liberation Sans, sans-serif" font-size="9.6" fill="#f0f0f0" font-weight="normal" font-style="normal" text-anchor="start" textLength="38.3" lengthAdjust="spacingAndGlyphs" >29605.00</text>
<line x1="3783.0" y1="1462.6" x2="3786.2" y2="1462.6" stroke="#fff" stroke-width="1"/>
<text x="3789.2" y="1465.3" font-family="Liberation Sans, sans-serif" font-size="9.6" fill="#f0f0f0" font-weight="normal" font-style="normal" text-anchor="start" textLength="38.3" lengthAdjust="spacingAndGlyphs" >29572.70</text>
<line x1="3783.0" y1="1495.6" x2="3786.2" y2="1495.6" stroke="#fff" stroke-width="1"/>
<text x="3789.2" y="1498.3" font-family="Liberation Sans, sans-serif" font-size="9.6" fill="#f0f0f0" font-weight="normal" font-style="normal" text-anchor="start" textLength="38.3" lengthAdjust="spacingAndGlyphs" >29540.40</text>
<line x1="3783.0" y1="1528.6" x2="3786.2" y2="1528.6" stroke="#fff" stroke-width="1"/>
<text x="3789.2" y="1531.3" font-family="Liberation Sans, sans-serif" font-size="9.6" fill="#f0f0f0" font-weight="normal" font-style="normal" text-anchor="start" textLength="38.3" lengthAdjust="spacingAndGlyphs" >29509.05</text>
<line x1="3783.0" y1="1561.6" x2="3786.2" y2="1561.6" stroke="#fff" stroke-width="1"/>
<text x="3789.2" y="1564.3" font-family="Liberation Sans, sans-serif" font-size="9.6" fill="#f0f0f0" font-weight="normal" font-style="normal" text-anchor="start" textLength="38.3" lengthAdjust="spacingAndGlyphs" >29476.75</text>
<line x1="3783.0" y1="1594.6" x2="3786.2" y2="1594.6" stroke="#fff" stroke-width="1"/>
<text x="3789.2" y="1597.3" font-family="Liberation Sans, sans-serif" font-size="9.6" fill="#f0f0f0" font-weight="normal" font-style="normal" text-anchor="start" textLength="38.3" lengthAdjust="spacingAndGlyphs" >29444.45</text>
<line x1="3783.0" y1="1627.6" x2="3786.2" y2="1627.6" stroke="#fff" stroke-width="1"/>
<text x="3789.2" y="1630.3" font-family="Liberation Sans, sans-serif" font-size="9.6" fill="#f0f0f0" font-weight="normal" font-style="normal" text-anchor="start" textLength="38.3" lengthAdjust="spacingAndGlyphs" >29412.15</text>
<line x1="3783.0" y1="1660.6" x2="3786.2" y2="1660.6" stroke="#fff" stroke-width="1"/>
<text x="3789.2" y="1663.3" font-family="Liberation Sans, sans-serif" font-size="9.6" fill="#f0f0f0" font-weight="normal" font-style="normal" text-anchor="start" textLength="38.3" lengthAdjust="spacingAndGlyphs" >29379.85</text>
<line x1="3783.0" y1="1693.6" x2="3786.2" y2="1693.6" stroke="#fff" stroke-width="1"/>
<text x="3789.2" y="1696.3" font-family="Liberation Sans, sans-serif" font-size="9.6" fill="#f0f0f0" font-weight="normal" font-style="normal" text-anchor="start" textLength="38.3" lengthAdjust="spacingAndGlyphs" >29347.55</text>
<line x1="3783.0" y1="1726.6" x2="3786.2" y2="1726.6" stroke="#fff" stroke-width="1"/>
<text x="3789.2" y="1729.3" font-family="Liberation Sans, sans-serif" font-size="9.6" fill="#f0f0f0" font-weight="normal" font-style="normal" text-anchor="start" textLength="38.3" lengthAdjust="spacingAndGlyphs" >29316.20</text>
<line x1="3783.0" y1="1759.6" x2="3786.2" y2="1759.6" stroke="#fff" stroke-width="1"/>
<text x="3789.2" y="1762.3" font-family="Liberation Sans, sans-serif" font-size="9.6" fill="#f0f0f0" font-weight="normal" font-style="normal" text-anchor="start" textLength="38.3" lengthAdjust="spacingAndGlyphs" >29283.90</text>
<line x1="3783.0" y1="1792.6" x2="3786.2" y2="1792.6" stroke="#fff" stroke-width="1"/>
<text x="3789.2" y="1795.3" font-family="Liberation Sans, sans-serif" font-size="9.6" fill="#f0f0f0" font-weight="normal" font-style="normal" text-anchor="start" textLength="38.3" lengthAdjust="spacingAndGlyphs" >29251.60</text>
<line x1="3783.0" y1="1825.6" x2="3786.2" y2="1825.6" stroke="#fff" stroke-width="1"/>
<text x="3789.2" y="1828.3" font-family="Liberation Sans, sans-serif" font-size="9.6" fill="#f0f0f0" font-weight="normal" font-style="normal" text-anchor="start" textLength="38.3" lengthAdjust="spacingAndGlyphs" >29219.30</text>
<line x1="3783.0" y1="1858.6" x2="3786.2" y2="1858.6" stroke="#fff" stroke-width="1"/>
<text x="3789.2" y="1861.3" font-family="Liberation Sans, sans-serif" font-size="9.6" fill="#f0f0f0" font-weight="normal" font-style="normal" text-anchor="start" textLength="38.3" lengthAdjust="spacingAndGlyphs" >29187.00</text>
<line x1="3783.0" y1="1891.6" x2="3786.2" y2="1891.6" stroke="#fff" stroke-width="1"/>
<text x="3789.2" y="1894.3" font-family="Liberation Sans, sans-serif" font-size="9.6" fill="#f0f0f0" font-weight="normal" font-style="normal" text-anchor="start" textLength="38.3" lengthAdjust="spacingAndGlyphs" >29154.70</text>
<line x1="3783.0" y1="1924.6" x2="3786.2" y2="1924.6" stroke="#fff" stroke-width="1"/>
<text x="3789.2" y="1927.3" font-family="Liberation Sans, sans-serif" font-size="9.6" fill="#f0f0f0" font-weight="normal" font-style="normal" text-anchor="start" textLength="38.3" lengthAdjust="spacingAndGlyphs" >29123.35</text>
<rect x="3786.0" y="1635.8" width="44.0" height="11.0" fill="#fff"/>
<text x="3788.8" y="1644.6" font-family="Liberation Sans, sans-serif" font-size="9.6" fill="#101828" font-weight="normal" font-style="normal" text-anchor="start" textLength="38.2" lengthAdjust="spacingAndGlyphs" >29398.69</text>
<line x1="5.0" y1="1028.5" x2="5.0" y2="1032.5" stroke="#fff" stroke-width="1"/>
<text x="4.5" y="1040.9" font-family="Liberation Sans, sans-serif" font-size="9.5" fill="#f0f0f0" font-weight="normal" font-style="normal" text-anchor="start" textLength="50.3" lengthAdjust="spacingAndGlyphs" >22 Sep 2022</text>
<line x1="69.0" y1="1028.5" x2="69.0" y2="1032.5" stroke="#fff" stroke-width="1"/>
<text x="68.5" y="1040.9" font-family="Liberation Sans, sans-serif" font-size="9.5" fill="#f0f0f0" font-weight="normal" font-style="normal" text-anchor="start" textLength="54.2" lengthAdjust="spacingAndGlyphs" >22 Sep 18:15</text>
<line x1="133.0" y1="1028.5" x2="133.0" y2="1032.5" stroke="#fff" stroke-width="1"/>
<text x="132.5" y="1040.9" font-family="Liberation Sans, sans-serif" font-size="9.5" fill="#f0f0f0" font-weight="normal" font-style="normal" text-anchor="start" textLength="54.2" lengthAdjust="spacingAndGlyphs" >22 Sep 19:15</text>
<line x1="197.0" y1="1028.5" x2="197.0" y2="1032.5" stroke="#fff" stroke-width="1"/>
<text x="196.5" y="1040.9" font-family="Liberation Sans, sans-serif" font-size="9.5" fill="#f0f0f0" font-weight="normal" font-style="normal" text-anchor="start" textLength="54.2" lengthAdjust="spacingAndGlyphs" >22 Sep 20:15</text>
<line x1="261.0" y1="1028.5" x2="261.0" y2="1032.5" stroke="#fff" stroke-width="1"/>
<text x="260.5" y="1040.9" font-family="Liberation Sans, sans-serif" font-size="9.5" fill="#f0f0f0" font-weight="normal" font-style="normal" text-anchor="start" textLength="54.2" lengthAdjust="spacingAndGlyphs" >22 Sep 21:15</text>
<line x1="325.0" y1="1028.5" x2="325.0" y2="1032.5" stroke="#fff" stroke-width="1"/>
<text x="324.5" y="1040.9" font-family="Liberation Sans, sans-serif" font-size="9.5" fill="#f0f0f0" font-weight="normal" font-style="normal" text-anchor="start" textLength="54.2" lengthAdjust="spacingAndGlyphs" >22 Sep 22:15</text>
<line x1="389.0" y1="1028.5" x2="389.0" y2="1032.5" stroke="#fff" stroke-width="1"/>
<text x="388.5" y="1040.9" font-family="Liberation Sans, sans-serif" font-size="9.5" fill="#f0f0f0" font-weight="normal" font-style="normal" text-anchor="start" textLength="54.2" lengthAdjust="spacingAndGlyphs" >22 Sep 23:15</text>
<line x1="453.0" y1="1028.5" x2="453.0" y2="1032.5" stroke="#fff" stroke-width="1"/>
<text x="452.5" y="1040.9" font-family="Liberation Sans, sans-serif" font-size="9.5" fill="#f0f0f0" font-weight="normal" font-style="normal" text-anchor="start" textLength="54.2" lengthAdjust="spacingAndGlyphs" >23 Sep 01:15</text>
<line x1="517.0" y1="1028.5" x2="517.0" y2="1032.5" stroke="#fff" stroke-width="1"/>
<text x="516.5" y="1040.9" font-family="Liberation Sans, sans-serif" font-size="9.5" fill="#f0f0f0" font-weight="normal" font-style="normal" text-anchor="start" textLength="54.2" lengthAdjust="spacingAndGlyphs" >23 Sep 02:15</text>
<line x1="581.0" y1="1028.5" x2="581.0" y2="1032.5" stroke="#fff" stroke-width="1"/>
<text x="580.5" y="1040.9" font-family="Liberation Sans, sans-serif" font-size="9.5" fill="#f0f0f0" font-weight="normal" font-style="normal" text-anchor="start" textLength="54.2" lengthAdjust="spacingAndGlyphs" >23 Sep 03:15</text>
<line x1="645.0" y1="1028.5" x2="645.0" y2="1032.5" stroke="#fff" stroke-width="1"/>
<text x="644.5" y="1040.9" font-family="Liberation Sans, sans-serif" font-size="9.5" fill="#f0f0f0" font-weight="normal" font-style="normal" text-anchor="start" textLength="54.2" lengthAdjust="spacingAndGlyphs" >23 Sep 04:15</text>
<line x1="709.0" y1="1028.5" x2="709.0" y2="1032.5" stroke="#fff" stroke-width="1"/>
<text x="708.5" y="1040.9" font-family="Liberation Sans, sans-serif" font-size="9.5" fill="#f0f0f0" font-weight="normal" font-style="normal" text-anchor="start" textLength="54.2" lengthAdjust="spacingAndGlyphs" >23 Sep 05:15</text>
<line x1="773.0" y1="1028.5" x2="773.0" y2="1032.5" stroke="#fff" stroke-width="1"/>
<text x="772.5" y="1040.9" font-family="Liberation Sans, sans-serif" font-size="9.5" fill="#f0f0f0" font-weight="normal" font-style="normal" text-anchor="start" textLength="54.2" lengthAdjust="spacingAndGlyphs" >23 Sep 06:15</text>
<line x1="837.0" y1="1028.5" x2="837.0" y2="1032.5" stroke="#fff" stroke-width="1"/>
<text x="836.5" y="1040.9" font-family="Liberation Sans, sans-serif" font-size="9.5" fill="#f0f0f0" font-weight="normal" font-style="normal" text-anchor="start" textLength="54.2" lengthAdjust="spacingAndGlyphs" >23 Sep 07:15</text>
<line x1="901.0" y1="1028.5" x2="901.0" y2="1032.5" stroke="#fff" stroke-width="1"/>
<text x="900.5" y="1040.9" font-family="Liberation Sans, sans-serif" font-size="9.5" fill="#f0f0f0" font-weight="normal" font-style="normal" text-anchor="start" textLength="54.2" lengthAdjust="spacingAndGlyphs" >23 Sep 08:15</text>
<line x1="965.0" y1="1028.5" x2="965.0" y2="1032.5" stroke="#fff" stroke-width="1"/>
<text x="964.5" y="1040.9" font-family="Liberation Sans, sans-serif" font-size="9.5" fill="#f0f0f0" font-weight="normal" font-style="normal" text-anchor="start" textLength="54.2" lengthAdjust="spacingAndGlyphs" >23 Sep 09:15</text>
<line x1="1029.0" y1="1028.5" x2="1029.0" y2="1032.5" stroke="#fff" stroke-width="1"/>
<text x="1028.5" y="1040.9" font-family="Liberation Sans, sans-serif" font-size="9.5" fill="#f0f0f0" font-weight="normal" font-style="normal" text-anchor="start" textLength="54.2" lengthAdjust="spacingAndGlyphs" >23 Sep 10:15</text>
<line x1="1093.0" y1="1028.5" x2="1093.0" y2="1032.5" stroke="#fff" stroke-width="1"/>
<text x="1092.5" y="1040.9" font-family="Liberation Sans, sans-serif" font-size="9.5" fill="#f0f0f0" font-weight="normal" font-style="normal" text-anchor="start" textLength="54.2" lengthAdjust="spacingAndGlyphs" >23 Sep 11:15</text>
<line x1="1157.0" y1="1028.5" x2="1157.0" y2="1032.5" stroke="#fff" stroke-width="1"/>
<text x="1156.5" y="1040.9" font-family="Liberation Sans, sans-serif" font-size="9.5" fill="#f0f0f0" font-weight="normal" font-style="normal" text-anchor="start" textLength="54.2" lengthAdjust="spacingAndGlyphs" >23 Sep 12:15</text>
<line x1="1221.0" y1="1028.5" x2="1221.0" y2="1032.5" stroke="#fff" stroke-width="1"/>
<text x="1220.5" y="1040.9" font-family="Liberation Sans, sans-serif" font-size="9.5" fill="#f0f0f0" font-weight="normal" font-style="normal" text-anchor="start" textLength="54.2" lengthAdjust="spacingAndGlyphs" >23 Sep 13:15</text>
<line x1="1285.0" y1="1028.5" x2="1285.0" y2="1032.5" stroke="#fff" stroke-width="1"/>
<text x="1284.5" y="1040.9" font-family="Liberation Sans, sans-serif" font-size="9.5" fill="#f0f0f0" font-weight="normal" font-style="normal" text-anchor="start" textLength="54.2" lengthAdjust="spacingAndGlyphs" >23 Sep 14:15</text>
<line x1="1349.0" y1="1028.5" x2="1349.0" y2="1032.5" stroke="#fff" stroke-width="1"/>
<text x="1348.5" y="1040.9" font-family="Liberation Sans, sans-serif" font-size="9.5" fill="#f0f0f0" font-weight="normal" font-style="normal" text-anchor="start" textLength="54.2" lengthAdjust="spacingAndGlyphs" >23 Sep 15:15</text>
<line x1="1413.0" y1="1028.5" x2="1413.0" y2="1032.5" stroke="#fff" stroke-width="1"/>
<text x="1412.5" y="1040.9" font-family="Liberation Sans, sans-serif" font-size="9.5" fill="#f0f0f0" font-weight="normal" font-style="normal" text-anchor="start" textLength="54.2" lengthAdjust="spacingAndGlyphs" >23 Sep 16:15</text>
<line x1="1477.0" y1="1028.5" x2="1477.0" y2="1032.5" stroke="#fff" stroke-width="1"/>
<text x="1476.5" y="1040.9" font-family="Liberation Sans, sans-serif" font-size="9.5" fill="#f0f0f0" font-weight="normal" font-style="normal" text-anchor="start" textLength="54.2" lengthAdjust="spacingAndGlyphs" >23 Sep 17:15</text>
<line x1="1541.0" y1="1028.5" x2="1541.0" y2="1032.5" stroke="#fff" stroke-width="1"/>
<text x="1540.5" y="1040.9" font-family="Liberation Sans, sans-serif" font-size="9.5" fill="#f0f0f0" font-weight="normal" font-style="normal" text-anchor="start" textLength="54.2" lengthAdjust="spacingAndGlyphs" >23 Sep 18:15</text>
<line x1="1605.0" y1="1028.5" x2="1605.0" y2="1032.5" stroke="#fff" stroke-width="1"/>
<text x="1604.5" y="1040.9" font-family="Liberation Sans, sans-serif" font-size="9.5" fill="#f0f0f0" font-weight="normal" font-style="normal" text-anchor="start" textLength="54.2" lengthAdjust="spacingAndGlyphs" >23 Sep 19:15</text>
<line x1="1669.0" y1="1028.5" x2="1669.0" y2="1032.5" stroke="#fff" stroke-width="1"/>
<text x="1668.5" y="1040.9" font-family="Liberation Sans, sans-serif" font-size="9.5" fill="#f0f0f0" font-weight="normal" font-style="normal" text-anchor="start" textLength="54.2" lengthAdjust="spacingAndGlyphs" >23 Sep 20:15</text>
<line x1="1733.0" y1="1028.5" x2="1733.0" y2="1032.5" stroke="#fff" stroke-width="1"/>
<text x="1732.5" y="1040.9" font-family="Liberation Sans, sans-serif" font-size="9.5" fill="#f0f0f0" font-weight="normal" font-style="normal" text-anchor="start" textLength="54.2" lengthAdjust="spacingAndGlyphs" >23 Sep 21:15</text>
<line x1="1797.0" y1="1028.5" x2="1797.0" y2="1032.5" stroke="#fff" stroke-width="1"/>
<text x="1796.5" y="1040.9" font-family="Liberation Sans, sans-serif" font-size="9.5" fill="#f0f0f0" font-weight="normal" font-style="normal" text-anchor="start" textLength="54.2" lengthAdjust="spacingAndGlyphs" >23 Sep 22:15</text>
<line x1="1861.0" y1="1028.5" x2="1861.0" y2="1032.5" stroke="#fff" stroke-width="1"/>
<text x="1860.5" y="1040.9" font-family="Liberation Sans, sans-serif" font-size="9.5" fill="#f0f0f0" font-weight="normal" font-style="normal" text-anchor="start" textLength="54.2" lengthAdjust="spacingAndGlyphs" >23 Sep 23:15</text>
<line x1="1925.0" y1="1028.5" x2="1925.0" y2="1032.5" stroke="#fff" stroke-width="1"/>
<text x="1924.5" y="1040.9" font-family="Liberation Sans, sans-serif" font-size="9.5" fill="#f0f0f0" font-weight="normal" font-style="normal" text-anchor="start" textLength="54.2" lengthAdjust="spacingAndGlyphs" >26 Sep 01:15</text>
<line x1="1989.0" y1="1028.5" x2="1989.0" y2="1032.5" stroke="#fff" stroke-width="1"/>
<text x="1988.5" y="1040.9" font-family="Liberation Sans, sans-serif" font-size="9.5" fill="#f0f0f0" font-weight="normal" font-style="normal" text-anchor="start" textLength="54.2" lengthAdjust="spacingAndGlyphs" >26 Sep 02:15</text>
<line x1="2053.0" y1="1028.5" x2="2053.0" y2="1032.5" stroke="#fff" stroke-width="1"/>
<text x="2052.5" y="1040.9" font-family="Liberation Sans, sans-serif" font-size="9.5" fill="#f0f0f0" font-weight="normal" font-style="normal" text-anchor="start" textLength="54.2" lengthAdjust="spacingAndGlyphs" >26 Sep 03:15</text>
<line x1="2117.0" y1="1028.5" x2="2117.0" y2="1032.5" stroke="#fff" stroke-width="1"/>
<text x="2116.5" y="1040.9" font-family="Liberation Sans, sans-serif" font-size="9.5" fill="#f0f0f0" font-weight="normal" font-style="normal" text-anchor="start" textLength="54.2" lengthAdjust="spacingAndGlyphs" >26 Sep 04:15</text>
<line x1="2181.0" y1="1028.5" x2="2181.0" y2="1032.5" stroke="#fff" stroke-width="1"/>
<text x="2180.5" y="1040.9" font-family="Liberation Sans, sans-serif" font-size="9.5" fill="#f0f0f0" font-weight="normal" font-style="normal" text-anchor="start" textLength="54.2" lengthAdjust="spacingAndGlyphs" >26 Sep 05:15</text>
<line x1="2245.0" y1="1028.5" x2="2245.0" y2="1032.5" stroke="#fff" stroke-width="1"/>
<text x="2244.5" y="1040.9" font-family="Liberation Sans, sans-serif" font-size="9.5" fill="#f0f0f0" font-weight="normal" font-style="normal" text-anchor="start" textLength="54.2" lengthAdjust="spacingAndGlyphs" >26 Sep 06:15</text>
<line x1="2309.0" y1="1028.5" x2="2309.0" y2="1032.5" stroke="#fff" stroke-width="1"/>
<text x="2308.5" y="1040.9" font-family="Liberation Sans, sans-serif" font-size="9.5" fill="#f0f0f0" font-weight="normal" font-style="normal" text-anchor="start" textLength="54.2" lengthAdjust="spacingAndGlyphs" >26 Sep 07:15</text>
<line x1="2373.0" y1="1028.5" x2="2373.0" y2="1032.5" stroke="#fff" stroke-width="1"/>
<text x="2372.5" y="1040.9" font-family="Liberation Sans, sans-serif" font-size="9.5" fill="#f0f0f0" font-weight="normal" font-style="normal" text-anchor="start" textLength="54.2" lengthAdjust="spacingAndGlyphs" >26 Sep 08:15</text>
<line x1="2437.0" y1="1028.5" x2="2437.0" y2="1032.5" stroke="#fff" stroke-width="1"/>
<text x="2436.5" y="1040.9" font-family="Liberation Sans, sans-serif" font-size="9.5" fill="#f0f0f0" font-weight="normal" font-style="normal" text-anchor="start" textLength="54.2" lengthAdjust="spacingAndGlyphs" >26 Sep 09:15</text>
<line x1="2501.0" y1="1028.5" x2="2501.0" y2="1032.5" stroke="#fff" stroke-width="1"/>
<text x="2500.5" y="1040.9" font-family="Liberation Sans, sans-serif" font-size="9.5" fill="#f0f0f0" font-weight="normal" font-style="normal" text-anchor="start" textLength="54.2" lengthAdjust="spacingAndGlyphs" >26 Sep 10:15</text>
<line x1="2565.0" y1="1028.5" x2="2565.0" y2="1032.5" stroke="#fff" stroke-width="1"/>
<text x="2564.5" y="1040.9" font-family="Liberation Sans, sans-serif" font-size="9.5" fill="#f0f0f0" font-weight="normal" font-style="normal" text-anchor="start" textLength="54.2" lengthAdjust="spacingAndGlyphs" >26 Sep 11:15</text>
<line x1="2629.0" y1="1028.5" x2="2629.0" y2="1032.5" stroke="#fff" stroke-width="1"/>
<text x="2628.5" y="1040.9" font-family="Liberation Sans, sans-serif" font-size="9.5" fill="#f0f0f0" font-weight="normal" font-style="normal" text-anchor="start" textLength="54.2" lengthAdjust="spacingAndGlyphs" >26 Sep 12:15</text>
<line x1="2693.0" y1="1028.5" x2="2693.0" y2="1032.5" stroke="#fff" stroke-width="1"/>
<text x="2692.5" y="1040.9" font-family="Liberation Sans, sans-serif" font-size="9.5" fill="#f0f0f0" font-weight="normal" font-style="normal" text-anchor="start" textLength="54.2" lengthAdjust="spacingAndGlyphs" >26 Sep 13:15</text>
<line x1="2757.0" y1="1028.5" x2="2757.0" y2="1032.5" stroke="#fff" stroke-width="1"/>
<text x="2756.5" y="1040.9" font-family="Liberation Sans, sans-serif" font-size="9.5" fill="#f0f0f0" font-weight="normal" font-style="normal" text-anchor="start" textLength="54.2" lengthAdjust="spacingAndGlyphs" >26 Sep 14:15</text>
<line x1="2821.0" y1="1028.5" x2="2821.0" y2="1032.5" stroke="#fff" stroke-width="1"/>
<text x="2820.5" y="1040.9" font-family="Liberation Sans, sans-serif" font-size="9.5" fill="#f0f0f0" font-weight="normal" font-style="normal" text-anchor="start" textLength="54.2" lengthAdjust="spacingAndGlyphs" >26 Sep 15:15</text>
<line x1="2885.0" y1="1028.5" x2="2885.0" y2="1032.5" stroke="#fff" stroke-width="1"/>
<text x="2884.5" y="1040.9" font-family="Liberation Sans, sans-serif" font-size="9.5" fill="#f0f0f0" font-weight="normal" font-style="normal" text-anchor="start" textLength="54.2" lengthAdjust="spacingAndGlyphs" >26 Sep 16:15</text>
<line x1="2949.0" y1="1028.5" x2="2949.0" y2="1032.5" stroke="#fff" stroke-width="1"/>
<text x="2948.5" y="1040.9" font-family="Liberation Sans, sans-serif" font-size="9.5" fill="#f0f0f0" font-weight="normal" font-style="normal" text-anchor="start" textLength="54.2" lengthAdjust="spacingAndGlyphs" >26 Sep 17:15</text>
<line x1="3013.0" y1="1028.5" x2="3013.0" y2="1032.5" stroke="#fff" stroke-width="1"/>
<text x="3012.5" y="1040.9" font-family="Liberation Sans, sans-serif" font-size="9.5" fill="#f0f0f0" font-weight="normal" font-style="normal" text-anchor="start" textLength="54.2" lengthAdjust="spacingAndGlyphs" >26 Sep 18:15</text>
<line x1="3077.0" y1="1028.5" x2="3077.0" y2="1032.5" stroke="#fff" stroke-width="1"/>
<text x="3076.5" y="1040.9" font-family="Liberation Sans, sans-serif" font-size="9.5" fill="#f0f0f0" font-weight="normal" font-style="normal" text-anchor="start" textLength="54.2" lengthAdjust="spacingAndGlyphs" >26 Sep 19:15</text>
<line x1="3141.0" y1="1028.5" x2="3141.0" y2="1032.5" stroke="#fff" stroke-width="1"/>
<text x="3140.5" y="1040.9" font-family="Liberation Sans, sans-serif" font-size="9.5" fill="#f0f0f0" font-weight="normal" font-style="normal" text-anchor="start" textLength="54.2" lengthAdjust="spacingAndGlyphs" >26 Sep 20:15</text>
<line x1="3205.0" y1="1028.5" x2="3205.0" y2="1032.5" stroke="#fff" stroke-width="1"/>
<text x="3204.5" y="1040.9" font-family="Liberation Sans, sans-serif" font-size="9.5" fill="#f0f0f0" font-weight="normal" font-style="normal" text-anchor="start" textLength="54.2" lengthAdjust="spacingAndGlyphs" >26 Sep 21:15</text>
<line x1="3269.0" y1="1028.5" x2="3269.0" y2="1032.5" stroke="#fff" stroke-width="1"/>
<text x="3268.5" y="1040.9" font-family="Liberation Sans, sans-serif" font-size="9.5" fill="#f0f0f0" font-weight="normal" font-style="normal" text-anchor="start" textLength="54.2" lengthAdjust="spacingAndGlyphs" >26 Sep 22:15</text>
<line x1="5.0" y1="2081.5" x2="5.0" y2="2085.5" stroke="#fff" stroke-width="1"/>
<text x="4.5" y="2093.9" font-family="Liberation Sans, sans-serif" font-size="9.5" fill="#f0f0f0" font-weight="normal" font-style="normal" text-anchor="start" textLength="50.3" lengthAdjust="spacingAndGlyphs" >23 Sep 2022</text>
<line x1="69.0" y1="2081.5" x2="69.0" y2="2085.5" stroke="#fff" stroke-width="1"/>
<text x="68.5" y="2093.9" font-family="Liberation Sans, sans-serif" font-size="9.5" fill="#f0f0f0" font-weight="normal" font-style="normal" text-anchor="start" textLength="54.2" lengthAdjust="spacingAndGlyphs" >23 Sep 12:00</text>
<line x1="133.0" y1="2081.5" x2="133.0" y2="2085.5" stroke="#fff" stroke-width="1"/>
<text x="132.5" y="2093.9" font-family="Liberation Sans, sans-serif" font-size="9.5" fill="#f0f0f0" font-weight="normal" font-style="normal" text-anchor="start" textLength="54.2" lengthAdjust="spacingAndGlyphs" >23 Sep 12:40</text>
<line x1="197.0" y1="2081.5" x2="197.0" y2="2085.5" stroke="#fff" stroke-width="1"/>
<text x="196.5" y="2093.9" font-family="Liberation Sans, sans-serif" font-size="9.5" fill="#f0f0f0" font-weight="normal" font-style="normal" text-anchor="start" textLength="54.2" lengthAdjust="spacingAndGlyphs" >23 Sep 13:20</text>
<line x1="261.0" y1="2081.5" x2="261.0" y2="2085.5" stroke="#fff" stroke-width="1"/>
<text x="260.5" y="2093.9" font-family="Liberation Sans, sans-serif" font-size="9.5" fill="#f0f0f0" font-weight="normal" font-style="normal" text-anchor="start" textLength="54.2" lengthAdjust="spacingAndGlyphs" >23 Sep 14:00</text>
<line x1="325.0" y1="2081.5" x2="325.0" y2="2085.5" stroke="#fff" stroke-width="1"/>
<text x="324.5" y="2093.9" font-family="Liberation Sans, sans-serif" font-size="9.5" fill="#f0f0f0" font-weight="normal" font-style="normal" text-anchor="start" textLength="54.2" lengthAdjust="spacingAndGlyphs" >23 Sep 14:40</text>
<line x1="389.0" y1="2081.5" x2="389.0" y2="2085.5" stroke="#fff" stroke-width="1"/>
<text x="388.5" y="2093.9" font-family="Liberation Sans, sans-serif" font-size="9.5" fill="#f0f0f0" font-weight="normal" font-style="normal" text-anchor="start" textLength="54.2" lengthAdjust="spacingAndGlyphs" >23 Sep 15:20</text>
<line x1="453.0" y1="2081.5" x2="453.0" y2="2085.5" stroke="#fff" stroke-width="1"/>
<text x="452.5" y="2093.9" font-family="Liberation Sans, sans-serif" font-size="9.5" fill="#f0f0f0" font-weight="normal" font-style="normal" text-anchor="start" textLength="54.2" lengthAdjust="spacingAndGlyphs" >23 Sep 16:00</text>
<line x1="517.0" y1="2081.5" x2="517.0" y2="2085.5" stroke="#fff" stroke-width="1"/>
<text x="516.5" y="2093.9" font-family="Liberation Sans, sans-serif" font-size="9.5" fill="#f0f0f0" font-weight="normal" font-style="normal" text-anchor="start" textLength="54.2" lengthAdjust="spacingAndGlyphs" >23 Sep 16:40</text>
<line x1="581.0" y1="2081.5" x2="581.0" y2="2085.5" stroke="#fff" stroke-width="1"/>
<text x="580.5" y="2093.9" font-family="Liberation Sans, sans-serif" font-size="9.5" fill="#f0f0f0" font-weight="normal" font-style="normal" text-anchor="start" textLength="54.2" lengthAdjust="spacingAndGlyphs" >23 Sep 17:20</text>
<line x1="645.0" y1="2081.5" x2="645.0" y2="2085.5" stroke="#fff" stroke-width="1"/>
<text x="644.5" y="2093.9" font-family="Liberation Sans, sans-serif" font-size="9.5" fill="#f0f0f0" font-weight="normal" font-style="normal" text-anchor="start" textLength="54.2" lengthAdjust="spacingAndGlyphs" >23 Sep 18:00</text>
<line x1="709.0" y1="2081.5" x2="709.0" y2="2085.5" stroke="#fff" stroke-width="1"/>
<text x="708.5" y="2093.9" font-family="Liberation Sans, sans-serif" font-size="9.5" fill="#f0f0f0" font-weight="normal" font-style="normal" text-anchor="start" textLength="54.2" lengthAdjust="spacingAndGlyphs" >23 Sep 18:40</text>
<line x1="773.0" y1="2081.5" x2="773.0" y2="2085.5" stroke="#fff" stroke-width="1"/>
<text x="772.5" y="2093.9" font-family="Liberation Sans, sans-serif" font-size="9.5" fill="#f0f0f0" font-weight="normal" font-style="normal" text-anchor="start" textLength="54.2" lengthAdjust="spacingAndGlyphs" >23 Sep 19:20</text>
<line x1="837.0" y1="2081.5" x2="837.0" y2="2085.5" stroke="#fff" stroke-width="1"/>
<text x="836.5" y="2093.9" font-family="Liberation Sans, sans-serif" font-size="9.5" fill="#f0f0f0" font-weight="normal" font-style="normal" text-anchor="start" textLength="54.2" lengthAdjust="spacingAndGlyphs" >23 Sep 20:00</text>
<line x1="901.0" y1="2081.5" x2="901.0" y2="2085.5" stroke="#fff" stroke-width="1"/>
<text x="900.5" y="2093.9" font-family="Liberation Sans, sans-serif" font-size="9.5" fill="#f0f0f0" font-weight="normal" font-style="normal" text-anchor="start" textLength="54.2" lengthAdjust="spacingAndGlyphs" >23 Sep 20:40</text>
<line x1="965.0" y1="2081.5" x2="965.0" y2="2085.5" stroke="#fff" stroke-width="1"/>
<text x="964.5" y="2093.9" font-family="Liberation Sans, sans-serif" font-size="9.5" fill="#f0f0f0" font-weight="normal" font-style="normal" text-anchor="start" textLength="54.2" lengthAdjust="spacingAndGlyphs" >23 Sep 21:20</text>
<line x1="1029.0" y1="2081.5" x2="1029.0" y2="2085.5" stroke="#fff" stroke-width="1"/>
<text x="1028.5" y="2093.9" font-family="Liberation Sans, sans-serif" font-size="9.5" fill="#f0f0f0" font-weight="normal" font-style="normal" text-anchor="start" textLength="54.2" lengthAdjust="spacingAndGlyphs" >23 Sep 22:00</text>
<line x1="1093.0" y1="2081.5" x2="1093.0" y2="2085.5" stroke="#fff" stroke-width="1"/>
<text x="1092.5" y="2093.9" font-family="Liberation Sans, sans-serif" font-size="9.5" fill="#f0f0f0" font-weight="normal" font-style="normal" text-anchor="start" textLength="54.2" lengthAdjust="spacingAndGlyphs" >23 Sep 22:40</text>
<line x1="1157.0" y1="2081.5" x2="1157.0" y2="2085.5" stroke="#fff" stroke-width="1"/>
<text x="1156.5" y="2093.9" font-family="Liberation Sans, sans-serif" font-size="9.5" fill="#f0f0f0" font-weight="normal" font-style="normal" text-anchor="start" textLength="54.2" lengthAdjust="spacingAndGlyphs" >23 Sep 23:20</text>
<line x1="1221.0" y1="2081.5" x2="1221.0" y2="2085.5" stroke="#fff" stroke-width="1"/>
<text x="1220.5" y="2093.9" font-family="Liberation Sans, sans-serif" font-size="9.5" fill="#f0f0f0" font-weight="normal" font-style="normal" text-anchor="start" textLength="54.2" lengthAdjust="spacingAndGlyphs" >26 Sep 01:00</text>
<line x1="1285.0" y1="2081.5" x2="1285.0" y2="2085.5" stroke="#fff" stroke-width="1"/>
<text x="1284.5" y="2093.9" font-family="Liberation Sans, sans-serif" font-size="9.5" fill="#f0f0f0" font-weight="normal" font-style="normal" text-anchor="start" textLength="54.2" lengthAdjust="spacingAndGlyphs" >26 Sep 01:40</text>
<line x1="1349.0" y1="2081.5" x2="1349.0" y2="2085.5" stroke="#fff" stroke-width="1"/>
<text x="1348.5" y="2093.9" font-family="Liberation Sans, sans-serif" font-size="9.5" fill="#f0f0f0" font-weight="normal" font-style="normal" text-anchor="start" textLength="54.2" lengthAdjust="spacingAndGlyphs" >26 Sep 02:20</text>
<line x1="1413.0" y1="2081.5" x2="1413.0" y2="2085.5" stroke="#fff" stroke-width="1"/>
<text x="1412.5" y="2093.9" font-family="Liberation Sans, sans-serif" font-size="9.5" fill="#f0f0f0" font-weight="normal" font-style="normal" text-anchor="start" textLength="54.2" lengthAdjust="spacingAndGlyphs" >26 Sep 03:00</text>
<line x1="1477.0" y1="2081.5" x2="1477.0" y2="2085.5" stroke="#fff" stroke-width="1"/>
<text x="1476.5" y="2093.9" font-family="Liberation Sans, sans-serif" font-size="9.5" fill="#f0f0f0" font-weight="normal" font-style="normal" text-anchor="start" textLength="54.2" lengthAdjust="spacingAndGlyphs" >26 Sep 03:40</text>
<line x1="1541.0" y1="2081.5" x2="1541.0" y2="2085.5" stroke="#fff" stroke-width="1"/>
<text x="1540.5" y="2093.9" font-family="Liberation Sans, sans-serif" font-size="9.5" fill="#f0f0f0" font-weight="normal" font-style="normal" text-anchor="start" textLength="54.2" lengthAdjust="spacingAndGlyphs" >26 Sep 04:20</text>
<line x1="1605.0" y1="2081.5" x2="1605.0" y2="2085.5" stroke="#fff" stroke-width="1"/>
<text x="1604.5" y="2093.9" font-family="Liberation Sans, sans-serif" font-size="9.5" fill="#f0f0f0" font-weight="normal" font-style="normal" text-anchor="start" textLength="54.2" lengthAdjust="spacingAndGlyphs" >26 Sep 05:00</text>
<line x1="1669.0" y1="2081.5" x2="1669.0" y2="2085.5" stroke="#fff" stroke-width="1"/>
<text x="1668.5" y="2093.9" font-family="Liberation Sans, sans-serif" font-size="9.5" fill="#f0f0f0" font-weight="normal" font-style="normal" text-anchor="start" textLength="54.2" lengthAdjust="spacingAndGlyphs" >26 Sep 05:40</text>
<line x1="1733.0" y1="2081.5" x2="1733.0" y2="2085.5" stroke="#fff" stroke-width="1"/>
<text x="1732.5" y="2093.9" font-family="Liberation Sans, sans-serif" font-size="9.5" fill="#f0f0f0" font-weight="normal" font-style="normal" text-anchor="start" textLength="54.2" lengthAdjust="spacingAndGlyphs" >26 Sep 06:20</text>
<line x1="1797.0" y1="2081.5" x2="1797.0" y2="2085.5" stroke="#fff" stroke-width="1"/>
<text x="1796.5" y="2093.9" font-family="Liberation Sans, sans-serif" font-size="9.5" fill="#f0f0f0" font-weight="normal" font-style="normal" text-anchor="start" textLength="54.2" lengthAdjust="spacingAndGlyphs" >26 Sep 07:00</text>
<line x1="1861.0" y1="2081.5" x2="1861.0" y2="2085.5" stroke="#fff" stroke-width="1"/>
<text x="1860.5" y="2093.9" font-family="Liberation Sans, sans-serif" font-size="9.5" fill="#f0f0f0" font-weight="normal" font-style="normal" text-anchor="start" textLength="54.2" lengthAdjust="spacingAndGlyphs" >26 Sep 07:40</text>
<line x1="1925.0" y1="2081.5" x2="1925.0" y2="2085.5" stroke="#fff" stroke-width="1"/>
<text x="1924.5" y="2093.9" font-family="Liberation Sans, sans-serif" font-size="9.5" fill="#f0f0f0" font-weight="normal" font-style="normal" text-anchor="start" textLength="54.2" lengthAdjust="spacingAndGlyphs" >26 Sep 08:20</text>
<line x1="1989.0" y1="2081.5" x2="1989.0" y2="2085.5" stroke="#fff" stroke-width="1"/>
<text x="1988.5" y="2093.9" font-family="Liberation Sans, sans-serif" font-size="9.5" fill="#f0f0f0" font-weight="normal" font-style="normal" text-anchor="start" textLength="54.2" lengthAdjust="spacingAndGlyphs" >26 Sep 09:00</text>
<line x1="2053.0" y1="2081.5" x2="2053.0" y2="2085.5" stroke="#fff" stroke-width="1"/>
<text x="2052.5" y="2093.9" font-family="Liberation Sans, sans-serif" font-size="9.5" fill="#f0f0f0" font-weight="normal" font-style="normal" text-anchor="start" textLength="54.2" lengthAdjust="spacingAndGlyphs" >26 Sep 09:40</text>
<line x1="2117.0" y1="2081.5" x2="2117.0" y2="2085.5" stroke="#fff" stroke-width="1"/>
<text x="2116.5" y="2093.9" font-family="Liberation Sans, sans-serif" font-size="9.5" fill="#f0f0f0" font-weight="normal" font-style="normal" text-anchor="start" textLength="54.2" lengthAdjust="spacingAndGlyphs" >26 Sep 10:20</text>
<line x1="2181.0" y1="2081.5" x2="2181.0" y2="2085.5" stroke="#fff" stroke-width="1"/>
<text x="2180.5" y="2093.9" font-family="Liberation Sans, sans-serif" font-size="9.5" fill="#f0f0f0" font-weight="normal" font-style="normal" text-anchor="start" textLength="54.2" lengthAdjust="spacingAndGlyphs" >26 Sep 11:00</text>
<line x1="2245.0" y1="2081.5" x2="2245.0" y2="2085.5" stroke="#fff" stroke-width="1"/>
<text x="2244.5" y="2093.9" font-family="Liberation Sans, sans-serif" font-size="9.5" fill="#f0f0f0" font-weight="normal" font-style="normal" text-anchor="start" textLength="54.2" lengthAdjust="spacingAndGlyphs" >26 Sep 11:40</text>
<line x1="2309.0" y1="2081.5" x2="2309.0" y2="2085.5" stroke="#fff" stroke-width="1"/>
<text x="2308.5" y="2093.9" font-family="Liberation Sans, sans-serif" font-size="9.5" fill="#f0f0f0" font-weight="normal" font-style="normal" text-anchor="start" textLength="54.2" lengthAdjust="spacingAndGlyphs" >26 Sep 12:20</text>
<line x1="2373.0" y1="2081.5" x2="2373.0" y2="2085.5" stroke="#fff" stroke-width="1"/>
<text x="2372.5" y="2093.9" font-family="Liberation Sans, sans-serif" font-size="9.5" fill="#f0f0f0" font-weight="normal" font-style="normal" text-anchor="start" textLength="54.2" lengthAdjust="spacingAndGlyphs" >26 Sep 13:00</text>
<line x1="2437.0" y1="2081.5" x2="2437.0" y2="2085.5" stroke="#fff" stroke-width="1"/>
<text x="2436.5" y="2093.9" font-family="Liberation Sans, sans-serif" font-size="9.5" fill="#f0f0f0" font-weight="normal" font-style="normal" text-anchor="start" textLength="54.2" lengthAdjust="spacingAndGlyphs" >26 Sep 13:40</text>
<line x1="2501.0" y1="2081.5" x2="2501.0" y2="2085.5" stroke="#fff" stroke-width="1"/>
<text x="2500.5" y="2093.9" font-family="Liberation Sans, sans-serif" font-size="9.5" fill="#f0f0f0" font-weight="normal" font-style="normal" text-anchor="start" textLength="54.2" lengthAdjust="spacingAndGlyphs" >26 Sep 14:20</text>
<line x1="2565.0" y1="2081.5" x2="2565.0" y2="2085.5" stroke="#fff" stroke-width="1"/>
<text x="2564.5" y="2093.9" font-family="Liberation Sans, sans-serif" font-size="9.5" fill="#f0f0f0" font-weight="normal" font-style="normal" text-anchor="start" textLength="54.2" lengthAdjust="spacingAndGlyphs" >26 Sep 15:00</text>
<line x1="2629.0" y1="2081.5" x2="2629.0" y2="2085.5" stroke="#fff" stroke-width="1"/>
<text x="2628.5" y="2093.9" font-family="Liberation Sans, sans-serif" font-size="9.5" fill="#f0f0f0" font-weight="normal" font-style="normal" text-anchor="start" textLength="54.2" lengthAdjust="spacingAndGlyphs" >26 Sep 15:40</text>
<line x1="2693.0" y1="2081.5" x2="2693.0" y2="2085.5" stroke="#fff" stroke-width="1"/>
<text x="2692.5" y="2093.9" font-family="Liberation Sans, sans-serif" font-size="9.5" fill="#f0f0f0" font-weight="normal" font-style="normal" text-anchor="start" textLength="54.2" lengthAdjust="spacingAndGlyphs" >26 Sep 16:20</text>
<line x1="2757.0" y1="2081.5" x2="2757.0" y2="2085.5" stroke="#fff" stroke-width="1"/>
<text x="2756.5" y="2093.9" font-family="Liberation Sans, sans-serif" font-size="9.5" fill="#f0f0f0" font-weight="normal" font-style="normal" text-anchor="start" textLength="54.2" lengthAdjust="spacingAndGlyphs" >26 Sep 17:00</text>
<line x1="2821.0" y1="2081.5" x2="2821.0" y2="2085.5" stroke="#fff" stroke-width="1"/>
<text x="2820.5" y="2093.9" font-family="Liberation Sans, sans-serif" font-size="9.5" fill="#f0f0f0" font-weight="normal" font-style="normal" text-anchor="start" textLength="54.2" lengthAdjust="spacingAndGlyphs" >26 Sep 17:40</text>
<line x1="2885.0" y1="2081.5" x2="2885.0" y2="2085.5" stroke="#fff" stroke-width="1"/>
<text x="2884.5" y="2093.9" font-family="Liberation Sans, sans-serif" font-size="9.5" fill="#f0f0f0" font-weight="normal" font-style="normal" text-anchor="start" textLength="54.2" lengthAdjust="spacingAndGlyphs" >26 Sep 18:20</text>
<line x1="2949.0" y1="2081.5" x2="2949.0" y2="2085.5" stroke="#fff" stroke-width="1"/>
<text x="2948.5" y="2093.9" font-family="Liberation Sans, sans-serif" font-size="9.5" fill="#f0f0f0" font-weight="normal" font-style="normal" text-anchor="start" textLength="54.2" lengthAdjust="spacingAndGlyphs" >26 Sep 19:00</text>
<line x1="3013.0" y1="2081.5" x2="3013.0" y2="2085.5" stroke="#fff" stroke-width="1"/>
<text x="3012.5" y="2093.9" font-family="Liberation Sans, sans-serif" font-size="9.5" fill="#f0f0f0" font-weight="normal" font-style="normal" text-anchor="start" textLength="54.2" lengthAdjust="spacingAndGlyphs" >26 Sep 19:40</text>
<line x1="3077.0" y1="2081.5" x2="3077.0" y2="2085.5" stroke="#fff" stroke-width="1"/>
<text x="3076.5" y="2093.9" font-family="Liberation Sans, sans-serif" font-size="9.5" fill="#f0f0f0" font-weight="normal" font-style="normal" text-anchor="start" textLength="54.2" lengthAdjust="spacingAndGlyphs" >26 Sep 20:20</text>
<line x1="3141.0" y1="2081.5" x2="3141.0" y2="2085.5" stroke="#fff" stroke-width="1"/>
<text x="3140.5" y="2093.9" font-family="Liberation Sans, sans-serif" font-size="9.5" fill="#f0f0f0" font-weight="normal" font-style="normal" text-anchor="start" textLength="54.2" lengthAdjust="spacingAndGlyphs" >26 Sep 21:00</text>
<line x1="3205.0" y1="2081.5" x2="3205.0" y2="2085.5" stroke="#fff" stroke-width="1"/>
<text x="3204.5" y="2093.9" font-family="Liberation Sans, sans-serif" font-size="9.5" fill="#f0f0f0" font-weight="normal" font-style="normal" text-anchor="start" textLength="54.2" lengthAdjust="spacingAndGlyphs" >26 Sep 21:40</text>
<line x1="3269.0" y1="2081.5" x2="3269.0" y2="2085.5" stroke="#fff" stroke-width="1"/>
<text x="3268.5" y="2093.9" font-family="Liberation Sans, sans-serif" font-size="9.5" fill="#f0f0f0" font-weight="normal" font-style="normal" text-anchor="start" textLength="54.2" lengthAdjust="spacingAndGlyphs" >26 Sep 22:20</text>
</svg>
</body></html>
